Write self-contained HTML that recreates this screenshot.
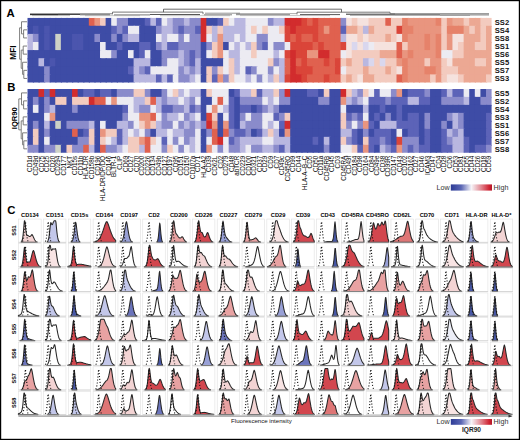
<!DOCTYPE html><html><head><meta charset="utf-8"><style>html,body{margin:0;padding:0;background:#fff;}body{width:520px;height:440px;overflow:hidden;}</style></head><body><svg width="520" height="440" viewBox="0 0 520 440" style="display:block">
<rect x="0" y="0" width="520" height="440" fill="#fff"/>
<defs><clipPath id="hc17"><rect x="27.3" y="17.7" width="464.30" height="64.80"/></clipPath></defs>
<g clip-path="url(#hc17)"><rect x="27.30" y="17.70" width="6.79" height="9.30" fill="#3e4ca6"/><rect x="32.89" y="17.70" width="6.79" height="9.30" fill="#3e4ca6"/><rect x="38.49" y="17.70" width="6.79" height="9.30" fill="#3e4ca6"/><rect x="44.08" y="17.70" width="6.79" height="9.30" fill="#3e4ca6"/><rect x="49.68" y="17.70" width="6.79" height="9.30" fill="#3e4ca6"/><rect x="55.27" y="17.70" width="6.79" height="9.30" fill="#3e4ca6"/><rect x="60.86" y="17.70" width="6.79" height="9.30" fill="#3e4ca6"/><rect x="66.46" y="17.70" width="6.79" height="9.30" fill="#3e4ca6"/><rect x="72.05" y="17.70" width="6.79" height="9.30" fill="#3e4ca6"/><rect x="77.65" y="17.70" width="6.79" height="9.30" fill="#3e4ca6"/><rect x="83.24" y="17.70" width="6.79" height="9.30" fill="#3e4ca6"/><rect x="88.83" y="17.70" width="6.79" height="9.30" fill="#e0614f"/><rect x="94.43" y="17.70" width="6.79" height="9.30" fill="#e9957f"/><rect x="100.02" y="17.70" width="6.79" height="9.30" fill="#f3cbbf"/><rect x="105.62" y="17.70" width="6.79" height="9.30" fill="#3e4ca6"/><rect x="111.21" y="17.70" width="6.79" height="9.30" fill="#ecebf2"/><rect x="116.80" y="17.70" width="6.79" height="9.30" fill="#8a8bcb"/><rect x="122.40" y="17.70" width="6.79" height="9.30" fill="#8a8bcb"/><rect x="127.99" y="17.70" width="6.79" height="9.30" fill="#3e4ca6"/><rect x="133.59" y="17.70" width="6.79" height="9.30" fill="#3e4ca6"/><rect x="139.18" y="17.70" width="6.79" height="9.30" fill="#3e4ca6"/><rect x="144.77" y="17.70" width="6.79" height="9.30" fill="#5c63b8"/><rect x="150.37" y="17.70" width="6.79" height="9.30" fill="#b9b7e0"/><rect x="155.96" y="17.70" width="6.79" height="9.30" fill="#5c63b8"/><rect x="161.56" y="17.70" width="6.79" height="9.30" fill="#ecebf2"/><rect x="167.15" y="17.70" width="6.79" height="9.30" fill="#b9b7e0"/><rect x="172.74" y="17.70" width="6.79" height="9.30" fill="#8a8bcb"/><rect x="178.34" y="17.70" width="6.79" height="9.30" fill="#8a8bcb"/><rect x="183.93" y="17.70" width="6.79" height="9.30" fill="#b9b7e0"/><rect x="189.53" y="17.70" width="6.79" height="9.30" fill="#8a8bcb"/><rect x="195.12" y="17.70" width="6.79" height="9.30" fill="#8a8bcb"/><rect x="200.71" y="17.70" width="6.79" height="9.30" fill="#d22c2d"/><rect x="206.31" y="17.70" width="6.79" height="9.30" fill="#3e4ca6"/><rect x="211.90" y="17.70" width="6.79" height="9.30" fill="#3e4ca6"/><rect x="217.50" y="17.70" width="6.79" height="9.30" fill="#5c63b8"/><rect x="223.09" y="17.70" width="6.79" height="9.30" fill="#f3cbbf"/><rect x="228.68" y="17.70" width="6.79" height="9.30" fill="#ecebf2"/><rect x="234.28" y="17.70" width="6.79" height="9.30" fill="#b9b7e0"/><rect x="239.87" y="17.70" width="6.79" height="9.30" fill="#b9b7e0"/><rect x="245.47" y="17.70" width="6.79" height="9.30" fill="#ecebf2"/><rect x="251.06" y="17.70" width="6.79" height="9.30" fill="#ecebf2"/><rect x="256.65" y="17.70" width="6.79" height="9.30" fill="#ecebf2"/><rect x="262.25" y="17.70" width="6.79" height="9.30" fill="#ecebf2"/><rect x="267.84" y="17.70" width="6.79" height="9.30" fill="#8a8bcb"/><rect x="273.44" y="17.70" width="6.79" height="9.30" fill="#b9b7e0"/><rect x="279.03" y="17.70" width="6.79" height="9.30" fill="#b9b7e0"/><rect x="284.62" y="17.70" width="6.79" height="9.30" fill="#d22c2d"/><rect x="290.22" y="17.70" width="6.79" height="9.30" fill="#d22c2d"/><rect x="295.81" y="17.70" width="6.79" height="9.30" fill="#d22c2d"/><rect x="301.41" y="17.70" width="6.79" height="9.30" fill="#da4539"/><rect x="307.00" y="17.70" width="6.79" height="9.30" fill="#e0614f"/><rect x="312.59" y="17.70" width="6.79" height="9.30" fill="#da4539"/><rect x="318.19" y="17.70" width="6.79" height="9.30" fill="#e0614f"/><rect x="323.78" y="17.70" width="6.79" height="9.30" fill="#e0614f"/><rect x="329.38" y="17.70" width="6.79" height="9.30" fill="#e0614f"/><rect x="334.97" y="17.70" width="6.79" height="9.30" fill="#e0614f"/><rect x="340.56" y="17.70" width="6.79" height="9.30" fill="#8a8bcb"/><rect x="346.16" y="17.70" width="6.79" height="9.30" fill="#f5e2de"/><rect x="351.75" y="17.70" width="6.79" height="9.30" fill="#f3cbbf"/><rect x="357.35" y="17.70" width="6.79" height="9.30" fill="#f5e2de"/><rect x="362.94" y="17.70" width="6.79" height="9.30" fill="#f5e2de"/><rect x="368.53" y="17.70" width="6.79" height="9.30" fill="#f3cbbf"/><rect x="374.13" y="17.70" width="6.79" height="9.30" fill="#f3cbbf"/><rect x="379.72" y="17.70" width="6.79" height="9.30" fill="#f3cbbf"/><rect x="385.32" y="17.70" width="6.79" height="9.30" fill="#e0614f"/><rect x="390.91" y="17.70" width="6.79" height="9.30" fill="#f3cbbf"/><rect x="396.50" y="17.70" width="6.79" height="9.30" fill="#f3cbbf"/><rect x="402.10" y="17.70" width="6.79" height="9.30" fill="#e6826a"/><rect x="407.69" y="17.70" width="6.79" height="9.30" fill="#e9957f"/><rect x="413.29" y="17.70" width="6.79" height="9.30" fill="#e9957f"/><rect x="418.88" y="17.70" width="6.79" height="9.30" fill="#e9957f"/><rect x="424.47" y="17.70" width="6.79" height="9.30" fill="#e9957f"/><rect x="430.07" y="17.70" width="6.79" height="9.30" fill="#e9957f"/><rect x="435.66" y="17.70" width="6.79" height="9.30" fill="#e6826a"/><rect x="441.26" y="17.70" width="6.79" height="9.30" fill="#f3cbbf"/><rect x="446.85" y="17.70" width="6.79" height="9.30" fill="#e9957f"/><rect x="452.44" y="17.70" width="6.79" height="9.30" fill="#eca893"/><rect x="458.04" y="17.70" width="6.79" height="9.30" fill="#eca893"/><rect x="463.63" y="17.70" width="6.79" height="9.30" fill="#f3cbbf"/><rect x="469.23" y="17.70" width="6.79" height="9.30" fill="#eca893"/><rect x="474.82" y="17.70" width="6.79" height="9.30" fill="#eca893"/><rect x="480.41" y="17.70" width="6.79" height="9.30" fill="#f3cbbf"/><rect x="486.01" y="17.70" width="6.79" height="9.30" fill="#f3cbbf"/><rect x="27.30" y="25.80" width="6.79" height="9.30" fill="#3e4ca6"/><rect x="32.89" y="25.80" width="6.79" height="9.30" fill="#4b55ae"/><rect x="38.49" y="25.80" width="6.79" height="9.30" fill="#3e4ca6"/><rect x="44.08" y="25.80" width="6.79" height="9.30" fill="#4b55ae"/><rect x="49.68" y="25.80" width="6.79" height="9.30" fill="#3e4ca6"/><rect x="55.27" y="25.80" width="6.79" height="9.30" fill="#3e4ca6"/><rect x="60.86" y="25.80" width="6.79" height="9.30" fill="#3e4ca6"/><rect x="66.46" y="25.80" width="6.79" height="9.30" fill="#3e4ca6"/><rect x="72.05" y="25.80" width="6.79" height="9.30" fill="#3e4ca6"/><rect x="77.65" y="25.80" width="6.79" height="9.30" fill="#3e4ca6"/><rect x="83.24" y="25.80" width="6.79" height="9.30" fill="#3e4ca6"/><rect x="88.83" y="25.80" width="6.79" height="9.30" fill="#3e4ca6"/><rect x="94.43" y="25.80" width="6.79" height="9.30" fill="#3e4ca6"/><rect x="100.02" y="25.80" width="6.79" height="9.30" fill="#3e4ca6"/><rect x="105.62" y="25.80" width="6.79" height="9.30" fill="#3e4ca6"/><rect x="111.21" y="25.80" width="6.79" height="9.30" fill="#5c63b8"/><rect x="116.80" y="25.80" width="6.79" height="9.30" fill="#8a8bcb"/><rect x="122.40" y="25.80" width="6.79" height="9.30" fill="#5c63b8"/><rect x="127.99" y="25.80" width="6.79" height="9.30" fill="#ecebf2"/><rect x="133.59" y="25.80" width="6.79" height="9.30" fill="#ecebf2"/><rect x="139.18" y="25.80" width="6.79" height="9.30" fill="#3e4ca6"/><rect x="144.77" y="25.80" width="6.79" height="9.30" fill="#3e4ca6"/><rect x="150.37" y="25.80" width="6.79" height="9.30" fill="#3e4ca6"/><rect x="155.96" y="25.80" width="6.79" height="9.30" fill="#8a8bcb"/><rect x="161.56" y="25.80" width="6.79" height="9.30" fill="#b9b7e0"/><rect x="167.15" y="25.80" width="6.79" height="9.30" fill="#b9b7e0"/><rect x="172.74" y="25.80" width="6.79" height="9.30" fill="#8a8bcb"/><rect x="178.34" y="25.80" width="6.79" height="9.30" fill="#5c63b8"/><rect x="183.93" y="25.80" width="6.79" height="9.30" fill="#8a8bcb"/><rect x="189.53" y="25.80" width="6.79" height="9.30" fill="#8a8bcb"/><rect x="195.12" y="25.80" width="6.79" height="9.30" fill="#5c63b8"/><rect x="200.71" y="25.80" width="6.79" height="9.30" fill="#d22c2d"/><rect x="206.31" y="25.80" width="6.79" height="9.30" fill="#f3cbbf"/><rect x="211.90" y="25.80" width="6.79" height="9.30" fill="#b9b7e0"/><rect x="217.50" y="25.80" width="6.79" height="9.30" fill="#f3cbbf"/><rect x="223.09" y="25.80" width="6.79" height="9.30" fill="#b9b7e0"/><rect x="228.68" y="25.80" width="6.79" height="9.30" fill="#b9b7e0"/><rect x="234.28" y="25.80" width="6.79" height="9.30" fill="#b9b7e0"/><rect x="239.87" y="25.80" width="6.79" height="9.30" fill="#b9b7e0"/><rect x="245.47" y="25.80" width="6.79" height="9.30" fill="#ecebf2"/><rect x="251.06" y="25.80" width="6.79" height="9.30" fill="#f3cbbf"/><rect x="256.65" y="25.80" width="6.79" height="9.30" fill="#ecebf2"/><rect x="262.25" y="25.80" width="6.79" height="9.30" fill="#f3cbbf"/><rect x="267.84" y="25.80" width="6.79" height="9.30" fill="#ecebf2"/><rect x="273.44" y="25.80" width="6.79" height="9.30" fill="#ecebf2"/><rect x="279.03" y="25.80" width="6.79" height="9.30" fill="#f3cbbf"/><rect x="284.62" y="25.80" width="6.79" height="9.30" fill="#da4539"/><rect x="290.22" y="25.80" width="6.79" height="9.30" fill="#d22c2d"/><rect x="295.81" y="25.80" width="6.79" height="9.30" fill="#da4539"/><rect x="301.41" y="25.80" width="6.79" height="9.30" fill="#da4539"/><rect x="307.00" y="25.80" width="6.79" height="9.30" fill="#da4539"/><rect x="312.59" y="25.80" width="6.79" height="9.30" fill="#da4539"/><rect x="318.19" y="25.80" width="6.79" height="9.30" fill="#e0614f"/><rect x="323.78" y="25.80" width="6.79" height="9.30" fill="#e9957f"/><rect x="329.38" y="25.80" width="6.79" height="9.30" fill="#e0614f"/><rect x="334.97" y="25.80" width="6.79" height="9.30" fill="#e0614f"/><rect x="340.56" y="25.80" width="6.79" height="9.30" fill="#5c63b8"/><rect x="346.16" y="25.80" width="6.79" height="9.30" fill="#eca893"/><rect x="351.75" y="25.80" width="6.79" height="9.30" fill="#eca893"/><rect x="357.35" y="25.80" width="6.79" height="9.30" fill="#f3cbbf"/><rect x="362.94" y="25.80" width="6.79" height="9.30" fill="#b9b7e0"/><rect x="368.53" y="25.80" width="6.79" height="9.30" fill="#eca893"/><rect x="374.13" y="25.80" width="6.79" height="9.30" fill="#f3cbbf"/><rect x="379.72" y="25.80" width="6.79" height="9.30" fill="#f3cbbf"/><rect x="385.32" y="25.80" width="6.79" height="9.30" fill="#f3cbbf"/><rect x="390.91" y="25.80" width="6.79" height="9.30" fill="#f3cbbf"/><rect x="396.50" y="25.80" width="6.79" height="9.30" fill="#da4539"/><rect x="402.10" y="25.80" width="6.79" height="9.30" fill="#e6826a"/><rect x="407.69" y="25.80" width="6.79" height="9.30" fill="#e6826a"/><rect x="413.29" y="25.80" width="6.79" height="9.30" fill="#e9957f"/><rect x="418.88" y="25.80" width="6.79" height="9.30" fill="#e9957f"/><rect x="424.47" y="25.80" width="6.79" height="9.30" fill="#e9957f"/><rect x="430.07" y="25.80" width="6.79" height="9.30" fill="#e9957f"/><rect x="435.66" y="25.80" width="6.79" height="9.30" fill="#e9957f"/><rect x="441.26" y="25.80" width="6.79" height="9.30" fill="#f3cbbf"/><rect x="446.85" y="25.80" width="6.79" height="9.30" fill="#e6826a"/><rect x="452.44" y="25.80" width="6.79" height="9.30" fill="#e6826a"/><rect x="458.04" y="25.80" width="6.79" height="9.30" fill="#e6826a"/><rect x="463.63" y="25.80" width="6.79" height="9.30" fill="#eca893"/><rect x="469.23" y="25.80" width="6.79" height="9.30" fill="#f3cbbf"/><rect x="474.82" y="25.80" width="6.79" height="9.30" fill="#eca893"/><rect x="480.41" y="25.80" width="6.79" height="9.30" fill="#f3cbbf"/><rect x="486.01" y="25.80" width="6.79" height="9.30" fill="#eca893"/><rect x="27.30" y="33.90" width="6.79" height="9.30" fill="#b9b7e0"/><rect x="32.89" y="33.90" width="6.79" height="9.30" fill="#8a8bcb"/><rect x="38.49" y="33.90" width="6.79" height="9.30" fill="#3e4ca6"/><rect x="44.08" y="33.90" width="6.79" height="9.30" fill="#4b55ae"/><rect x="49.68" y="33.90" width="6.79" height="9.30" fill="#3e4ca6"/><rect x="55.27" y="33.90" width="6.79" height="9.30" fill="#cdd2c6"/><rect x="60.86" y="33.90" width="6.79" height="9.30" fill="#3e4ca6"/><rect x="66.46" y="33.90" width="6.79" height="9.30" fill="#3e4ca6"/><rect x="72.05" y="33.90" width="6.79" height="9.30" fill="#4b55ae"/><rect x="77.65" y="33.90" width="6.79" height="9.30" fill="#4b55ae"/><rect x="83.24" y="33.90" width="6.79" height="9.30" fill="#3e4ca6"/><rect x="88.83" y="33.90" width="6.79" height="9.30" fill="#3e4ca6"/><rect x="94.43" y="33.90" width="6.79" height="9.30" fill="#8a8bcb"/><rect x="100.02" y="33.90" width="6.79" height="9.30" fill="#3e4ca6"/><rect x="105.62" y="33.90" width="6.79" height="9.30" fill="#3e4ca6"/><rect x="111.21" y="33.90" width="6.79" height="9.30" fill="#8a8bcb"/><rect x="116.80" y="33.90" width="6.79" height="9.30" fill="#3e4ca6"/><rect x="122.40" y="33.90" width="6.79" height="9.30" fill="#8a8bcb"/><rect x="127.99" y="33.90" width="6.79" height="9.30" fill="#b9b7e0"/><rect x="133.59" y="33.90" width="6.79" height="9.30" fill="#b9b7e0"/><rect x="139.18" y="33.90" width="6.79" height="9.30" fill="#3e4ca6"/><rect x="144.77" y="33.90" width="6.79" height="9.30" fill="#3e4ca6"/><rect x="150.37" y="33.90" width="6.79" height="9.30" fill="#3e4ca6"/><rect x="155.96" y="33.90" width="6.79" height="9.30" fill="#ecebf2"/><rect x="161.56" y="33.90" width="6.79" height="9.30" fill="#b9b7e0"/><rect x="167.15" y="33.90" width="6.79" height="9.30" fill="#ecebf2"/><rect x="172.74" y="33.90" width="6.79" height="9.30" fill="#ecebf2"/><rect x="178.34" y="33.90" width="6.79" height="9.30" fill="#8a8bcb"/><rect x="183.93" y="33.90" width="6.79" height="9.30" fill="#ecebf2"/><rect x="189.53" y="33.90" width="6.79" height="9.30" fill="#8a8bcb"/><rect x="195.12" y="33.90" width="6.79" height="9.30" fill="#8a8bcb"/><rect x="200.71" y="33.90" width="6.79" height="9.30" fill="#d22c2d"/><rect x="206.31" y="33.90" width="6.79" height="9.30" fill="#ecebf2"/><rect x="211.90" y="33.90" width="6.79" height="9.30" fill="#b9b7e0"/><rect x="217.50" y="33.90" width="6.79" height="9.30" fill="#e9957f"/><rect x="223.09" y="33.90" width="6.79" height="9.30" fill="#b9b7e0"/><rect x="228.68" y="33.90" width="6.79" height="9.30" fill="#b9b7e0"/><rect x="234.28" y="33.90" width="6.79" height="9.30" fill="#ecebf2"/><rect x="239.87" y="33.90" width="6.79" height="9.30" fill="#b9b7e0"/><rect x="245.47" y="33.90" width="6.79" height="9.30" fill="#ecebf2"/><rect x="251.06" y="33.90" width="6.79" height="9.30" fill="#ecebf2"/><rect x="256.65" y="33.90" width="6.79" height="9.30" fill="#8a8bcb"/><rect x="262.25" y="33.90" width="6.79" height="9.30" fill="#8a8bcb"/><rect x="267.84" y="33.90" width="6.79" height="9.30" fill="#ecebf2"/><rect x="273.44" y="33.90" width="6.79" height="9.30" fill="#ecebf2"/><rect x="279.03" y="33.90" width="6.79" height="9.30" fill="#ecebf2"/><rect x="284.62" y="33.90" width="6.79" height="9.30" fill="#da4539"/><rect x="290.22" y="33.90" width="6.79" height="9.30" fill="#e0614f"/><rect x="295.81" y="33.90" width="6.79" height="9.30" fill="#da4539"/><rect x="301.41" y="33.90" width="6.79" height="9.30" fill="#e0614f"/><rect x="307.00" y="33.90" width="6.79" height="9.30" fill="#e0614f"/><rect x="312.59" y="33.90" width="6.79" height="9.30" fill="#da4539"/><rect x="318.19" y="33.90" width="6.79" height="9.30" fill="#e0614f"/><rect x="323.78" y="33.90" width="6.79" height="9.30" fill="#e0614f"/><rect x="329.38" y="33.90" width="6.79" height="9.30" fill="#e0614f"/><rect x="334.97" y="33.90" width="6.79" height="9.30" fill="#e0614f"/><rect x="340.56" y="33.90" width="6.79" height="9.30" fill="#b9b7e0"/><rect x="346.16" y="33.90" width="6.79" height="9.30" fill="#f5e2de"/><rect x="351.75" y="33.90" width="6.79" height="9.30" fill="#f5e2de"/><rect x="357.35" y="33.90" width="6.79" height="9.30" fill="#f3cbbf"/><rect x="362.94" y="33.90" width="6.79" height="9.30" fill="#f5e2de"/><rect x="368.53" y="33.90" width="6.79" height="9.30" fill="#f3cbbf"/><rect x="374.13" y="33.90" width="6.79" height="9.30" fill="#f3cbbf"/><rect x="379.72" y="33.90" width="6.79" height="9.30" fill="#f3cbbf"/><rect x="385.32" y="33.90" width="6.79" height="9.30" fill="#eca893"/><rect x="390.91" y="33.90" width="6.79" height="9.30" fill="#f3cbbf"/><rect x="396.50" y="33.90" width="6.79" height="9.30" fill="#f5e2de"/><rect x="402.10" y="33.90" width="6.79" height="9.30" fill="#e6826a"/><rect x="407.69" y="33.90" width="6.79" height="9.30" fill="#e9957f"/><rect x="413.29" y="33.90" width="6.79" height="9.30" fill="#e9957f"/><rect x="418.88" y="33.90" width="6.79" height="9.30" fill="#e9957f"/><rect x="424.47" y="33.90" width="6.79" height="9.30" fill="#e6826a"/><rect x="430.07" y="33.90" width="6.79" height="9.30" fill="#e9957f"/><rect x="435.66" y="33.90" width="6.79" height="9.30" fill="#e6826a"/><rect x="441.26" y="33.90" width="6.79" height="9.30" fill="#f3cbbf"/><rect x="446.85" y="33.90" width="6.79" height="9.30" fill="#e9957f"/><rect x="452.44" y="33.90" width="6.79" height="9.30" fill="#f5e2de"/><rect x="458.04" y="33.90" width="6.79" height="9.30" fill="#f5e2de"/><rect x="463.63" y="33.90" width="6.79" height="9.30" fill="#eca893"/><rect x="469.23" y="33.90" width="6.79" height="9.30" fill="#eca893"/><rect x="474.82" y="33.90" width="6.79" height="9.30" fill="#eca893"/><rect x="480.41" y="33.90" width="6.79" height="9.30" fill="#f3cbbf"/><rect x="486.01" y="33.90" width="6.79" height="9.30" fill="#eca893"/><rect x="27.30" y="42.00" width="6.79" height="9.30" fill="#b9b7e0"/><rect x="32.89" y="42.00" width="6.79" height="9.30" fill="#ecebf2"/><rect x="38.49" y="42.00" width="6.79" height="9.30" fill="#3e4ca6"/><rect x="44.08" y="42.00" width="6.79" height="9.30" fill="#4b55ae"/><rect x="49.68" y="42.00" width="6.79" height="9.30" fill="#3e4ca6"/><rect x="55.27" y="42.00" width="6.79" height="9.30" fill="#cdd2c6"/><rect x="60.86" y="42.00" width="6.79" height="9.30" fill="#3e4ca6"/><rect x="66.46" y="42.00" width="6.79" height="9.30" fill="#3e4ca6"/><rect x="72.05" y="42.00" width="6.79" height="9.30" fill="#4b55ae"/><rect x="77.65" y="42.00" width="6.79" height="9.30" fill="#4b55ae"/><rect x="83.24" y="42.00" width="6.79" height="9.30" fill="#3e4ca6"/><rect x="88.83" y="42.00" width="6.79" height="9.30" fill="#3e4ca6"/><rect x="94.43" y="42.00" width="6.79" height="9.30" fill="#3e4ca6"/><rect x="100.02" y="42.00" width="6.79" height="9.30" fill="#ecebf2"/><rect x="105.62" y="42.00" width="6.79" height="9.30" fill="#3e4ca6"/><rect x="111.21" y="42.00" width="6.79" height="9.30" fill="#3e4ca6"/><rect x="116.80" y="42.00" width="6.79" height="9.30" fill="#5c63b8"/><rect x="122.40" y="42.00" width="6.79" height="9.30" fill="#3e4ca6"/><rect x="127.99" y="42.00" width="6.79" height="9.30" fill="#3e4ca6"/><rect x="133.59" y="42.00" width="6.79" height="9.30" fill="#3e4ca6"/><rect x="139.18" y="42.00" width="6.79" height="9.30" fill="#5c63b8"/><rect x="144.77" y="42.00" width="6.79" height="9.30" fill="#5c63b8"/><rect x="150.37" y="42.00" width="6.79" height="9.30" fill="#3e4ca6"/><rect x="155.96" y="42.00" width="6.79" height="9.30" fill="#8a8bcb"/><rect x="161.56" y="42.00" width="6.79" height="9.30" fill="#b9b7e0"/><rect x="167.15" y="42.00" width="6.79" height="9.30" fill="#5c63b8"/><rect x="172.74" y="42.00" width="6.79" height="9.30" fill="#5c63b8"/><rect x="178.34" y="42.00" width="6.79" height="9.30" fill="#8a8bcb"/><rect x="183.93" y="42.00" width="6.79" height="9.30" fill="#8a8bcb"/><rect x="189.53" y="42.00" width="6.79" height="9.30" fill="#8a8bcb"/><rect x="195.12" y="42.00" width="6.79" height="9.30" fill="#8a8bcb"/><rect x="200.71" y="42.00" width="6.79" height="9.30" fill="#3e4ca6"/><rect x="206.31" y="42.00" width="6.79" height="9.30" fill="#8a8bcb"/><rect x="211.90" y="42.00" width="6.79" height="9.30" fill="#f3cbbf"/><rect x="217.50" y="42.00" width="6.79" height="9.30" fill="#e9957f"/><rect x="223.09" y="42.00" width="6.79" height="9.30" fill="#3e4ca6"/><rect x="228.68" y="42.00" width="6.79" height="9.30" fill="#ecebf2"/><rect x="234.28" y="42.00" width="6.79" height="9.30" fill="#b9b7e0"/><rect x="239.87" y="42.00" width="6.79" height="9.30" fill="#ecebf2"/><rect x="245.47" y="42.00" width="6.79" height="9.30" fill="#b9b7e0"/><rect x="251.06" y="42.00" width="6.79" height="9.30" fill="#f3cbbf"/><rect x="256.65" y="42.00" width="6.79" height="9.30" fill="#8a8bcb"/><rect x="262.25" y="42.00" width="6.79" height="9.30" fill="#5c63b8"/><rect x="267.84" y="42.00" width="6.79" height="9.30" fill="#ecebf2"/><rect x="273.44" y="42.00" width="6.79" height="9.30" fill="#8a8bcb"/><rect x="279.03" y="42.00" width="6.79" height="9.30" fill="#8a8bcb"/><rect x="284.62" y="42.00" width="6.79" height="9.30" fill="#ecebf2"/><rect x="290.22" y="42.00" width="6.79" height="9.30" fill="#da4539"/><rect x="295.81" y="42.00" width="6.79" height="9.30" fill="#da4539"/><rect x="301.41" y="42.00" width="6.79" height="9.30" fill="#da4539"/><rect x="307.00" y="42.00" width="6.79" height="9.30" fill="#da4539"/><rect x="312.59" y="42.00" width="6.79" height="9.30" fill="#e0614f"/><rect x="318.19" y="42.00" width="6.79" height="9.30" fill="#da4539"/><rect x="323.78" y="42.00" width="6.79" height="9.30" fill="#e0614f"/><rect x="329.38" y="42.00" width="6.79" height="9.30" fill="#e0614f"/><rect x="334.97" y="42.00" width="6.79" height="9.30" fill="#e0614f"/><rect x="340.56" y="42.00" width="6.79" height="9.30" fill="#da4539"/><rect x="346.16" y="42.00" width="6.79" height="9.30" fill="#f5e2de"/><rect x="351.75" y="42.00" width="6.79" height="9.30" fill="#d9d7ee"/><rect x="357.35" y="42.00" width="6.79" height="9.30" fill="#f5e2de"/><rect x="362.94" y="42.00" width="6.79" height="9.30" fill="#d9d7ee"/><rect x="368.53" y="42.00" width="6.79" height="9.30" fill="#ecebf2"/><rect x="374.13" y="42.00" width="6.79" height="9.30" fill="#f5e2de"/><rect x="379.72" y="42.00" width="6.79" height="9.30" fill="#f5e2de"/><rect x="385.32" y="42.00" width="6.79" height="9.30" fill="#f5e2de"/><rect x="390.91" y="42.00" width="6.79" height="9.30" fill="#f5e2de"/><rect x="396.50" y="42.00" width="6.79" height="9.30" fill="#e0614f"/><rect x="402.10" y="42.00" width="6.79" height="9.30" fill="#f3cbbf"/><rect x="407.69" y="42.00" width="6.79" height="9.30" fill="#e9957f"/><rect x="413.29" y="42.00" width="6.79" height="9.30" fill="#e9957f"/><rect x="418.88" y="42.00" width="6.79" height="9.30" fill="#e9957f"/><rect x="424.47" y="42.00" width="6.79" height="9.30" fill="#e6826a"/><rect x="430.07" y="42.00" width="6.79" height="9.30" fill="#e9957f"/><rect x="435.66" y="42.00" width="6.79" height="9.30" fill="#e6826a"/><rect x="441.26" y="42.00" width="6.79" height="9.30" fill="#f3cbbf"/><rect x="446.85" y="42.00" width="6.79" height="9.30" fill="#e9957f"/><rect x="452.44" y="42.00" width="6.79" height="9.30" fill="#f5e2de"/><rect x="458.04" y="42.00" width="6.79" height="9.30" fill="#f3cbbf"/><rect x="463.63" y="42.00" width="6.79" height="9.30" fill="#eca893"/><rect x="469.23" y="42.00" width="6.79" height="9.30" fill="#eca893"/><rect x="474.82" y="42.00" width="6.79" height="9.30" fill="#f3cbbf"/><rect x="480.41" y="42.00" width="6.79" height="9.30" fill="#f3cbbf"/><rect x="486.01" y="42.00" width="6.79" height="9.30" fill="#eca893"/><rect x="27.30" y="50.10" width="6.79" height="9.30" fill="#3e4ca6"/><rect x="32.89" y="50.10" width="6.79" height="9.30" fill="#3e4ca6"/><rect x="38.49" y="50.10" width="6.79" height="9.30" fill="#3e4ca6"/><rect x="44.08" y="50.10" width="6.79" height="9.30" fill="#3e4ca6"/><rect x="49.68" y="50.10" width="6.79" height="9.30" fill="#3e4ca6"/><rect x="55.27" y="50.10" width="6.79" height="9.30" fill="#3e4ca6"/><rect x="60.86" y="50.10" width="6.79" height="9.30" fill="#3e4ca6"/><rect x="66.46" y="50.10" width="6.79" height="9.30" fill="#3e4ca6"/><rect x="72.05" y="50.10" width="6.79" height="9.30" fill="#3e4ca6"/><rect x="77.65" y="50.10" width="6.79" height="9.30" fill="#3e4ca6"/><rect x="83.24" y="50.10" width="6.79" height="9.30" fill="#3e4ca6"/><rect x="88.83" y="50.10" width="6.79" height="9.30" fill="#3e4ca6"/><rect x="94.43" y="50.10" width="6.79" height="9.30" fill="#3e4ca6"/><rect x="100.02" y="50.10" width="6.79" height="9.30" fill="#ecebf2"/><rect x="105.62" y="50.10" width="6.79" height="9.30" fill="#ecebf2"/><rect x="111.21" y="50.10" width="6.79" height="9.30" fill="#8a8bcb"/><rect x="116.80" y="50.10" width="6.79" height="9.30" fill="#3e4ca6"/><rect x="122.40" y="50.10" width="6.79" height="9.30" fill="#3e4ca6"/><rect x="127.99" y="50.10" width="6.79" height="9.30" fill="#ecebf2"/><rect x="133.59" y="50.10" width="6.79" height="9.30" fill="#3e4ca6"/><rect x="139.18" y="50.10" width="6.79" height="9.30" fill="#5c63b8"/><rect x="144.77" y="50.10" width="6.79" height="9.30" fill="#ecebf2"/><rect x="150.37" y="50.10" width="6.79" height="9.30" fill="#3e4ca6"/><rect x="155.96" y="50.10" width="6.79" height="9.30" fill="#3e4ca6"/><rect x="161.56" y="50.10" width="6.79" height="9.30" fill="#8a8bcb"/><rect x="167.15" y="50.10" width="6.79" height="9.30" fill="#8a8bcb"/><rect x="172.74" y="50.10" width="6.79" height="9.30" fill="#8a8bcb"/><rect x="178.34" y="50.10" width="6.79" height="9.30" fill="#b9b7e0"/><rect x="183.93" y="50.10" width="6.79" height="9.30" fill="#8a8bcb"/><rect x="189.53" y="50.10" width="6.79" height="9.30" fill="#5c63b8"/><rect x="195.12" y="50.10" width="6.79" height="9.30" fill="#8a8bcb"/><rect x="200.71" y="50.10" width="6.79" height="9.30" fill="#3e4ca6"/><rect x="206.31" y="50.10" width="6.79" height="9.30" fill="#ecebf2"/><rect x="211.90" y="50.10" width="6.79" height="9.30" fill="#f3cbbf"/><rect x="217.50" y="50.10" width="6.79" height="9.30" fill="#e9957f"/><rect x="223.09" y="50.10" width="6.79" height="9.30" fill="#ecebf2"/><rect x="228.68" y="50.10" width="6.79" height="9.30" fill="#b9b7e0"/><rect x="234.28" y="50.10" width="6.79" height="9.30" fill="#b9b7e0"/><rect x="239.87" y="50.10" width="6.79" height="9.30" fill="#ecebf2"/><rect x="245.47" y="50.10" width="6.79" height="9.30" fill="#ecebf2"/><rect x="251.06" y="50.10" width="6.79" height="9.30" fill="#f3cbbf"/><rect x="256.65" y="50.10" width="6.79" height="9.30" fill="#ecebf2"/><rect x="262.25" y="50.10" width="6.79" height="9.30" fill="#ecebf2"/><rect x="267.84" y="50.10" width="6.79" height="9.30" fill="#ecebf2"/><rect x="273.44" y="50.10" width="6.79" height="9.30" fill="#b9b7e0"/><rect x="279.03" y="50.10" width="6.79" height="9.30" fill="#ecebf2"/><rect x="284.62" y="50.10" width="6.79" height="9.30" fill="#da4539"/><rect x="290.22" y="50.10" width="6.79" height="9.30" fill="#d22c2d"/><rect x="295.81" y="50.10" width="6.79" height="9.30" fill="#da4539"/><rect x="301.41" y="50.10" width="6.79" height="9.30" fill="#da4539"/><rect x="307.00" y="50.10" width="6.79" height="9.30" fill="#e9957f"/><rect x="312.59" y="50.10" width="6.79" height="9.30" fill="#e9957f"/><rect x="318.19" y="50.10" width="6.79" height="9.30" fill="#d22c2d"/><rect x="323.78" y="50.10" width="6.79" height="9.30" fill="#d22c2d"/><rect x="329.38" y="50.10" width="6.79" height="9.30" fill="#e0614f"/><rect x="334.97" y="50.10" width="6.79" height="9.30" fill="#e0614f"/><rect x="340.56" y="50.10" width="6.79" height="9.30" fill="#ecebf2"/><rect x="346.16" y="50.10" width="6.79" height="9.30" fill="#f5e2de"/><rect x="351.75" y="50.10" width="6.79" height="9.30" fill="#f3cbbf"/><rect x="357.35" y="50.10" width="6.79" height="9.30" fill="#f3cbbf"/><rect x="362.94" y="50.10" width="6.79" height="9.30" fill="#f3cbbf"/><rect x="368.53" y="50.10" width="6.79" height="9.30" fill="#f3cbbf"/><rect x="374.13" y="50.10" width="6.79" height="9.30" fill="#f3cbbf"/><rect x="379.72" y="50.10" width="6.79" height="9.30" fill="#eca893"/><rect x="385.32" y="50.10" width="6.79" height="9.30" fill="#eca893"/><rect x="390.91" y="50.10" width="6.79" height="9.30" fill="#eca893"/><rect x="396.50" y="50.10" width="6.79" height="9.30" fill="#e0614f"/><rect x="402.10" y="50.10" width="6.79" height="9.30" fill="#e9957f"/><rect x="407.69" y="50.10" width="6.79" height="9.30" fill="#e6826a"/><rect x="413.29" y="50.10" width="6.79" height="9.30" fill="#e9957f"/><rect x="418.88" y="50.10" width="6.79" height="9.30" fill="#e9957f"/><rect x="424.47" y="50.10" width="6.79" height="9.30" fill="#e9957f"/><rect x="430.07" y="50.10" width="6.79" height="9.30" fill="#e9957f"/><rect x="435.66" y="50.10" width="6.79" height="9.30" fill="#e6826a"/><rect x="441.26" y="50.10" width="6.79" height="9.30" fill="#ecebf2"/><rect x="446.85" y="50.10" width="6.79" height="9.30" fill="#ecebf2"/><rect x="452.44" y="50.10" width="6.79" height="9.30" fill="#f3cbbf"/><rect x="458.04" y="50.10" width="6.79" height="9.30" fill="#f3cbbf"/><rect x="463.63" y="50.10" width="6.79" height="9.30" fill="#eca893"/><rect x="469.23" y="50.10" width="6.79" height="9.30" fill="#eca893"/><rect x="474.82" y="50.10" width="6.79" height="9.30" fill="#eca893"/><rect x="480.41" y="50.10" width="6.79" height="9.30" fill="#eca893"/><rect x="486.01" y="50.10" width="6.79" height="9.30" fill="#eca893"/><rect x="27.30" y="58.20" width="6.79" height="9.30" fill="#3e4ca6"/><rect x="32.89" y="58.20" width="6.79" height="9.30" fill="#3e4ca6"/><rect x="38.49" y="58.20" width="6.79" height="9.30" fill="#b9b7e0"/><rect x="44.08" y="58.20" width="6.79" height="9.30" fill="#3e4ca6"/><rect x="49.68" y="58.20" width="6.79" height="9.30" fill="#4b55ae"/><rect x="55.27" y="58.20" width="6.79" height="9.30" fill="#3e4ca6"/><rect x="60.86" y="58.20" width="6.79" height="9.30" fill="#3e4ca6"/><rect x="66.46" y="58.20" width="6.79" height="9.30" fill="#3e4ca6"/><rect x="72.05" y="58.20" width="6.79" height="9.30" fill="#3e4ca6"/><rect x="77.65" y="58.20" width="6.79" height="9.30" fill="#3e4ca6"/><rect x="83.24" y="58.20" width="6.79" height="9.30" fill="#3e4ca6"/><rect x="88.83" y="58.20" width="6.79" height="9.30" fill="#3e4ca6"/><rect x="94.43" y="58.20" width="6.79" height="9.30" fill="#3e4ca6"/><rect x="100.02" y="58.20" width="6.79" height="9.30" fill="#3e4ca6"/><rect x="105.62" y="58.20" width="6.79" height="9.30" fill="#3e4ca6"/><rect x="111.21" y="58.20" width="6.79" height="9.30" fill="#3e4ca6"/><rect x="116.80" y="58.20" width="6.79" height="9.30" fill="#3e4ca6"/><rect x="122.40" y="58.20" width="6.79" height="9.30" fill="#3e4ca6"/><rect x="127.99" y="58.20" width="6.79" height="9.30" fill="#3e4ca6"/><rect x="133.59" y="58.20" width="6.79" height="9.30" fill="#b9b7e0"/><rect x="139.18" y="58.20" width="6.79" height="9.30" fill="#b9b7e0"/><rect x="144.77" y="58.20" width="6.79" height="9.30" fill="#b9b7e0"/><rect x="150.37" y="58.20" width="6.79" height="9.30" fill="#3e4ca6"/><rect x="155.96" y="58.20" width="6.79" height="9.30" fill="#3e4ca6"/><rect x="161.56" y="58.20" width="6.79" height="9.30" fill="#8a8bcb"/><rect x="167.15" y="58.20" width="6.79" height="9.30" fill="#ecebf2"/><rect x="172.74" y="58.20" width="6.79" height="9.30" fill="#ecebf2"/><rect x="178.34" y="58.20" width="6.79" height="9.30" fill="#b9b7e0"/><rect x="183.93" y="58.20" width="6.79" height="9.30" fill="#8a8bcb"/><rect x="189.53" y="58.20" width="6.79" height="9.30" fill="#5c63b8"/><rect x="195.12" y="58.20" width="6.79" height="9.30" fill="#b9b7e0"/><rect x="200.71" y="58.20" width="6.79" height="9.30" fill="#3e4ca6"/><rect x="206.31" y="58.20" width="6.79" height="9.30" fill="#3e4ca6"/><rect x="211.90" y="58.20" width="6.79" height="9.30" fill="#3e4ca6"/><rect x="217.50" y="58.20" width="6.79" height="9.30" fill="#3e4ca6"/><rect x="223.09" y="58.20" width="6.79" height="9.30" fill="#ecebf2"/><rect x="228.68" y="58.20" width="6.79" height="9.30" fill="#f3cbbf"/><rect x="234.28" y="58.20" width="6.79" height="9.30" fill="#b9b7e0"/><rect x="239.87" y="58.20" width="6.79" height="9.30" fill="#ecebf2"/><rect x="245.47" y="58.20" width="6.79" height="9.30" fill="#ecebf2"/><rect x="251.06" y="58.20" width="6.79" height="9.30" fill="#ecebf2"/><rect x="256.65" y="58.20" width="6.79" height="9.30" fill="#ecebf2"/><rect x="262.25" y="58.20" width="6.79" height="9.30" fill="#ecebf2"/><rect x="267.84" y="58.20" width="6.79" height="9.30" fill="#f3cbbf"/><rect x="273.44" y="58.20" width="6.79" height="9.30" fill="#8a8bcb"/><rect x="279.03" y="58.20" width="6.79" height="9.30" fill="#b9b7e0"/><rect x="284.62" y="58.20" width="6.79" height="9.30" fill="#e0614f"/><rect x="290.22" y="58.20" width="6.79" height="9.30" fill="#d22c2d"/><rect x="295.81" y="58.20" width="6.79" height="9.30" fill="#e0614f"/><rect x="301.41" y="58.20" width="6.79" height="9.30" fill="#da4539"/><rect x="307.00" y="58.20" width="6.79" height="9.30" fill="#e0614f"/><rect x="312.59" y="58.20" width="6.79" height="9.30" fill="#e0614f"/><rect x="318.19" y="58.20" width="6.79" height="9.30" fill="#e0614f"/><rect x="323.78" y="58.20" width="6.79" height="9.30" fill="#da4539"/><rect x="329.38" y="58.20" width="6.79" height="9.30" fill="#e0614f"/><rect x="334.97" y="58.20" width="6.79" height="9.30" fill="#da4539"/><rect x="340.56" y="58.20" width="6.79" height="9.30" fill="#f3cbbf"/><rect x="346.16" y="58.20" width="6.79" height="9.30" fill="#eca893"/><rect x="351.75" y="58.20" width="6.79" height="9.30" fill="#f3cbbf"/><rect x="357.35" y="58.20" width="6.79" height="9.30" fill="#f3cbbf"/><rect x="362.94" y="58.20" width="6.79" height="9.30" fill="#b9b7e0"/><rect x="368.53" y="58.20" width="6.79" height="9.30" fill="#d9d7ee"/><rect x="374.13" y="58.20" width="6.79" height="9.30" fill="#f3cbbf"/><rect x="379.72" y="58.20" width="6.79" height="9.30" fill="#d9d7ee"/><rect x="385.32" y="58.20" width="6.79" height="9.30" fill="#f3cbbf"/><rect x="390.91" y="58.20" width="6.79" height="9.30" fill="#f3cbbf"/><rect x="396.50" y="58.20" width="6.79" height="9.30" fill="#e9957f"/><rect x="402.10" y="58.20" width="6.79" height="9.30" fill="#e6826a"/><rect x="407.69" y="58.20" width="6.79" height="9.30" fill="#e9957f"/><rect x="413.29" y="58.20" width="6.79" height="9.30" fill="#e9957f"/><rect x="418.88" y="58.20" width="6.79" height="9.30" fill="#e9957f"/><rect x="424.47" y="58.20" width="6.79" height="9.30" fill="#f3cbbf"/><rect x="430.07" y="58.20" width="6.79" height="9.30" fill="#e9957f"/><rect x="435.66" y="58.20" width="6.79" height="9.30" fill="#e9957f"/><rect x="441.26" y="58.20" width="6.79" height="9.30" fill="#f3cbbf"/><rect x="446.85" y="58.20" width="6.79" height="9.30" fill="#f5e2de"/><rect x="452.44" y="58.20" width="6.79" height="9.30" fill="#eca893"/><rect x="458.04" y="58.20" width="6.79" height="9.30" fill="#eca893"/><rect x="463.63" y="58.20" width="6.79" height="9.30" fill="#eca893"/><rect x="469.23" y="58.20" width="6.79" height="9.30" fill="#eca893"/><rect x="474.82" y="58.20" width="6.79" height="9.30" fill="#f3cbbf"/><rect x="480.41" y="58.20" width="6.79" height="9.30" fill="#f3cbbf"/><rect x="486.01" y="58.20" width="6.79" height="9.30" fill="#eca893"/><rect x="27.30" y="66.30" width="6.79" height="9.30" fill="#3e4ca6"/><rect x="32.89" y="66.30" width="6.79" height="9.30" fill="#3e4ca6"/><rect x="38.49" y="66.30" width="6.79" height="9.30" fill="#3e4ca6"/><rect x="44.08" y="66.30" width="6.79" height="9.30" fill="#8a8bcb"/><rect x="49.68" y="66.30" width="6.79" height="9.30" fill="#3e4ca6"/><rect x="55.27" y="66.30" width="6.79" height="9.30" fill="#3e4ca6"/><rect x="60.86" y="66.30" width="6.79" height="9.30" fill="#3e4ca6"/><rect x="66.46" y="66.30" width="6.79" height="9.30" fill="#3e4ca6"/><rect x="72.05" y="66.30" width="6.79" height="9.30" fill="#3e4ca6"/><rect x="77.65" y="66.30" width="6.79" height="9.30" fill="#3e4ca6"/><rect x="83.24" y="66.30" width="6.79" height="9.30" fill="#3e4ca6"/><rect x="88.83" y="66.30" width="6.79" height="9.30" fill="#3e4ca6"/><rect x="94.43" y="66.30" width="6.79" height="9.30" fill="#3e4ca6"/><rect x="100.02" y="66.30" width="6.79" height="9.30" fill="#3e4ca6"/><rect x="105.62" y="66.30" width="6.79" height="9.30" fill="#3e4ca6"/><rect x="111.21" y="66.30" width="6.79" height="9.30" fill="#3e4ca6"/><rect x="116.80" y="66.30" width="6.79" height="9.30" fill="#3e4ca6"/><rect x="122.40" y="66.30" width="6.79" height="9.30" fill="#3e4ca6"/><rect x="127.99" y="66.30" width="6.79" height="9.30" fill="#5c63b8"/><rect x="133.59" y="66.30" width="6.79" height="9.30" fill="#b9b7e0"/><rect x="139.18" y="66.30" width="6.79" height="9.30" fill="#8a8bcb"/><rect x="144.77" y="66.30" width="6.79" height="9.30" fill="#5c63b8"/><rect x="150.37" y="66.30" width="6.79" height="9.30" fill="#ecebf2"/><rect x="155.96" y="66.30" width="6.79" height="9.30" fill="#ecebf2"/><rect x="161.56" y="66.30" width="6.79" height="9.30" fill="#ecebf2"/><rect x="167.15" y="66.30" width="6.79" height="9.30" fill="#ecebf2"/><rect x="172.74" y="66.30" width="6.79" height="9.30" fill="#ecebf2"/><rect x="178.34" y="66.30" width="6.79" height="9.30" fill="#8a8bcb"/><rect x="183.93" y="66.30" width="6.79" height="9.30" fill="#b9b7e0"/><rect x="189.53" y="66.30" width="6.79" height="9.30" fill="#8a8bcb"/><rect x="195.12" y="66.30" width="6.79" height="9.30" fill="#b9b7e0"/><rect x="200.71" y="66.30" width="6.79" height="9.30" fill="#3e4ca6"/><rect x="206.31" y="66.30" width="6.79" height="9.30" fill="#f3cbbf"/><rect x="211.90" y="66.30" width="6.79" height="9.30" fill="#8a8bcb"/><rect x="217.50" y="66.30" width="6.79" height="9.30" fill="#f3cbbf"/><rect x="223.09" y="66.30" width="6.79" height="9.30" fill="#ecebf2"/><rect x="228.68" y="66.30" width="6.79" height="9.30" fill="#f3cbbf"/><rect x="234.28" y="66.30" width="6.79" height="9.30" fill="#b9b7e0"/><rect x="239.87" y="66.30" width="6.79" height="9.30" fill="#ecebf2"/><rect x="245.47" y="66.30" width="6.79" height="9.30" fill="#5c63b8"/><rect x="251.06" y="66.30" width="6.79" height="9.30" fill="#8a8bcb"/><rect x="256.65" y="66.30" width="6.79" height="9.30" fill="#ecebf2"/><rect x="262.25" y="66.30" width="6.79" height="9.30" fill="#ecebf2"/><rect x="267.84" y="66.30" width="6.79" height="9.30" fill="#8a8bcb"/><rect x="273.44" y="66.30" width="6.79" height="9.30" fill="#ecebf2"/><rect x="279.03" y="66.30" width="6.79" height="9.30" fill="#b9b7e0"/><rect x="284.62" y="66.30" width="6.79" height="9.30" fill="#e0614f"/><rect x="290.22" y="66.30" width="6.79" height="9.30" fill="#d22c2d"/><rect x="295.81" y="66.30" width="6.79" height="9.30" fill="#da4539"/><rect x="301.41" y="66.30" width="6.79" height="9.30" fill="#da4539"/><rect x="307.00" y="66.30" width="6.79" height="9.30" fill="#da4539"/><rect x="312.59" y="66.30" width="6.79" height="9.30" fill="#e0614f"/><rect x="318.19" y="66.30" width="6.79" height="9.30" fill="#e0614f"/><rect x="323.78" y="66.30" width="6.79" height="9.30" fill="#e0614f"/><rect x="329.38" y="66.30" width="6.79" height="9.30" fill="#e0614f"/><rect x="334.97" y="66.30" width="6.79" height="9.30" fill="#da4539"/><rect x="340.56" y="66.30" width="6.79" height="9.30" fill="#ecebf2"/><rect x="346.16" y="66.30" width="6.79" height="9.30" fill="#f3cbbf"/><rect x="351.75" y="66.30" width="6.79" height="9.30" fill="#f3cbbf"/><rect x="357.35" y="66.30" width="6.79" height="9.30" fill="#f3cbbf"/><rect x="362.94" y="66.30" width="6.79" height="9.30" fill="#eca893"/><rect x="368.53" y="66.30" width="6.79" height="9.30" fill="#f3cbbf"/><rect x="374.13" y="66.30" width="6.79" height="9.30" fill="#f3cbbf"/><rect x="379.72" y="66.30" width="6.79" height="9.30" fill="#f3cbbf"/><rect x="385.32" y="66.30" width="6.79" height="9.30" fill="#eca893"/><rect x="390.91" y="66.30" width="6.79" height="9.30" fill="#f3cbbf"/><rect x="396.50" y="66.30" width="6.79" height="9.30" fill="#f5e2de"/><rect x="402.10" y="66.30" width="6.79" height="9.30" fill="#e6826a"/><rect x="407.69" y="66.30" width="6.79" height="9.30" fill="#e9957f"/><rect x="413.29" y="66.30" width="6.79" height="9.30" fill="#e9957f"/><rect x="418.88" y="66.30" width="6.79" height="9.30" fill="#e9957f"/><rect x="424.47" y="66.30" width="6.79" height="9.30" fill="#e6826a"/><rect x="430.07" y="66.30" width="6.79" height="9.30" fill="#e6826a"/><rect x="435.66" y="66.30" width="6.79" height="9.30" fill="#e9957f"/><rect x="441.26" y="66.30" width="6.79" height="9.30" fill="#f3cbbf"/><rect x="446.85" y="66.30" width="6.79" height="9.30" fill="#f3cbbf"/><rect x="452.44" y="66.30" width="6.79" height="9.30" fill="#f3cbbf"/><rect x="458.04" y="66.30" width="6.79" height="9.30" fill="#eca893"/><rect x="463.63" y="66.30" width="6.79" height="9.30" fill="#eca893"/><rect x="469.23" y="66.30" width="6.79" height="9.30" fill="#eca893"/><rect x="474.82" y="66.30" width="6.79" height="9.30" fill="#eca893"/><rect x="480.41" y="66.30" width="6.79" height="9.30" fill="#eca893"/><rect x="486.01" y="66.30" width="6.79" height="9.30" fill="#eca893"/><rect x="27.30" y="74.40" width="6.79" height="9.30" fill="#3e4ca6"/><rect x="32.89" y="74.40" width="6.79" height="9.30" fill="#3e4ca6"/><rect x="38.49" y="74.40" width="6.79" height="9.30" fill="#3e4ca6"/><rect x="44.08" y="74.40" width="6.79" height="9.30" fill="#8a8bcb"/><rect x="49.68" y="74.40" width="6.79" height="9.30" fill="#3e4ca6"/><rect x="55.27" y="74.40" width="6.79" height="9.30" fill="#3e4ca6"/><rect x="60.86" y="74.40" width="6.79" height="9.30" fill="#3e4ca6"/><rect x="66.46" y="74.40" width="6.79" height="9.30" fill="#3e4ca6"/><rect x="72.05" y="74.40" width="6.79" height="9.30" fill="#3e4ca6"/><rect x="77.65" y="74.40" width="6.79" height="9.30" fill="#3e4ca6"/><rect x="83.24" y="74.40" width="6.79" height="9.30" fill="#3e4ca6"/><rect x="88.83" y="74.40" width="6.79" height="9.30" fill="#3e4ca6"/><rect x="94.43" y="74.40" width="6.79" height="9.30" fill="#3e4ca6"/><rect x="100.02" y="74.40" width="6.79" height="9.30" fill="#3e4ca6"/><rect x="105.62" y="74.40" width="6.79" height="9.30" fill="#3e4ca6"/><rect x="111.21" y="74.40" width="6.79" height="9.30" fill="#3e4ca6"/><rect x="116.80" y="74.40" width="6.79" height="9.30" fill="#3e4ca6"/><rect x="122.40" y="74.40" width="6.79" height="9.30" fill="#3e4ca6"/><rect x="127.99" y="74.40" width="6.79" height="9.30" fill="#3e4ca6"/><rect x="133.59" y="74.40" width="6.79" height="9.30" fill="#b9b7e0"/><rect x="139.18" y="74.40" width="6.79" height="9.30" fill="#b9b7e0"/><rect x="144.77" y="74.40" width="6.79" height="9.30" fill="#b9b7e0"/><rect x="150.37" y="74.40" width="6.79" height="9.30" fill="#b9b7e0"/><rect x="155.96" y="74.40" width="6.79" height="9.30" fill="#5c63b8"/><rect x="161.56" y="74.40" width="6.79" height="9.30" fill="#b9b7e0"/><rect x="167.15" y="74.40" width="6.79" height="9.30" fill="#5c63b8"/><rect x="172.74" y="74.40" width="6.79" height="9.30" fill="#ecebf2"/><rect x="178.34" y="74.40" width="6.79" height="9.30" fill="#8a8bcb"/><rect x="183.93" y="74.40" width="6.79" height="9.30" fill="#8a8bcb"/><rect x="189.53" y="74.40" width="6.79" height="9.30" fill="#b9b7e0"/><rect x="195.12" y="74.40" width="6.79" height="9.30" fill="#ecebf2"/><rect x="200.71" y="74.40" width="6.79" height="9.30" fill="#3e4ca6"/><rect x="206.31" y="74.40" width="6.79" height="9.30" fill="#f3cbbf"/><rect x="211.90" y="74.40" width="6.79" height="9.30" fill="#5c63b8"/><rect x="217.50" y="74.40" width="6.79" height="9.30" fill="#e9957f"/><rect x="223.09" y="74.40" width="6.79" height="9.30" fill="#8a8bcb"/><rect x="228.68" y="74.40" width="6.79" height="9.30" fill="#f3cbbf"/><rect x="234.28" y="74.40" width="6.79" height="9.30" fill="#ecebf2"/><rect x="239.87" y="74.40" width="6.79" height="9.30" fill="#ecebf2"/><rect x="245.47" y="74.40" width="6.79" height="9.30" fill="#b9b7e0"/><rect x="251.06" y="74.40" width="6.79" height="9.30" fill="#ecebf2"/><rect x="256.65" y="74.40" width="6.79" height="9.30" fill="#8a8bcb"/><rect x="262.25" y="74.40" width="6.79" height="9.30" fill="#ecebf2"/><rect x="267.84" y="74.40" width="6.79" height="9.30" fill="#b9b7e0"/><rect x="273.44" y="74.40" width="6.79" height="9.30" fill="#f3cbbf"/><rect x="279.03" y="74.40" width="6.79" height="9.30" fill="#b9b7e0"/><rect x="284.62" y="74.40" width="6.79" height="9.30" fill="#da4539"/><rect x="290.22" y="74.40" width="6.79" height="9.30" fill="#d22c2d"/><rect x="295.81" y="74.40" width="6.79" height="9.30" fill="#d22c2d"/><rect x="301.41" y="74.40" width="6.79" height="9.30" fill="#da4539"/><rect x="307.00" y="74.40" width="6.79" height="9.30" fill="#e0614f"/><rect x="312.59" y="74.40" width="6.79" height="9.30" fill="#e0614f"/><rect x="318.19" y="74.40" width="6.79" height="9.30" fill="#e0614f"/><rect x="323.78" y="74.40" width="6.79" height="9.30" fill="#da4539"/><rect x="329.38" y="74.40" width="6.79" height="9.30" fill="#e0614f"/><rect x="334.97" y="74.40" width="6.79" height="9.30" fill="#e0614f"/><rect x="340.56" y="74.40" width="6.79" height="9.30" fill="#f3cbbf"/><rect x="346.16" y="74.40" width="6.79" height="9.30" fill="#eca893"/><rect x="351.75" y="74.40" width="6.79" height="9.30" fill="#f3cbbf"/><rect x="357.35" y="74.40" width="6.79" height="9.30" fill="#f5e2de"/><rect x="362.94" y="74.40" width="6.79" height="9.30" fill="#eca893"/><rect x="368.53" y="74.40" width="6.79" height="9.30" fill="#eca893"/><rect x="374.13" y="74.40" width="6.79" height="9.30" fill="#f3cbbf"/><rect x="379.72" y="74.40" width="6.79" height="9.30" fill="#f3cbbf"/><rect x="385.32" y="74.40" width="6.79" height="9.30" fill="#f3cbbf"/><rect x="390.91" y="74.40" width="6.79" height="9.30" fill="#f3cbbf"/><rect x="396.50" y="74.40" width="6.79" height="9.30" fill="#e0614f"/><rect x="402.10" y="74.40" width="6.79" height="9.30" fill="#e6826a"/><rect x="407.69" y="74.40" width="6.79" height="9.30" fill="#e9957f"/><rect x="413.29" y="74.40" width="6.79" height="9.30" fill="#e9957f"/><rect x="418.88" y="74.40" width="6.79" height="9.30" fill="#e9957f"/><rect x="424.47" y="74.40" width="6.79" height="9.30" fill="#e9957f"/><rect x="430.07" y="74.40" width="6.79" height="9.30" fill="#f3cbbf"/><rect x="435.66" y="74.40" width="6.79" height="9.30" fill="#e9957f"/><rect x="441.26" y="74.40" width="6.79" height="9.30" fill="#f3cbbf"/><rect x="446.85" y="74.40" width="6.79" height="9.30" fill="#f5e2de"/><rect x="452.44" y="74.40" width="6.79" height="9.30" fill="#f5e2de"/><rect x="458.04" y="74.40" width="6.79" height="9.30" fill="#f3cbbf"/><rect x="463.63" y="74.40" width="6.79" height="9.30" fill="#eca893"/><rect x="469.23" y="74.40" width="6.79" height="9.30" fill="#eca893"/><rect x="474.82" y="74.40" width="6.79" height="9.30" fill="#eca893"/><rect x="480.41" y="74.40" width="6.79" height="9.30" fill="#eca893"/><rect x="486.01" y="74.40" width="6.79" height="9.30" fill="#f3cbbf"/></g>
<defs><clipPath id="hc88"><rect x="27.3" y="88.9" width="464.30" height="63.92"/></clipPath></defs>
<g clip-path="url(#hc88)"><rect x="27.30" y="88.90" width="6.79" height="9.19" fill="#3e4ca6"/><rect x="32.89" y="88.90" width="6.79" height="9.19" fill="#3e4ca6"/><rect x="38.49" y="88.90" width="6.79" height="9.19" fill="#d22c2d"/><rect x="44.08" y="88.90" width="6.79" height="9.19" fill="#5c63b8"/><rect x="49.68" y="88.90" width="6.79" height="9.19" fill="#d22c2d"/><rect x="55.27" y="88.90" width="6.79" height="9.19" fill="#3e4ca6"/><rect x="60.86" y="88.90" width="6.79" height="9.19" fill="#3e4ca6"/><rect x="66.46" y="88.90" width="6.79" height="9.19" fill="#3e4ca6"/><rect x="72.05" y="88.90" width="6.79" height="9.19" fill="#d22c2d"/><rect x="77.65" y="88.90" width="6.79" height="9.19" fill="#3e4ca6"/><rect x="83.24" y="88.90" width="6.79" height="9.19" fill="#5c63b8"/><rect x="88.83" y="88.90" width="6.79" height="9.19" fill="#5c63b8"/><rect x="94.43" y="88.90" width="6.79" height="9.19" fill="#3e4ca6"/><rect x="100.02" y="88.90" width="6.79" height="9.19" fill="#5c63b8"/><rect x="105.62" y="88.90" width="6.79" height="9.19" fill="#5c63b8"/><rect x="111.21" y="88.90" width="6.79" height="9.19" fill="#3e4ca6"/><rect x="116.80" y="88.90" width="6.79" height="9.19" fill="#8a8bcb"/><rect x="122.40" y="88.90" width="6.79" height="9.19" fill="#8a8bcb"/><rect x="127.99" y="88.90" width="6.79" height="9.19" fill="#8a8bcb"/><rect x="133.59" y="88.90" width="6.79" height="9.19" fill="#f3cbbf"/><rect x="139.18" y="88.90" width="6.79" height="9.19" fill="#f3cbbf"/><rect x="144.77" y="88.90" width="6.79" height="9.19" fill="#8a8bcb"/><rect x="150.37" y="88.90" width="6.79" height="9.19" fill="#3e4ca6"/><rect x="155.96" y="88.90" width="6.79" height="9.19" fill="#3e4ca6"/><rect x="161.56" y="88.90" width="6.79" height="9.19" fill="#8a8bcb"/><rect x="167.15" y="88.90" width="6.79" height="9.19" fill="#ecebf2"/><rect x="172.74" y="88.90" width="6.79" height="9.19" fill="#f3cbbf"/><rect x="178.34" y="88.90" width="6.79" height="9.19" fill="#b9b7e0"/><rect x="183.93" y="88.90" width="6.79" height="9.19" fill="#ecebf2"/><rect x="189.53" y="88.90" width="6.79" height="9.19" fill="#b9b7e0"/><rect x="195.12" y="88.90" width="6.79" height="9.19" fill="#b9b7e0"/><rect x="200.71" y="88.90" width="6.79" height="9.19" fill="#3e4ca6"/><rect x="206.31" y="88.90" width="6.79" height="9.19" fill="#f3cbbf"/><rect x="211.90" y="88.90" width="6.79" height="9.19" fill="#ecebf2"/><rect x="217.50" y="88.90" width="6.79" height="9.19" fill="#ecebf2"/><rect x="223.09" y="88.90" width="6.79" height="9.19" fill="#ecebf2"/><rect x="228.68" y="88.90" width="6.79" height="9.19" fill="#3e4ca6"/><rect x="234.28" y="88.90" width="6.79" height="9.19" fill="#5c63b8"/><rect x="239.87" y="88.90" width="6.79" height="9.19" fill="#b9b7e0"/><rect x="245.47" y="88.90" width="6.79" height="9.19" fill="#b9b7e0"/><rect x="251.06" y="88.90" width="6.79" height="9.19" fill="#f3cbbf"/><rect x="256.65" y="88.90" width="6.79" height="9.19" fill="#5c63b8"/><rect x="262.25" y="88.90" width="6.79" height="9.19" fill="#b9b7e0"/><rect x="267.84" y="88.90" width="6.79" height="9.19" fill="#b9b7e0"/><rect x="273.44" y="88.90" width="6.79" height="9.19" fill="#f3cbbf"/><rect x="279.03" y="88.90" width="6.79" height="9.19" fill="#8a8bcb"/><rect x="284.62" y="88.90" width="6.79" height="9.19" fill="#d22c2d"/><rect x="290.22" y="88.90" width="6.79" height="9.19" fill="#3e4ca6"/><rect x="295.81" y="88.90" width="6.79" height="9.19" fill="#3e4ca6"/><rect x="301.41" y="88.90" width="6.79" height="9.19" fill="#3e4ca6"/><rect x="307.00" y="88.90" width="6.79" height="9.19" fill="#5c63b8"/><rect x="312.59" y="88.90" width="6.79" height="9.19" fill="#5c63b8"/><rect x="318.19" y="88.90" width="6.79" height="9.19" fill="#3e4ca6"/><rect x="323.78" y="88.90" width="6.79" height="9.19" fill="#f3cbbf"/><rect x="329.38" y="88.90" width="6.79" height="9.19" fill="#3e4ca6"/><rect x="334.97" y="88.90" width="6.79" height="9.19" fill="#3e4ca6"/><rect x="340.56" y="88.90" width="6.79" height="9.19" fill="#d22c2d"/><rect x="346.16" y="88.90" width="6.79" height="9.19" fill="#f3cbbf"/><rect x="351.75" y="88.90" width="6.79" height="9.19" fill="#b9b7e0"/><rect x="357.35" y="88.90" width="6.79" height="9.19" fill="#8a8bcb"/><rect x="362.94" y="88.90" width="6.79" height="9.19" fill="#f3cbbf"/><rect x="368.53" y="88.90" width="6.79" height="9.19" fill="#ecebf2"/><rect x="374.13" y="88.90" width="6.79" height="9.19" fill="#5c63b8"/><rect x="379.72" y="88.90" width="6.79" height="9.19" fill="#ecebf2"/><rect x="385.32" y="88.90" width="6.79" height="9.19" fill="#ecebf2"/><rect x="390.91" y="88.90" width="6.79" height="9.19" fill="#8a8bcb"/><rect x="396.50" y="88.90" width="6.79" height="9.19" fill="#e9957f"/><rect x="402.10" y="88.90" width="6.79" height="9.19" fill="#3e4ca6"/><rect x="407.69" y="88.90" width="6.79" height="9.19" fill="#5c63b8"/><rect x="413.29" y="88.90" width="6.79" height="9.19" fill="#5c63b8"/><rect x="418.88" y="88.90" width="6.79" height="9.19" fill="#5c63b8"/><rect x="424.47" y="88.90" width="6.79" height="9.19" fill="#8a8bcb"/><rect x="430.07" y="88.90" width="6.79" height="9.19" fill="#3e4ca6"/><rect x="435.66" y="88.90" width="6.79" height="9.19" fill="#3e4ca6"/><rect x="441.26" y="88.90" width="6.79" height="9.19" fill="#5c63b8"/><rect x="446.85" y="88.90" width="6.79" height="9.19" fill="#b9b7e0"/><rect x="452.44" y="88.90" width="6.79" height="9.19" fill="#5c63b8"/><rect x="458.04" y="88.90" width="6.79" height="9.19" fill="#5c63b8"/><rect x="463.63" y="88.90" width="6.79" height="9.19" fill="#ecebf2"/><rect x="469.23" y="88.90" width="6.79" height="9.19" fill="#3e4ca6"/><rect x="474.82" y="88.90" width="6.79" height="9.19" fill="#ecebf2"/><rect x="480.41" y="88.90" width="6.79" height="9.19" fill="#3e4ca6"/><rect x="486.01" y="88.90" width="6.79" height="9.19" fill="#8a8bcb"/><rect x="27.30" y="96.89" width="6.79" height="9.19" fill="#3e4ca6"/><rect x="32.89" y="96.89" width="6.79" height="9.19" fill="#8a8bcb"/><rect x="38.49" y="96.89" width="6.79" height="9.19" fill="#3e4ca6"/><rect x="44.08" y="96.89" width="6.79" height="9.19" fill="#8a8bcb"/><rect x="49.68" y="96.89" width="6.79" height="9.19" fill="#3e4ca6"/><rect x="55.27" y="96.89" width="6.79" height="9.19" fill="#f3cbbf"/><rect x="60.86" y="96.89" width="6.79" height="9.19" fill="#f3cbbf"/><rect x="66.46" y="96.89" width="6.79" height="9.19" fill="#3e4ca6"/><rect x="72.05" y="96.89" width="6.79" height="9.19" fill="#f3cbbf"/><rect x="77.65" y="96.89" width="6.79" height="9.19" fill="#f3cbbf"/><rect x="83.24" y="96.89" width="6.79" height="9.19" fill="#f3cbbf"/><rect x="88.83" y="96.89" width="6.79" height="9.19" fill="#d22c2d"/><rect x="94.43" y="96.89" width="6.79" height="9.19" fill="#e0614f"/><rect x="100.02" y="96.89" width="6.79" height="9.19" fill="#e0614f"/><rect x="105.62" y="96.89" width="6.79" height="9.19" fill="#ecebf2"/><rect x="111.21" y="96.89" width="6.79" height="9.19" fill="#e9957f"/><rect x="116.80" y="96.89" width="6.79" height="9.19" fill="#ecebf2"/><rect x="122.40" y="96.89" width="6.79" height="9.19" fill="#ecebf2"/><rect x="127.99" y="96.89" width="6.79" height="9.19" fill="#ecebf2"/><rect x="133.59" y="96.89" width="6.79" height="9.19" fill="#b9b7e0"/><rect x="139.18" y="96.89" width="6.79" height="9.19" fill="#b9b7e0"/><rect x="144.77" y="96.89" width="6.79" height="9.19" fill="#f3cbbf"/><rect x="150.37" y="96.89" width="6.79" height="9.19" fill="#e0614f"/><rect x="155.96" y="96.89" width="6.79" height="9.19" fill="#b9b7e0"/><rect x="161.56" y="96.89" width="6.79" height="9.19" fill="#8a8bcb"/><rect x="167.15" y="96.89" width="6.79" height="9.19" fill="#b9b7e0"/><rect x="172.74" y="96.89" width="6.79" height="9.19" fill="#b9b7e0"/><rect x="178.34" y="96.89" width="6.79" height="9.19" fill="#ecebf2"/><rect x="183.93" y="96.89" width="6.79" height="9.19" fill="#b9b7e0"/><rect x="189.53" y="96.89" width="6.79" height="9.19" fill="#8a8bcb"/><rect x="195.12" y="96.89" width="6.79" height="9.19" fill="#ecebf2"/><rect x="200.71" y="96.89" width="6.79" height="9.19" fill="#3e4ca6"/><rect x="206.31" y="96.89" width="6.79" height="9.19" fill="#3e4ca6"/><rect x="211.90" y="96.89" width="6.79" height="9.19" fill="#ecebf2"/><rect x="217.50" y="96.89" width="6.79" height="9.19" fill="#e0614f"/><rect x="223.09" y="96.89" width="6.79" height="9.19" fill="#ecebf2"/><rect x="228.68" y="96.89" width="6.79" height="9.19" fill="#5c63b8"/><rect x="234.28" y="96.89" width="6.79" height="9.19" fill="#3e4ca6"/><rect x="239.87" y="96.89" width="6.79" height="9.19" fill="#8a8bcb"/><rect x="245.47" y="96.89" width="6.79" height="9.19" fill="#8a8bcb"/><rect x="251.06" y="96.89" width="6.79" height="9.19" fill="#8a8bcb"/><rect x="256.65" y="96.89" width="6.79" height="9.19" fill="#8a8bcb"/><rect x="262.25" y="96.89" width="6.79" height="9.19" fill="#ecebf2"/><rect x="267.84" y="96.89" width="6.79" height="9.19" fill="#b9b7e0"/><rect x="273.44" y="96.89" width="6.79" height="9.19" fill="#ecebf2"/><rect x="279.03" y="96.89" width="6.79" height="9.19" fill="#8a8bcb"/><rect x="284.62" y="96.89" width="6.79" height="9.19" fill="#8a8bcb"/><rect x="290.22" y="96.89" width="6.79" height="9.19" fill="#3e4ca6"/><rect x="295.81" y="96.89" width="6.79" height="9.19" fill="#3e4ca6"/><rect x="301.41" y="96.89" width="6.79" height="9.19" fill="#3e4ca6"/><rect x="307.00" y="96.89" width="6.79" height="9.19" fill="#3e4ca6"/><rect x="312.59" y="96.89" width="6.79" height="9.19" fill="#3e4ca6"/><rect x="318.19" y="96.89" width="6.79" height="9.19" fill="#8a8bcb"/><rect x="323.78" y="96.89" width="6.79" height="9.19" fill="#8a8bcb"/><rect x="329.38" y="96.89" width="6.79" height="9.19" fill="#3e4ca6"/><rect x="334.97" y="96.89" width="6.79" height="9.19" fill="#3e4ca6"/><rect x="340.56" y="96.89" width="6.79" height="9.19" fill="#e9957f"/><rect x="346.16" y="96.89" width="6.79" height="9.19" fill="#b9b7e0"/><rect x="351.75" y="96.89" width="6.79" height="9.19" fill="#8a8bcb"/><rect x="357.35" y="96.89" width="6.79" height="9.19" fill="#b9b7e0"/><rect x="362.94" y="96.89" width="6.79" height="9.19" fill="#ecebf2"/><rect x="368.53" y="96.89" width="6.79" height="9.19" fill="#5c63b8"/><rect x="374.13" y="96.89" width="6.79" height="9.19" fill="#5c63b8"/><rect x="379.72" y="96.89" width="6.79" height="9.19" fill="#5c63b8"/><rect x="385.32" y="96.89" width="6.79" height="9.19" fill="#8a8bcb"/><rect x="390.91" y="96.89" width="6.79" height="9.19" fill="#5c63b8"/><rect x="396.50" y="96.89" width="6.79" height="9.19" fill="#5c63b8"/><rect x="402.10" y="96.89" width="6.79" height="9.19" fill="#5c63b8"/><rect x="407.69" y="96.89" width="6.79" height="9.19" fill="#b9b7e0"/><rect x="413.29" y="96.89" width="6.79" height="9.19" fill="#b9b7e0"/><rect x="418.88" y="96.89" width="6.79" height="9.19" fill="#5c63b8"/><rect x="424.47" y="96.89" width="6.79" height="9.19" fill="#5c63b8"/><rect x="430.07" y="96.89" width="6.79" height="9.19" fill="#3e4ca6"/><rect x="435.66" y="96.89" width="6.79" height="9.19" fill="#3e4ca6"/><rect x="441.26" y="96.89" width="6.79" height="9.19" fill="#8a8bcb"/><rect x="446.85" y="96.89" width="6.79" height="9.19" fill="#8a8bcb"/><rect x="452.44" y="96.89" width="6.79" height="9.19" fill="#8a8bcb"/><rect x="458.04" y="96.89" width="6.79" height="9.19" fill="#8a8bcb"/><rect x="463.63" y="96.89" width="6.79" height="9.19" fill="#b9b7e0"/><rect x="469.23" y="96.89" width="6.79" height="9.19" fill="#3e4ca6"/><rect x="474.82" y="96.89" width="6.79" height="9.19" fill="#3e4ca6"/><rect x="480.41" y="96.89" width="6.79" height="9.19" fill="#8a8bcb"/><rect x="486.01" y="96.89" width="6.79" height="9.19" fill="#8a8bcb"/><rect x="27.30" y="104.88" width="6.79" height="9.19" fill="#3e4ca6"/><rect x="32.89" y="104.88" width="6.79" height="9.19" fill="#ecebf2"/><rect x="38.49" y="104.88" width="6.79" height="9.19" fill="#3e4ca6"/><rect x="44.08" y="104.88" width="6.79" height="9.19" fill="#8a8bcb"/><rect x="49.68" y="104.88" width="6.79" height="9.19" fill="#b9b7e0"/><rect x="55.27" y="104.88" width="6.79" height="9.19" fill="#3e4ca6"/><rect x="60.86" y="104.88" width="6.79" height="9.19" fill="#3e4ca6"/><rect x="66.46" y="104.88" width="6.79" height="9.19" fill="#3e4ca6"/><rect x="72.05" y="104.88" width="6.79" height="9.19" fill="#8a8bcb"/><rect x="77.65" y="104.88" width="6.79" height="9.19" fill="#3e4ca6"/><rect x="83.24" y="104.88" width="6.79" height="9.19" fill="#3e4ca6"/><rect x="88.83" y="104.88" width="6.79" height="9.19" fill="#3e4ca6"/><rect x="94.43" y="104.88" width="6.79" height="9.19" fill="#3e4ca6"/><rect x="100.02" y="104.88" width="6.79" height="9.19" fill="#3e4ca6"/><rect x="105.62" y="104.88" width="6.79" height="9.19" fill="#3e4ca6"/><rect x="111.21" y="104.88" width="6.79" height="9.19" fill="#3e4ca6"/><rect x="116.80" y="104.88" width="6.79" height="9.19" fill="#3e4ca6"/><rect x="122.40" y="104.88" width="6.79" height="9.19" fill="#5c63b8"/><rect x="127.99" y="104.88" width="6.79" height="9.19" fill="#ecebf2"/><rect x="133.59" y="104.88" width="6.79" height="9.19" fill="#b9b7e0"/><rect x="139.18" y="104.88" width="6.79" height="9.19" fill="#8a8bcb"/><rect x="144.77" y="104.88" width="6.79" height="9.19" fill="#8a8bcb"/><rect x="150.37" y="104.88" width="6.79" height="9.19" fill="#ecebf2"/><rect x="155.96" y="104.88" width="6.79" height="9.19" fill="#b9b7e0"/><rect x="161.56" y="104.88" width="6.79" height="9.19" fill="#5c63b8"/><rect x="167.15" y="104.88" width="6.79" height="9.19" fill="#5c63b8"/><rect x="172.74" y="104.88" width="6.79" height="9.19" fill="#8a8bcb"/><rect x="178.34" y="104.88" width="6.79" height="9.19" fill="#8a8bcb"/><rect x="183.93" y="104.88" width="6.79" height="9.19" fill="#b9b7e0"/><rect x="189.53" y="104.88" width="6.79" height="9.19" fill="#5c63b8"/><rect x="195.12" y="104.88" width="6.79" height="9.19" fill="#8a8bcb"/><rect x="200.71" y="104.88" width="6.79" height="9.19" fill="#3e4ca6"/><rect x="206.31" y="104.88" width="6.79" height="9.19" fill="#ecebf2"/><rect x="211.90" y="104.88" width="6.79" height="9.19" fill="#e9957f"/><rect x="217.50" y="104.88" width="6.79" height="9.19" fill="#ecebf2"/><rect x="223.09" y="104.88" width="6.79" height="9.19" fill="#b9b7e0"/><rect x="228.68" y="104.88" width="6.79" height="9.19" fill="#5c63b8"/><rect x="234.28" y="104.88" width="6.79" height="9.19" fill="#3e4ca6"/><rect x="239.87" y="104.88" width="6.79" height="9.19" fill="#5c63b8"/><rect x="245.47" y="104.88" width="6.79" height="9.19" fill="#5c63b8"/><rect x="251.06" y="104.88" width="6.79" height="9.19" fill="#3e4ca6"/><rect x="256.65" y="104.88" width="6.79" height="9.19" fill="#5c63b8"/><rect x="262.25" y="104.88" width="6.79" height="9.19" fill="#8a8bcb"/><rect x="267.84" y="104.88" width="6.79" height="9.19" fill="#b9b7e0"/><rect x="273.44" y="104.88" width="6.79" height="9.19" fill="#8a8bcb"/><rect x="279.03" y="104.88" width="6.79" height="9.19" fill="#3e4ca6"/><rect x="284.62" y="104.88" width="6.79" height="9.19" fill="#3e4ca6"/><rect x="290.22" y="104.88" width="6.79" height="9.19" fill="#3e4ca6"/><rect x="295.81" y="104.88" width="6.79" height="9.19" fill="#3e4ca6"/><rect x="301.41" y="104.88" width="6.79" height="9.19" fill="#3e4ca6"/><rect x="307.00" y="104.88" width="6.79" height="9.19" fill="#3e4ca6"/><rect x="312.59" y="104.88" width="6.79" height="9.19" fill="#3e4ca6"/><rect x="318.19" y="104.88" width="6.79" height="9.19" fill="#3e4ca6"/><rect x="323.78" y="104.88" width="6.79" height="9.19" fill="#3e4ca6"/><rect x="329.38" y="104.88" width="6.79" height="9.19" fill="#3e4ca6"/><rect x="334.97" y="104.88" width="6.79" height="9.19" fill="#3e4ca6"/><rect x="340.56" y="104.88" width="6.79" height="9.19" fill="#ecebf2"/><rect x="346.16" y="104.88" width="6.79" height="9.19" fill="#3e4ca6"/><rect x="351.75" y="104.88" width="6.79" height="9.19" fill="#3e4ca6"/><rect x="357.35" y="104.88" width="6.79" height="9.19" fill="#3e4ca6"/><rect x="362.94" y="104.88" width="6.79" height="9.19" fill="#b9b7e0"/><rect x="368.53" y="104.88" width="6.79" height="9.19" fill="#3e4ca6"/><rect x="374.13" y="104.88" width="6.79" height="9.19" fill="#3e4ca6"/><rect x="379.72" y="104.88" width="6.79" height="9.19" fill="#5c63b8"/><rect x="385.32" y="104.88" width="6.79" height="9.19" fill="#3e4ca6"/><rect x="390.91" y="104.88" width="6.79" height="9.19" fill="#3e4ca6"/><rect x="396.50" y="104.88" width="6.79" height="9.19" fill="#5c63b8"/><rect x="402.10" y="104.88" width="6.79" height="9.19" fill="#3e4ca6"/><rect x="407.69" y="104.88" width="6.79" height="9.19" fill="#3e4ca6"/><rect x="413.29" y="104.88" width="6.79" height="9.19" fill="#3e4ca6"/><rect x="418.88" y="104.88" width="6.79" height="9.19" fill="#3e4ca6"/><rect x="424.47" y="104.88" width="6.79" height="9.19" fill="#3e4ca6"/><rect x="430.07" y="104.88" width="6.79" height="9.19" fill="#3e4ca6"/><rect x="435.66" y="104.88" width="6.79" height="9.19" fill="#3e4ca6"/><rect x="441.26" y="104.88" width="6.79" height="9.19" fill="#3e4ca6"/><rect x="446.85" y="104.88" width="6.79" height="9.19" fill="#3e4ca6"/><rect x="452.44" y="104.88" width="6.79" height="9.19" fill="#3e4ca6"/><rect x="458.04" y="104.88" width="6.79" height="9.19" fill="#3e4ca6"/><rect x="463.63" y="104.88" width="6.79" height="9.19" fill="#3e4ca6"/><rect x="469.23" y="104.88" width="6.79" height="9.19" fill="#3e4ca6"/><rect x="474.82" y="104.88" width="6.79" height="9.19" fill="#3e4ca6"/><rect x="480.41" y="104.88" width="6.79" height="9.19" fill="#3e4ca6"/><rect x="486.01" y="104.88" width="6.79" height="9.19" fill="#3e4ca6"/><rect x="27.30" y="112.87" width="6.79" height="9.19" fill="#3e4ca6"/><rect x="32.89" y="112.87" width="6.79" height="9.19" fill="#3e4ca6"/><rect x="38.49" y="112.87" width="6.79" height="9.19" fill="#3e4ca6"/><rect x="44.08" y="112.87" width="6.79" height="9.19" fill="#ecebf2"/><rect x="49.68" y="112.87" width="6.79" height="9.19" fill="#e9957f"/><rect x="55.27" y="112.87" width="6.79" height="9.19" fill="#3e4ca6"/><rect x="60.86" y="112.87" width="6.79" height="9.19" fill="#3e4ca6"/><rect x="66.46" y="112.87" width="6.79" height="9.19" fill="#3e4ca6"/><rect x="72.05" y="112.87" width="6.79" height="9.19" fill="#3e4ca6"/><rect x="77.65" y="112.87" width="6.79" height="9.19" fill="#3e4ca6"/><rect x="83.24" y="112.87" width="6.79" height="9.19" fill="#3e4ca6"/><rect x="88.83" y="112.87" width="6.79" height="9.19" fill="#3e4ca6"/><rect x="94.43" y="112.87" width="6.79" height="9.19" fill="#3e4ca6"/><rect x="100.02" y="112.87" width="6.79" height="9.19" fill="#3e4ca6"/><rect x="105.62" y="112.87" width="6.79" height="9.19" fill="#3e4ca6"/><rect x="111.21" y="112.87" width="6.79" height="9.19" fill="#3e4ca6"/><rect x="116.80" y="112.87" width="6.79" height="9.19" fill="#3e4ca6"/><rect x="122.40" y="112.87" width="6.79" height="9.19" fill="#8a8bcb"/><rect x="127.99" y="112.87" width="6.79" height="9.19" fill="#ecebf2"/><rect x="133.59" y="112.87" width="6.79" height="9.19" fill="#ecebf2"/><rect x="139.18" y="112.87" width="6.79" height="9.19" fill="#e9957f"/><rect x="144.77" y="112.87" width="6.79" height="9.19" fill="#e9957f"/><rect x="150.37" y="112.87" width="6.79" height="9.19" fill="#e0614f"/><rect x="155.96" y="112.87" width="6.79" height="9.19" fill="#ecebf2"/><rect x="161.56" y="112.87" width="6.79" height="9.19" fill="#8a8bcb"/><rect x="167.15" y="112.87" width="6.79" height="9.19" fill="#b9b7e0"/><rect x="172.74" y="112.87" width="6.79" height="9.19" fill="#b9b7e0"/><rect x="178.34" y="112.87" width="6.79" height="9.19" fill="#ecebf2"/><rect x="183.93" y="112.87" width="6.79" height="9.19" fill="#8a8bcb"/><rect x="189.53" y="112.87" width="6.79" height="9.19" fill="#b9b7e0"/><rect x="195.12" y="112.87" width="6.79" height="9.19" fill="#ecebf2"/><rect x="200.71" y="112.87" width="6.79" height="9.19" fill="#3e4ca6"/><rect x="206.31" y="112.87" width="6.79" height="9.19" fill="#da4539"/><rect x="211.90" y="112.87" width="6.79" height="9.19" fill="#f3cbbf"/><rect x="217.50" y="112.87" width="6.79" height="9.19" fill="#3e4ca6"/><rect x="223.09" y="112.87" width="6.79" height="9.19" fill="#ecebf2"/><rect x="228.68" y="112.87" width="6.79" height="9.19" fill="#5c63b8"/><rect x="234.28" y="112.87" width="6.79" height="9.19" fill="#3e4ca6"/><rect x="239.87" y="112.87" width="6.79" height="9.19" fill="#8a8bcb"/><rect x="245.47" y="112.87" width="6.79" height="9.19" fill="#ecebf2"/><rect x="251.06" y="112.87" width="6.79" height="9.19" fill="#8a8bcb"/><rect x="256.65" y="112.87" width="6.79" height="9.19" fill="#8a8bcb"/><rect x="262.25" y="112.87" width="6.79" height="9.19" fill="#ecebf2"/><rect x="267.84" y="112.87" width="6.79" height="9.19" fill="#ecebf2"/><rect x="273.44" y="112.87" width="6.79" height="9.19" fill="#5c63b8"/><rect x="279.03" y="112.87" width="6.79" height="9.19" fill="#8a8bcb"/><rect x="284.62" y="112.87" width="6.79" height="9.19" fill="#f3cbbf"/><rect x="290.22" y="112.87" width="6.79" height="9.19" fill="#3e4ca6"/><rect x="295.81" y="112.87" width="6.79" height="9.19" fill="#3e4ca6"/><rect x="301.41" y="112.87" width="6.79" height="9.19" fill="#3e4ca6"/><rect x="307.00" y="112.87" width="6.79" height="9.19" fill="#3e4ca6"/><rect x="312.59" y="112.87" width="6.79" height="9.19" fill="#3e4ca6"/><rect x="318.19" y="112.87" width="6.79" height="9.19" fill="#3e4ca6"/><rect x="323.78" y="112.87" width="6.79" height="9.19" fill="#3e4ca6"/><rect x="329.38" y="112.87" width="6.79" height="9.19" fill="#3e4ca6"/><rect x="334.97" y="112.87" width="6.79" height="9.19" fill="#3e4ca6"/><rect x="340.56" y="112.87" width="6.79" height="9.19" fill="#f3cbbf"/><rect x="346.16" y="112.87" width="6.79" height="9.19" fill="#5c63b8"/><rect x="351.75" y="112.87" width="6.79" height="9.19" fill="#8a8bcb"/><rect x="357.35" y="112.87" width="6.79" height="9.19" fill="#5c63b8"/><rect x="362.94" y="112.87" width="6.79" height="9.19" fill="#ecebf2"/><rect x="368.53" y="112.87" width="6.79" height="9.19" fill="#3e4ca6"/><rect x="374.13" y="112.87" width="6.79" height="9.19" fill="#5c63b8"/><rect x="379.72" y="112.87" width="6.79" height="9.19" fill="#3e4ca6"/><rect x="385.32" y="112.87" width="6.79" height="9.19" fill="#8a8bcb"/><rect x="390.91" y="112.87" width="6.79" height="9.19" fill="#3e4ca6"/><rect x="396.50" y="112.87" width="6.79" height="9.19" fill="#5c63b8"/><rect x="402.10" y="112.87" width="6.79" height="9.19" fill="#3e4ca6"/><rect x="407.69" y="112.87" width="6.79" height="9.19" fill="#5c63b8"/><rect x="413.29" y="112.87" width="6.79" height="9.19" fill="#5c63b8"/><rect x="418.88" y="112.87" width="6.79" height="9.19" fill="#3e4ca6"/><rect x="424.47" y="112.87" width="6.79" height="9.19" fill="#8a8bcb"/><rect x="430.07" y="112.87" width="6.79" height="9.19" fill="#3e4ca6"/><rect x="435.66" y="112.87" width="6.79" height="9.19" fill="#3e4ca6"/><rect x="441.26" y="112.87" width="6.79" height="9.19" fill="#3e4ca6"/><rect x="446.85" y="112.87" width="6.79" height="9.19" fill="#8a8bcb"/><rect x="452.44" y="112.87" width="6.79" height="9.19" fill="#b9b7e0"/><rect x="458.04" y="112.87" width="6.79" height="9.19" fill="#8a8bcb"/><rect x="463.63" y="112.87" width="6.79" height="9.19" fill="#3e4ca6"/><rect x="469.23" y="112.87" width="6.79" height="9.19" fill="#3e4ca6"/><rect x="474.82" y="112.87" width="6.79" height="9.19" fill="#3e4ca6"/><rect x="480.41" y="112.87" width="6.79" height="9.19" fill="#3e4ca6"/><rect x="486.01" y="112.87" width="6.79" height="9.19" fill="#5c63b8"/><rect x="27.30" y="120.86" width="6.79" height="9.19" fill="#3e4ca6"/><rect x="32.89" y="120.86" width="6.79" height="9.19" fill="#8a8bcb"/><rect x="38.49" y="120.86" width="6.79" height="9.19" fill="#3e4ca6"/><rect x="44.08" y="120.86" width="6.79" height="9.19" fill="#b9b7e0"/><rect x="49.68" y="120.86" width="6.79" height="9.19" fill="#3e4ca6"/><rect x="55.27" y="120.86" width="6.79" height="9.19" fill="#cdd2c6"/><rect x="60.86" y="120.86" width="6.79" height="9.19" fill="#3e4ca6"/><rect x="66.46" y="120.86" width="6.79" height="9.19" fill="#8a8bcb"/><rect x="72.05" y="120.86" width="6.79" height="9.19" fill="#8a8bcb"/><rect x="77.65" y="120.86" width="6.79" height="9.19" fill="#8a8bcb"/><rect x="83.24" y="120.86" width="6.79" height="9.19" fill="#8a8bcb"/><rect x="88.83" y="120.86" width="6.79" height="9.19" fill="#b9b7e0"/><rect x="94.43" y="120.86" width="6.79" height="9.19" fill="#3e4ca6"/><rect x="100.02" y="120.86" width="6.79" height="9.19" fill="#ecebf2"/><rect x="105.62" y="120.86" width="6.79" height="9.19" fill="#3e4ca6"/><rect x="111.21" y="120.86" width="6.79" height="9.19" fill="#3e4ca6"/><rect x="116.80" y="120.86" width="6.79" height="9.19" fill="#b9b7e0"/><rect x="122.40" y="120.86" width="6.79" height="9.19" fill="#b9b7e0"/><rect x="127.99" y="120.86" width="6.79" height="9.19" fill="#8a8bcb"/><rect x="133.59" y="120.86" width="6.79" height="9.19" fill="#ecebf2"/><rect x="139.18" y="120.86" width="6.79" height="9.19" fill="#f3cbbf"/><rect x="144.77" y="120.86" width="6.79" height="9.19" fill="#e9957f"/><rect x="150.37" y="120.86" width="6.79" height="9.19" fill="#f3cbbf"/><rect x="155.96" y="120.86" width="6.79" height="9.19" fill="#b9b7e0"/><rect x="161.56" y="120.86" width="6.79" height="9.19" fill="#8a8bcb"/><rect x="167.15" y="120.86" width="6.79" height="9.19" fill="#8a8bcb"/><rect x="172.74" y="120.86" width="6.79" height="9.19" fill="#ecebf2"/><rect x="178.34" y="120.86" width="6.79" height="9.19" fill="#8a8bcb"/><rect x="183.93" y="120.86" width="6.79" height="9.19" fill="#b9b7e0"/><rect x="189.53" y="120.86" width="6.79" height="9.19" fill="#8a8bcb"/><rect x="195.12" y="120.86" width="6.79" height="9.19" fill="#b9b7e0"/><rect x="200.71" y="120.86" width="6.79" height="9.19" fill="#8a8bcb"/><rect x="206.31" y="120.86" width="6.79" height="9.19" fill="#d22c2d"/><rect x="211.90" y="120.86" width="6.79" height="9.19" fill="#e9957f"/><rect x="217.50" y="120.86" width="6.79" height="9.19" fill="#3e4ca6"/><rect x="223.09" y="120.86" width="6.79" height="9.19" fill="#e9957f"/><rect x="228.68" y="120.86" width="6.79" height="9.19" fill="#5c63b8"/><rect x="234.28" y="120.86" width="6.79" height="9.19" fill="#3e4ca6"/><rect x="239.87" y="120.86" width="6.79" height="9.19" fill="#b9b7e0"/><rect x="245.47" y="120.86" width="6.79" height="9.19" fill="#8a8bcb"/><rect x="251.06" y="120.86" width="6.79" height="9.19" fill="#8a8bcb"/><rect x="256.65" y="120.86" width="6.79" height="9.19" fill="#8a8bcb"/><rect x="262.25" y="120.86" width="6.79" height="9.19" fill="#ecebf2"/><rect x="267.84" y="120.86" width="6.79" height="9.19" fill="#b9b7e0"/><rect x="273.44" y="120.86" width="6.79" height="9.19" fill="#ecebf2"/><rect x="279.03" y="120.86" width="6.79" height="9.19" fill="#5c63b8"/><rect x="284.62" y="120.86" width="6.79" height="9.19" fill="#d22c2d"/><rect x="290.22" y="120.86" width="6.79" height="9.19" fill="#3e4ca6"/><rect x="295.81" y="120.86" width="6.79" height="9.19" fill="#3e4ca6"/><rect x="301.41" y="120.86" width="6.79" height="9.19" fill="#3e4ca6"/><rect x="307.00" y="120.86" width="6.79" height="9.19" fill="#3e4ca6"/><rect x="312.59" y="120.86" width="6.79" height="9.19" fill="#3e4ca6"/><rect x="318.19" y="120.86" width="6.79" height="9.19" fill="#3e4ca6"/><rect x="323.78" y="120.86" width="6.79" height="9.19" fill="#3e4ca6"/><rect x="329.38" y="120.86" width="6.79" height="9.19" fill="#3e4ca6"/><rect x="334.97" y="120.86" width="6.79" height="9.19" fill="#3e4ca6"/><rect x="340.56" y="120.86" width="6.79" height="9.19" fill="#f3cbbf"/><rect x="346.16" y="120.86" width="6.79" height="9.19" fill="#8a8bcb"/><rect x="351.75" y="120.86" width="6.79" height="9.19" fill="#ecebf2"/><rect x="357.35" y="120.86" width="6.79" height="9.19" fill="#8a8bcb"/><rect x="362.94" y="120.86" width="6.79" height="9.19" fill="#e9957f"/><rect x="368.53" y="120.86" width="6.79" height="9.19" fill="#5c63b8"/><rect x="374.13" y="120.86" width="6.79" height="9.19" fill="#3e4ca6"/><rect x="379.72" y="120.86" width="6.79" height="9.19" fill="#b9b7e0"/><rect x="385.32" y="120.86" width="6.79" height="9.19" fill="#b9b7e0"/><rect x="390.91" y="120.86" width="6.79" height="9.19" fill="#b9b7e0"/><rect x="396.50" y="120.86" width="6.79" height="9.19" fill="#5c63b8"/><rect x="402.10" y="120.86" width="6.79" height="9.19" fill="#5c63b8"/><rect x="407.69" y="120.86" width="6.79" height="9.19" fill="#5c63b8"/><rect x="413.29" y="120.86" width="6.79" height="9.19" fill="#5c63b8"/><rect x="418.88" y="120.86" width="6.79" height="9.19" fill="#3e4ca6"/><rect x="424.47" y="120.86" width="6.79" height="9.19" fill="#8a8bcb"/><rect x="430.07" y="120.86" width="6.79" height="9.19" fill="#3e4ca6"/><rect x="435.66" y="120.86" width="6.79" height="9.19" fill="#3e4ca6"/><rect x="441.26" y="120.86" width="6.79" height="9.19" fill="#8a8bcb"/><rect x="446.85" y="120.86" width="6.79" height="9.19" fill="#3e4ca6"/><rect x="452.44" y="120.86" width="6.79" height="9.19" fill="#b9b7e0"/><rect x="458.04" y="120.86" width="6.79" height="9.19" fill="#8a8bcb"/><rect x="463.63" y="120.86" width="6.79" height="9.19" fill="#3e4ca6"/><rect x="469.23" y="120.86" width="6.79" height="9.19" fill="#3e4ca6"/><rect x="474.82" y="120.86" width="6.79" height="9.19" fill="#3e4ca6"/><rect x="480.41" y="120.86" width="6.79" height="9.19" fill="#3e4ca6"/><rect x="486.01" y="120.86" width="6.79" height="9.19" fill="#5c63b8"/><rect x="27.30" y="128.85" width="6.79" height="9.19" fill="#3e4ca6"/><rect x="32.89" y="128.85" width="6.79" height="9.19" fill="#f3cbbf"/><rect x="38.49" y="128.85" width="6.79" height="9.19" fill="#3e4ca6"/><rect x="44.08" y="128.85" width="6.79" height="9.19" fill="#8a8bcb"/><rect x="49.68" y="128.85" width="6.79" height="9.19" fill="#3e4ca6"/><rect x="55.27" y="128.85" width="6.79" height="9.19" fill="#3e4ca6"/><rect x="60.86" y="128.85" width="6.79" height="9.19" fill="#3e4ca6"/><rect x="66.46" y="128.85" width="6.79" height="9.19" fill="#3e4ca6"/><rect x="72.05" y="128.85" width="6.79" height="9.19" fill="#e0614f"/><rect x="77.65" y="128.85" width="6.79" height="9.19" fill="#3e4ca6"/><rect x="83.24" y="128.85" width="6.79" height="9.19" fill="#5c63b8"/><rect x="88.83" y="128.85" width="6.79" height="9.19" fill="#f3cbbf"/><rect x="94.43" y="128.85" width="6.79" height="9.19" fill="#3e4ca6"/><rect x="100.02" y="128.85" width="6.79" height="9.19" fill="#e9957f"/><rect x="105.62" y="128.85" width="6.79" height="9.19" fill="#f3cbbf"/><rect x="111.21" y="128.85" width="6.79" height="9.19" fill="#f3cbbf"/><rect x="116.80" y="128.85" width="6.79" height="9.19" fill="#5c63b8"/><rect x="122.40" y="128.85" width="6.79" height="9.19" fill="#b9b7e0"/><rect x="127.99" y="128.85" width="6.79" height="9.19" fill="#ecebf2"/><rect x="133.59" y="128.85" width="6.79" height="9.19" fill="#b9b7e0"/><rect x="139.18" y="128.85" width="6.79" height="9.19" fill="#ecebf2"/><rect x="144.77" y="128.85" width="6.79" height="9.19" fill="#8a8bcb"/><rect x="150.37" y="128.85" width="6.79" height="9.19" fill="#3e4ca6"/><rect x="155.96" y="128.85" width="6.79" height="9.19" fill="#b9b7e0"/><rect x="161.56" y="128.85" width="6.79" height="9.19" fill="#b9b7e0"/><rect x="167.15" y="128.85" width="6.79" height="9.19" fill="#ecebf2"/><rect x="172.74" y="128.85" width="6.79" height="9.19" fill="#b9b7e0"/><rect x="178.34" y="128.85" width="6.79" height="9.19" fill="#b9b7e0"/><rect x="183.93" y="128.85" width="6.79" height="9.19" fill="#8a8bcb"/><rect x="189.53" y="128.85" width="6.79" height="9.19" fill="#8a8bcb"/><rect x="195.12" y="128.85" width="6.79" height="9.19" fill="#ecebf2"/><rect x="200.71" y="128.85" width="6.79" height="9.19" fill="#3e4ca6"/><rect x="206.31" y="128.85" width="6.79" height="9.19" fill="#8a8bcb"/><rect x="211.90" y="128.85" width="6.79" height="9.19" fill="#e0614f"/><rect x="217.50" y="128.85" width="6.79" height="9.19" fill="#3e4ca6"/><rect x="223.09" y="128.85" width="6.79" height="9.19" fill="#e0614f"/><rect x="228.68" y="128.85" width="6.79" height="9.19" fill="#8a8bcb"/><rect x="234.28" y="128.85" width="6.79" height="9.19" fill="#5c63b8"/><rect x="239.87" y="128.85" width="6.79" height="9.19" fill="#5c63b8"/><rect x="245.47" y="128.85" width="6.79" height="9.19" fill="#8a8bcb"/><rect x="251.06" y="128.85" width="6.79" height="9.19" fill="#3e4ca6"/><rect x="256.65" y="128.85" width="6.79" height="9.19" fill="#5c63b8"/><rect x="262.25" y="128.85" width="6.79" height="9.19" fill="#b9b7e0"/><rect x="267.84" y="128.85" width="6.79" height="9.19" fill="#f3cbbf"/><rect x="273.44" y="128.85" width="6.79" height="9.19" fill="#b9b7e0"/><rect x="279.03" y="128.85" width="6.79" height="9.19" fill="#3e4ca6"/><rect x="284.62" y="128.85" width="6.79" height="9.19" fill="#e9957f"/><rect x="290.22" y="128.85" width="6.79" height="9.19" fill="#3e4ca6"/><rect x="295.81" y="128.85" width="6.79" height="9.19" fill="#3e4ca6"/><rect x="301.41" y="128.85" width="6.79" height="9.19" fill="#3e4ca6"/><rect x="307.00" y="128.85" width="6.79" height="9.19" fill="#3e4ca6"/><rect x="312.59" y="128.85" width="6.79" height="9.19" fill="#3e4ca6"/><rect x="318.19" y="128.85" width="6.79" height="9.19" fill="#3e4ca6"/><rect x="323.78" y="128.85" width="6.79" height="9.19" fill="#3e4ca6"/><rect x="329.38" y="128.85" width="6.79" height="9.19" fill="#3e4ca6"/><rect x="334.97" y="128.85" width="6.79" height="9.19" fill="#3e4ca6"/><rect x="340.56" y="128.85" width="6.79" height="9.19" fill="#b9b7e0"/><rect x="346.16" y="128.85" width="6.79" height="9.19" fill="#b9b7e0"/><rect x="351.75" y="128.85" width="6.79" height="9.19" fill="#5c63b8"/><rect x="357.35" y="128.85" width="6.79" height="9.19" fill="#3e4ca6"/><rect x="362.94" y="128.85" width="6.79" height="9.19" fill="#8a8bcb"/><rect x="368.53" y="128.85" width="6.79" height="9.19" fill="#3e4ca6"/><rect x="374.13" y="128.85" width="6.79" height="9.19" fill="#5c63b8"/><rect x="379.72" y="128.85" width="6.79" height="9.19" fill="#5c63b8"/><rect x="385.32" y="128.85" width="6.79" height="9.19" fill="#5c63b8"/><rect x="390.91" y="128.85" width="6.79" height="9.19" fill="#3e4ca6"/><rect x="396.50" y="128.85" width="6.79" height="9.19" fill="#ecebf2"/><rect x="402.10" y="128.85" width="6.79" height="9.19" fill="#3e4ca6"/><rect x="407.69" y="128.85" width="6.79" height="9.19" fill="#5c63b8"/><rect x="413.29" y="128.85" width="6.79" height="9.19" fill="#5c63b8"/><rect x="418.88" y="128.85" width="6.79" height="9.19" fill="#3e4ca6"/><rect x="424.47" y="128.85" width="6.79" height="9.19" fill="#5c63b8"/><rect x="430.07" y="128.85" width="6.79" height="9.19" fill="#3e4ca6"/><rect x="435.66" y="128.85" width="6.79" height="9.19" fill="#3e4ca6"/><rect x="441.26" y="128.85" width="6.79" height="9.19" fill="#5c63b8"/><rect x="446.85" y="128.85" width="6.79" height="9.19" fill="#b9b7e0"/><rect x="452.44" y="128.85" width="6.79" height="9.19" fill="#8a8bcb"/><rect x="458.04" y="128.85" width="6.79" height="9.19" fill="#b9b7e0"/><rect x="463.63" y="128.85" width="6.79" height="9.19" fill="#3e4ca6"/><rect x="469.23" y="128.85" width="6.79" height="9.19" fill="#3e4ca6"/><rect x="474.82" y="128.85" width="6.79" height="9.19" fill="#3e4ca6"/><rect x="480.41" y="128.85" width="6.79" height="9.19" fill="#3e4ca6"/><rect x="486.01" y="128.85" width="6.79" height="9.19" fill="#5c63b8"/><rect x="27.30" y="136.84" width="6.79" height="9.19" fill="#3e4ca6"/><rect x="32.89" y="136.84" width="6.79" height="9.19" fill="#f3cbbf"/><rect x="38.49" y="136.84" width="6.79" height="9.19" fill="#3e4ca6"/><rect x="44.08" y="136.84" width="6.79" height="9.19" fill="#ecebf2"/><rect x="49.68" y="136.84" width="6.79" height="9.19" fill="#3e4ca6"/><rect x="55.27" y="136.84" width="6.79" height="9.19" fill="#3e4ca6"/><rect x="60.86" y="136.84" width="6.79" height="9.19" fill="#3e4ca6"/><rect x="66.46" y="136.84" width="6.79" height="9.19" fill="#3e4ca6"/><rect x="72.05" y="136.84" width="6.79" height="9.19" fill="#3e4ca6"/><rect x="77.65" y="136.84" width="6.79" height="9.19" fill="#8a8bcb"/><rect x="83.24" y="136.84" width="6.79" height="9.19" fill="#8a8bcb"/><rect x="88.83" y="136.84" width="6.79" height="9.19" fill="#f3cbbf"/><rect x="94.43" y="136.84" width="6.79" height="9.19" fill="#3e4ca6"/><rect x="100.02" y="136.84" width="6.79" height="9.19" fill="#f3cbbf"/><rect x="105.62" y="136.84" width="6.79" height="9.19" fill="#ecebf2"/><rect x="111.21" y="136.84" width="6.79" height="9.19" fill="#b9b7e0"/><rect x="116.80" y="136.84" width="6.79" height="9.19" fill="#5c63b8"/><rect x="122.40" y="136.84" width="6.79" height="9.19" fill="#b9b7e0"/><rect x="127.99" y="136.84" width="6.79" height="9.19" fill="#f3cbbf"/><rect x="133.59" y="136.84" width="6.79" height="9.19" fill="#f3cbbf"/><rect x="139.18" y="136.84" width="6.79" height="9.19" fill="#e9957f"/><rect x="144.77" y="136.84" width="6.79" height="9.19" fill="#e0614f"/><rect x="150.37" y="136.84" width="6.79" height="9.19" fill="#f3cbbf"/><rect x="155.96" y="136.84" width="6.79" height="9.19" fill="#ecebf2"/><rect x="161.56" y="136.84" width="6.79" height="9.19" fill="#5c63b8"/><rect x="167.15" y="136.84" width="6.79" height="9.19" fill="#ecebf2"/><rect x="172.74" y="136.84" width="6.79" height="9.19" fill="#8a8bcb"/><rect x="178.34" y="136.84" width="6.79" height="9.19" fill="#ecebf2"/><rect x="183.93" y="136.84" width="6.79" height="9.19" fill="#8a8bcb"/><rect x="189.53" y="136.84" width="6.79" height="9.19" fill="#b9b7e0"/><rect x="195.12" y="136.84" width="6.79" height="9.19" fill="#ecebf2"/><rect x="200.71" y="136.84" width="6.79" height="9.19" fill="#3e4ca6"/><rect x="206.31" y="136.84" width="6.79" height="9.19" fill="#ecebf2"/><rect x="211.90" y="136.84" width="6.79" height="9.19" fill="#e0614f"/><rect x="217.50" y="136.84" width="6.79" height="9.19" fill="#d22c2d"/><rect x="223.09" y="136.84" width="6.79" height="9.19" fill="#ecebf2"/><rect x="228.68" y="136.84" width="6.79" height="9.19" fill="#5c63b8"/><rect x="234.28" y="136.84" width="6.79" height="9.19" fill="#8a8bcb"/><rect x="239.87" y="136.84" width="6.79" height="9.19" fill="#b9b7e0"/><rect x="245.47" y="136.84" width="6.79" height="9.19" fill="#b9b7e0"/><rect x="251.06" y="136.84" width="6.79" height="9.19" fill="#b9b7e0"/><rect x="256.65" y="136.84" width="6.79" height="9.19" fill="#b9b7e0"/><rect x="262.25" y="136.84" width="6.79" height="9.19" fill="#ecebf2"/><rect x="267.84" y="136.84" width="6.79" height="9.19" fill="#ecebf2"/><rect x="273.44" y="136.84" width="6.79" height="9.19" fill="#b9b7e0"/><rect x="279.03" y="136.84" width="6.79" height="9.19" fill="#b9b7e0"/><rect x="284.62" y="136.84" width="6.79" height="9.19" fill="#b9b7e0"/><rect x="290.22" y="136.84" width="6.79" height="9.19" fill="#3e4ca6"/><rect x="295.81" y="136.84" width="6.79" height="9.19" fill="#3e4ca6"/><rect x="301.41" y="136.84" width="6.79" height="9.19" fill="#3e4ca6"/><rect x="307.00" y="136.84" width="6.79" height="9.19" fill="#3e4ca6"/><rect x="312.59" y="136.84" width="6.79" height="9.19" fill="#5c63b8"/><rect x="318.19" y="136.84" width="6.79" height="9.19" fill="#3e4ca6"/><rect x="323.78" y="136.84" width="6.79" height="9.19" fill="#b9b7e0"/><rect x="329.38" y="136.84" width="6.79" height="9.19" fill="#3e4ca6"/><rect x="334.97" y="136.84" width="6.79" height="9.19" fill="#3e4ca6"/><rect x="340.56" y="136.84" width="6.79" height="9.19" fill="#f3cbbf"/><rect x="346.16" y="136.84" width="6.79" height="9.19" fill="#8a8bcb"/><rect x="351.75" y="136.84" width="6.79" height="9.19" fill="#5c63b8"/><rect x="357.35" y="136.84" width="6.79" height="9.19" fill="#3e4ca6"/><rect x="362.94" y="136.84" width="6.79" height="9.19" fill="#f3cbbf"/><rect x="368.53" y="136.84" width="6.79" height="9.19" fill="#5c63b8"/><rect x="374.13" y="136.84" width="6.79" height="9.19" fill="#5c63b8"/><rect x="379.72" y="136.84" width="6.79" height="9.19" fill="#8a8bcb"/><rect x="385.32" y="136.84" width="6.79" height="9.19" fill="#5c63b8"/><rect x="390.91" y="136.84" width="6.79" height="9.19" fill="#3e4ca6"/><rect x="396.50" y="136.84" width="6.79" height="9.19" fill="#da4539"/><rect x="402.10" y="136.84" width="6.79" height="9.19" fill="#8a8bcb"/><rect x="407.69" y="136.84" width="6.79" height="9.19" fill="#8a8bcb"/><rect x="413.29" y="136.84" width="6.79" height="9.19" fill="#8a8bcb"/><rect x="418.88" y="136.84" width="6.79" height="9.19" fill="#3e4ca6"/><rect x="424.47" y="136.84" width="6.79" height="9.19" fill="#5c63b8"/><rect x="430.07" y="136.84" width="6.79" height="9.19" fill="#3e4ca6"/><rect x="435.66" y="136.84" width="6.79" height="9.19" fill="#3e4ca6"/><rect x="441.26" y="136.84" width="6.79" height="9.19" fill="#5c63b8"/><rect x="446.85" y="136.84" width="6.79" height="9.19" fill="#8a8bcb"/><rect x="452.44" y="136.84" width="6.79" height="9.19" fill="#b9b7e0"/><rect x="458.04" y="136.84" width="6.79" height="9.19" fill="#b9b7e0"/><rect x="463.63" y="136.84" width="6.79" height="9.19" fill="#5c63b8"/><rect x="469.23" y="136.84" width="6.79" height="9.19" fill="#3e4ca6"/><rect x="474.82" y="136.84" width="6.79" height="9.19" fill="#3e4ca6"/><rect x="480.41" y="136.84" width="6.79" height="9.19" fill="#3e4ca6"/><rect x="486.01" y="136.84" width="6.79" height="9.19" fill="#5c63b8"/><rect x="27.30" y="144.83" width="6.79" height="9.19" fill="#8a8bcb"/><rect x="32.89" y="144.83" width="6.79" height="9.19" fill="#8a8bcb"/><rect x="38.49" y="144.83" width="6.79" height="9.19" fill="#3e4ca6"/><rect x="44.08" y="144.83" width="6.79" height="9.19" fill="#8a8bcb"/><rect x="49.68" y="144.83" width="6.79" height="9.19" fill="#8a8bcb"/><rect x="55.27" y="144.83" width="6.79" height="9.19" fill="#cdd2c6"/><rect x="60.86" y="144.83" width="6.79" height="9.19" fill="#3e4ca6"/><rect x="66.46" y="144.83" width="6.79" height="9.19" fill="#f3cbbf"/><rect x="72.05" y="144.83" width="6.79" height="9.19" fill="#8a8bcb"/><rect x="77.65" y="144.83" width="6.79" height="9.19" fill="#8a8bcb"/><rect x="83.24" y="144.83" width="6.79" height="9.19" fill="#e0614f"/><rect x="88.83" y="144.83" width="6.79" height="9.19" fill="#b9b7e0"/><rect x="94.43" y="144.83" width="6.79" height="9.19" fill="#3e4ca6"/><rect x="100.02" y="144.83" width="6.79" height="9.19" fill="#e0614f"/><rect x="105.62" y="144.83" width="6.79" height="9.19" fill="#8a8bcb"/><rect x="111.21" y="144.83" width="6.79" height="9.19" fill="#8a8bcb"/><rect x="116.80" y="144.83" width="6.79" height="9.19" fill="#b9b7e0"/><rect x="122.40" y="144.83" width="6.79" height="9.19" fill="#ecebf2"/><rect x="127.99" y="144.83" width="6.79" height="9.19" fill="#f3cbbf"/><rect x="133.59" y="144.83" width="6.79" height="9.19" fill="#f3cbbf"/><rect x="139.18" y="144.83" width="6.79" height="9.19" fill="#b9b7e0"/><rect x="144.77" y="144.83" width="6.79" height="9.19" fill="#e0614f"/><rect x="150.37" y="144.83" width="6.79" height="9.19" fill="#ecebf2"/><rect x="155.96" y="144.83" width="6.79" height="9.19" fill="#ecebf2"/><rect x="161.56" y="144.83" width="6.79" height="9.19" fill="#8a8bcb"/><rect x="167.15" y="144.83" width="6.79" height="9.19" fill="#f3cbbf"/><rect x="172.74" y="144.83" width="6.79" height="9.19" fill="#ecebf2"/><rect x="178.34" y="144.83" width="6.79" height="9.19" fill="#8a8bcb"/><rect x="183.93" y="144.83" width="6.79" height="9.19" fill="#ecebf2"/><rect x="189.53" y="144.83" width="6.79" height="9.19" fill="#b9b7e0"/><rect x="195.12" y="144.83" width="6.79" height="9.19" fill="#ecebf2"/><rect x="200.71" y="144.83" width="6.79" height="9.19" fill="#3e4ca6"/><rect x="206.31" y="144.83" width="6.79" height="9.19" fill="#e9957f"/><rect x="211.90" y="144.83" width="6.79" height="9.19" fill="#ecebf2"/><rect x="217.50" y="144.83" width="6.79" height="9.19" fill="#8a8bcb"/><rect x="223.09" y="144.83" width="6.79" height="9.19" fill="#ecebf2"/><rect x="228.68" y="144.83" width="6.79" height="9.19" fill="#8a8bcb"/><rect x="234.28" y="144.83" width="6.79" height="9.19" fill="#8a8bcb"/><rect x="239.87" y="144.83" width="6.79" height="9.19" fill="#b9b7e0"/><rect x="245.47" y="144.83" width="6.79" height="9.19" fill="#ecebf2"/><rect x="251.06" y="144.83" width="6.79" height="9.19" fill="#8a8bcb"/><rect x="256.65" y="144.83" width="6.79" height="9.19" fill="#8a8bcb"/><rect x="262.25" y="144.83" width="6.79" height="9.19" fill="#b9b7e0"/><rect x="267.84" y="144.83" width="6.79" height="9.19" fill="#b9b7e0"/><rect x="273.44" y="144.83" width="6.79" height="9.19" fill="#8a8bcb"/><rect x="279.03" y="144.83" width="6.79" height="9.19" fill="#5c63b8"/><rect x="284.62" y="144.83" width="6.79" height="9.19" fill="#b9b7e0"/><rect x="290.22" y="144.83" width="6.79" height="9.19" fill="#3e4ca6"/><rect x="295.81" y="144.83" width="6.79" height="9.19" fill="#3e4ca6"/><rect x="301.41" y="144.83" width="6.79" height="9.19" fill="#3e4ca6"/><rect x="307.00" y="144.83" width="6.79" height="9.19" fill="#3e4ca6"/><rect x="312.59" y="144.83" width="6.79" height="9.19" fill="#3e4ca6"/><rect x="318.19" y="144.83" width="6.79" height="9.19" fill="#3e4ca6"/><rect x="323.78" y="144.83" width="6.79" height="9.19" fill="#8a8bcb"/><rect x="329.38" y="144.83" width="6.79" height="9.19" fill="#3e4ca6"/><rect x="334.97" y="144.83" width="6.79" height="9.19" fill="#3e4ca6"/><rect x="340.56" y="144.83" width="6.79" height="9.19" fill="#ecebf2"/><rect x="346.16" y="144.83" width="6.79" height="9.19" fill="#ecebf2"/><rect x="351.75" y="144.83" width="6.79" height="9.19" fill="#f3cbbf"/><rect x="357.35" y="144.83" width="6.79" height="9.19" fill="#5c63b8"/><rect x="362.94" y="144.83" width="6.79" height="9.19" fill="#e9957f"/><rect x="368.53" y="144.83" width="6.79" height="9.19" fill="#5c63b8"/><rect x="374.13" y="144.83" width="6.79" height="9.19" fill="#3e4ca6"/><rect x="379.72" y="144.83" width="6.79" height="9.19" fill="#b9b7e0"/><rect x="385.32" y="144.83" width="6.79" height="9.19" fill="#8a8bcb"/><rect x="390.91" y="144.83" width="6.79" height="9.19" fill="#5c63b8"/><rect x="396.50" y="144.83" width="6.79" height="9.19" fill="#e9957f"/><rect x="402.10" y="144.83" width="6.79" height="9.19" fill="#8a8bcb"/><rect x="407.69" y="144.83" width="6.79" height="9.19" fill="#5c63b8"/><rect x="413.29" y="144.83" width="6.79" height="9.19" fill="#8a8bcb"/><rect x="418.88" y="144.83" width="6.79" height="9.19" fill="#5c63b8"/><rect x="424.47" y="144.83" width="6.79" height="9.19" fill="#5c63b8"/><rect x="430.07" y="144.83" width="6.79" height="9.19" fill="#3e4ca6"/><rect x="435.66" y="144.83" width="6.79" height="9.19" fill="#3e4ca6"/><rect x="441.26" y="144.83" width="6.79" height="9.19" fill="#5c63b8"/><rect x="446.85" y="144.83" width="6.79" height="9.19" fill="#5c63b8"/><rect x="452.44" y="144.83" width="6.79" height="9.19" fill="#b9b7e0"/><rect x="458.04" y="144.83" width="6.79" height="9.19" fill="#b9b7e0"/><rect x="463.63" y="144.83" width="6.79" height="9.19" fill="#5c63b8"/><rect x="469.23" y="144.83" width="6.79" height="9.19" fill="#3e4ca6"/><rect x="474.82" y="144.83" width="6.79" height="9.19" fill="#5c63b8"/><rect x="480.41" y="144.83" width="6.79" height="9.19" fill="#5c63b8"/><rect x="486.01" y="144.83" width="6.79" height="9.19" fill="#8a8bcb"/></g>
<text x="494.8" y="24.55" style="font-family:'Liberation Sans',sans-serif;font-size:7.6px;font-weight:bold" fill="#111">SS2</text>
<text x="494.8" y="32.65" style="font-family:'Liberation Sans',sans-serif;font-size:7.6px;font-weight:bold" fill="#111">SS4</text>
<text x="494.8" y="40.75" style="font-family:'Liberation Sans',sans-serif;font-size:7.6px;font-weight:bold" fill="#111">SS8</text>
<text x="494.8" y="48.85" style="font-family:'Liberation Sans',sans-serif;font-size:7.6px;font-weight:bold" fill="#111">SS1</text>
<text x="494.8" y="56.95" style="font-family:'Liberation Sans',sans-serif;font-size:7.6px;font-weight:bold" fill="#111">SS6</text>
<text x="494.8" y="65.05" style="font-family:'Liberation Sans',sans-serif;font-size:7.6px;font-weight:bold" fill="#111">SS5</text>
<text x="494.8" y="73.15" style="font-family:'Liberation Sans',sans-serif;font-size:7.6px;font-weight:bold" fill="#111">SS7</text>
<text x="494.8" y="81.25" style="font-family:'Liberation Sans',sans-serif;font-size:7.6px;font-weight:bold" fill="#111">SS3</text>
<text x="494.8" y="95.70" style="font-family:'Liberation Sans',sans-serif;font-size:7.6px;font-weight:bold" fill="#111">SS5</text>
<text x="494.8" y="103.69" style="font-family:'Liberation Sans',sans-serif;font-size:7.6px;font-weight:bold" fill="#111">SS2</text>
<text x="494.8" y="111.67" style="font-family:'Liberation Sans',sans-serif;font-size:7.6px;font-weight:bold" fill="#111">SS4</text>
<text x="494.8" y="119.67" style="font-family:'Liberation Sans',sans-serif;font-size:7.6px;font-weight:bold" fill="#111">SS3</text>
<text x="494.8" y="127.66" style="font-family:'Liberation Sans',sans-serif;font-size:7.6px;font-weight:bold" fill="#111">SS1</text>
<text x="494.8" y="135.65" style="font-family:'Liberation Sans',sans-serif;font-size:7.6px;font-weight:bold" fill="#111">SS6</text>
<text x="494.8" y="143.64" style="font-family:'Liberation Sans',sans-serif;font-size:7.6px;font-weight:bold" fill="#111">SS7</text>
<text x="494.8" y="151.63" style="font-family:'Liberation Sans',sans-serif;font-size:7.6px;font-weight:bold" fill="#111">SS8</text>
<text transform="translate(32.40,155.8) rotate(-90)" text-anchor="end" style="font-family:'Liberation Sans',sans-serif;font-size:6.3px" fill="#000">CD1d</text>
<text transform="translate(37.99,155.8) rotate(-90)" text-anchor="end" style="font-family:'Liberation Sans',sans-serif;font-size:6.3px" fill="#000">CD49d</text>
<text transform="translate(43.59,155.8) rotate(-90)" text-anchor="end" style="font-family:'Liberation Sans',sans-serif;font-size:6.3px" fill="#000">CD75</text>
<text transform="translate(49.18,155.8) rotate(-90)" text-anchor="end" style="font-family:'Liberation Sans',sans-serif;font-size:6.3px" fill="#000">CD25</text>
<text transform="translate(54.77,155.8) rotate(-90)" text-anchor="end" style="font-family:'Liberation Sans',sans-serif;font-size:6.3px" fill="#000">CD20</text>
<text transform="translate(60.37,155.8) rotate(-90)" text-anchor="end" style="font-family:'Liberation Sans',sans-serif;font-size:6.3px" fill="#000">CD294</text>
<text transform="translate(65.96,155.8) rotate(-90)" text-anchor="end" style="font-family:'Liberation Sans',sans-serif;font-size:6.3px" fill="#000">CD177</text>
<text transform="translate(71.56,155.8) rotate(-90)" text-anchor="end" style="font-family:'Liberation Sans',sans-serif;font-size:6.3px" fill="#000">NKT</text>
<text transform="translate(77.15,155.8) rotate(-90)" text-anchor="end" style="font-family:'Liberation Sans',sans-serif;font-size:6.3px" fill="#000">CD15s</text>
<text transform="translate(82.74,155.8) rotate(-90)" text-anchor="end" style="font-family:'Liberation Sans',sans-serif;font-size:6.3px" fill="#000">CD11b</text>
<text transform="translate(88.34,155.8) rotate(-90)" text-anchor="end" style="font-family:'Liberation Sans',sans-serif;font-size:6.3px" fill="#000">HLA-DR</text>
<text transform="translate(93.93,155.8) rotate(-90)" text-anchor="end" style="font-family:'Liberation Sans',sans-serif;font-size:6.3px" fill="#000">CD158b</text>
<text transform="translate(99.52,155.8) rotate(-90)" text-anchor="end" style="font-family:'Liberation Sans',sans-serif;font-size:6.3px" fill="#000">CD196</text>
<text transform="translate(105.12,155.8) rotate(-90)" text-anchor="end" style="font-family:'Liberation Sans',sans-serif;font-size:6.3px" fill="#000">HLA-DR/DP/DQ</text>
<text transform="translate(110.71,155.8) rotate(-90)" text-anchor="end" style="font-family:'Liberation Sans',sans-serif;font-size:6.3px" fill="#000">CD146</text>
<text transform="translate(116.31,155.8) rotate(-90)" text-anchor="end" style="font-family:'Liberation Sans',sans-serif;font-size:6.3px" fill="#000">BLTR-1</text>
<text transform="translate(121.90,155.8) rotate(-90)" text-anchor="end" style="font-family:'Liberation Sans',sans-serif;font-size:6.3px" fill="#000">CLIP</text>
<text transform="translate(127.50,155.8) rotate(-90)" text-anchor="end" style="font-family:'Liberation Sans',sans-serif;font-size:6.3px" fill="#000">CD69</text>
<text transform="translate(133.09,155.8) rotate(-90)" text-anchor="end" style="font-family:'Liberation Sans',sans-serif;font-size:6.3px" fill="#000">CD27</text>
<text transform="translate(138.68,155.8) rotate(-90)" text-anchor="end" style="font-family:'Liberation Sans',sans-serif;font-size:6.3px" fill="#000">CD70</text>
<text transform="translate(144.28,155.8) rotate(-90)" text-anchor="end" style="font-family:'Liberation Sans',sans-serif;font-size:6.3px" fill="#000">CD200</text>
<text transform="translate(149.87,155.8) rotate(-90)" text-anchor="end" style="font-family:'Liberation Sans',sans-serif;font-size:6.3px" fill="#000">CD226</text>
<text transform="translate(155.47,155.8) rotate(-90)" text-anchor="end" style="font-family:'Liberation Sans',sans-serif;font-size:6.3px" fill="#000">CD134</text>
<text transform="translate(161.06,155.8) rotate(-90)" text-anchor="end" style="font-family:'Liberation Sans',sans-serif;font-size:6.3px" fill="#000">CD49b</text>
<text transform="translate(166.65,155.8) rotate(-90)" text-anchor="end" style="font-family:'Liberation Sans',sans-serif;font-size:6.3px" fill="#000">CD127</text>
<text transform="translate(172.25,155.8) rotate(-90)" text-anchor="end" style="font-family:'Liberation Sans',sans-serif;font-size:6.3px" fill="#000">CD197</text>
<text transform="translate(177.84,155.8) rotate(-90)" text-anchor="end" style="font-family:'Liberation Sans',sans-serif;font-size:6.3px" fill="#000">CD95</text>
<text transform="translate(183.44,155.8) rotate(-90)" text-anchor="end" style="font-family:'Liberation Sans',sans-serif;font-size:6.3px" fill="#000">CD151</text>
<text transform="translate(189.03,155.8) rotate(-90)" text-anchor="end" style="font-family:'Liberation Sans',sans-serif;font-size:6.3px" fill="#000">CD150</text>
<text transform="translate(194.62,155.8) rotate(-90)" text-anchor="end" style="font-family:'Liberation Sans',sans-serif;font-size:6.3px" fill="#000">CD107a</text>
<text transform="translate(200.22,155.8) rotate(-90)" text-anchor="end" style="font-family:'Liberation Sans',sans-serif;font-size:6.3px" fill="#000">CD71</text>
<text transform="translate(205.81,155.8) rotate(-90)" text-anchor="end" style="font-family:'Liberation Sans',sans-serif;font-size:6.3px" fill="#000">HLA-A2</text>
<text transform="translate(211.41,155.8) rotate(-90)" text-anchor="end" style="font-family:'Liberation Sans',sans-serif;font-size:6.3px" fill="#000">CD39</text>
<text transform="translate(217.00,155.8) rotate(-90)" text-anchor="end" style="font-family:'Liberation Sans',sans-serif;font-size:6.3px" fill="#000">CD62L</text>
<text transform="translate(222.59,155.8) rotate(-90)" text-anchor="end" style="font-family:'Liberation Sans',sans-serif;font-size:6.3px" fill="#000">CD2</text>
<text transform="translate(228.19,155.8) rotate(-90)" text-anchor="end" style="font-family:'Liberation Sans',sans-serif;font-size:6.3px" fill="#000">CD279</text>
<text transform="translate(233.78,155.8) rotate(-90)" text-anchor="end" style="font-family:'Liberation Sans',sans-serif;font-size:6.3px" fill="#000">CD48</text>
<text transform="translate(239.38,155.8) rotate(-90)" text-anchor="end" style="font-family:'Liberation Sans',sans-serif;font-size:6.3px" fill="#000">abTCR</text>
<text transform="translate(244.97,155.8) rotate(-90)" text-anchor="end" style="font-family:'Liberation Sans',sans-serif;font-size:6.3px" fill="#000">CD229</text>
<text transform="translate(250.56,155.8) rotate(-90)" text-anchor="end" style="font-family:'Liberation Sans',sans-serif;font-size:6.3px" fill="#000">CD100</text>
<text transform="translate(256.16,155.8) rotate(-90)" text-anchor="end" style="font-family:'Liberation Sans',sans-serif;font-size:6.3px" fill="#000">CD321</text>
<text transform="translate(261.75,155.8) rotate(-90)" text-anchor="end" style="font-family:'Liberation Sans',sans-serif;font-size:6.3px" fill="#000">CD37</text>
<text transform="translate(267.35,155.8) rotate(-90)" text-anchor="end" style="font-family:'Liberation Sans',sans-serif;font-size:6.3px" fill="#000">CD29</text>
<text transform="translate(272.94,155.8) rotate(-90)" text-anchor="end" style="font-family:'Liberation Sans',sans-serif;font-size:6.3px" fill="#000">CD9</text>
<text transform="translate(278.53,155.8) rotate(-90)" text-anchor="end" style="font-family:'Liberation Sans',sans-serif;font-size:6.3px" fill="#000">CD7</text>
<text transform="translate(284.13,155.8) rotate(-90)" text-anchor="end" style="font-family:'Liberation Sans',sans-serif;font-size:6.3px" fill="#000">CD49c</text>
<text transform="translate(289.72,155.8) rotate(-90)" text-anchor="end" style="font-family:'Liberation Sans',sans-serif;font-size:6.3px" fill="#000">CD45RO</text>
<text transform="translate(295.32,155.8) rotate(-90)" text-anchor="end" style="font-family:'Liberation Sans',sans-serif;font-size:6.3px" fill="#000">CD99</text>
<text transform="translate(300.91,155.8) rotate(-90)" text-anchor="end" style="font-family:'Liberation Sans',sans-serif;font-size:6.3px" fill="#000">CD44</text>
<text transform="translate(306.50,155.8) rotate(-90)" text-anchor="end" style="font-family:'Liberation Sans',sans-serif;font-size:6.3px" fill="#000">HLA-A–B–C</text>
<text transform="translate(312.10,155.8) rotate(-90)" text-anchor="end" style="font-family:'Liberation Sans',sans-serif;font-size:6.3px" fill="#000">CD5</text>
<text transform="translate(317.69,155.8) rotate(-90)" text-anchor="end" style="font-family:'Liberation Sans',sans-serif;font-size:6.3px" fill="#000">CD50</text>
<text transform="translate(323.29,155.8) rotate(-90)" text-anchor="end" style="font-family:'Liberation Sans',sans-serif;font-size:6.3px" fill="#000">CD11a</text>
<text transform="translate(328.88,155.8) rotate(-90)" text-anchor="end" style="font-family:'Liberation Sans',sans-serif;font-size:6.3px" fill="#000">CD45RB</text>
<text transform="translate(334.47,155.8) rotate(-90)" text-anchor="end" style="font-family:'Liberation Sans',sans-serif;font-size:6.3px" fill="#000">CD45</text>
<text transform="translate(340.07,155.8) rotate(-90)" text-anchor="end" style="font-family:'Liberation Sans',sans-serif;font-size:6.3px" fill="#000">CD3</text>
<text transform="translate(345.66,155.8) rotate(-90)" text-anchor="end" style="font-family:'Liberation Sans',sans-serif;font-size:6.3px" fill="#000">CD45RA</text>
<text transform="translate(351.26,155.8) rotate(-90)" text-anchor="end" style="font-family:'Liberation Sans',sans-serif;font-size:6.3px" fill="#000">CD49f</text>
<text transform="translate(356.85,155.8) rotate(-90)" text-anchor="end" style="font-family:'Liberation Sans',sans-serif;font-size:6.3px" fill="#000">CD184</text>
<text transform="translate(362.44,155.8) rotate(-90)" text-anchor="end" style="font-family:'Liberation Sans',sans-serif;font-size:6.3px" fill="#000">CD98</text>
<text transform="translate(368.04,155.8) rotate(-90)" text-anchor="end" style="font-family:'Liberation Sans',sans-serif;font-size:6.3px" fill="#000">CD164</text>
<text transform="translate(373.63,155.8) rotate(-90)" text-anchor="end" style="font-family:'Liberation Sans',sans-serif;font-size:6.3px" fill="#000">CD84</text>
<text transform="translate(379.23,155.8) rotate(-90)" text-anchor="end" style="font-family:'Liberation Sans',sans-serif;font-size:6.3px" fill="#000">CD49e</text>
<text transform="translate(384.82,155.8) rotate(-90)" text-anchor="end" style="font-family:'Liberation Sans',sans-serif;font-size:6.3px" fill="#000">CD38</text>
<text transform="translate(390.41,155.8) rotate(-90)" text-anchor="end" style="font-family:'Liberation Sans',sans-serif;font-size:6.3px" fill="#000">CD99R</text>
<text transform="translate(396.01,155.8) rotate(-90)" text-anchor="end" style="font-family:'Liberation Sans',sans-serif;font-size:6.3px" fill="#000">CD147</text>
<text transform="translate(401.60,155.8) rotate(-90)" text-anchor="end" style="font-family:'Liberation Sans',sans-serif;font-size:6.3px" fill="#000">CD43</text>
<text transform="translate(407.20,155.8) rotate(-90)" text-anchor="end" style="font-family:'Liberation Sans',sans-serif;font-size:6.3px" fill="#000">CD102</text>
<text transform="translate(412.79,155.8) rotate(-90)" text-anchor="end" style="font-family:'Liberation Sans',sans-serif;font-size:6.3px" fill="#000">CD162</text>
<text transform="translate(418.38,155.8) rotate(-90)" text-anchor="end" style="font-family:'Liberation Sans',sans-serif;font-size:6.3px" fill="#000">CD27</text>
<text transform="translate(423.98,155.8) rotate(-90)" text-anchor="end" style="font-family:'Liberation Sans',sans-serif;font-size:6.3px" fill="#000">CD46</text>
<text transform="translate(429.57,155.8) rotate(-90)" text-anchor="end" style="font-family:'Liberation Sans',sans-serif;font-size:6.3px" fill="#000">ICAM3</text>
<text transform="translate(435.17,155.8) rotate(-90)" text-anchor="end" style="font-family:'Liberation Sans',sans-serif;font-size:6.3px" fill="#000">CD47</text>
<text transform="translate(440.76,155.8) rotate(-90)" text-anchor="end" style="font-family:'Liberation Sans',sans-serif;font-size:6.3px" fill="#000">CD4</text>
<text transform="translate(446.35,155.8) rotate(-90)" text-anchor="end" style="font-family:'Liberation Sans',sans-serif;font-size:6.3px" fill="#000">CD28</text>
<text transform="translate(451.95,155.8) rotate(-90)" text-anchor="end" style="font-family:'Liberation Sans',sans-serif;font-size:6.3px" fill="#000">CD6</text>
<text transform="translate(457.54,155.8) rotate(-90)" text-anchor="end" style="font-family:'Liberation Sans',sans-serif;font-size:6.3px" fill="#000">CD53</text>
<text transform="translate(463.14,155.8) rotate(-90)" text-anchor="end" style="font-family:'Liberation Sans',sans-serif;font-size:6.3px" fill="#000">CD81</text>
<text transform="translate(468.73,155.8) rotate(-90)" text-anchor="end" style="font-family:'Liberation Sans',sans-serif;font-size:6.3px" fill="#000">CD55</text>
<text transform="translate(474.32,155.8) rotate(-90)" text-anchor="end" style="font-family:'Liberation Sans',sans-serif;font-size:6.3px" fill="#000">CD44</text>
<text transform="translate(479.92,155.8) rotate(-90)" text-anchor="end" style="font-family:'Liberation Sans',sans-serif;font-size:6.3px" fill="#000">CD26</text>
<text transform="translate(485.51,155.8) rotate(-90)" text-anchor="end" style="font-family:'Liberation Sans',sans-serif;font-size:6.3px" fill="#000">CD18</text>
<text transform="translate(491.11,155.8) rotate(-90)" text-anchor="end" style="font-family:'Liberation Sans',sans-serif;font-size:6.3px" fill="#000">CD59</text>
<text x="6.6" y="16.7" style="font-family:'Liberation Sans',sans-serif;font-size:11.3px;font-weight:bold" fill="#000">A</text>
<text x="7.3" y="91" style="font-family:'Liberation Sans',sans-serif;font-size:11.3px;font-weight:bold" fill="#000">B</text>
<text x="7.2" y="213.8" style="font-family:'Liberation Sans',sans-serif;font-size:11.3px;font-weight:bold" fill="#000">C</text>
<text transform="translate(16.3,52.6) rotate(-90)" text-anchor="middle" style="font-family:'Liberation Sans',sans-serif;font-size:8.2px;font-weight:bold" fill="#000">MFI</text>
<text transform="translate(16.6,118.2) rotate(-90)" text-anchor="middle" style="font-family:'Liberation Sans',sans-serif;font-size:7.6px;font-weight:bold" fill="#000">IQR90</text>
<g stroke="#707070" stroke-width="0.9" fill="none"><line x1="23.60" y1="29.85" x2="27.00" y2="29.85"/><line x1="23.60" y1="37.95" x2="27.00" y2="37.95"/><line x1="23.60" y1="29.85" x2="23.60" y2="37.95"/><line x1="21.50" y1="21.75" x2="27.00" y2="21.75"/><line x1="21.50" y1="33.90" x2="23.60" y2="33.90"/><line x1="21.50" y1="21.75" x2="21.50" y2="33.90"/><line x1="23.20" y1="46.05" x2="27.00" y2="46.05"/><line x1="23.20" y1="54.15" x2="27.00" y2="54.15"/><line x1="23.20" y1="46.05" x2="23.20" y2="54.15"/><line x1="23.80" y1="70.35" x2="27.00" y2="70.35"/><line x1="23.80" y1="78.45" x2="27.00" y2="78.45"/><line x1="23.80" y1="70.35" x2="23.80" y2="78.45"/><line x1="22.60" y1="62.25" x2="27.00" y2="62.25"/><line x1="22.60" y1="74.40" x2="23.80" y2="74.40"/><line x1="22.60" y1="62.25" x2="22.60" y2="74.40"/><line x1="21.20" y1="50.10" x2="23.20" y2="50.10"/><line x1="21.20" y1="68.33" x2="22.60" y2="68.33"/><line x1="21.20" y1="50.10" x2="21.20" y2="68.33"/><line x1="19.60" y1="27.82" x2="21.50" y2="27.82"/><line x1="19.60" y1="59.21" x2="21.20" y2="59.21"/><line x1="19.60" y1="27.82" x2="19.60" y2="59.21"/></g>
<g stroke="#707070" stroke-width="0.9" fill="none"><line x1="23.60" y1="100.89" x2="27.00" y2="100.89"/><line x1="23.60" y1="108.88" x2="27.00" y2="108.88"/><line x1="23.60" y1="100.89" x2="23.60" y2="108.88"/><line x1="21.50" y1="92.90" x2="27.00" y2="92.90"/><line x1="21.50" y1="104.88" x2="23.60" y2="104.88"/><line x1="21.50" y1="92.90" x2="21.50" y2="104.88"/><line x1="23.20" y1="116.87" x2="27.00" y2="116.87"/><line x1="23.20" y1="124.86" x2="27.00" y2="124.86"/><line x1="23.20" y1="116.87" x2="23.20" y2="124.86"/><line x1="23.80" y1="140.84" x2="27.00" y2="140.84"/><line x1="23.80" y1="148.83" x2="27.00" y2="148.83"/><line x1="23.80" y1="140.84" x2="23.80" y2="148.83"/><line x1="22.60" y1="132.84" x2="27.00" y2="132.84"/><line x1="22.60" y1="144.83" x2="23.80" y2="144.83"/><line x1="22.60" y1="132.84" x2="22.60" y2="144.83"/><line x1="21.20" y1="120.86" x2="23.20" y2="120.86"/><line x1="21.20" y1="138.84" x2="22.60" y2="138.84"/><line x1="21.20" y1="120.86" x2="21.20" y2="138.84"/><line x1="18.80" y1="98.89" x2="21.50" y2="98.89"/><line x1="18.80" y1="129.85" x2="21.20" y2="129.85"/><line x1="18.80" y1="98.89" x2="18.80" y2="129.85"/></g>
<g><line x1="30" y1="14.6" x2="58" y2="14.6" stroke="#222" stroke-width="1.1"/><line x1="58" y1="14.4" x2="80" y2="14.4" stroke="#333" stroke-width="1.0"/><line x1="80" y1="14.8" x2="110" y2="14.8" stroke="#555" stroke-width="0.8"/><line x1="114" y1="14.9" x2="150" y2="14.9" stroke="#555" stroke-width="0.8"/><line x1="150" y1="14.5" x2="200" y2="14.5" stroke="#444" stroke-width="0.9"/><line x1="204" y1="14.8" x2="232" y2="14.8" stroke="#666" stroke-width="0.8"/><line x1="236" y1="14.7" x2="290" y2="14.7" stroke="#666" stroke-width="0.8"/><line x1="300" y1="14.6" x2="340" y2="14.6" stroke="#444" stroke-width="0.9"/><line x1="346" y1="14.2" x2="395" y2="14.2" stroke="#333" stroke-width="1.0"/><line x1="395" y1="14.6" x2="440" y2="14.6" stroke="#555" stroke-width="0.8"/><line x1="440" y1="14.9" x2="489" y2="14.9" stroke="#555" stroke-width="0.8"/><line x1="32" y1="15.6" x2="70" y2="15.6" stroke="#888" stroke-width="0.6"/><line x1="85" y1="15.7" x2="140" y2="15.7" stroke="#999" stroke-width="0.6"/><line x1="160" y1="15.7" x2="230" y2="15.7" stroke="#999" stroke-width="0.6"/><line x1="240" y1="15.6" x2="330" y2="15.6" stroke="#999" stroke-width="0.6"/><line x1="350" y1="15.5" x2="470" y2="15.5" stroke="#888" stroke-width="0.6"/><line x1="30" y1="13.8" x2="112" y2="13.8" stroke="#444" stroke-width="0.7"/><line x1="112.5" y1="12.1" x2="203" y2="12.1" stroke="#555" stroke-width="0.8"/><line x1="112.5" y1="12.1" x2="112.5" y2="14.4" stroke="#555" stroke-width="0.8"/><line x1="203" y1="12.1" x2="203" y2="14.2" stroke="#555" stroke-width="0.8"/><line x1="205" y1="13.2" x2="240" y2="13.2" stroke="#666" stroke-width="0.7"/><line x1="163.5" y1="9.2" x2="341.5" y2="9.2" stroke="#444" stroke-width="0.8"/><line x1="163.5" y1="9.2" x2="163.5" y2="12.1" stroke="#444" stroke-width="0.8"/><line x1="341.5" y1="9.2" x2="341.5" y2="12.2" stroke="#444" stroke-width="0.8"/><line x1="297" y1="12.2" x2="390" y2="12.2" stroke="#555" stroke-width="0.8"/><line x1="297" y1="12.2" x2="297" y2="14.4" stroke="#555" stroke-width="0.8"/><line x1="390" y1="12.2" x2="390" y2="13.6" stroke="#555" stroke-width="0.8"/><line x1="236" y1="13.6" x2="297" y2="13.6" stroke="#777" stroke-width="0.6"/><line x1="390" y1="13.6" x2="489" y2="13.6" stroke="#666" stroke-width="0.7"/></g>
<defs><linearGradient id="g450184" x1="0" x2="1" y1="0" y2="0"><stop offset="0" stop-color="#2d3b96"/><stop offset="0.25" stop-color="#5a66b4"/><stop offset="0.5" stop-color="#f6f4f8"/><stop offset="0.75" stop-color="#e0808a"/><stop offset="0.93" stop-color="#cf2433"/><stop offset="1" stop-color="#b3172a"/></linearGradient></defs>
<rect x="450.8" y="184.4" width="41.2" height="6.2" fill="url(#g450184)"/>
<text x="449.6" y="189.9" text-anchor="end" style="font-family:'Liberation Sans',sans-serif;font-size:7.2px" fill="#333">Low</text>
<text x="493.6" y="189.9" style="font-family:'Liberation Sans',sans-serif;font-size:7.2px" fill="#333">High</text>
<defs><linearGradient id="g450419" x1="0" x2="1" y1="0" y2="0"><stop offset="0" stop-color="#2d3b96"/><stop offset="0.25" stop-color="#5a66b4"/><stop offset="0.5" stop-color="#f6f4f8"/><stop offset="0.75" stop-color="#e0808a"/><stop offset="0.93" stop-color="#cf2433"/><stop offset="1" stop-color="#b3172a"/></linearGradient></defs>
<rect x="450.8" y="419.0" width="41.2" height="5.8" fill="url(#g450419)"/>
<text x="449.6" y="424.4" text-anchor="end" style="font-family:'Liberation Sans',sans-serif;font-size:7.2px" fill="#333">Low</text>
<text x="493.6" y="424.4" style="font-family:'Liberation Sans',sans-serif;font-size:7.2px" fill="#333">High</text>
<text x="471.5" y="432.2" text-anchor="middle" style="font-family:'Liberation Sans',sans-serif;font-size:6.6px;font-weight:bold" fill="#222">IQR90</text>
<text x="29.90" y="216.9" text-anchor="middle" style="font-family:'Liberation Sans',sans-serif;font-size:5.7px;font-weight:bold" fill="#000">CD134</text>
<text x="54.72" y="216.9" text-anchor="middle" style="font-family:'Liberation Sans',sans-serif;font-size:5.7px;font-weight:bold" fill="#000">CD151</text>
<text x="79.54" y="216.9" text-anchor="middle" style="font-family:'Liberation Sans',sans-serif;font-size:5.7px;font-weight:bold" fill="#000">CD15s</text>
<text x="104.36" y="216.9" text-anchor="middle" style="font-family:'Liberation Sans',sans-serif;font-size:5.7px;font-weight:bold" fill="#000">CD164</text>
<text x="129.18" y="216.9" text-anchor="middle" style="font-family:'Liberation Sans',sans-serif;font-size:5.7px;font-weight:bold" fill="#000">CD197</text>
<text x="154.00" y="216.9" text-anchor="middle" style="font-family:'Liberation Sans',sans-serif;font-size:5.7px;font-weight:bold" fill="#000">CD2</text>
<text x="178.82" y="216.9" text-anchor="middle" style="font-family:'Liberation Sans',sans-serif;font-size:5.7px;font-weight:bold" fill="#000">CD200</text>
<text x="203.64" y="216.9" text-anchor="middle" style="font-family:'Liberation Sans',sans-serif;font-size:5.7px;font-weight:bold" fill="#000">CD226</text>
<text x="228.46" y="216.9" text-anchor="middle" style="font-family:'Liberation Sans',sans-serif;font-size:5.7px;font-weight:bold" fill="#000">CD227</text>
<text x="253.28" y="216.9" text-anchor="middle" style="font-family:'Liberation Sans',sans-serif;font-size:5.7px;font-weight:bold" fill="#000">CD279</text>
<text x="278.10" y="216.9" text-anchor="middle" style="font-family:'Liberation Sans',sans-serif;font-size:5.7px;font-weight:bold" fill="#000">CD29</text>
<text x="302.92" y="216.9" text-anchor="middle" style="font-family:'Liberation Sans',sans-serif;font-size:5.7px;font-weight:bold" fill="#000">CD39</text>
<text x="327.74" y="216.9" text-anchor="middle" style="font-family:'Liberation Sans',sans-serif;font-size:5.7px;font-weight:bold" fill="#000">CD43</text>
<text x="352.56" y="216.9" text-anchor="middle" style="font-family:'Liberation Sans',sans-serif;font-size:5.7px;font-weight:bold" fill="#000">CD45RA</text>
<text x="377.38" y="216.9" text-anchor="middle" style="font-family:'Liberation Sans',sans-serif;font-size:5.7px;font-weight:bold" fill="#000">CD45RO</text>
<text x="402.20" y="216.9" text-anchor="middle" style="font-family:'Liberation Sans',sans-serif;font-size:5.7px;font-weight:bold" fill="#000">CD62L</text>
<text x="427.02" y="216.9" text-anchor="middle" style="font-family:'Liberation Sans',sans-serif;font-size:5.7px;font-weight:bold" fill="#000">CD70</text>
<text x="451.84" y="216.9" text-anchor="middle" style="font-family:'Liberation Sans',sans-serif;font-size:5.7px;font-weight:bold" fill="#000">CD71</text>
<text x="476.66" y="216.9" text-anchor="middle" style="font-family:'Liberation Sans',sans-serif;font-size:5.7px;font-weight:bold" fill="#000">HLA-DR</text>
<text x="501.48" y="216.9" text-anchor="middle" style="font-family:'Liberation Sans',sans-serif;font-size:5.7px;font-weight:bold" fill="#000">HLA-D*</text>
<text transform="translate(15.6,230.55) rotate(-90)" text-anchor="middle" style="font-family:'Liberation Sans',sans-serif;font-size:5.5px;font-weight:bold" fill="#000">SS1</text>
<text transform="translate(15.6,255.17) rotate(-90)" text-anchor="middle" style="font-family:'Liberation Sans',sans-serif;font-size:5.5px;font-weight:bold" fill="#000">SS2</text>
<text transform="translate(15.6,279.79) rotate(-90)" text-anchor="middle" style="font-family:'Liberation Sans',sans-serif;font-size:5.5px;font-weight:bold" fill="#000">SS3</text>
<text transform="translate(15.6,304.41) rotate(-90)" text-anchor="middle" style="font-family:'Liberation Sans',sans-serif;font-size:5.5px;font-weight:bold" fill="#000">SS4</text>
<text transform="translate(15.6,329.03) rotate(-90)" text-anchor="middle" style="font-family:'Liberation Sans',sans-serif;font-size:5.5px;font-weight:bold" fill="#000">SS5</text>
<text transform="translate(15.6,353.65) rotate(-90)" text-anchor="middle" style="font-family:'Liberation Sans',sans-serif;font-size:5.5px;font-weight:bold" fill="#000">SS6</text>
<text transform="translate(15.6,378.27) rotate(-90)" text-anchor="middle" style="font-family:'Liberation Sans',sans-serif;font-size:5.5px;font-weight:bold" fill="#000">SS7</text>
<text transform="translate(15.6,402.89) rotate(-90)" text-anchor="middle" style="font-family:'Liberation Sans',sans-serif;font-size:5.5px;font-weight:bold" fill="#000">SS8</text>
<rect x="18.65" y="219.05" width="22.50" height="23.25" fill="none" stroke="#e0e0e0" stroke-width="0.6"/>
<path d="M21.2,242.3 L21.2,241.9 L21.6,241.6 L22.0,240.8 L22.4,239.5 L22.8,237.3 L23.2,234.1 L23.6,229.8 L24.0,224.9 L24.4,220.7 L24.8,220.7 L25.2,223.8 L25.6,228.0 L26.0,231.5 L26.4,233.9 L26.8,235.1 L27.2,235.5 L27.6,235.5 L28.0,235.5 L28.4,235.8 L28.8,236.1 L29.2,236.4 L29.6,236.5 L30.0,236.5 L30.4,236.2 L30.8,235.8 L31.2,235.3 L31.6,234.8 L32.0,234.5 L32.4,234.9 L32.8,235.7 L33.2,236.6 L33.6,237.5 L34.0,238.4 L34.4,239.3 L34.8,240.0 L35.2,240.5 L35.6,241.0 L36.0,241.4 L36.4,241.7 L36.8,241.9 L37.2,242.0 L37.2,242.3 Z" fill="#f3d4d4" stroke="#262626" stroke-width="1.05" stroke-linejoin="round"/>
<path d="M22.4,241.5 L22.6,241.3 L22.8,240.9 L23.0,240.4 L23.2,239.7 L23.4,238.9 L23.6,237.9 L23.8,236.6 L24.0,235.1 L24.2,233.4 L24.4,231.4 L24.6,229.2 L24.8,226.9 L25.0,224.7 L25.2,222.7 L25.4,221.6 L25.6,222.7 L25.8,224.7 L26.0,226.9 L26.2,229.2 L26.4,231.4 L26.6,233.4 L26.8,235.1 L27.0,236.6 L27.2,237.9 L27.4,238.9 L27.6,239.7 L27.8,240.4 L28.0,240.9 L28.2,241.3 L28.4,241.5" fill="none" stroke="#111" stroke-width="1.1" stroke-dasharray="1.1,1.9"/>
<line x1="18.40" y1="242.30" x2="41.40" y2="242.30" stroke="#c8c8c8" stroke-width="0.6"/>
<rect x="43.47" y="219.05" width="22.50" height="23.25" fill="none" stroke="#e0e0e0" stroke-width="0.6"/>
<path d="M47.2,242.3 L47.2,241.8 L47.6,241.4 L48.0,240.7 L48.4,239.5 L48.8,237.8 L49.2,235.3 L49.6,232.1 L50.0,228.4 L50.4,224.8 L50.8,222.6 L51.2,223.1 L51.6,224.1 L52.0,224.7 L52.4,224.5 L52.8,223.7 L53.2,222.5 L53.6,221.8 L54.0,220.9 L54.4,220.7 L54.8,220.7 L55.2,220.7 L55.6,220.7 L56.0,222.6 L56.4,227.0 L56.8,231.1 L57.2,234.5 L57.6,237.2 L58.0,239.0 L58.4,240.3 L58.8,241.1 L59.2,241.6 L59.6,241.9 L59.6,242.3 Z" fill="#c3c7ea" stroke="#262626" stroke-width="1.05" stroke-linejoin="round"/>
<path d="M45.2,241.5 L45.4,241.3 L45.6,240.9 L45.8,240.4 L46.0,239.7 L46.2,238.9 L46.4,237.9 L46.6,236.6 L46.8,235.1 L47.0,233.4 L47.2,231.4 L47.4,229.2 L47.6,226.9 L47.8,224.7 L48.0,222.7 L48.2,221.6 L48.4,222.7 L48.6,224.7 L48.8,226.9 L49.0,229.2 L49.2,231.4 L49.4,233.4 L49.6,235.1 L49.8,236.6 L50.0,237.9 L50.2,238.9 L50.4,239.7 L50.6,240.4 L50.8,240.9 L51.0,241.3 L51.2,241.5" fill="none" stroke="#111" stroke-width="1.1" stroke-dasharray="1.1,1.9"/>
<line x1="43.22" y1="242.30" x2="66.22" y2="242.30" stroke="#c8c8c8" stroke-width="0.6"/>
<rect x="68.29" y="219.05" width="22.50" height="23.25" fill="none" stroke="#e0e0e0" stroke-width="0.6"/>
<path d="M71.2,242.3 L71.2,242.0 L71.6,241.7 L72.0,241.3 L72.4,240.7 L72.8,239.7 L73.2,238.3 L73.6,236.3 L74.0,233.8 L74.4,230.8 L74.8,227.5 L75.2,224.4 L75.6,222.2 L76.0,223.1 L76.4,225.9 L76.8,229.2 L77.2,232.4 L77.6,235.2 L78.0,237.4 L78.4,239.1 L78.8,240.2 L79.2,241.0 L79.6,241.6 L80.0,241.9 L80.0,242.3 Z" fill="#98a0d6" stroke="#262626" stroke-width="1.05" stroke-linejoin="round"/>
<path d="M71.0,241.5 L71.2,241.3 L71.4,240.9 L71.6,240.4 L71.8,239.7 L72.0,238.9 L72.2,237.9 L72.4,236.6 L72.6,235.1 L72.8,233.4 L73.0,231.4 L73.2,229.2 L73.4,226.9 L73.6,224.7 L73.8,222.7 L74.0,221.6 L74.2,222.7 L74.4,224.7 L74.6,226.9 L74.8,229.2 L75.0,231.4 L75.2,233.4 L75.4,235.1 L75.6,236.6 L75.8,237.9 L76.0,238.9 L76.2,239.7 L76.4,240.4 L76.6,240.9 L76.8,241.3 L77.0,241.5" fill="none" stroke="#111" stroke-width="1.1" stroke-dasharray="1.1,1.9"/>
<line x1="68.04" y1="242.30" x2="91.04" y2="242.30" stroke="#c8c8c8" stroke-width="0.6"/>
<rect x="93.11" y="219.05" width="22.50" height="23.25" fill="none" stroke="#e0e0e0" stroke-width="0.6"/>
<path d="M93.7,242.3 L93.7,242.0 L94.1,241.9 L94.5,241.9 L94.9,241.8 L95.3,241.7 L95.7,241.5 L96.1,241.4 L96.5,241.2 L96.9,240.9 L97.3,240.7 L97.7,240.4 L98.1,240.0 L98.5,239.6 L98.9,239.2 L99.3,238.6 L99.7,238.1 L100.1,237.4 L100.5,236.7 L100.9,235.9 L101.3,235.0 L101.7,234.1 L102.1,233.1 L102.5,232.0 L102.9,230.9 L103.3,229.7 L103.7,228.6 L104.1,227.4 L104.5,226.2 L104.9,225.0 L105.3,224.0 L105.7,223.0 L106.1,222.2 L106.5,221.7 L106.9,221.7 L107.3,222.2 L107.7,223.0 L108.1,224.0 L108.5,225.0 L108.9,226.2 L109.3,227.4 L109.7,228.6 L110.1,229.7 L110.5,230.9 L110.9,232.0 L111.3,233.1 L111.7,234.1 L112.1,235.0 L112.5,235.9 L112.9,236.7 L113.3,237.4 L113.7,238.1 L114.1,238.6 L114.5,239.2 L114.9,239.6 L115.3,240.0 L115.7,240.4 L115.7,242.3 Z" fill="#d2464e" stroke="#262626" stroke-width="1.05" stroke-linejoin="round"/>
<path d="M95.7,241.5 L95.9,241.3 L96.1,240.9 L96.3,240.4 L96.5,239.7 L96.7,238.9 L96.9,237.9 L97.1,236.6 L97.3,235.1 L97.5,233.4 L97.7,231.4 L97.9,229.2 L98.1,226.9 L98.3,224.7 L98.5,222.7 L98.7,221.6 L98.9,222.7 L99.1,224.7 L99.3,226.9 L99.5,229.2 L99.7,231.4 L99.9,233.4 L100.1,235.1 L100.3,236.6 L100.5,237.9 L100.7,238.9 L100.9,239.7 L101.1,240.4 L101.3,240.9 L101.5,241.3 L101.7,241.5" fill="none" stroke="#111" stroke-width="1.1" stroke-dasharray="1.1,1.9"/>
<line x1="92.86" y1="242.30" x2="115.86" y2="242.30" stroke="#c8c8c8" stroke-width="0.6"/>
<rect x="117.93" y="219.05" width="22.50" height="23.25" fill="none" stroke="#e0e0e0" stroke-width="0.6"/>
<path d="M120.5,242.3 L120.5,241.9 L120.9,241.7 L121.3,241.5 L121.7,241.0 L122.1,240.5 L122.5,239.7 L122.9,238.7 L123.3,237.4 L123.7,235.8 L124.1,233.8 L124.5,231.6 L124.9,229.1 L125.3,226.6 L125.7,224.2 L126.1,222.3 L126.5,221.7 L126.9,223.1 L127.3,225.3 L127.7,227.8 L128.1,230.4 L128.5,232.7 L128.9,234.8 L129.3,236.6 L129.7,238.1 L130.1,239.2 L130.5,240.1 L130.9,240.8 L131.3,241.3 L131.7,241.6 L132.1,241.8 L132.5,242.0 L132.5,242.3 Z" fill="#98a0d6" stroke="#262626" stroke-width="1.05" stroke-linejoin="round"/>
<path d="M119.8,241.5 L120.0,241.3 L120.2,240.9 L120.4,240.4 L120.6,239.7 L120.8,238.9 L121.0,237.9 L121.2,236.6 L121.4,235.1 L121.6,233.4 L121.8,231.4 L122.0,229.2 L122.2,226.9 L122.4,224.7 L122.6,222.7 L122.8,221.6 L123.0,222.7 L123.2,224.7 L123.4,226.9 L123.6,229.2 L123.8,231.4 L124.0,233.4 L124.2,235.1 L124.4,236.6 L124.6,237.9 L124.8,238.9 L125.0,239.7 L125.2,240.4 L125.4,240.9 L125.6,241.3 L125.8,241.5" fill="none" stroke="#111" stroke-width="1.1" stroke-dasharray="1.1,1.9"/>
<line x1="117.68" y1="242.30" x2="140.68" y2="242.30" stroke="#c8c8c8" stroke-width="0.6"/>
<rect x="142.75" y="219.05" width="22.50" height="23.25" fill="none" stroke="#e0e0e0" stroke-width="0.6"/>
<path d="M156.9,242.3 L156.9,241.9 L157.3,241.4 L157.7,240.4 L158.1,238.6 L158.5,235.7 L158.9,231.6 L159.3,226.9 L159.7,223.1 L160.1,224.7 L160.5,229.2 L160.9,233.8 L161.3,237.3 L161.7,239.6 L162.1,241.0 L162.5,241.7 L162.5,242.3 Z" fill="#4757a6" stroke="#262626" stroke-width="1.05" stroke-linejoin="round"/>
<path d="M146.0,241.5 L146.2,241.3 L146.4,240.9 L146.6,240.4 L146.8,239.7 L147.0,238.9 L147.2,237.9 L147.4,236.6 L147.6,235.1 L147.8,233.4 L148.0,231.4 L148.2,229.2 L148.4,226.9 L148.6,224.7 L148.8,222.7 L149.0,221.6 L149.2,222.7 L149.4,224.7 L149.6,226.9 L149.8,229.2 L150.0,231.4 L150.2,233.4 L150.4,235.1 L150.6,236.6 L150.8,237.9 L151.0,238.9 L151.2,239.7 L151.4,240.4 L151.6,240.9 L151.8,241.3 L152.0,241.5" fill="none" stroke="#111" stroke-width="1.1" stroke-dasharray="1.1,1.9"/>
<line x1="142.50" y1="242.30" x2="165.50" y2="242.30" stroke="#c8c8c8" stroke-width="0.6"/>
<rect x="167.57" y="219.05" width="22.50" height="23.25" fill="none" stroke="#e0e0e0" stroke-width="0.6"/>
<path d="M169.7,242.3 L169.7,241.9 L170.1,241.6 L170.5,241.0 L170.9,240.1 L171.3,238.7 L171.7,236.6 L172.1,233.6 L172.5,229.7 L172.9,225.4 L173.3,221.5 L173.7,220.7 L174.1,222.1 L174.5,225.3 L174.9,228.5 L175.3,231.0 L175.7,232.7 L176.1,233.7 L176.5,234.2 L176.9,234.6 L177.3,235.3 L177.7,235.9 L178.1,236.5 L178.5,237.0 L178.9,237.5 L179.3,237.8 L179.7,238.0 L180.1,238.0 L180.5,237.9 L180.9,237.6 L181.3,237.3 L181.7,236.9 L182.1,236.7 L182.5,236.9 L182.9,237.4 L183.3,238.1 L183.7,238.9 L184.1,239.6 L184.5,240.2 L184.9,240.7 L185.3,241.1 L185.7,241.5 L186.1,241.7 L186.5,241.9 L186.5,242.3 Z" fill="#e8a2a2" stroke="#262626" stroke-width="1.05" stroke-linejoin="round"/>
<path d="M169.2,241.5 L169.4,241.3 L169.6,240.9 L169.8,240.4 L170.0,239.7 L170.2,238.9 L170.4,237.9 L170.6,236.6 L170.8,235.1 L171.0,233.4 L171.2,231.4 L171.4,229.2 L171.6,226.9 L171.8,224.7 L172.0,222.7 L172.2,221.6 L172.4,222.7 L172.6,224.7 L172.8,226.9 L173.0,229.2 L173.2,231.4 L173.4,233.4 L173.6,235.1 L173.8,236.6 L174.0,237.9 L174.2,238.9 L174.4,239.7 L174.6,240.4 L174.8,240.9 L175.0,241.3 L175.2,241.5" fill="none" stroke="#111" stroke-width="1.1" stroke-dasharray="1.1,1.9"/>
<line x1="167.32" y1="242.30" x2="190.32" y2="242.30" stroke="#c8c8c8" stroke-width="0.6"/>
<rect x="192.39" y="219.05" width="22.50" height="23.25" fill="none" stroke="#e0e0e0" stroke-width="0.6"/>
<path d="M194.5,242.3 L194.5,241.9 L194.9,241.6 L195.3,241.1 L195.7,240.3 L196.1,239.0 L196.5,237.1 L196.9,234.5 L197.3,231.2 L197.7,227.4 L198.1,223.5 L198.5,220.7 L198.9,221.2 L199.3,223.8 L199.7,226.7 L200.1,229.2 L200.5,231.0 L200.9,232.0 L201.3,232.4 L201.7,232.4 L202.1,232.4 L202.5,233.2 L202.9,234.2 L203.3,235.2 L203.7,236.0 L204.1,236.6 L204.5,237.0 L204.9,237.0 L205.3,236.7 L205.7,236.1 L206.1,235.4 L206.5,234.4 L206.9,233.5 L207.3,232.7 L207.7,232.6 L208.1,233.3 L208.5,234.3 L208.9,235.5 L209.3,236.7 L209.7,237.8 L210.1,238.8 L210.5,239.7 L210.9,240.3 L211.3,240.9 L211.7,241.3 L212.1,241.6 L212.5,241.8 L212.9,242.0 L212.9,242.3 Z" fill="#d2464e" stroke="#262626" stroke-width="1.05" stroke-linejoin="round"/>
<path d="M195.0,241.5 L195.2,241.3 L195.4,240.9 L195.6,240.4 L195.8,239.7 L196.0,238.9 L196.2,237.9 L196.4,236.6 L196.6,235.1 L196.8,233.4 L197.0,231.4 L197.2,229.2 L197.4,226.9 L197.6,224.7 L197.8,222.7 L198.0,221.6 L198.2,222.7 L198.4,224.7 L198.6,226.9 L198.8,229.2 L199.0,231.4 L199.2,233.4 L199.4,235.1 L199.6,236.6 L199.8,237.9 L200.0,238.9 L200.2,239.7 L200.4,240.4 L200.6,240.9 L200.8,241.3 L201.0,241.5" fill="none" stroke="#111" stroke-width="1.1" stroke-dasharray="1.1,1.9"/>
<line x1="192.14" y1="242.30" x2="215.14" y2="242.30" stroke="#c8c8c8" stroke-width="0.6"/>
<rect x="217.21" y="219.05" width="22.50" height="23.25" fill="none" stroke="#e0e0e0" stroke-width="0.6"/>
<path d="M219.0,242.3 L219.0,242.0 L219.4,241.7 L219.8,241.3 L220.2,240.5 L220.6,239.3 L221.0,237.5 L221.4,234.8 L221.8,231.4 L222.2,227.4 L222.6,223.5 L223.0,221.0 L223.4,222.7 L223.8,226.0 L224.2,229.3 L224.6,232.1 L225.0,234.1 L225.4,235.5 L225.8,236.3 L226.2,237.0 L226.6,237.6 L227.0,238.2 L227.4,238.7 L227.8,239.2 L228.2,239.7 L228.6,240.1 L229.0,240.5 L229.4,240.9 L229.8,241.2 L230.2,241.4 L230.6,241.6 L231.0,241.8 L231.4,241.9 L231.8,242.0 L231.8,242.3 Z" fill="#98a0d6" stroke="#262626" stroke-width="1.05" stroke-linejoin="round"/>
<path d="M219.7,241.5 L219.9,241.3 L220.1,240.9 L220.3,240.4 L220.5,239.7 L220.7,238.9 L220.9,237.9 L221.1,236.6 L221.3,235.1 L221.5,233.4 L221.7,231.4 L221.9,229.2 L222.1,226.9 L222.3,224.7 L222.5,222.7 L222.7,221.6 L222.9,222.7 L223.1,224.7 L223.3,226.9 L223.5,229.2 L223.7,231.4 L223.9,233.4 L224.1,235.1 L224.3,236.6 L224.5,237.9 L224.7,238.9 L224.9,239.7 L225.1,240.4 L225.3,240.9 L225.5,241.3 L225.7,241.5" fill="none" stroke="#111" stroke-width="1.1" stroke-dasharray="1.1,1.9"/>
<line x1="216.96" y1="242.30" x2="239.96" y2="242.30" stroke="#c8c8c8" stroke-width="0.6"/>
<rect x="242.03" y="219.05" width="22.50" height="23.25" fill="none" stroke="#e0e0e0" stroke-width="0.6"/>
<path d="M243.4,242.3 L243.4,242.0 L243.8,241.7 L244.2,241.3 L244.6,240.5 L245.0,239.1 L245.4,237.0 L245.8,233.9 L246.2,229.9 L246.6,225.5 L247.0,222.2 L247.4,223.4 L247.8,227.3 L248.2,231.3 L248.6,234.7 L249.0,237.1 L249.4,238.6 L249.8,239.4 L250.2,239.8 L250.6,239.9 L251.0,239.9 L251.4,239.8 L251.8,239.7 L252.2,239.6 L252.6,239.5 L253.0,239.4 L253.4,239.2 L253.8,239.0 L254.2,238.7 L254.6,238.4 L255.0,238.1 L255.4,237.9 L255.8,237.8 L256.2,238.1 L256.6,238.6 L257.0,239.2 L257.4,239.7 L257.8,240.2 L258.2,240.7 L258.6,241.1 L259.0,241.4 L259.4,241.6 L259.8,241.8 L260.2,241.9 L260.6,242.0 L260.6,242.3 Z" fill="#e8a2a2" stroke="#262626" stroke-width="1.05" stroke-linejoin="round"/>
<path d="M243.8,241.5 L244.0,241.3 L244.2,240.9 L244.4,240.4 L244.6,239.7 L244.8,238.9 L245.0,237.9 L245.2,236.6 L245.4,235.1 L245.6,233.4 L245.8,231.4 L246.0,229.2 L246.2,226.9 L246.4,224.7 L246.6,222.7 L246.8,221.6 L247.0,222.7 L247.2,224.7 L247.4,226.9 L247.6,229.2 L247.8,231.4 L248.0,233.4 L248.2,235.1 L248.4,236.6 L248.6,237.9 L248.8,238.9 L249.0,239.7 L249.2,240.4 L249.4,240.9 L249.6,241.3 L249.8,241.5" fill="none" stroke="#111" stroke-width="1.1" stroke-dasharray="1.1,1.9"/>
<line x1="241.78" y1="242.30" x2="264.78" y2="242.30" stroke="#c8c8c8" stroke-width="0.6"/>
<rect x="266.85" y="219.05" width="22.50" height="23.25" fill="none" stroke="#e0e0e0" stroke-width="0.6"/>
<path d="M269.8,242.3 L269.8,242.0 L270.2,241.8 L270.6,241.6 L271.0,241.2 L271.4,240.8 L271.8,240.1 L272.2,239.3 L272.6,238.1 L273.0,236.7 L273.4,234.9 L273.8,232.8 L274.2,230.3 L274.6,227.6 L275.0,224.7 L275.4,221.9 L275.8,220.7 L276.2,220.7 L276.6,220.7 L277.0,220.7 L277.4,221.8 L277.8,223.3 L278.2,224.8 L278.6,226.0 L279.0,227.1 L279.4,228.1 L279.8,229.2 L280.2,230.4 L280.6,231.6 L281.0,232.8 L281.4,233.9 L281.8,235.0 L282.2,235.9 L282.6,236.8 L283.0,237.6 L283.4,238.3 L283.8,239.0 L284.2,239.5 L284.6,240.0 L285.0,240.4 L285.4,240.8 L285.8,241.1 L286.2,241.3 L286.6,241.5 L287.0,241.7 L287.4,241.8 L287.8,241.9 L288.2,242.0 L288.2,242.3 Z" fill="#f8e4e4" stroke="#262626" stroke-width="1.05" stroke-linejoin="round"/>
<path d="M269.7,241.5 L269.9,241.3 L270.1,240.9 L270.3,240.4 L270.5,239.7 L270.7,238.9 L270.9,237.9 L271.1,236.6 L271.3,235.1 L271.5,233.4 L271.7,231.4 L271.9,229.2 L272.1,226.9 L272.3,224.7 L272.5,222.7 L272.7,221.6 L272.9,222.7 L273.1,224.7 L273.3,226.9 L273.5,229.2 L273.7,231.4 L273.9,233.4 L274.1,235.1 L274.3,236.6 L274.5,237.9 L274.7,238.9 L274.9,239.7 L275.1,240.4 L275.3,240.9 L275.5,241.3 L275.7,241.5" fill="none" stroke="#111" stroke-width="1.1" stroke-dasharray="1.1,1.9"/>
<line x1="266.60" y1="242.30" x2="289.60" y2="242.30" stroke="#c8c8c8" stroke-width="0.6"/>
<rect x="291.67" y="219.05" width="22.50" height="23.25" fill="none" stroke="#e0e0e0" stroke-width="0.6"/>
<path d="M293.4,242.3 L293.4,242.0 L293.8,241.8 L294.2,241.4 L294.6,240.9 L295.0,240.0 L295.4,238.7 L295.8,236.9 L296.2,234.5 L296.6,231.5 L297.0,228.0 L297.4,224.2 L297.8,220.9 L298.2,220.7 L298.6,220.7 L299.0,222.6 L299.4,224.7 L299.8,226.4 L300.2,227.7 L300.6,228.5 L301.0,229.4 L301.4,230.7 L301.8,231.9 L302.2,233.0 L302.6,233.9 L303.0,234.7 L303.4,235.2 L303.8,235.5 L304.2,235.8 L304.6,235.9 L305.0,236.0 L305.4,236.1 L305.8,236.3 L306.2,236.6 L306.6,236.9 L307.0,237.1 L307.4,237.4 L307.8,237.5 L308.2,237.5 L308.6,237.3 L309.0,237.0 L309.4,236.4 L309.8,235.7 L310.2,234.8 L310.6,234.0 L311.0,233.4 L311.4,233.6 L311.8,234.7 L312.2,235.9 L312.6,237.2 L313.0,238.4 L313.4,239.4 L313.8,240.2 L314.2,240.8 L314.2,242.3 Z" fill="#d2464e" stroke="#262626" stroke-width="1.05" stroke-linejoin="round"/>
<path d="M293.3,241.5 L293.5,241.3 L293.7,240.9 L293.9,240.4 L294.1,239.7 L294.3,238.9 L294.5,237.9 L294.7,236.6 L294.9,235.1 L295.1,233.4 L295.3,231.4 L295.5,229.2 L295.7,226.9 L295.9,224.7 L296.1,222.7 L296.3,221.6 L296.5,222.7 L296.7,224.7 L296.9,226.9 L297.1,229.2 L297.3,231.4 L297.5,233.4 L297.7,235.1 L297.9,236.6 L298.1,237.9 L298.3,238.9 L298.5,239.7 L298.7,240.4 L298.9,240.9 L299.1,241.3 L299.3,241.5" fill="none" stroke="#111" stroke-width="1.1" stroke-dasharray="1.1,1.9"/>
<line x1="291.42" y1="242.30" x2="314.42" y2="242.30" stroke="#c8c8c8" stroke-width="0.6"/>
<rect x="316.49" y="219.05" width="22.50" height="23.25" fill="none" stroke="#e0e0e0" stroke-width="0.6"/>
<path d="M324.2,242.3 L324.2,242.0 L324.6,242.0 L325.0,241.9 L325.4,241.9 L325.8,241.8 L326.2,241.7 L326.6,241.7 L327.0,241.6 L327.4,241.6 L327.8,241.5 L328.2,241.5 L328.6,241.4 L329.0,241.4 L329.4,241.4 L329.8,241.4 L330.2,241.5 L330.6,241.5 L331.0,241.5 L331.4,241.5 L331.8,241.5 L332.2,241.2 L332.6,240.7 L333.0,239.5 L333.4,237.5 L333.8,234.2 L334.2,229.7 L334.6,224.9 L335.0,221.8 L335.4,225.0 L335.8,229.9 L336.2,234.4 L336.6,237.7 L337.0,239.9 L337.4,241.1 L337.8,241.7 L337.8,242.3 Z" fill="#4757a6" stroke="#262626" stroke-width="1.05" stroke-linejoin="round"/>
<path d="M318.5,241.5 L318.7,241.3 L318.9,240.9 L319.1,240.4 L319.3,239.7 L319.5,238.9 L319.7,237.9 L319.9,236.6 L320.1,235.1 L320.3,233.4 L320.5,231.4 L320.7,229.2 L320.9,226.9 L321.1,224.7 L321.3,222.7 L321.5,221.6 L321.7,222.7 L321.9,224.7 L322.1,226.9 L322.3,229.2 L322.5,231.4 L322.7,233.4 L322.9,235.1 L323.1,236.6 L323.3,237.9 L323.5,238.9 L323.7,239.7 L323.9,240.4 L324.1,240.9 L324.3,241.3 L324.5,241.5" fill="none" stroke="#111" stroke-width="1.1" stroke-dasharray="1.1,1.9"/>
<line x1="316.24" y1="242.30" x2="339.24" y2="242.30" stroke="#c8c8c8" stroke-width="0.6"/>
<rect x="341.31" y="219.05" width="22.50" height="23.25" fill="none" stroke="#e0e0e0" stroke-width="0.6"/>
<path d="M347.1,242.3 L347.1,242.0 L347.5,242.0 L347.9,241.9 L348.3,241.8 L348.7,241.8 L349.1,241.7 L349.5,241.6 L349.9,241.5 L350.3,241.4 L350.7,241.3 L351.1,241.2 L351.5,241.0 L351.9,240.9 L352.3,240.7 L352.7,240.6 L353.1,240.4 L353.5,240.3 L353.9,240.1 L354.3,240.0 L354.7,239.8 L355.1,239.7 L355.5,239.6 L355.9,239.5 L356.3,239.5 L356.7,239.5 L357.1,239.5 L357.5,239.4 L357.9,239.2 L358.3,238.7 L358.7,237.7 L359.1,236.1 L359.5,233.8 L359.9,230.7 L360.3,227.1 L360.7,223.6 L361.1,221.6 L361.5,223.9 L361.9,227.6 L362.3,231.5 L362.7,234.8 L363.1,237.4 L363.5,239.2 L363.9,240.4 L363.9,242.3 Z" fill="#f3d4d4" stroke="#262626" stroke-width="1.05" stroke-linejoin="round"/>
<path d="M343.7,241.5 L343.9,241.3 L344.1,240.9 L344.3,240.4 L344.5,239.7 L344.7,238.9 L344.9,237.9 L345.1,236.6 L345.3,235.1 L345.5,233.4 L345.7,231.4 L345.9,229.2 L346.1,226.9 L346.3,224.7 L346.5,222.7 L346.7,221.6 L346.9,222.7 L347.1,224.7 L347.3,226.9 L347.5,229.2 L347.7,231.4 L347.9,233.4 L348.1,235.1 L348.3,236.6 L348.5,237.9 L348.7,238.9 L348.9,239.7 L349.1,240.4 L349.3,240.9 L349.5,241.3 L349.7,241.5" fill="none" stroke="#111" stroke-width="1.1" stroke-dasharray="1.1,1.9"/>
<line x1="341.06" y1="242.30" x2="364.06" y2="242.30" stroke="#c8c8c8" stroke-width="0.6"/>
<rect x="366.13" y="219.05" width="22.50" height="23.25" fill="none" stroke="#e0e0e0" stroke-width="0.6"/>
<path d="M368.3,242.3 L368.3,241.9 L368.7,241.7 L369.1,241.4 L369.5,240.9 L369.9,240.2 L370.3,239.2 L370.7,237.8 L371.1,236.1 L371.5,234.0 L371.9,231.5 L372.3,228.8 L372.7,226.1 L373.1,223.8 L373.5,222.7 L373.9,223.7 L374.3,225.3 L374.7,226.9 L375.1,228.2 L375.5,228.9 L375.9,229.0 L376.3,228.4 L376.7,227.4 L377.1,226.0 L377.5,224.5 L377.9,223.5 L378.3,223.8 L378.7,224.6 L379.1,225.3 L379.5,225.8 L379.9,225.9 L380.3,225.5 L380.7,224.8 L381.1,223.7 L381.5,222.7 L381.9,222.1 L382.3,222.8 L382.7,223.8 L383.1,224.7 L383.5,225.0 L383.9,224.6 L384.3,223.6 L384.7,222.2 L385.1,221.0 L385.5,221.3 L385.9,224.0 L386.3,227.5 L386.7,230.9 L387.1,234.0 L387.5,236.5 L387.9,238.4 L388.3,239.8 L388.7,240.7 L388.7,242.3 Z" fill="#d2464e" stroke="#262626" stroke-width="1.05" stroke-linejoin="round"/>
<path d="M367.8,241.5 L368.0,241.3 L368.2,240.9 L368.4,240.4 L368.6,239.7 L368.8,238.9 L369.0,237.9 L369.2,236.6 L369.4,235.1 L369.6,233.4 L369.8,231.4 L370.0,229.2 L370.2,226.9 L370.4,224.7 L370.6,222.7 L370.8,221.6 L371.0,222.7 L371.2,224.7 L371.4,226.9 L371.6,229.2 L371.8,231.4 L372.0,233.4 L372.2,235.1 L372.4,236.6 L372.6,237.9 L372.8,238.9 L373.0,239.7 L373.2,240.4 L373.4,240.9 L373.6,241.3 L373.8,241.5" fill="none" stroke="#111" stroke-width="1.1" stroke-dasharray="1.1,1.9"/>
<line x1="365.88" y1="242.30" x2="388.88" y2="242.30" stroke="#c8c8c8" stroke-width="0.6"/>
<rect x="390.95" y="219.05" width="22.50" height="23.25" fill="none" stroke="#e0e0e0" stroke-width="0.6"/>
<path d="M390.7,242.3 L390.7,241.6 L391.1,241.5 L391.5,241.4 L391.9,241.3 L392.3,241.2 L392.7,241.0 L393.1,240.9 L393.5,240.7 L393.9,240.5 L394.3,240.3 L394.7,240.1 L395.1,239.9 L395.5,239.6 L395.9,239.4 L396.3,239.1 L396.7,238.8 L397.1,238.5 L397.5,238.2 L397.9,238.0 L398.3,237.7 L398.7,237.4 L399.1,237.1 L399.5,236.9 L399.9,236.7 L400.3,236.5 L400.7,236.3 L401.1,236.3 L401.5,236.2 L401.9,236.2 L402.3,236.1 L402.7,235.9 L403.1,235.6 L403.5,235.2 L403.9,234.5 L404.3,233.6 L404.7,232.5 L405.1,231.1 L405.5,229.5 L405.9,227.8 L406.3,225.9 L406.7,224.0 L407.1,222.4 L407.5,221.3 L407.9,221.4 L408.3,222.9 L408.7,225.0 L409.1,227.2 L409.5,229.5 L409.9,231.6 L410.3,233.6 L410.7,235.3 L411.1,236.8 L411.5,238.1 L411.9,239.1 L412.3,239.9 L412.7,240.5 L413.1,241.0 L413.5,241.3 L413.5,242.3 Z" fill="#de7676" stroke="#262626" stroke-width="1.05" stroke-linejoin="round"/>
<path d="M393.2,241.5 L393.4,241.3 L393.6,240.9 L393.8,240.4 L394.0,239.7 L394.2,238.9 L394.4,237.9 L394.6,236.6 L394.8,235.1 L395.0,233.4 L395.2,231.4 L395.4,229.2 L395.6,226.9 L395.8,224.7 L396.0,222.7 L396.2,221.6 L396.4,222.7 L396.6,224.7 L396.8,226.9 L397.0,229.2 L397.2,231.4 L397.4,233.4 L397.6,235.1 L397.8,236.6 L398.0,237.9 L398.2,238.9 L398.4,239.7 L398.6,240.4 L398.8,240.9 L399.0,241.3 L399.2,241.5" fill="none" stroke="#111" stroke-width="1.1" stroke-dasharray="1.1,1.9"/>
<line x1="390.70" y1="242.30" x2="413.70" y2="242.30" stroke="#c8c8c8" stroke-width="0.6"/>
<rect x="415.77" y="219.05" width="22.50" height="23.25" fill="none" stroke="#e0e0e0" stroke-width="0.6"/>
<path d="M417.1,242.3 L417.1,242.0 L417.5,241.9 L417.9,241.8 L418.3,241.6 L418.7,241.3 L419.1,240.8 L419.5,239.8 L419.9,238.3 L420.3,235.9 L420.7,232.4 L421.1,227.9 L421.5,223.0 L421.9,220.7 L422.3,220.7 L422.7,222.2 L423.1,225.1 L423.5,227.3 L423.9,228.7 L424.3,229.4 L424.7,230.1 L425.1,231.1 L425.5,232.1 L425.9,233.1 L426.3,233.9 L426.7,234.7 L427.1,235.4 L427.5,235.9 L427.9,236.5 L428.3,237.0 L428.7,237.5 L429.1,237.9 L429.5,238.3 L429.9,238.6 L430.3,239.0 L430.7,239.3 L431.1,239.5 L431.5,239.8 L431.9,240.1 L432.3,240.3 L432.7,240.5 L433.1,240.7 L433.5,240.9 L433.9,241.1 L434.3,241.2 L434.7,241.4 L435.1,241.5 L435.5,241.6 L435.9,241.7 L436.3,241.8 L436.7,241.9 L437.1,241.9 L437.5,242.0 L437.5,242.3 Z" fill="#ffffff" stroke="#262626" stroke-width="1.05" stroke-linejoin="round"/>
<path d="M418.0,241.5 L418.2,241.3 L418.4,240.9 L418.6,240.4 L418.8,239.7 L419.0,238.9 L419.2,237.9 L419.4,236.6 L419.6,235.1 L419.8,233.4 L420.0,231.4 L420.2,229.2 L420.4,226.9 L420.6,224.7 L420.8,222.7 L421.0,221.6 L421.2,222.7 L421.4,224.7 L421.6,226.9 L421.8,229.2 L422.0,231.4 L422.2,233.4 L422.4,235.1 L422.6,236.6 L422.8,237.9 L423.0,238.9 L423.2,239.7 L423.4,240.4 L423.6,240.9 L423.8,241.3 L424.0,241.5" fill="none" stroke="#111" stroke-width="1.1" stroke-dasharray="1.1,1.9"/>
<line x1="415.52" y1="242.30" x2="438.52" y2="242.30" stroke="#c8c8c8" stroke-width="0.6"/>
<rect x="440.59" y="219.05" width="22.50" height="23.25" fill="none" stroke="#e0e0e0" stroke-width="0.6"/>
<path d="M442.3,242.3 L442.3,242.0 L442.7,241.9 L443.1,241.8 L443.5,241.6 L443.9,241.3 L444.3,241.0 L444.7,240.5 L445.1,239.9 L445.5,239.1 L445.9,238.1 L446.3,236.7 L446.7,235.1 L447.1,233.1 L447.5,230.8 L447.9,228.3 L448.3,225.6 L448.7,223.0 L449.1,220.7 L449.5,220.7 L449.9,220.7 L450.3,221.5 L450.7,223.5 L451.1,225.5 L451.5,227.4 L451.9,229.1 L452.3,230.5 L452.7,231.6 L453.1,232.5 L453.5,233.2 L453.9,233.8 L454.3,234.5 L454.7,235.1 L455.1,235.6 L455.5,236.1 L455.9,236.6 L456.3,237.0 L456.7,237.5 L457.1,237.9 L457.5,238.3 L457.9,238.7 L458.3,239.0 L458.7,239.4 L459.1,239.7 L459.5,240.0 L459.9,240.3 L460.3,240.5 L460.7,240.7 L461.1,240.9 L461.5,241.1 L461.9,241.3 L462.3,241.4 L462.7,241.6 L463.1,241.7 L463.1,242.3 Z" fill="#f3d4d4" stroke="#262626" stroke-width="1.05" stroke-linejoin="round"/>
<path d="M443.0,241.5 L443.2,241.3 L443.4,240.9 L443.6,240.4 L443.8,239.7 L444.0,238.9 L444.2,237.9 L444.4,236.6 L444.6,235.1 L444.8,233.4 L445.0,231.4 L445.2,229.2 L445.4,226.9 L445.6,224.7 L445.8,222.7 L446.0,221.6 L446.2,222.7 L446.4,224.7 L446.6,226.9 L446.8,229.2 L447.0,231.4 L447.2,233.4 L447.4,235.1 L447.6,236.6 L447.8,237.9 L448.0,238.9 L448.2,239.7 L448.4,240.4 L448.6,240.9 L448.8,241.3 L449.0,241.5" fill="none" stroke="#111" stroke-width="1.1" stroke-dasharray="1.1,1.9"/>
<line x1="440.34" y1="242.30" x2="463.34" y2="242.30" stroke="#c8c8c8" stroke-width="0.6"/>
<rect x="465.41" y="219.05" width="22.50" height="23.25" fill="none" stroke="#e0e0e0" stroke-width="0.6"/>
<path d="M467.2,242.3 L467.2,242.0 L467.6,241.7 L468.0,241.3 L468.4,240.6 L468.8,239.3 L469.2,237.2 L469.6,234.2 L470.0,230.3 L470.4,225.8 L470.8,221.8 L471.2,221.5 L471.6,224.8 L472.0,228.7 L472.4,232.1 L472.8,234.7 L473.2,236.4 L473.6,237.7 L474.0,238.6 L474.4,239.2 L474.8,239.7 L475.2,240.2 L475.6,240.5 L476.0,240.8 L476.4,241.1 L476.8,241.3 L477.2,241.5 L477.6,241.7 L478.0,241.8 L478.4,242.0 L478.4,242.3 Z" fill="#98a0d6" stroke="#262626" stroke-width="1.05" stroke-linejoin="round"/>
<path d="M467.7,241.5 L467.9,241.3 L468.1,240.9 L468.3,240.4 L468.5,239.7 L468.7,238.9 L468.9,237.9 L469.1,236.6 L469.3,235.1 L469.5,233.4 L469.7,231.4 L469.9,229.2 L470.1,226.9 L470.3,224.7 L470.5,222.7 L470.7,221.6 L470.9,222.7 L471.1,224.7 L471.3,226.9 L471.5,229.2 L471.7,231.4 L471.9,233.4 L472.1,235.1 L472.3,236.6 L472.5,237.9 L472.7,238.9 L472.9,239.7 L473.1,240.4 L473.3,240.9 L473.5,241.3 L473.7,241.5" fill="none" stroke="#111" stroke-width="1.1" stroke-dasharray="1.1,1.9"/>
<line x1="465.16" y1="242.30" x2="488.16" y2="242.30" stroke="#c8c8c8" stroke-width="0.6"/>
<rect x="490.23" y="219.05" width="22.50" height="23.25" fill="none" stroke="#e0e0e0" stroke-width="0.6"/>
<path d="M491.2,242.3 L491.2,242.0 L491.6,241.8 L492.0,241.6 L492.4,241.2 L492.8,240.7 L493.2,240.1 L493.6,239.4 L494.0,238.4 L494.4,237.3 L494.8,236.1 L495.2,234.8 L495.6,233.6 L496.0,232.7 L496.4,232.5 L496.8,232.7 L497.2,232.8 L497.6,232.8 L498.0,232.7 L498.4,232.4 L498.8,232.0 L499.2,232.0 L499.6,232.2 L500.0,232.3 L500.4,232.0 L500.8,231.4 L501.2,230.3 L501.6,228.8 L502.0,227.0 L502.4,225.1 L502.8,223.4 L503.2,222.3 L503.6,223.1 L504.0,225.0 L504.4,227.3 L504.8,229.8 L505.2,232.1 L505.6,234.3 L506.0,236.1 L506.4,237.7 L506.8,238.9 L507.2,239.9 L507.6,240.6 L508.0,241.1 L508.4,241.5 L508.8,241.8 L509.2,242.0 L509.2,242.3 Z" fill="#f3d4d4" stroke="#262626" stroke-width="1.05" stroke-linejoin="round"/>
<path d="M491.8,241.5 L492.0,241.3 L492.2,240.9 L492.4,240.4 L492.6,239.7 L492.8,238.9 L493.0,237.9 L493.2,236.6 L493.4,235.1 L493.6,233.4 L493.8,231.4 L494.0,229.2 L494.2,226.9 L494.4,224.7 L494.6,222.7 L494.8,221.6 L495.0,222.7 L495.2,224.7 L495.4,226.9 L495.6,229.2 L495.8,231.4 L496.0,233.4 L496.2,235.1 L496.4,236.6 L496.6,237.9 L496.8,238.9 L497.0,239.7 L497.2,240.4 L497.4,240.9 L497.6,241.3 L497.8,241.5" fill="none" stroke="#111" stroke-width="1.1" stroke-dasharray="1.1,1.9"/>
<line x1="489.98" y1="242.30" x2="512.98" y2="242.30" stroke="#c8c8c8" stroke-width="0.6"/>
<rect x="18.65" y="243.67" width="22.50" height="23.25" fill="none" stroke="#e0e0e0" stroke-width="0.6"/>
<path d="M20.8,266.9 L20.8,266.6 L21.2,266.3 L21.6,265.8 L22.0,264.9 L22.4,263.4 L22.8,261.3 L23.2,258.3 L23.6,254.6 L24.0,250.6 L24.4,247.4 L24.8,247.3 L25.2,250.6 L25.6,254.4 L26.0,258.0 L26.4,260.9 L26.8,262.0 L27.2,262.0 L27.6,262.0 L28.0,262.0 L28.4,262.0 L28.8,262.0 L29.2,262.0 L29.6,262.0 L30.0,261.8 L30.4,260.6 L30.8,259.2 L31.2,257.7 L31.6,256.1 L32.0,254.4 L32.4,252.9 L32.8,251.5 L33.2,250.6 L33.6,250.6 L34.0,251.5 L34.4,252.9 L34.8,254.4 L35.2,256.1 L35.6,257.7 L36.0,259.2 L36.4,260.6 L36.8,261.8 L37.2,262.8 L37.6,263.7 L38.0,264.4 L38.4,265.0 L38.8,265.5 L39.2,265.9 L39.6,266.1 L40.0,266.4 L40.4,266.5 L40.8,266.6 L40.8,266.9 Z" fill="#d2464e" stroke="#262626" stroke-width="1.05" stroke-linejoin="round"/>
<path d="M22.4,266.2 L22.6,265.9 L22.8,265.5 L23.0,265.0 L23.2,264.3 L23.4,263.5 L23.6,262.5 L23.8,261.2 L24.0,259.7 L24.2,258.0 L24.4,256.0 L24.6,253.8 L24.8,251.5 L25.0,249.3 L25.2,247.4 L25.4,246.2 L25.6,247.4 L25.8,249.3 L26.0,251.5 L26.2,253.8 L26.4,256.0 L26.6,258.0 L26.8,259.7 L27.0,261.2 L27.2,262.5 L27.4,263.5 L27.6,264.3 L27.8,265.0 L28.0,265.5 L28.2,265.9 L28.4,266.2" fill="none" stroke="#111" stroke-width="1.1" stroke-dasharray="1.1,1.9"/>
<line x1="18.40" y1="266.92" x2="41.40" y2="266.92" stroke="#c8c8c8" stroke-width="0.6"/>
<rect x="43.47" y="243.67" width="22.50" height="23.25" fill="none" stroke="#e0e0e0" stroke-width="0.6"/>
<path d="M45.6,266.9 L45.6,266.5 L46.0,266.3 L46.4,266.1 L46.8,265.6 L47.2,264.8 L47.6,263.4 L48.0,261.1 L48.4,257.7 L48.8,253.0 L49.2,247.5 L49.6,245.3 L50.0,245.3 L50.4,245.7 L50.8,248.4 L51.2,250.0 L51.6,250.4 L52.0,250.1 L52.4,249.3 L52.8,248.7 L53.2,248.9 L53.6,249.1 L54.0,249.2 L54.4,249.1 L54.8,248.9 L55.2,248.6 L55.6,248.8 L56.0,250.6 L56.4,253.3 L56.8,256.1 L57.2,258.6 L57.6,260.8 L58.0,262.6 L58.4,263.9 L58.8,264.9 L59.2,265.6 L59.6,266.1 L60.0,266.4 L60.4,266.6 L60.4,266.9 Z" fill="#f8e4e4" stroke="#262626" stroke-width="1.05" stroke-linejoin="round"/>
<path d="M45.2,266.2 L45.4,265.9 L45.6,265.5 L45.8,265.0 L46.0,264.3 L46.2,263.5 L46.4,262.5 L46.6,261.2 L46.8,259.7 L47.0,258.0 L47.2,256.0 L47.4,253.8 L47.6,251.5 L47.8,249.3 L48.0,247.4 L48.2,246.2 L48.4,247.4 L48.6,249.3 L48.8,251.5 L49.0,253.8 L49.2,256.0 L49.4,258.0 L49.6,259.7 L49.8,261.2 L50.0,262.5 L50.2,263.5 L50.4,264.3 L50.6,265.0 L50.8,265.5 L51.0,265.9 L51.2,266.2" fill="none" stroke="#111" stroke-width="1.1" stroke-dasharray="1.1,1.9"/>
<line x1="43.22" y1="266.92" x2="66.22" y2="266.92" stroke="#c8c8c8" stroke-width="0.6"/>
<rect x="68.29" y="243.67" width="22.50" height="23.25" fill="none" stroke="#e0e0e0" stroke-width="0.6"/>
<path d="M68.0,266.9 L68.0,266.3 L68.4,266.3 L68.8,266.2 L69.2,266.1 L69.6,266.0 L70.0,265.8 L70.4,265.4 L70.8,264.8 L71.2,263.7 L71.6,262.0 L72.0,259.4 L72.4,255.8 L72.8,251.5 L73.2,247.5 L73.6,246.1 L74.0,249.2 L74.4,253.3 L74.8,257.1 L75.2,260.1 L75.6,262.1 L76.0,263.3 L76.4,263.9 L76.8,264.3 L77.2,264.4 L77.6,264.4 L78.0,264.4 L78.4,264.3 L78.8,264.3 L79.2,264.2 L79.6,264.2 L80.0,264.2 L80.4,264.2 L80.8,264.2 L81.2,264.3 L81.6,264.3 L82.0,264.4 L82.4,264.5 L82.8,264.5 L83.2,264.6 L83.6,264.7 L84.0,264.8 L84.4,264.9 L84.8,265.0 L85.2,265.1 L85.6,265.2 L86.0,265.2 L86.4,265.3 L86.8,265.4 L87.2,265.5 L87.6,265.6 L88.0,265.7 L88.4,265.7 L88.8,265.8 L89.2,265.9 L89.6,266.0 L90.0,266.0 L90.4,266.1 L90.8,266.2 L90.8,266.9 Z" fill="#d2464e" stroke="#262626" stroke-width="1.05" stroke-linejoin="round"/>
<path d="M71.0,266.2 L71.2,265.9 L71.4,265.5 L71.6,265.0 L71.8,264.3 L72.0,263.5 L72.2,262.5 L72.4,261.2 L72.6,259.7 L72.8,258.0 L73.0,256.0 L73.2,253.8 L73.4,251.5 L73.6,249.3 L73.8,247.4 L74.0,246.2 L74.2,247.4 L74.4,249.3 L74.6,251.5 L74.8,253.8 L75.0,256.0 L75.2,258.0 L75.4,259.7 L75.6,261.2 L75.8,262.5 L76.0,263.5 L76.2,264.3 L76.4,265.0 L76.6,265.5 L76.8,265.9 L77.0,266.2" fill="none" stroke="#111" stroke-width="1.1" stroke-dasharray="1.1,1.9"/>
<line x1="68.04" y1="266.92" x2="91.04" y2="266.92" stroke="#c8c8c8" stroke-width="0.6"/>
<rect x="93.11" y="243.67" width="22.50" height="23.25" fill="none" stroke="#e0e0e0" stroke-width="0.6"/>
<path d="M98.1,266.9 L98.1,266.6 L98.5,266.5 L98.9,266.4 L99.3,266.2 L99.7,266.0 L100.1,265.7 L100.5,265.4 L100.9,265.0 L101.3,264.4 L101.7,263.8 L102.1,263.0 L102.5,262.0 L102.9,261.0 L103.3,259.7 L103.7,258.4 L104.1,256.8 L104.5,255.2 L104.9,253.5 L105.3,251.8 L105.7,250.1 L106.1,248.7 L106.5,247.5 L106.9,246.9 L107.3,247.5 L107.7,248.7 L108.1,250.1 L108.5,251.8 L108.9,253.5 L109.3,255.2 L109.7,256.8 L110.1,258.4 L110.5,259.7 L110.9,261.0 L111.3,262.0 L111.7,263.0 L112.1,263.8 L112.5,264.4 L112.9,265.0 L113.3,265.4 L113.7,265.7 L114.1,266.0 L114.5,266.2 L114.9,266.4 L115.3,266.5 L115.7,266.6 L115.7,266.9 Z" fill="#f3d4d4" stroke="#262626" stroke-width="1.05" stroke-linejoin="round"/>
<path d="M95.7,266.2 L95.9,265.9 L96.1,265.5 L96.3,265.0 L96.5,264.3 L96.7,263.5 L96.9,262.5 L97.1,261.2 L97.3,259.7 L97.5,258.0 L97.7,256.0 L97.9,253.8 L98.1,251.5 L98.3,249.3 L98.5,247.4 L98.7,246.2 L98.9,247.4 L99.1,249.3 L99.3,251.5 L99.5,253.8 L99.7,256.0 L99.9,258.0 L100.1,259.7 L100.3,261.2 L100.5,262.5 L100.7,263.5 L100.9,264.3 L101.1,265.0 L101.3,265.5 L101.5,265.9 L101.7,266.2" fill="none" stroke="#111" stroke-width="1.1" stroke-dasharray="1.1,1.9"/>
<line x1="92.86" y1="266.92" x2="115.86" y2="266.92" stroke="#c8c8c8" stroke-width="0.6"/>
<rect x="117.93" y="243.67" width="22.50" height="23.25" fill="none" stroke="#e0e0e0" stroke-width="0.6"/>
<path d="M120.5,266.9 L120.5,266.5 L120.9,266.3 L121.3,266.0 L121.7,265.6 L122.1,265.0 L122.5,264.3 L122.9,263.4 L123.3,262.3 L123.7,261.1 L124.1,259.9 L124.5,258.9 L124.9,258.4 L125.3,258.4 L125.7,258.5 L126.1,258.5 L126.5,258.4 L126.9,258.1 L127.3,257.6 L127.7,257.0 L128.1,256.9 L128.5,256.7 L128.9,256.1 L129.3,254.9 L129.7,253.2 L130.1,251.1 L130.5,248.9 L130.9,247.0 L131.3,246.6 L131.7,248.7 L132.1,251.7 L132.5,254.8 L132.9,257.7 L133.3,260.1 L133.7,262.1 L134.1,263.7 L134.5,264.8 L134.9,265.5 L135.3,266.1 L135.7,266.4 L136.1,266.6 L136.1,266.9 Z" fill="#ffffff" stroke="#262626" stroke-width="1.05" stroke-linejoin="round"/>
<path d="M119.8,266.2 L120.0,265.9 L120.2,265.5 L120.4,265.0 L120.6,264.3 L120.8,263.5 L121.0,262.5 L121.2,261.2 L121.4,259.7 L121.6,258.0 L121.8,256.0 L122.0,253.8 L122.2,251.5 L122.4,249.3 L122.6,247.4 L122.8,246.2 L123.0,247.4 L123.2,249.3 L123.4,251.5 L123.6,253.8 L123.8,256.0 L124.0,258.0 L124.2,259.7 L124.4,261.2 L124.6,262.5 L124.8,263.5 L125.0,264.3 L125.2,265.0 L125.4,265.5 L125.6,265.9 L125.8,266.2" fill="none" stroke="#111" stroke-width="1.1" stroke-dasharray="1.1,1.9"/>
<line x1="117.68" y1="266.92" x2="140.68" y2="266.92" stroke="#c8c8c8" stroke-width="0.6"/>
<rect x="142.75" y="243.67" width="22.50" height="23.25" fill="none" stroke="#e0e0e0" stroke-width="0.6"/>
<path d="M144.5,266.9 L144.5,266.6 L144.9,266.4 L145.3,266.2 L145.7,265.8 L146.1,265.3 L146.5,264.4 L146.9,263.1 L147.3,261.2 L147.7,258.7 L148.1,255.5 L148.5,251.8 L148.9,247.9 L149.3,245.3 L149.7,245.3 L150.1,246.3 L150.5,249.2 L150.9,252.0 L151.3,254.3 L151.7,255.9 L152.1,257.1 L152.5,257.8 L152.9,258.5 L153.3,259.0 L153.7,259.4 L154.1,259.7 L154.5,259.8 L154.9,259.9 L155.3,259.9 L155.7,259.8 L156.1,259.6 L156.5,259.3 L156.9,259.1 L157.3,258.8 L157.7,258.7 L158.1,259.0 L158.5,259.6 L158.9,260.3 L159.3,261.1 L159.7,261.9 L160.1,262.7 L160.5,263.4 L160.9,264.1 L161.3,264.6 L161.7,265.1 L162.1,265.5 L162.5,265.8 L162.9,266.1 L163.3,266.3 L163.7,266.4 L164.1,266.6 L164.1,266.9 Z" fill="#d2464e" stroke="#262626" stroke-width="1.05" stroke-linejoin="round"/>
<path d="M146.0,266.2 L146.2,265.9 L146.4,265.5 L146.6,265.0 L146.8,264.3 L147.0,263.5 L147.2,262.5 L147.4,261.2 L147.6,259.7 L147.8,258.0 L148.0,256.0 L148.2,253.8 L148.4,251.5 L148.6,249.3 L148.8,247.4 L149.0,246.2 L149.2,247.4 L149.4,249.3 L149.6,251.5 L149.8,253.8 L150.0,256.0 L150.2,258.0 L150.4,259.7 L150.6,261.2 L150.8,262.5 L151.0,263.5 L151.2,264.3 L151.4,265.0 L151.6,265.5 L151.8,265.9 L152.0,266.2" fill="none" stroke="#111" stroke-width="1.1" stroke-dasharray="1.1,1.9"/>
<line x1="142.50" y1="266.92" x2="165.50" y2="266.92" stroke="#c8c8c8" stroke-width="0.6"/>
<rect x="167.57" y="243.67" width="22.50" height="23.25" fill="none" stroke="#e0e0e0" stroke-width="0.6"/>
<path d="M169.3,266.9 L169.3,266.6 L169.7,266.4 L170.1,266.2 L170.5,265.8 L170.9,265.2 L171.3,264.0 L171.7,262.2 L172.1,259.5 L172.5,255.7 L172.9,251.3 L173.3,247.1 L173.7,245.5 L174.1,248.4 L174.5,252.3 L174.9,255.9 L175.3,258.5 L175.7,260.2 L176.1,261.2 L176.5,261.6 L176.9,261.6 L177.3,261.5 L177.7,261.3 L178.1,261.2 L178.5,261.2 L178.9,261.4 L179.3,261.6 L179.7,262.0 L180.1,262.3 L180.5,262.7 L180.9,263.1 L181.3,263.4 L181.7,263.8 L182.1,264.1 L182.5,264.5 L182.9,264.8 L183.3,265.1 L183.7,265.3 L184.1,265.6 L184.5,265.8 L184.9,265.9 L185.3,266.1 L185.7,266.2 L186.1,266.3 L186.5,266.4 L186.9,266.5 L187.3,266.6 L187.3,266.9 Z" fill="#ffffff" stroke="#262626" stroke-width="1.05" stroke-linejoin="round"/>
<path d="M169.2,266.2 L169.4,265.9 L169.6,265.5 L169.8,265.0 L170.0,264.3 L170.2,263.5 L170.4,262.5 L170.6,261.2 L170.8,259.7 L171.0,258.0 L171.2,256.0 L171.4,253.8 L171.6,251.5 L171.8,249.3 L172.0,247.4 L172.2,246.2 L172.4,247.4 L172.6,249.3 L172.8,251.5 L173.0,253.8 L173.2,256.0 L173.4,258.0 L173.6,259.7 L173.8,261.2 L174.0,262.5 L174.2,263.5 L174.4,264.3 L174.6,265.0 L174.8,265.5 L175.0,265.9 L175.2,266.2" fill="none" stroke="#111" stroke-width="1.1" stroke-dasharray="1.1,1.9"/>
<line x1="167.32" y1="266.92" x2="190.32" y2="266.92" stroke="#c8c8c8" stroke-width="0.6"/>
<rect x="192.39" y="243.67" width="22.50" height="23.25" fill="none" stroke="#e0e0e0" stroke-width="0.6"/>
<path d="M194.5,266.9 L194.5,266.4 L194.9,266.0 L195.3,265.3 L195.7,264.1 L196.1,262.2 L196.5,259.5 L196.9,255.9 L197.3,251.7 L197.7,247.5 L198.1,245.3 L198.5,245.7 L198.9,248.1 L199.3,250.4 L199.7,252.0 L200.1,252.7 L200.5,252.8 L200.9,252.4 L201.3,252.5 L201.7,253.1 L202.1,253.8 L202.5,254.4 L202.9,255.0 L203.3,255.4 L203.7,255.6 L204.1,255.9 L204.5,256.1 L204.9,256.8 L205.3,257.7 L205.7,258.6 L206.1,259.6 L206.5,260.5 L206.9,261.4 L207.3,262.2 L207.7,263.0 L208.1,263.7 L208.5,264.3 L208.9,264.8 L209.3,265.2 L209.7,265.6 L210.1,265.9 L210.5,266.1 L210.9,266.3 L211.3,266.4 L211.7,266.6 L211.7,266.9 Z" fill="#f3d4d4" stroke="#262626" stroke-width="1.05" stroke-linejoin="round"/>
<path d="M195.0,266.2 L195.2,265.9 L195.4,265.5 L195.6,265.0 L195.8,264.3 L196.0,263.5 L196.2,262.5 L196.4,261.2 L196.6,259.7 L196.8,258.0 L197.0,256.0 L197.2,253.8 L197.4,251.5 L197.6,249.3 L197.8,247.4 L198.0,246.2 L198.2,247.4 L198.4,249.3 L198.6,251.5 L198.8,253.8 L199.0,256.0 L199.2,258.0 L199.4,259.7 L199.6,261.2 L199.8,262.5 L200.0,263.5 L200.2,264.3 L200.4,265.0 L200.6,265.5 L200.8,265.9 L201.0,266.2" fill="none" stroke="#111" stroke-width="1.1" stroke-dasharray="1.1,1.9"/>
<line x1="192.14" y1="266.92" x2="215.14" y2="266.92" stroke="#c8c8c8" stroke-width="0.6"/>
<rect x="217.21" y="243.67" width="22.50" height="23.25" fill="none" stroke="#e0e0e0" stroke-width="0.6"/>
<path d="M219.0,266.9 L219.0,266.6 L219.4,266.3 L219.8,265.6 L220.2,264.5 L220.6,262.7 L221.0,260.0 L221.4,256.2 L221.8,251.6 L222.2,247.2 L222.6,245.3 L223.0,247.6 L223.4,250.8 L223.8,253.5 L224.2,255.3 L224.6,256.1 L225.0,256.1 L225.4,255.9 L225.8,256.1 L226.2,256.7 L226.6,257.3 L227.0,257.8 L227.4,258.3 L227.8,258.7 L228.2,258.9 L228.6,259.0 L229.0,259.1 L229.4,259.2 L229.8,259.6 L230.2,260.1 L230.6,260.7 L231.0,261.2 L231.4,261.8 L231.8,262.4 L232.2,263.0 L232.6,263.5 L233.0,264.0 L233.4,264.4 L233.8,264.8 L234.2,265.2 L234.6,265.5 L235.0,265.7 L235.4,266.0 L235.8,266.2 L236.2,266.3 L236.6,266.4 L237.0,266.5 L237.4,266.6 L237.4,266.9 Z" fill="#f3d4d4" stroke="#262626" stroke-width="1.05" stroke-linejoin="round"/>
<path d="M219.7,266.2 L219.9,265.9 L220.1,265.5 L220.3,265.0 L220.5,264.3 L220.7,263.5 L220.9,262.5 L221.1,261.2 L221.3,259.7 L221.5,258.0 L221.7,256.0 L221.9,253.8 L222.1,251.5 L222.3,249.3 L222.5,247.4 L222.7,246.2 L222.9,247.4 L223.1,249.3 L223.3,251.5 L223.5,253.8 L223.7,256.0 L223.9,258.0 L224.1,259.7 L224.3,261.2 L224.5,262.5 L224.7,263.5 L224.9,264.3 L225.1,265.0 L225.3,265.5 L225.5,265.9 L225.7,266.2" fill="none" stroke="#111" stroke-width="1.1" stroke-dasharray="1.1,1.9"/>
<line x1="216.96" y1="266.92" x2="239.96" y2="266.92" stroke="#c8c8c8" stroke-width="0.6"/>
<rect x="242.03" y="243.67" width="22.50" height="23.25" fill="none" stroke="#e0e0e0" stroke-width="0.6"/>
<path d="M245.8,266.9 L245.8,266.6 L246.2,266.6 L246.6,266.5 L247.0,266.4 L247.4,266.4 L247.8,266.3 L248.2,266.2 L248.6,266.1 L249.0,266.0 L249.4,265.9 L249.8,265.7 L250.2,265.6 L250.6,265.4 L251.0,265.2 L251.4,265.0 L251.8,264.8 L252.2,264.5 L252.6,264.1 L253.0,263.5 L253.4,262.9 L253.8,262.0 L254.2,260.9 L254.6,259.5 L255.0,257.9 L255.4,256.1 L255.8,254.0 L256.2,251.9 L256.6,249.8 L257.0,247.9 L257.4,246.6 L257.8,246.7 L258.2,248.1 L258.6,250.1 L259.0,252.3 L259.4,254.5 L259.8,256.6 L260.2,258.6 L260.6,260.3 L261.0,261.8 L261.4,263.0 L261.8,264.0 L262.2,264.7 L262.6,265.3 L263.0,265.8 L263.4,266.1 L263.8,266.4 L264.2,266.5 L264.2,266.9 Z" fill="#ffffff" stroke="#262626" stroke-width="1.05" stroke-linejoin="round"/>
<path d="M243.8,266.2 L244.0,265.9 L244.2,265.5 L244.4,265.0 L244.6,264.3 L244.8,263.5 L245.0,262.5 L245.2,261.2 L245.4,259.7 L245.6,258.0 L245.8,256.0 L246.0,253.8 L246.2,251.5 L246.4,249.3 L246.6,247.4 L246.8,246.2 L247.0,247.4 L247.2,249.3 L247.4,251.5 L247.6,253.8 L247.8,256.0 L248.0,258.0 L248.2,259.7 L248.4,261.2 L248.6,262.5 L248.8,263.5 L249.0,264.3 L249.2,265.0 L249.4,265.5 L249.6,265.9 L249.8,266.2" fill="none" stroke="#111" stroke-width="1.1" stroke-dasharray="1.1,1.9"/>
<line x1="241.78" y1="266.92" x2="264.78" y2="266.92" stroke="#c8c8c8" stroke-width="0.6"/>
<rect x="266.85" y="243.67" width="22.50" height="23.25" fill="none" stroke="#e0e0e0" stroke-width="0.6"/>
<path d="M267.4,266.9 L267.4,266.6 L267.8,266.5 L268.2,266.4 L268.6,266.2 L269.0,266.1 L269.4,265.8 L269.8,265.6 L270.2,265.3 L270.6,264.9 L271.0,264.5 L271.4,264.0 L271.8,263.4 L272.2,262.8 L272.6,262.2 L273.0,261.5 L273.4,260.7 L273.8,260.0 L274.2,259.2 L274.6,258.4 L275.0,257.7 L275.4,257.0 L275.8,256.6 L276.2,256.4 L276.6,256.2 L277.0,255.7 L277.4,255.0 L277.8,254.0 L278.2,252.7 L278.6,251.0 L279.0,249.1 L279.4,247.2 L279.8,245.6 L280.2,245.3 L280.6,246.5 L281.0,249.0 L281.4,251.8 L281.8,254.6 L282.2,257.2 L282.6,259.5 L283.0,261.4 L283.4,262.9 L283.8,264.0 L284.2,264.9 L284.6,265.5 L285.0,266.0 L285.4,266.3 L285.8,266.5 L285.8,266.9 Z" fill="#e8a2a2" stroke="#262626" stroke-width="1.05" stroke-linejoin="round"/>
<path d="M269.7,266.2 L269.9,265.9 L270.1,265.5 L270.3,265.0 L270.5,264.3 L270.7,263.5 L270.9,262.5 L271.1,261.2 L271.3,259.7 L271.5,258.0 L271.7,256.0 L271.9,253.8 L272.1,251.5 L272.3,249.3 L272.5,247.4 L272.7,246.2 L272.9,247.4 L273.1,249.3 L273.3,251.5 L273.5,253.8 L273.7,256.0 L273.9,258.0 L274.1,259.7 L274.3,261.2 L274.5,262.5 L274.7,263.5 L274.9,264.3 L275.1,265.0 L275.3,265.5 L275.5,265.9 L275.7,266.2" fill="none" stroke="#111" stroke-width="1.1" stroke-dasharray="1.1,1.9"/>
<line x1="266.60" y1="266.92" x2="289.60" y2="266.92" stroke="#c8c8c8" stroke-width="0.6"/>
<rect x="291.67" y="243.67" width="22.50" height="23.25" fill="none" stroke="#e0e0e0" stroke-width="0.6"/>
<path d="M295.0,266.9 L295.0,266.6 L295.4,266.1 L295.8,265.2 L296.2,263.5 L296.6,260.7 L297.0,256.9 L297.4,252.4 L297.8,248.8 L298.2,250.3 L298.6,254.6 L299.0,258.9 L299.4,262.2 L299.8,264.4 L300.2,265.7 L300.6,266.4 L300.6,266.9 Z" fill="#4757a6" stroke="#262626" stroke-width="1.05" stroke-linejoin="round"/>
<path d="M293.3,266.2 L293.5,265.9 L293.7,265.5 L293.9,265.0 L294.1,264.3 L294.3,263.5 L294.5,262.5 L294.7,261.2 L294.9,259.7 L295.1,258.0 L295.3,256.0 L295.5,253.8 L295.7,251.5 L295.9,249.3 L296.1,247.4 L296.3,246.2 L296.5,247.4 L296.7,249.3 L296.9,251.5 L297.1,253.8 L297.3,256.0 L297.5,258.0 L297.7,259.7 L297.9,261.2 L298.1,262.5 L298.3,263.5 L298.5,264.3 L298.7,265.0 L298.9,265.5 L299.1,265.9 L299.3,266.2" fill="none" stroke="#111" stroke-width="1.1" stroke-dasharray="1.1,1.9"/>
<line x1="291.42" y1="266.92" x2="314.42" y2="266.92" stroke="#c8c8c8" stroke-width="0.6"/>
<rect x="316.49" y="243.67" width="22.50" height="23.25" fill="none" stroke="#e0e0e0" stroke-width="0.6"/>
<path d="M332.2,266.9 L332.2,266.6 L332.6,266.2 L333.0,265.4 L333.4,263.8 L333.8,261.2 L334.2,257.4 L334.6,252.7 L335.0,248.4 L335.4,248.4 L335.8,252.7 L336.2,257.4 L336.6,261.2 L337.0,263.8 L337.4,265.4 L337.8,266.2 L338.2,266.6 L338.2,266.9 Z" fill="#4757a6" stroke="#262626" stroke-width="1.05" stroke-linejoin="round"/>
<path d="M318.5,266.2 L318.7,265.9 L318.9,265.5 L319.1,265.0 L319.3,264.3 L319.5,263.5 L319.7,262.5 L319.9,261.2 L320.1,259.7 L320.3,258.0 L320.5,256.0 L320.7,253.8 L320.9,251.5 L321.1,249.3 L321.3,247.4 L321.5,246.2 L321.7,247.4 L321.9,249.3 L322.1,251.5 L322.3,253.8 L322.5,256.0 L322.7,258.0 L322.9,259.7 L323.1,261.2 L323.3,262.5 L323.5,263.5 L323.7,264.3 L323.9,265.0 L324.1,265.5 L324.3,265.9 L324.5,266.2" fill="none" stroke="#111" stroke-width="1.1" stroke-dasharray="1.1,1.9"/>
<line x1="316.24" y1="266.92" x2="339.24" y2="266.92" stroke="#c8c8c8" stroke-width="0.6"/>
<rect x="341.31" y="243.67" width="22.50" height="23.25" fill="none" stroke="#e0e0e0" stroke-width="0.6"/>
<path d="M341.9,266.9 L341.9,266.6 L342.3,266.5 L342.7,266.3 L343.1,266.1 L343.5,265.7 L343.9,265.3 L344.3,264.7 L344.7,263.9 L345.1,263.0 L345.5,261.8 L345.9,260.3 L346.3,258.6 L346.7,256.5 L347.1,254.3 L347.5,251.8 L347.9,249.3 L348.3,246.9 L348.7,245.3 L349.1,245.3 L349.5,245.3 L349.9,245.3 L350.3,245.8 L350.7,247.1 L351.1,248.4 L351.5,249.6 L351.9,250.5 L352.3,251.2 L352.7,251.7 L353.1,252.1 L353.5,252.3 L353.9,252.6 L354.3,253.1 L354.7,253.8 L355.1,254.7 L355.5,255.6 L355.9,256.5 L356.3,257.4 L356.7,258.3 L357.1,259.2 L357.5,260.0 L357.9,260.8 L358.3,261.5 L358.7,262.2 L359.1,262.8 L359.5,263.4 L359.9,263.9 L360.3,264.4 L360.7,264.8 L361.1,265.1 L361.5,265.4 L361.9,265.7 L362.3,265.9 L362.7,266.1 L363.1,266.2 L363.5,266.4 L363.9,266.5 L363.9,266.9 Z" fill="#d2464e" stroke="#262626" stroke-width="1.05" stroke-linejoin="round"/>
<path d="M343.7,266.2 L343.9,265.9 L344.1,265.5 L344.3,265.0 L344.5,264.3 L344.7,263.5 L344.9,262.5 L345.1,261.2 L345.3,259.7 L345.5,258.0 L345.7,256.0 L345.9,253.8 L346.1,251.5 L346.3,249.3 L346.5,247.4 L346.7,246.2 L346.9,247.4 L347.1,249.3 L347.3,251.5 L347.5,253.8 L347.7,256.0 L347.9,258.0 L348.1,259.7 L348.3,261.2 L348.5,262.5 L348.7,263.5 L348.9,264.3 L349.1,265.0 L349.3,265.5 L349.5,265.9 L349.7,266.2" fill="none" stroke="#111" stroke-width="1.1" stroke-dasharray="1.1,1.9"/>
<line x1="341.06" y1="266.92" x2="364.06" y2="266.92" stroke="#c8c8c8" stroke-width="0.6"/>
<rect x="366.13" y="243.67" width="22.50" height="23.25" fill="none" stroke="#e0e0e0" stroke-width="0.6"/>
<path d="M382.7,266.9 L382.7,266.6 L383.1,266.4 L383.5,266.0 L383.9,265.4 L384.3,264.4 L384.7,263.0 L385.1,261.2 L385.5,258.8 L385.9,255.8 L386.3,252.7 L386.7,249.6 L387.1,247.6 L387.5,248.4 L387.9,251.1 L388.3,254.3 L388.7,257.4 L388.7,266.9 Z" fill="#98a0d6" stroke="#262626" stroke-width="1.05" stroke-linejoin="round"/>
<path d="M367.8,266.2 L368.0,265.9 L368.2,265.5 L368.4,265.0 L368.6,264.3 L368.8,263.5 L369.0,262.5 L369.2,261.2 L369.4,259.7 L369.6,258.0 L369.8,256.0 L370.0,253.8 L370.2,251.5 L370.4,249.3 L370.6,247.4 L370.8,246.2 L371.0,247.4 L371.2,249.3 L371.4,251.5 L371.6,253.8 L371.8,256.0 L372.0,258.0 L372.2,259.7 L372.4,261.2 L372.6,262.5 L372.8,263.5 L373.0,264.3 L373.2,265.0 L373.4,265.5 L373.6,265.9 L373.8,266.2" fill="none" stroke="#111" stroke-width="1.1" stroke-dasharray="1.1,1.9"/>
<line x1="365.88" y1="266.92" x2="388.88" y2="266.92" stroke="#c8c8c8" stroke-width="0.6"/>
<rect x="390.95" y="243.67" width="22.50" height="23.25" fill="none" stroke="#e0e0e0" stroke-width="0.6"/>
<path d="M391.5,266.9 L391.5,266.6 L391.9,266.6 L392.3,266.6 L392.7,266.5 L393.1,266.5 L393.5,266.4 L393.9,266.3 L394.3,266.0 L394.7,265.6 L395.1,264.8 L395.5,263.4 L395.9,261.0 L396.3,257.4 L396.7,252.7 L397.1,248.1 L397.5,246.4 L397.9,250.1 L398.3,254.8 L398.7,258.8 L399.1,261.6 L399.5,263.3 L399.9,264.3 L400.3,264.7 L400.7,264.9 L401.1,265.0 L401.5,265.1 L401.9,265.2 L402.3,265.3 L402.7,265.4 L403.1,265.4 L403.5,265.5 L403.9,265.6 L404.3,265.7 L404.7,265.8 L405.1,265.9 L405.5,266.0 L405.9,266.1 L406.3,266.1 L406.7,266.2 L407.1,266.3 L407.5,266.3 L407.9,266.4 L408.3,266.5 L408.7,266.5 L409.1,266.6 L409.5,266.6 L409.9,266.6 L409.9,266.9 Z" fill="#ffffff" stroke="#262626" stroke-width="1.05" stroke-linejoin="round"/>
<path d="M393.2,266.2 L393.4,265.9 L393.6,265.5 L393.8,265.0 L394.0,264.3 L394.2,263.5 L394.4,262.5 L394.6,261.2 L394.8,259.7 L395.0,258.0 L395.2,256.0 L395.4,253.8 L395.6,251.5 L395.8,249.3 L396.0,247.4 L396.2,246.2 L396.4,247.4 L396.6,249.3 L396.8,251.5 L397.0,253.8 L397.2,256.0 L397.4,258.0 L397.6,259.7 L397.8,261.2 L398.0,262.5 L398.2,263.5 L398.4,264.3 L398.6,265.0 L398.8,265.5 L399.0,265.9 L399.2,266.2" fill="none" stroke="#111" stroke-width="1.1" stroke-dasharray="1.1,1.9"/>
<line x1="390.70" y1="266.92" x2="413.70" y2="266.92" stroke="#c8c8c8" stroke-width="0.6"/>
<rect x="415.77" y="243.67" width="22.50" height="23.25" fill="none" stroke="#e0e0e0" stroke-width="0.6"/>
<path d="M416.7,266.9 L416.7,266.6 L417.1,266.6 L417.5,266.5 L417.9,266.3 L418.3,266.1 L418.7,265.7 L419.1,265.1 L419.5,264.2 L419.9,262.8 L420.3,260.7 L420.7,257.7 L421.1,254.1 L421.5,250.0 L421.9,246.2 L422.3,245.3 L422.7,247.1 L423.1,250.5 L423.5,253.8 L423.9,256.5 L424.3,258.4 L424.7,259.6 L425.1,260.3 L425.5,260.7 L425.9,260.8 L426.3,261.1 L426.7,261.4 L427.1,261.7 L427.5,262.0 L427.9,262.4 L428.3,262.8 L428.7,263.2 L429.1,263.5 L429.5,263.9 L429.9,264.2 L430.3,264.6 L430.7,264.9 L431.1,265.1 L431.5,265.4 L431.9,265.6 L432.3,265.8 L432.7,266.0 L433.1,266.1 L433.5,266.3 L433.9,266.4 L434.3,266.5 L434.7,266.6 L435.1,266.6 L435.1,266.9 Z" fill="#ffffff" stroke="#262626" stroke-width="1.05" stroke-linejoin="round"/>
<path d="M418.0,266.2 L418.2,265.9 L418.4,265.5 L418.6,265.0 L418.8,264.3 L419.0,263.5 L419.2,262.5 L419.4,261.2 L419.6,259.7 L419.8,258.0 L420.0,256.0 L420.2,253.8 L420.4,251.5 L420.6,249.3 L420.8,247.4 L421.0,246.2 L421.2,247.4 L421.4,249.3 L421.6,251.5 L421.8,253.8 L422.0,256.0 L422.2,258.0 L422.4,259.7 L422.6,261.2 L422.8,262.5 L423.0,263.5 L423.2,264.3 L423.4,265.0 L423.6,265.5 L423.8,265.9 L424.0,266.2" fill="none" stroke="#111" stroke-width="1.1" stroke-dasharray="1.1,1.9"/>
<line x1="415.52" y1="266.92" x2="438.52" y2="266.92" stroke="#c8c8c8" stroke-width="0.6"/>
<rect x="440.59" y="243.67" width="22.50" height="23.25" fill="none" stroke="#e0e0e0" stroke-width="0.6"/>
<path d="M442.3,266.9 L442.3,266.6 L442.7,266.5 L443.1,266.3 L443.5,266.1 L443.9,265.8 L444.3,265.4 L444.7,264.8 L445.1,264.1 L445.5,263.1 L445.9,262.0 L446.3,260.6 L446.7,258.9 L447.1,256.9 L447.5,254.8 L447.9,252.4 L448.3,250.0 L448.7,247.7 L449.1,245.8 L449.5,245.3 L449.9,245.3 L450.3,246.2 L450.7,247.8 L451.1,249.5 L451.5,251.1 L451.9,252.6 L452.3,254.0 L452.7,255.1 L453.1,256.1 L453.5,256.9 L453.9,257.6 L454.3,258.4 L454.7,259.2 L455.1,260.0 L455.5,260.6 L455.9,261.3 L456.3,261.9 L456.7,262.4 L457.1,262.9 L457.5,263.4 L457.9,263.8 L458.3,264.2 L458.7,264.6 L459.1,264.9 L459.5,265.2 L459.9,265.5 L460.3,265.7 L460.7,265.9 L461.1,266.1 L461.5,266.2 L461.9,266.3 L462.3,266.4 L462.7,266.5 L463.1,266.6 L463.1,266.9 Z" fill="#f8e4e4" stroke="#262626" stroke-width="1.05" stroke-linejoin="round"/>
<path d="M443.0,266.2 L443.2,265.9 L443.4,265.5 L443.6,265.0 L443.8,264.3 L444.0,263.5 L444.2,262.5 L444.4,261.2 L444.6,259.7 L444.8,258.0 L445.0,256.0 L445.2,253.8 L445.4,251.5 L445.6,249.3 L445.8,247.4 L446.0,246.2 L446.2,247.4 L446.4,249.3 L446.6,251.5 L446.8,253.8 L447.0,256.0 L447.2,258.0 L447.4,259.7 L447.6,261.2 L447.8,262.5 L448.0,263.5 L448.2,264.3 L448.4,265.0 L448.6,265.5 L448.8,265.9 L449.0,266.2" fill="none" stroke="#111" stroke-width="1.1" stroke-dasharray="1.1,1.9"/>
<line x1="440.34" y1="266.92" x2="463.34" y2="266.92" stroke="#c8c8c8" stroke-width="0.6"/>
<rect x="465.41" y="243.67" width="22.50" height="23.25" fill="none" stroke="#e0e0e0" stroke-width="0.6"/>
<path d="M466.4,266.9 L466.4,266.6 L466.8,266.6 L467.2,266.5 L467.6,266.4 L468.0,266.2 L468.4,266.0 L468.8,265.6 L469.2,265.0 L469.6,264.0 L470.0,262.4 L470.4,260.1 L470.8,257.1 L471.2,253.3 L471.6,249.3 L472.0,245.9 L472.4,245.6 L472.8,248.4 L473.2,252.0 L473.6,255.2 L474.0,257.8 L474.4,259.5 L474.8,260.6 L475.2,261.2 L475.6,261.4 L476.0,261.4 L476.4,261.3 L476.8,261.2 L477.2,261.1 L477.6,261.2 L478.0,261.4 L478.4,261.7 L478.8,261.9 L479.2,262.2 L479.6,262.5 L480.0,262.9 L480.4,263.2 L480.8,263.5 L481.2,263.8 L481.6,264.1 L482.0,264.4 L482.4,264.7 L482.8,264.9 L483.2,265.2 L483.6,265.4 L484.0,265.6 L484.4,265.7 L484.8,265.9 L485.2,266.0 L485.6,266.2 L486.0,266.3 L486.4,266.4 L486.8,266.5 L487.2,266.5 L487.6,266.6 L488.0,266.6 L488.0,266.9 Z" fill="#d2464e" stroke="#262626" stroke-width="1.05" stroke-linejoin="round"/>
<path d="M467.7,266.2 L467.9,265.9 L468.1,265.5 L468.3,265.0 L468.5,264.3 L468.7,263.5 L468.9,262.5 L469.1,261.2 L469.3,259.7 L469.5,258.0 L469.7,256.0 L469.9,253.8 L470.1,251.5 L470.3,249.3 L470.5,247.4 L470.7,246.2 L470.9,247.4 L471.1,249.3 L471.3,251.5 L471.5,253.8 L471.7,256.0 L471.9,258.0 L472.1,259.7 L472.3,261.2 L472.5,262.5 L472.7,263.5 L472.9,264.3 L473.1,265.0 L473.3,265.5 L473.5,265.9 L473.7,266.2" fill="none" stroke="#111" stroke-width="1.1" stroke-dasharray="1.1,1.9"/>
<line x1="465.16" y1="266.92" x2="488.16" y2="266.92" stroke="#c8c8c8" stroke-width="0.6"/>
<rect x="490.23" y="243.67" width="22.50" height="23.25" fill="none" stroke="#e0e0e0" stroke-width="0.6"/>
<path d="M491.2,266.9 L491.2,266.6 L491.6,266.5 L492.0,266.3 L492.4,265.9 L492.8,265.4 L493.2,264.6 L493.6,263.5 L494.0,262.2 L494.4,260.5 L494.8,258.7 L495.2,256.8 L495.6,255.2 L496.0,254.9 L496.4,255.8 L496.8,257.1 L497.2,258.3 L497.6,259.3 L498.0,260.1 L498.4,260.6 L498.8,260.8 L499.2,260.9 L499.6,260.9 L500.0,260.9 L500.4,261.1 L500.8,261.4 L501.2,261.7 L501.6,262.0 L502.0,262.2 L502.4,262.3 L502.8,262.3 L503.2,262.0 L503.6,261.5 L504.0,260.6 L504.4,259.4 L504.8,257.8 L505.2,255.8 L505.6,253.5 L506.0,251.1 L506.4,248.9 L506.8,247.3 L507.2,247.4 L507.6,249.2 L508.0,251.6 L508.4,254.2 L508.8,256.8 L509.2,259.0 L509.6,261.0 L510.0,262.6 L510.4,263.8 L510.8,264.7 L511.2,265.4 L511.6,265.9 L512.0,266.3 L512.4,266.5 L512.4,266.9 Z" fill="#d2464e" stroke="#262626" stroke-width="1.05" stroke-linejoin="round"/>
<path d="M491.8,266.2 L492.0,265.9 L492.2,265.5 L492.4,265.0 L492.6,264.3 L492.8,263.5 L493.0,262.5 L493.2,261.2 L493.4,259.7 L493.6,258.0 L493.8,256.0 L494.0,253.8 L494.2,251.5 L494.4,249.3 L494.6,247.4 L494.8,246.2 L495.0,247.4 L495.2,249.3 L495.4,251.5 L495.6,253.8 L495.8,256.0 L496.0,258.0 L496.2,259.7 L496.4,261.2 L496.6,262.5 L496.8,263.5 L497.0,264.3 L497.2,265.0 L497.4,265.5 L497.6,265.9 L497.8,266.2" fill="none" stroke="#111" stroke-width="1.1" stroke-dasharray="1.1,1.9"/>
<line x1="489.98" y1="266.92" x2="512.98" y2="266.92" stroke="#c8c8c8" stroke-width="0.6"/>
<rect x="18.65" y="268.29" width="22.50" height="23.25" fill="none" stroke="#e0e0e0" stroke-width="0.6"/>
<path d="M21.2,291.5 L21.2,291.1 L21.6,290.6 L22.0,289.9 L22.4,288.6 L22.8,286.8 L23.2,284.1 L23.6,280.8 L24.0,276.9 L24.4,273.3 L24.8,271.7 L25.2,273.5 L25.6,276.1 L26.0,278.4 L26.4,279.9 L26.8,280.4 L27.2,280.0 L27.6,279.0 L28.0,277.7 L28.4,276.7 L28.8,276.8 L29.2,277.1 L29.6,277.3 L30.0,277.1 L30.4,276.4 L30.8,275.3 L31.2,273.7 L31.6,271.9 L32.0,270.4 L32.4,269.9 L32.8,271.3 L33.2,273.8 L33.6,276.6 L34.0,279.4 L34.4,282.0 L34.8,284.3 L35.2,286.2 L35.6,287.7 L36.0,288.8 L36.4,289.7 L36.8,290.3 L37.2,290.7 L37.6,291.0 L38.0,291.2 L38.0,291.5 Z" fill="#de7676" stroke="#262626" stroke-width="1.05" stroke-linejoin="round"/>
<path d="M22.4,290.8 L22.6,290.5 L22.8,290.1 L23.0,289.6 L23.2,289.0 L23.4,288.1 L23.6,287.1 L23.8,285.8 L24.0,284.3 L24.2,282.6 L24.4,280.6 L24.6,278.4 L24.8,276.2 L25.0,273.9 L25.2,272.0 L25.4,270.8 L25.6,272.0 L25.8,273.9 L26.0,276.2 L26.2,278.4 L26.4,280.6 L26.6,282.6 L26.8,284.3 L27.0,285.8 L27.2,287.1 L27.4,288.1 L27.6,289.0 L27.8,289.6 L28.0,290.1 L28.2,290.5 L28.4,290.8" fill="none" stroke="#111" stroke-width="1.1" stroke-dasharray="1.1,1.9"/>
<line x1="18.40" y1="291.54" x2="41.40" y2="291.54" stroke="#c8c8c8" stroke-width="0.6"/>
<rect x="43.47" y="268.29" width="22.50" height="23.25" fill="none" stroke="#e0e0e0" stroke-width="0.6"/>
<path d="M45.6,291.5 L45.6,291.2 L46.0,291.0 L46.4,290.6 L46.8,289.9 L47.2,288.7 L47.6,286.9 L48.0,284.1 L48.4,280.3 L48.8,275.8 L49.2,271.5 L49.6,269.9 L50.0,272.4 L50.4,276.0 L50.8,279.3 L51.2,281.7 L51.6,283.1 L52.0,283.6 L52.4,283.6 L52.8,283.3 L53.2,282.8 L53.6,282.3 L54.0,281.9 L54.4,282.0 L54.8,282.4 L55.2,282.9 L55.6,283.6 L56.0,284.4 L56.4,285.1 L56.8,285.9 L57.2,286.6 L57.6,287.3 L58.0,287.9 L58.4,288.5 L58.8,289.0 L59.2,289.4 L59.6,289.8 L60.0,290.1 L60.4,290.4 L60.8,290.6 L61.2,290.8 L61.6,291.0 L62.0,291.1 L62.4,291.2 L62.4,291.5 Z" fill="#ffffff" stroke="#262626" stroke-width="1.05" stroke-linejoin="round"/>
<path d="M45.2,290.8 L45.4,290.5 L45.6,290.1 L45.8,289.6 L46.0,289.0 L46.2,288.1 L46.4,287.1 L46.6,285.8 L46.8,284.3 L47.0,282.6 L47.2,280.6 L47.4,278.4 L47.6,276.2 L47.8,273.9 L48.0,272.0 L48.2,270.8 L48.4,272.0 L48.6,273.9 L48.8,276.2 L49.0,278.4 L49.2,280.6 L49.4,282.6 L49.6,284.3 L49.8,285.8 L50.0,287.1 L50.2,288.1 L50.4,289.0 L50.6,289.6 L50.8,290.1 L51.0,290.5 L51.2,290.8" fill="none" stroke="#111" stroke-width="1.1" stroke-dasharray="1.1,1.9"/>
<line x1="43.22" y1="291.54" x2="66.22" y2="291.54" stroke="#c8c8c8" stroke-width="0.6"/>
<rect x="68.29" y="268.29" width="22.50" height="23.25" fill="none" stroke="#e0e0e0" stroke-width="0.6"/>
<path d="M71.2,291.5 L71.2,291.2 L71.6,290.6 L72.0,289.4 L72.4,287.0 L72.8,283.0 L73.2,277.5 L73.6,272.2 L74.0,272.2 L74.4,277.5 L74.8,283.0 L75.2,287.0 L75.6,289.4 L76.0,290.6 L76.4,291.2 L76.4,291.5 Z" fill="#4757a6" stroke="#262626" stroke-width="1.05" stroke-linejoin="round"/>
<path d="M71.0,290.8 L71.2,290.5 L71.4,290.1 L71.6,289.6 L71.8,289.0 L72.0,288.1 L72.2,287.1 L72.4,285.8 L72.6,284.3 L72.8,282.6 L73.0,280.6 L73.2,278.4 L73.4,276.2 L73.6,273.9 L73.8,272.0 L74.0,270.8 L74.2,272.0 L74.4,273.9 L74.6,276.2 L74.8,278.4 L75.0,280.6 L75.2,282.6 L75.4,284.3 L75.6,285.8 L75.8,287.1 L76.0,288.1 L76.2,289.0 L76.4,289.6 L76.6,290.1 L76.8,290.5 L77.0,290.8" fill="none" stroke="#111" stroke-width="1.1" stroke-dasharray="1.1,1.9"/>
<line x1="68.04" y1="291.54" x2="91.04" y2="291.54" stroke="#c8c8c8" stroke-width="0.6"/>
<rect x="93.11" y="268.29" width="22.50" height="23.25" fill="none" stroke="#e0e0e0" stroke-width="0.6"/>
<path d="M96.9,291.5 L96.9,291.2 L97.3,291.2 L97.7,291.1 L98.1,291.0 L98.5,290.9 L98.9,290.7 L99.3,290.6 L99.7,290.4 L100.1,290.2 L100.5,290.0 L100.9,289.7 L101.3,289.4 L101.7,289.1 L102.1,288.7 L102.5,288.3 L102.9,287.9 L103.3,287.4 L103.7,287.0 L104.1,286.5 L104.5,286.0 L104.9,285.4 L105.3,284.9 L105.7,284.3 L106.1,283.8 L106.5,283.2 L106.9,282.7 L107.3,282.1 L107.7,281.2 L108.1,280.0 L108.5,278.6 L108.9,276.8 L109.3,274.7 L109.7,272.6 L110.1,270.7 L110.5,269.9 L110.9,269.9 L111.3,271.8 L111.7,274.5 L112.1,277.3 L112.5,280.1 L112.9,282.5 L113.3,284.6 L113.7,286.4 L114.1,287.8 L114.5,288.8 L114.9,289.6 L115.3,290.2 L115.7,290.6 L115.7,291.5 Z" fill="#f8e4e4" stroke="#262626" stroke-width="1.05" stroke-linejoin="round"/>
<path d="M95.7,290.8 L95.9,290.5 L96.1,290.1 L96.3,289.6 L96.5,289.0 L96.7,288.1 L96.9,287.1 L97.1,285.8 L97.3,284.3 L97.5,282.6 L97.7,280.6 L97.9,278.4 L98.1,276.2 L98.3,273.9 L98.5,272.0 L98.7,270.8 L98.9,272.0 L99.1,273.9 L99.3,276.2 L99.5,278.4 L99.7,280.6 L99.9,282.6 L100.1,284.3 L100.3,285.8 L100.5,287.1 L100.7,288.1 L100.9,289.0 L101.1,289.6 L101.3,290.1 L101.5,290.5 L101.7,290.8" fill="none" stroke="#111" stroke-width="1.1" stroke-dasharray="1.1,1.9"/>
<line x1="92.86" y1="291.54" x2="115.86" y2="291.54" stroke="#c8c8c8" stroke-width="0.6"/>
<rect x="117.93" y="268.29" width="22.50" height="23.25" fill="none" stroke="#e0e0e0" stroke-width="0.6"/>
<path d="M120.1,291.5 L120.1,291.2 L120.5,291.0 L120.9,290.7 L121.3,290.2 L121.7,289.4 L122.1,288.3 L122.5,286.7 L122.9,284.5 L123.3,281.8 L123.7,278.4 L124.1,274.7 L124.5,271.1 L124.9,269.9 L125.3,269.9 L125.7,270.8 L126.1,273.4 L126.5,275.9 L126.9,277.9 L127.3,279.5 L127.7,280.6 L128.1,281.5 L128.5,282.4 L128.9,283.4 L129.3,284.3 L129.7,285.2 L130.1,286.0 L130.5,286.8 L130.9,287.5 L131.3,288.1 L131.7,288.7 L132.1,289.2 L132.5,289.7 L132.9,290.0 L133.3,290.4 L133.7,290.6 L134.1,290.8 L134.5,291.0 L134.9,291.1 L135.3,291.2 L135.3,291.5 Z" fill="#c3c7ea" stroke="#262626" stroke-width="1.05" stroke-linejoin="round"/>
<path d="M119.8,290.8 L120.0,290.5 L120.2,290.1 L120.4,289.6 L120.6,289.0 L120.8,288.1 L121.0,287.1 L121.2,285.8 L121.4,284.3 L121.6,282.6 L121.8,280.6 L122.0,278.4 L122.2,276.2 L122.4,273.9 L122.6,272.0 L122.8,270.8 L123.0,272.0 L123.2,273.9 L123.4,276.2 L123.6,278.4 L123.8,280.6 L124.0,282.6 L124.2,284.3 L124.4,285.8 L124.6,287.1 L124.8,288.1 L125.0,289.0 L125.2,289.6 L125.4,290.1 L125.6,290.5 L125.8,290.8" fill="none" stroke="#111" stroke-width="1.1" stroke-dasharray="1.1,1.9"/>
<line x1="117.68" y1="291.54" x2="140.68" y2="291.54" stroke="#c8c8c8" stroke-width="0.6"/>
<rect x="142.75" y="268.29" width="22.50" height="23.25" fill="none" stroke="#e0e0e0" stroke-width="0.6"/>
<path d="M151.7,291.5 L151.7,291.2 L152.1,291.1 L152.5,291.0 L152.9,290.9 L153.3,290.8 L153.7,290.6 L154.1,290.5 L154.5,290.4 L154.9,290.2 L155.3,290.1 L155.7,290.1 L156.1,290.0 L156.5,289.8 L156.9,289.4 L157.3,288.5 L157.7,286.9 L158.1,284.4 L158.5,280.9 L158.9,276.6 L159.3,272.6 L159.7,271.3 L160.1,274.7 L160.5,279.1 L160.9,283.2 L161.3,286.4 L161.7,288.6 L162.1,289.9 L162.5,290.7 L162.9,291.1 L162.9,291.5 Z" fill="#6b74bc" stroke="#262626" stroke-width="1.05" stroke-linejoin="round"/>
<path d="M146.0,290.8 L146.2,290.5 L146.4,290.1 L146.6,289.6 L146.8,289.0 L147.0,288.1 L147.2,287.1 L147.4,285.8 L147.6,284.3 L147.8,282.6 L148.0,280.6 L148.2,278.4 L148.4,276.2 L148.6,273.9 L148.8,272.0 L149.0,270.8 L149.2,272.0 L149.4,273.9 L149.6,276.2 L149.8,278.4 L150.0,280.6 L150.2,282.6 L150.4,284.3 L150.6,285.8 L150.8,287.1 L151.0,288.1 L151.2,289.0 L151.4,289.6 L151.6,290.1 L151.8,290.5 L152.0,290.8" fill="none" stroke="#111" stroke-width="1.1" stroke-dasharray="1.1,1.9"/>
<line x1="142.50" y1="291.54" x2="165.50" y2="291.54" stroke="#c8c8c8" stroke-width="0.6"/>
<rect x="167.57" y="268.29" width="22.50" height="23.25" fill="none" stroke="#e0e0e0" stroke-width="0.6"/>
<path d="M168.5,291.5 L168.5,291.2 L168.9,290.9 L169.3,290.6 L169.7,290.0 L170.1,289.1 L170.5,287.9 L170.9,286.3 L171.3,284.2 L171.7,281.8 L172.1,279.2 L172.5,276.9 L172.9,275.5 L173.3,276.0 L173.7,276.8 L174.1,277.7 L174.5,278.3 L174.9,278.5 L175.3,278.4 L175.7,278.2 L176.1,278.2 L176.5,278.4 L176.9,278.4 L177.3,278.2 L177.7,277.6 L178.1,276.7 L178.5,275.5 L178.9,274.1 L179.3,272.6 L179.7,271.2 L180.1,270.3 L180.5,270.7 L180.9,272.3 L181.3,274.4 L181.7,276.7 L182.1,279.0 L182.5,281.2 L182.9,283.2 L183.3,284.9 L183.7,286.4 L184.1,287.6 L184.5,288.6 L184.9,289.4 L185.3,290.0 L185.7,290.4 L186.1,290.8 L186.5,291.0 L186.9,291.2 L186.9,291.5 Z" fill="#e8a2a2" stroke="#262626" stroke-width="1.05" stroke-linejoin="round"/>
<path d="M169.2,290.8 L169.4,290.5 L169.6,290.1 L169.8,289.6 L170.0,289.0 L170.2,288.1 L170.4,287.1 L170.6,285.8 L170.8,284.3 L171.0,282.6 L171.2,280.6 L171.4,278.4 L171.6,276.2 L171.8,273.9 L172.0,272.0 L172.2,270.8 L172.4,272.0 L172.6,273.9 L172.8,276.2 L173.0,278.4 L173.2,280.6 L173.4,282.6 L173.6,284.3 L173.8,285.8 L174.0,287.1 L174.2,288.1 L174.4,289.0 L174.6,289.6 L174.8,290.1 L175.0,290.5 L175.2,290.8" fill="none" stroke="#111" stroke-width="1.1" stroke-dasharray="1.1,1.9"/>
<line x1="167.32" y1="291.54" x2="190.32" y2="291.54" stroke="#c8c8c8" stroke-width="0.6"/>
<rect x="192.39" y="268.29" width="22.50" height="23.25" fill="none" stroke="#e0e0e0" stroke-width="0.6"/>
<path d="M192.9,291.5 L192.9,291.2 L193.3,291.0 L193.7,290.7 L194.1,290.0 L194.5,289.1 L194.9,287.6 L195.3,285.4 L195.7,282.7 L196.1,279.4 L196.5,276.2 L196.9,274.1 L197.3,275.1 L197.7,277.3 L198.1,279.4 L198.5,281.0 L198.9,282.0 L199.3,282.4 L199.7,282.4 L200.1,282.1 L200.5,282.0 L200.9,281.8 L201.3,281.3 L201.7,280.7 L202.1,279.8 L202.5,278.7 L202.9,277.3 L203.3,275.7 L203.7,274.0 L204.1,272.5 L204.5,271.4 L204.9,271.2 L205.3,272.5 L205.7,274.4 L206.1,276.6 L206.5,278.9 L206.9,281.0 L207.3,283.0 L207.7,284.8 L208.1,286.2 L208.5,287.5 L208.9,288.5 L209.3,289.3 L209.7,289.9 L210.1,290.4 L210.5,290.7 L210.9,291.0 L211.3,291.1 L211.3,291.5 Z" fill="#de7676" stroke="#262626" stroke-width="1.05" stroke-linejoin="round"/>
<path d="M195.0,290.8 L195.2,290.5 L195.4,290.1 L195.6,289.6 L195.8,289.0 L196.0,288.1 L196.2,287.1 L196.4,285.8 L196.6,284.3 L196.8,282.6 L197.0,280.6 L197.2,278.4 L197.4,276.2 L197.6,273.9 L197.8,272.0 L198.0,270.8 L198.2,272.0 L198.4,273.9 L198.6,276.2 L198.8,278.4 L199.0,280.6 L199.2,282.6 L199.4,284.3 L199.6,285.8 L199.8,287.1 L200.0,288.1 L200.2,289.0 L200.4,289.6 L200.6,290.1 L200.8,290.5 L201.0,290.8" fill="none" stroke="#111" stroke-width="1.1" stroke-dasharray="1.1,1.9"/>
<line x1="192.14" y1="291.54" x2="215.14" y2="291.54" stroke="#c8c8c8" stroke-width="0.6"/>
<rect x="217.21" y="268.29" width="22.50" height="23.25" fill="none" stroke="#e0e0e0" stroke-width="0.6"/>
<path d="M218.2,291.5 L218.2,291.2 L218.6,291.1 L219.0,290.9 L219.4,290.6 L219.8,290.1 L220.2,289.2 L220.6,287.8 L221.0,285.6 L221.4,282.4 L221.8,278.1 L222.2,273.4 L222.6,269.9 L223.0,269.9 L223.4,271.9 L223.8,275.8 L224.2,279.1 L224.6,281.4 L225.0,282.9 L225.4,283.7 L225.8,284.0 L226.2,284.4 L226.6,284.8 L227.0,285.3 L227.4,285.9 L227.8,286.4 L228.2,286.9 L228.6,287.5 L229.0,288.0 L229.4,288.5 L229.8,288.9 L230.2,289.3 L230.6,289.7 L231.0,290.0 L231.4,290.3 L231.8,290.5 L232.2,290.7 L232.6,290.9 L233.0,291.0 L233.4,291.1 L233.8,291.2 L233.8,291.5 Z" fill="#f8e4e4" stroke="#262626" stroke-width="1.05" stroke-linejoin="round"/>
<path d="M219.7,290.8 L219.9,290.5 L220.1,290.1 L220.3,289.6 L220.5,289.0 L220.7,288.1 L220.9,287.1 L221.1,285.8 L221.3,284.3 L221.5,282.6 L221.7,280.6 L221.9,278.4 L222.1,276.2 L222.3,273.9 L222.5,272.0 L222.7,270.8 L222.9,272.0 L223.1,273.9 L223.3,276.2 L223.5,278.4 L223.7,280.6 L223.9,282.6 L224.1,284.3 L224.3,285.8 L224.5,287.1 L224.7,288.1 L224.9,289.0 L225.1,289.6 L225.3,290.1 L225.5,290.5 L225.7,290.8" fill="none" stroke="#111" stroke-width="1.1" stroke-dasharray="1.1,1.9"/>
<line x1="216.96" y1="291.54" x2="239.96" y2="291.54" stroke="#c8c8c8" stroke-width="0.6"/>
<rect x="242.03" y="268.29" width="22.50" height="23.25" fill="none" stroke="#e0e0e0" stroke-width="0.6"/>
<path d="M243.0,291.5 L243.0,291.2 L243.4,291.0 L243.8,290.6 L244.2,290.1 L244.6,289.3 L245.0,288.1 L245.4,286.4 L245.8,284.1 L246.2,281.2 L246.6,277.8 L247.0,274.1 L247.4,270.6 L247.8,269.9 L248.2,269.9 L248.6,270.9 L249.0,273.1 L249.4,274.9 L249.8,276.3 L250.2,277.0 L250.6,277.3 L251.0,277.3 L251.4,277.1 L251.8,277.1 L252.2,277.8 L252.6,278.8 L253.0,280.0 L253.4,281.3 L253.8,282.5 L254.2,283.8 L254.6,284.9 L255.0,286.0 L255.4,286.9 L255.8,287.8 L256.2,288.5 L256.6,289.1 L257.0,289.6 L257.4,290.1 L257.8,290.4 L258.2,290.7 L258.6,290.9 L259.0,291.0 L259.4,291.2 L259.4,291.5 Z" fill="#f3d4d4" stroke="#262626" stroke-width="1.05" stroke-linejoin="round"/>
<path d="M243.8,290.8 L244.0,290.5 L244.2,290.1 L244.4,289.6 L244.6,289.0 L244.8,288.1 L245.0,287.1 L245.2,285.8 L245.4,284.3 L245.6,282.6 L245.8,280.6 L246.0,278.4 L246.2,276.2 L246.4,273.9 L246.6,272.0 L246.8,270.8 L247.0,272.0 L247.2,273.9 L247.4,276.2 L247.6,278.4 L247.8,280.6 L248.0,282.6 L248.2,284.3 L248.4,285.8 L248.6,287.1 L248.8,288.1 L249.0,289.0 L249.2,289.6 L249.4,290.1 L249.6,290.5 L249.8,290.8" fill="none" stroke="#111" stroke-width="1.1" stroke-dasharray="1.1,1.9"/>
<line x1="241.78" y1="291.54" x2="264.78" y2="291.54" stroke="#c8c8c8" stroke-width="0.6"/>
<rect x="266.85" y="268.29" width="22.50" height="23.25" fill="none" stroke="#e0e0e0" stroke-width="0.6"/>
<path d="M271.8,291.5 L271.8,291.2 L272.2,291.1 L272.6,290.9 L273.0,290.7 L273.4,290.5 L273.8,290.2 L274.2,289.8 L274.6,289.3 L275.0,288.7 L275.4,288.0 L275.8,287.1 L276.2,286.1 L276.6,284.9 L277.0,283.6 L277.4,282.1 L277.8,280.5 L278.2,278.8 L278.6,277.1 L279.0,275.4 L279.4,273.8 L279.8,272.4 L280.2,271.5 L280.6,271.5 L281.0,272.4 L281.4,273.8 L281.8,275.4 L282.2,277.1 L282.6,278.8 L283.0,280.5 L283.4,282.1 L283.8,283.6 L284.2,284.9 L284.6,286.1 L285.0,287.1 L285.4,288.0 L285.8,288.7 L286.2,289.3 L286.6,289.8 L287.0,290.2 L287.4,290.5 L287.8,290.7 L288.2,290.9 L288.6,291.1 L289.0,291.2 L289.0,291.5 Z" fill="#ffffff" stroke="#262626" stroke-width="1.05" stroke-linejoin="round"/>
<path d="M269.7,290.8 L269.9,290.5 L270.1,290.1 L270.3,289.6 L270.5,289.0 L270.7,288.1 L270.9,287.1 L271.1,285.8 L271.3,284.3 L271.5,282.6 L271.7,280.6 L271.9,278.4 L272.1,276.2 L272.3,273.9 L272.5,272.0 L272.7,270.8 L272.9,272.0 L273.1,273.9 L273.3,276.2 L273.5,278.4 L273.7,280.6 L273.9,282.6 L274.1,284.3 L274.3,285.8 L274.5,287.1 L274.7,288.1 L274.9,289.0 L275.1,289.6 L275.3,290.1 L275.5,290.5 L275.7,290.8" fill="none" stroke="#111" stroke-width="1.1" stroke-dasharray="1.1,1.9"/>
<line x1="266.60" y1="291.54" x2="289.60" y2="291.54" stroke="#c8c8c8" stroke-width="0.6"/>
<rect x="291.67" y="268.29" width="22.50" height="23.25" fill="none" stroke="#e0e0e0" stroke-width="0.6"/>
<path d="M293.0,291.5 L293.0,291.2 L293.4,291.1 L293.8,291.0 L294.2,290.7 L294.6,290.4 L295.0,289.9 L295.4,289.2 L295.8,288.1 L296.2,286.7 L296.6,285.0 L297.0,283.2 L297.4,281.6 L297.8,281.2 L298.2,282.2 L298.6,283.3 L299.0,284.4 L299.4,285.1 L299.8,285.5 L300.2,285.6 L300.6,285.5 L301.0,285.3 L301.4,285.0 L301.8,284.7 L302.2,284.4 L302.6,284.2 L303.0,284.2 L303.4,284.2 L303.8,284.1 L304.2,283.9 L304.6,283.5 L305.0,282.8 L305.4,281.8 L305.8,280.5 L306.2,278.9 L306.6,276.9 L307.0,274.8 L307.4,272.7 L307.8,270.9 L308.2,269.9 L308.6,270.6 L309.0,272.6 L309.4,275.2 L309.8,277.8 L310.2,280.4 L310.6,282.7 L311.0,284.7 L311.4,286.4 L311.8,287.7 L312.2,288.8 L312.6,289.6 L313.0,290.2 L313.4,290.6 L313.8,290.9 L314.2,291.1 L314.2,291.5 Z" fill="#d2464e" stroke="#262626" stroke-width="1.05" stroke-linejoin="round"/>
<path d="M293.3,290.8 L293.5,290.5 L293.7,290.1 L293.9,289.6 L294.1,289.0 L294.3,288.1 L294.5,287.1 L294.7,285.8 L294.9,284.3 L295.1,282.6 L295.3,280.6 L295.5,278.4 L295.7,276.2 L295.9,273.9 L296.1,272.0 L296.3,270.8 L296.5,272.0 L296.7,273.9 L296.9,276.2 L297.1,278.4 L297.3,280.6 L297.5,282.6 L297.7,284.3 L297.9,285.8 L298.1,287.1 L298.3,288.1 L298.5,289.0 L298.7,289.6 L298.9,290.1 L299.1,290.5 L299.3,290.8" fill="none" stroke="#111" stroke-width="1.1" stroke-dasharray="1.1,1.9"/>
<line x1="291.42" y1="291.54" x2="314.42" y2="291.54" stroke="#c8c8c8" stroke-width="0.6"/>
<rect x="316.49" y="268.29" width="22.50" height="23.25" fill="none" stroke="#e0e0e0" stroke-width="0.6"/>
<path d="M331.4,291.5 L331.4,291.0 L331.8,290.4 L332.2,289.2 L332.6,287.1 L333.0,283.8 L333.4,279.3 L333.8,274.4 L334.2,271.3 L334.6,274.4 L335.0,279.3 L335.4,283.8 L335.8,287.1 L336.2,289.2 L336.6,290.4 L337.0,291.0 L337.0,291.5 Z" fill="#4757a6" stroke="#262626" stroke-width="1.05" stroke-linejoin="round"/>
<path d="M318.5,290.8 L318.7,290.5 L318.9,290.1 L319.1,289.6 L319.3,289.0 L319.5,288.1 L319.7,287.1 L319.9,285.8 L320.1,284.3 L320.3,282.6 L320.5,280.6 L320.7,278.4 L320.9,276.2 L321.1,273.9 L321.3,272.0 L321.5,270.8 L321.7,272.0 L321.9,273.9 L322.1,276.2 L322.3,278.4 L322.5,280.6 L322.7,282.6 L322.9,284.3 L323.1,285.8 L323.3,287.1 L323.5,288.1 L323.7,289.0 L323.9,289.6 L324.1,290.1 L324.3,290.5 L324.5,290.8" fill="none" stroke="#111" stroke-width="1.1" stroke-dasharray="1.1,1.9"/>
<line x1="316.24" y1="291.54" x2="339.24" y2="291.54" stroke="#c8c8c8" stroke-width="0.6"/>
<rect x="341.31" y="268.29" width="22.50" height="23.25" fill="none" stroke="#e0e0e0" stroke-width="0.6"/>
<path d="M343.9,291.5 L343.9,291.2 L344.3,291.2 L344.7,291.1 L345.1,291.0 L345.5,290.8 L345.9,290.7 L346.3,290.5 L346.7,290.3 L347.1,290.1 L347.5,289.8 L347.9,289.4 L348.3,289.1 L348.7,288.7 L349.1,288.2 L349.5,287.7 L349.9,287.1 L350.3,286.5 L350.7,285.9 L351.1,285.2 L351.5,284.6 L351.9,283.9 L352.3,283.2 L352.7,282.5 L353.1,281.8 L353.5,281.3 L353.9,280.8 L354.3,280.5 L354.7,280.4 L355.1,280.3 L355.5,280.0 L355.9,279.6 L356.3,278.9 L356.7,277.8 L357.1,276.4 L357.5,274.7 L357.9,272.8 L358.3,270.9 L358.7,269.9 L359.1,269.9 L359.5,270.3 L359.9,272.8 L360.3,275.7 L360.7,278.5 L361.1,281.2 L361.5,283.5 L361.9,285.5 L362.3,287.0 L362.7,288.3 L363.1,289.2 L363.5,289.9 L363.9,290.4 L363.9,291.5 Z" fill="#e8a2a2" stroke="#262626" stroke-width="1.05" stroke-linejoin="round"/>
<path d="M343.7,290.8 L343.9,290.5 L344.1,290.1 L344.3,289.6 L344.5,289.0 L344.7,288.1 L344.9,287.1 L345.1,285.8 L345.3,284.3 L345.5,282.6 L345.7,280.6 L345.9,278.4 L346.1,276.2 L346.3,273.9 L346.5,272.0 L346.7,270.8 L346.9,272.0 L347.1,273.9 L347.3,276.2 L347.5,278.4 L347.7,280.6 L347.9,282.6 L348.1,284.3 L348.3,285.8 L348.5,287.1 L348.7,288.1 L348.9,289.0 L349.1,289.6 L349.3,290.1 L349.5,290.5 L349.7,290.8" fill="none" stroke="#111" stroke-width="1.1" stroke-dasharray="1.1,1.9"/>
<line x1="341.06" y1="291.54" x2="364.06" y2="291.54" stroke="#c8c8c8" stroke-width="0.6"/>
<rect x="366.13" y="268.29" width="22.50" height="23.25" fill="none" stroke="#e0e0e0" stroke-width="0.6"/>
<path d="M367.5,291.5 L367.5,291.2 L367.9,291.2 L368.3,291.1 L368.7,291.0 L369.1,290.9 L369.5,290.7 L369.9,290.5 L370.3,290.4 L370.7,290.1 L371.1,289.9 L371.5,289.6 L371.9,289.3 L372.3,289.0 L372.7,288.6 L373.1,288.2 L373.5,287.7 L373.9,287.2 L374.3,286.7 L374.7,286.2 L375.1,285.6 L375.5,285.0 L375.9,284.4 L376.3,283.8 L376.7,283.1 L377.1,282.5 L377.5,282.0 L377.9,281.4 L378.3,280.7 L378.7,279.8 L379.1,278.8 L379.5,277.6 L379.9,276.2 L380.3,274.9 L380.7,273.6 L381.1,272.6 L381.5,272.2 L381.9,272.8 L382.3,273.4 L382.7,273.6 L383.1,273.2 L383.5,271.9 L383.9,269.9 L384.3,269.9 L384.7,269.9 L385.1,270.2 L385.5,274.8 L385.9,279.3 L386.3,283.1 L386.7,286.0 L387.1,288.1 L387.5,289.4 L387.9,290.3 L388.3,290.8 L388.7,291.1 L388.7,291.5 Z" fill="#e8a2a2" stroke="#262626" stroke-width="1.05" stroke-linejoin="round"/>
<path d="M367.8,290.8 L368.0,290.5 L368.2,290.1 L368.4,289.6 L368.6,289.0 L368.8,288.1 L369.0,287.1 L369.2,285.8 L369.4,284.3 L369.6,282.6 L369.8,280.6 L370.0,278.4 L370.2,276.2 L370.4,273.9 L370.6,272.0 L370.8,270.8 L371.0,272.0 L371.2,273.9 L371.4,276.2 L371.6,278.4 L371.8,280.6 L372.0,282.6 L372.2,284.3 L372.4,285.8 L372.6,287.1 L372.8,288.1 L373.0,289.0 L373.2,289.6 L373.4,290.1 L373.6,290.5 L373.8,290.8" fill="none" stroke="#111" stroke-width="1.1" stroke-dasharray="1.1,1.9"/>
<line x1="365.88" y1="291.54" x2="388.88" y2="291.54" stroke="#c8c8c8" stroke-width="0.6"/>
<rect x="390.95" y="268.29" width="22.50" height="23.25" fill="none" stroke="#e0e0e0" stroke-width="0.6"/>
<path d="M393.9,291.5 L393.9,291.0 L394.3,290.6 L394.7,289.8 L395.1,288.6 L395.5,286.8 L395.9,284.2 L396.3,280.8 L396.7,277.1 L397.1,273.7 L397.5,272.3 L397.9,274.6 L398.3,277.7 L398.7,280.7 L399.1,282.9 L399.5,284.4 L399.9,285.0 L400.3,285.1 L400.7,284.6 L401.1,283.9 L401.5,283.1 L401.9,282.2 L402.3,281.5 L402.7,281.2 L403.1,281.6 L403.5,282.3 L403.9,283.2 L404.3,284.2 L404.7,285.3 L405.1,286.2 L405.5,287.1 L405.9,288.0 L406.3,288.7 L406.7,289.3 L407.1,289.8 L407.5,290.2 L407.9,290.5 L408.3,290.8 L408.7,291.0 L409.1,291.1 L409.5,291.2 L409.5,291.5 Z" fill="#e8a2a2" stroke="#262626" stroke-width="1.05" stroke-linejoin="round"/>
<path d="M393.2,290.8 L393.4,290.5 L393.6,290.1 L393.8,289.6 L394.0,289.0 L394.2,288.1 L394.4,287.1 L394.6,285.8 L394.8,284.3 L395.0,282.6 L395.2,280.6 L395.4,278.4 L395.6,276.2 L395.8,273.9 L396.0,272.0 L396.2,270.8 L396.4,272.0 L396.6,273.9 L396.8,276.2 L397.0,278.4 L397.2,280.6 L397.4,282.6 L397.6,284.3 L397.8,285.8 L398.0,287.1 L398.2,288.1 L398.4,289.0 L398.6,289.6 L398.8,290.1 L399.0,290.5 L399.2,290.8" fill="none" stroke="#111" stroke-width="1.1" stroke-dasharray="1.1,1.9"/>
<line x1="390.70" y1="291.54" x2="413.70" y2="291.54" stroke="#c8c8c8" stroke-width="0.6"/>
<rect x="415.77" y="268.29" width="22.50" height="23.25" fill="none" stroke="#e0e0e0" stroke-width="0.6"/>
<path d="M417.5,291.5 L417.5,291.1 L417.9,290.9 L418.3,290.4 L418.7,289.7 L419.1,288.7 L419.5,287.5 L419.9,286.0 L420.3,284.4 L420.7,283.4 L421.1,282.8 L421.5,282.1 L421.9,281.1 L422.3,279.7 L422.7,278.0 L423.1,276.2 L423.5,274.8 L423.9,274.7 L424.3,275.0 L424.7,275.2 L425.1,275.1 L425.5,274.6 L425.9,273.7 L426.3,272.5 L426.7,271.4 L427.1,270.5 L427.5,271.1 L427.9,273.1 L428.3,275.5 L428.7,278.1 L429.1,280.6 L429.5,282.9 L429.9,284.9 L430.3,286.5 L430.7,287.8 L431.1,288.9 L431.5,289.7 L431.9,290.2 L432.3,290.7 L432.7,290.9 L433.1,291.2 L433.1,291.5 Z" fill="#e8a2a2" stroke="#262626" stroke-width="1.05" stroke-linejoin="round"/>
<path d="M418.0,290.8 L418.2,290.5 L418.4,290.1 L418.6,289.6 L418.8,289.0 L419.0,288.1 L419.2,287.1 L419.4,285.8 L419.6,284.3 L419.8,282.6 L420.0,280.6 L420.2,278.4 L420.4,276.2 L420.6,273.9 L420.8,272.0 L421.0,270.8 L421.2,272.0 L421.4,273.9 L421.6,276.2 L421.8,278.4 L422.0,280.6 L422.2,282.6 L422.4,284.3 L422.6,285.8 L422.8,287.1 L423.0,288.1 L423.2,289.0 L423.4,289.6 L423.6,290.1 L423.8,290.5 L424.0,290.8" fill="none" stroke="#111" stroke-width="1.1" stroke-dasharray="1.1,1.9"/>
<line x1="415.52" y1="291.54" x2="438.52" y2="291.54" stroke="#c8c8c8" stroke-width="0.6"/>
<rect x="440.59" y="268.29" width="22.50" height="23.25" fill="none" stroke="#e0e0e0" stroke-width="0.6"/>
<path d="M441.5,291.5 L441.5,291.2 L441.9,291.1 L442.3,291.0 L442.7,290.9 L443.1,290.7 L443.5,290.5 L443.9,290.3 L444.3,290.0 L444.7,289.7 L445.1,289.3 L445.5,288.8 L445.9,288.3 L446.3,287.7 L446.7,287.1 L447.1,286.4 L447.5,285.7 L447.9,284.9 L448.3,284.0 L448.7,283.2 L449.1,282.3 L449.5,281.6 L449.9,280.9 L450.3,280.3 L450.7,279.5 L451.1,278.5 L451.5,277.4 L451.9,276.1 L452.3,274.7 L452.7,273.3 L453.1,271.9 L453.5,270.8 L453.9,270.2 L454.3,270.9 L454.7,272.5 L455.1,274.4 L455.5,276.5 L455.9,278.6 L456.3,280.6 L456.7,282.4 L457.1,284.1 L457.5,285.5 L457.9,286.8 L458.3,287.8 L458.7,288.7 L459.1,289.4 L459.5,289.9 L459.9,290.3 L460.3,290.7 L460.7,290.9 L461.1,291.1 L461.5,291.2 L461.5,291.5 Z" fill="#f3d4d4" stroke="#262626" stroke-width="1.05" stroke-linejoin="round"/>
<path d="M443.0,290.8 L443.2,290.5 L443.4,290.1 L443.6,289.6 L443.8,289.0 L444.0,288.1 L444.2,287.1 L444.4,285.8 L444.6,284.3 L444.8,282.6 L445.0,280.6 L445.2,278.4 L445.4,276.2 L445.6,273.9 L445.8,272.0 L446.0,270.8 L446.2,272.0 L446.4,273.9 L446.6,276.2 L446.8,278.4 L447.0,280.6 L447.2,282.6 L447.4,284.3 L447.6,285.8 L447.8,287.1 L448.0,288.1 L448.2,289.0 L448.4,289.6 L448.6,290.1 L448.8,290.5 L449.0,290.8" fill="none" stroke="#111" stroke-width="1.1" stroke-dasharray="1.1,1.9"/>
<line x1="440.34" y1="291.54" x2="463.34" y2="291.54" stroke="#c8c8c8" stroke-width="0.6"/>
<rect x="465.41" y="268.29" width="22.50" height="23.25" fill="none" stroke="#e0e0e0" stroke-width="0.6"/>
<path d="M468.0,291.5 L468.0,291.2 L468.4,290.8 L468.8,290.0 L469.2,288.4 L469.6,285.8 L470.0,282.0 L470.4,277.3 L470.8,273.0 L471.2,273.0 L471.6,277.3 L472.0,282.0 L472.4,285.8 L472.8,288.4 L473.2,290.0 L473.6,290.8 L474.0,291.2 L474.0,291.5 Z" fill="#4757a6" stroke="#262626" stroke-width="1.05" stroke-linejoin="round"/>
<path d="M467.7,290.8 L467.9,290.5 L468.1,290.1 L468.3,289.6 L468.5,289.0 L468.7,288.1 L468.9,287.1 L469.1,285.8 L469.3,284.3 L469.5,282.6 L469.7,280.6 L469.9,278.4 L470.1,276.2 L470.3,273.9 L470.5,272.0 L470.7,270.8 L470.9,272.0 L471.1,273.9 L471.3,276.2 L471.5,278.4 L471.7,280.6 L471.9,282.6 L472.1,284.3 L472.3,285.8 L472.5,287.1 L472.7,288.1 L472.9,289.0 L473.1,289.6 L473.3,290.1 L473.5,290.5 L473.7,290.8" fill="none" stroke="#111" stroke-width="1.1" stroke-dasharray="1.1,1.9"/>
<line x1="465.16" y1="291.54" x2="488.16" y2="291.54" stroke="#c8c8c8" stroke-width="0.6"/>
<rect x="490.23" y="268.29" width="22.50" height="23.25" fill="none" stroke="#e0e0e0" stroke-width="0.6"/>
<path d="M492.4,291.5 L492.4,291.2 L492.8,290.7 L493.2,289.5 L493.6,287.2 L494.0,283.5 L494.4,278.3 L494.8,273.3 L495.2,273.3 L495.6,278.3 L496.0,283.5 L496.4,287.2 L496.8,289.5 L497.2,290.7 L497.6,291.2 L497.6,291.5 Z" fill="#4757a6" stroke="#262626" stroke-width="1.05" stroke-linejoin="round"/>
<path d="M491.8,290.8 L492.0,290.5 L492.2,290.1 L492.4,289.6 L492.6,289.0 L492.8,288.1 L493.0,287.1 L493.2,285.8 L493.4,284.3 L493.6,282.6 L493.8,280.6 L494.0,278.4 L494.2,276.2 L494.4,273.9 L494.6,272.0 L494.8,270.8 L495.0,272.0 L495.2,273.9 L495.4,276.2 L495.6,278.4 L495.8,280.6 L496.0,282.6 L496.2,284.3 L496.4,285.8 L496.6,287.1 L496.8,288.1 L497.0,289.0 L497.2,289.6 L497.4,290.1 L497.6,290.5 L497.8,290.8" fill="none" stroke="#111" stroke-width="1.1" stroke-dasharray="1.1,1.9"/>
<line x1="489.98" y1="291.54" x2="512.98" y2="291.54" stroke="#c8c8c8" stroke-width="0.6"/>
<rect x="18.65" y="292.91" width="22.50" height="23.25" fill="none" stroke="#e0e0e0" stroke-width="0.6"/>
<path d="M18.4,316.2 L18.4,315.4 L18.8,315.3 L19.2,315.2 L19.6,315.1 L20.0,314.9 L20.4,314.7 L20.8,314.4 L21.2,313.8 L21.6,313.0 L22.0,311.7 L22.4,309.6 L22.8,306.6 L23.2,302.7 L23.6,298.2 L24.0,294.5 L24.4,294.5 L24.8,297.5 L25.2,301.5 L25.6,305.1 L26.0,307.7 L26.4,309.4 L26.8,310.4 L27.2,310.9 L27.6,311.3 L28.0,311.5 L28.4,311.7 L28.8,311.9 L29.2,312.2 L29.6,312.4 L30.0,312.6 L30.4,312.8 L30.8,313.0 L31.2,313.3 L31.6,313.5 L32.0,313.7 L32.4,313.9 L32.8,314.1 L33.2,314.3 L33.6,314.5 L34.0,314.7 L34.4,314.8 L34.8,315.0 L35.2,315.1 L35.6,315.2 L36.0,315.3 L36.4,315.4 L36.8,315.5 L37.2,315.6 L37.6,315.7 L38.0,315.7 L38.4,315.8 L38.8,315.8 L38.8,316.2 Z" fill="#ffffff" stroke="#262626" stroke-width="1.05" stroke-linejoin="round"/>
<path d="M22.4,315.4 L22.6,315.1 L22.8,314.7 L23.0,314.2 L23.2,313.6 L23.4,312.8 L23.6,311.7 L23.8,310.5 L24.0,309.0 L24.2,307.2 L24.4,305.2 L24.6,303.0 L24.8,300.8 L25.0,298.5 L25.2,296.6 L25.4,295.5 L25.6,296.6 L25.8,298.5 L26.0,300.8 L26.2,303.0 L26.4,305.2 L26.6,307.2 L26.8,309.0 L27.0,310.5 L27.2,311.7 L27.4,312.8 L27.6,313.6 L27.8,314.2 L28.0,314.7 L28.2,315.1 L28.4,315.4" fill="none" stroke="#111" stroke-width="1.1" stroke-dasharray="1.1,1.9"/>
<line x1="18.40" y1="316.16" x2="41.40" y2="316.16" stroke="#c8c8c8" stroke-width="0.6"/>
<rect x="43.47" y="292.91" width="22.50" height="23.25" fill="none" stroke="#e0e0e0" stroke-width="0.6"/>
<path d="M45.6,316.2 L45.6,315.7 L46.0,315.4 L46.4,314.8 L46.8,313.9 L47.2,312.5 L47.6,310.4 L48.0,307.5 L48.4,304.0 L48.8,300.2 L49.2,296.8 L49.6,296.2 L50.0,298.2 L50.4,300.8 L50.8,303.0 L51.2,304.7 L51.6,305.6 L52.0,306.1 L52.4,306.2 L52.8,306.5 L53.2,307.2 L53.6,308.0 L54.0,308.9 L54.4,309.9 L54.8,310.8 L55.2,311.7 L55.6,312.4 L56.0,313.1 L56.4,313.7 L56.8,314.3 L57.2,314.7 L57.6,315.0 L58.0,315.3 L58.4,315.5 L58.8,315.7 L59.2,315.8 L59.2,316.2 Z" fill="#c3c7ea" stroke="#262626" stroke-width="1.05" stroke-linejoin="round"/>
<path d="M45.2,315.4 L45.4,315.1 L45.6,314.7 L45.8,314.2 L46.0,313.6 L46.2,312.8 L46.4,311.7 L46.6,310.5 L46.8,309.0 L47.0,307.2 L47.2,305.2 L47.4,303.0 L47.6,300.8 L47.8,298.5 L48.0,296.6 L48.2,295.5 L48.4,296.6 L48.6,298.5 L48.8,300.8 L49.0,303.0 L49.2,305.2 L49.4,307.2 L49.6,309.0 L49.8,310.5 L50.0,311.7 L50.2,312.8 L50.4,313.6 L50.6,314.2 L50.8,314.7 L51.0,315.1 L51.2,315.4" fill="none" stroke="#111" stroke-width="1.1" stroke-dasharray="1.1,1.9"/>
<line x1="43.22" y1="316.16" x2="66.22" y2="316.16" stroke="#c8c8c8" stroke-width="0.6"/>
<rect x="68.29" y="292.91" width="22.50" height="23.25" fill="none" stroke="#e0e0e0" stroke-width="0.6"/>
<path d="M70.8,316.2 L70.8,315.7 L71.2,315.4 L71.6,314.7 L72.0,313.4 L72.4,311.2 L72.8,307.9 L73.2,303.3 L73.6,298.4 L74.0,295.2 L74.4,298.0 L74.8,302.5 L75.2,306.6 L75.6,309.7 L76.0,311.6 L76.4,312.9 L76.8,313.6 L77.2,314.1 L77.6,314.5 L78.0,314.7 L78.4,315.0 L78.8,315.2 L79.2,315.4 L79.6,315.5 L80.0,315.7 L80.4,315.8 L80.8,315.9 L80.8,316.2 Z" fill="#4757a6" stroke="#262626" stroke-width="1.05" stroke-linejoin="round"/>
<path d="M71.0,315.4 L71.2,315.1 L71.4,314.7 L71.6,314.2 L71.8,313.6 L72.0,312.8 L72.2,311.7 L72.4,310.5 L72.6,309.0 L72.8,307.2 L73.0,305.2 L73.2,303.0 L73.4,300.8 L73.6,298.5 L73.8,296.6 L74.0,295.5 L74.2,296.6 L74.4,298.5 L74.6,300.8 L74.8,303.0 L75.0,305.2 L75.2,307.2 L75.4,309.0 L75.6,310.5 L75.8,311.7 L76.0,312.8 L76.2,313.6 L76.4,314.2 L76.6,314.7 L76.8,315.1 L77.0,315.4" fill="none" stroke="#111" stroke-width="1.1" stroke-dasharray="1.1,1.9"/>
<line x1="68.04" y1="316.16" x2="91.04" y2="316.16" stroke="#c8c8c8" stroke-width="0.6"/>
<rect x="93.11" y="292.91" width="22.50" height="23.25" fill="none" stroke="#e0e0e0" stroke-width="0.6"/>
<path d="M95.7,316.2 L95.7,315.8 L96.1,315.7 L96.5,315.6 L96.9,315.4 L97.3,315.2 L97.7,314.9 L98.1,314.5 L98.5,314.0 L98.9,313.5 L99.3,312.8 L99.7,312.1 L100.1,311.1 L100.5,310.1 L100.9,308.9 L101.3,307.5 L101.7,306.0 L102.1,304.4 L102.5,302.8 L102.9,301.1 L103.3,299.4 L103.7,297.9 L104.1,296.6 L104.5,295.7 L104.9,295.7 L105.3,296.6 L105.7,297.9 L106.1,299.4 L106.5,301.1 L106.9,302.8 L107.3,304.4 L107.7,306.0 L108.1,307.5 L108.5,308.9 L108.9,310.1 L109.3,311.1 L109.7,312.1 L110.1,312.8 L110.5,313.5 L110.9,314.0 L111.3,314.5 L111.7,314.9 L112.1,315.2 L112.5,315.4 L112.9,315.6 L113.3,315.7 L113.7,315.8 L113.7,316.2 Z" fill="#c3c7ea" stroke="#262626" stroke-width="1.05" stroke-linejoin="round"/>
<path d="M95.7,315.4 L95.9,315.1 L96.1,314.7 L96.3,314.2 L96.5,313.6 L96.7,312.8 L96.9,311.7 L97.1,310.5 L97.3,309.0 L97.5,307.2 L97.7,305.2 L97.9,303.0 L98.1,300.8 L98.3,298.5 L98.5,296.6 L98.7,295.5 L98.9,296.6 L99.1,298.5 L99.3,300.8 L99.5,303.0 L99.7,305.2 L99.9,307.2 L100.1,309.0 L100.3,310.5 L100.5,311.7 L100.7,312.8 L100.9,313.6 L101.1,314.2 L101.3,314.7 L101.5,315.1 L101.7,315.4" fill="none" stroke="#111" stroke-width="1.1" stroke-dasharray="1.1,1.9"/>
<line x1="92.86" y1="316.16" x2="115.86" y2="316.16" stroke="#c8c8c8" stroke-width="0.6"/>
<rect x="117.93" y="292.91" width="22.50" height="23.25" fill="none" stroke="#e0e0e0" stroke-width="0.6"/>
<path d="M125.7,316.2 L125.7,315.8 L126.1,315.6 L126.5,315.3 L126.9,314.8 L127.3,314.2 L127.7,313.3 L128.1,312.2 L128.5,310.7 L128.9,308.9 L129.3,306.7 L129.7,304.3 L130.1,301.7 L130.5,299.3 L130.9,297.3 L131.3,296.7 L131.7,298.2 L132.1,300.5 L132.5,303.0 L132.9,305.5 L133.3,307.9 L133.7,309.9 L134.1,311.5 L134.5,312.8 L134.9,313.8 L135.3,314.6 L135.7,315.1 L136.1,315.5 L136.5,315.7 L136.9,315.9 L136.9,316.2 Z" fill="#6b74bc" stroke="#262626" stroke-width="1.05" stroke-linejoin="round"/>
<path d="M119.8,315.4 L120.0,315.1 L120.2,314.7 L120.4,314.2 L120.6,313.6 L120.8,312.8 L121.0,311.7 L121.2,310.5 L121.4,309.0 L121.6,307.2 L121.8,305.2 L122.0,303.0 L122.2,300.8 L122.4,298.5 L122.6,296.6 L122.8,295.5 L123.0,296.6 L123.2,298.5 L123.4,300.8 L123.6,303.0 L123.8,305.2 L124.0,307.2 L124.2,309.0 L124.4,310.5 L124.6,311.7 L124.8,312.8 L125.0,313.6 L125.2,314.2 L125.4,314.7 L125.6,315.1 L125.8,315.4" fill="none" stroke="#111" stroke-width="1.1" stroke-dasharray="1.1,1.9"/>
<line x1="117.68" y1="316.16" x2="140.68" y2="316.16" stroke="#c8c8c8" stroke-width="0.6"/>
<rect x="142.75" y="292.91" width="22.50" height="23.25" fill="none" stroke="#e0e0e0" stroke-width="0.6"/>
<path d="M146.9,316.2 L146.9,315.8 L147.3,315.7 L147.7,315.5 L148.1,315.2 L148.5,314.9 L148.9,314.6 L149.3,314.4 L149.7,314.3 L150.1,314.6 L150.5,314.8 L150.9,315.1 L151.3,315.2 L151.7,315.3 L152.1,315.3 L152.5,315.1 L152.9,314.7 L153.3,314.1 L153.7,313.3 L154.1,312.2 L154.5,310.7 L154.9,308.9 L155.3,306.7 L155.7,304.3 L156.1,301.7 L156.5,299.3 L156.9,297.3 L157.3,296.7 L157.7,298.2 L158.1,300.5 L158.5,303.0 L158.9,305.5 L159.3,307.9 L159.7,309.9 L160.1,311.5 L160.5,312.8 L160.9,313.8 L161.3,314.6 L161.7,315.1 L162.1,315.5 L162.5,315.7 L162.9,315.9 L162.9,316.2 Z" fill="#ffffff" stroke="#262626" stroke-width="1.05" stroke-linejoin="round"/>
<path d="M146.0,315.4 L146.2,315.1 L146.4,314.7 L146.6,314.2 L146.8,313.6 L147.0,312.8 L147.2,311.7 L147.4,310.5 L147.6,309.0 L147.8,307.2 L148.0,305.2 L148.2,303.0 L148.4,300.8 L148.6,298.5 L148.8,296.6 L149.0,295.5 L149.2,296.6 L149.4,298.5 L149.6,300.8 L149.8,303.0 L150.0,305.2 L150.2,307.2 L150.4,309.0 L150.6,310.5 L150.8,311.7 L151.0,312.8 L151.2,313.6 L151.4,314.2 L151.6,314.7 L151.8,315.1 L152.0,315.4" fill="none" stroke="#111" stroke-width="1.1" stroke-dasharray="1.1,1.9"/>
<line x1="142.50" y1="316.16" x2="165.50" y2="316.16" stroke="#c8c8c8" stroke-width="0.6"/>
<rect x="167.57" y="292.91" width="22.50" height="23.25" fill="none" stroke="#e0e0e0" stroke-width="0.6"/>
<path d="M168.9,316.2 L168.9,315.8 L169.3,315.5 L169.7,315.1 L170.1,314.5 L170.5,313.6 L170.9,312.3 L171.3,310.5 L171.7,308.1 L172.1,305.2 L172.5,301.9 L172.9,298.5 L173.3,295.8 L173.7,295.2 L174.1,296.9 L174.5,299.1 L174.9,301.3 L175.3,303.1 L175.7,304.4 L176.1,305.3 L176.5,305.7 L176.9,306.0 L177.3,306.2 L177.7,306.8 L178.1,307.6 L178.5,308.4 L178.9,309.3 L179.3,310.1 L179.7,311.0 L180.1,311.7 L180.5,312.5 L180.9,313.1 L181.3,313.7 L181.7,314.1 L182.1,314.5 L182.5,314.9 L182.9,315.2 L183.3,315.4 L183.7,315.6 L184.1,315.7 L184.5,315.8 L184.5,316.2 Z" fill="#c3c7ea" stroke="#262626" stroke-width="1.05" stroke-linejoin="round"/>
<path d="M169.2,315.4 L169.4,315.1 L169.6,314.7 L169.8,314.2 L170.0,313.6 L170.2,312.8 L170.4,311.7 L170.6,310.5 L170.8,309.0 L171.0,307.2 L171.2,305.2 L171.4,303.0 L171.6,300.8 L171.8,298.5 L172.0,296.6 L172.2,295.5 L172.4,296.6 L172.6,298.5 L172.8,300.8 L173.0,303.0 L173.2,305.2 L173.4,307.2 L173.6,309.0 L173.8,310.5 L174.0,311.7 L174.2,312.8 L174.4,313.6 L174.6,314.2 L174.8,314.7 L175.0,315.1 L175.2,315.4" fill="none" stroke="#111" stroke-width="1.1" stroke-dasharray="1.1,1.9"/>
<line x1="167.32" y1="316.16" x2="190.32" y2="316.16" stroke="#c8c8c8" stroke-width="0.6"/>
<rect x="192.39" y="292.91" width="22.50" height="23.25" fill="none" stroke="#e0e0e0" stroke-width="0.6"/>
<path d="M194.1,316.2 L194.1,315.9 L194.5,315.6 L194.9,315.3 L195.3,314.7 L195.7,313.9 L196.1,312.6 L196.5,310.9 L196.9,308.6 L197.3,305.7 L197.7,302.3 L198.1,298.8 L198.5,295.7 L198.9,294.5 L199.3,295.9 L199.7,298.4 L200.1,300.9 L200.5,303.1 L200.9,304.9 L201.3,306.1 L201.7,307.0 L202.1,307.7 L202.5,308.6 L202.9,309.5 L203.3,310.3 L203.7,311.1 L204.1,311.9 L204.5,312.6 L204.9,313.2 L205.3,313.8 L205.7,314.2 L206.1,314.6 L206.5,315.0 L206.9,315.3 L207.3,315.5 L207.7,315.6 L208.1,315.8 L208.5,315.9 L208.5,316.2 Z" fill="#c3c7ea" stroke="#262626" stroke-width="1.05" stroke-linejoin="round"/>
<path d="M195.0,315.4 L195.2,315.1 L195.4,314.7 L195.6,314.2 L195.8,313.6 L196.0,312.8 L196.2,311.7 L196.4,310.5 L196.6,309.0 L196.8,307.2 L197.0,305.2 L197.2,303.0 L197.4,300.8 L197.6,298.5 L197.8,296.6 L198.0,295.5 L198.2,296.6 L198.4,298.5 L198.6,300.8 L198.8,303.0 L199.0,305.2 L199.2,307.2 L199.4,309.0 L199.6,310.5 L199.8,311.7 L200.0,312.8 L200.2,313.6 L200.4,314.2 L200.6,314.7 L200.8,315.1 L201.0,315.4" fill="none" stroke="#111" stroke-width="1.1" stroke-dasharray="1.1,1.9"/>
<line x1="192.14" y1="316.16" x2="215.14" y2="316.16" stroke="#c8c8c8" stroke-width="0.6"/>
<rect x="217.21" y="292.91" width="22.50" height="23.25" fill="none" stroke="#e0e0e0" stroke-width="0.6"/>
<path d="M219.0,316.2 L219.0,315.8 L219.4,315.7 L219.8,315.6 L220.2,315.4 L220.6,315.1 L221.0,314.9 L221.4,314.5 L221.8,314.1 L222.2,313.6 L222.6,313.0 L223.0,312.4 L223.4,311.7 L223.8,310.9 L224.2,310.2 L224.6,309.5 L225.0,308.8 L225.4,308.5 L225.8,308.3 L226.2,308.0 L226.6,307.5 L227.0,306.9 L227.4,306.1 L227.8,305.0 L228.2,303.7 L228.6,302.2 L229.0,300.6 L229.4,299.0 L229.8,297.6 L230.2,296.5 L230.6,296.3 L231.0,297.3 L231.4,298.9 L231.8,300.8 L232.2,302.7 L232.6,304.7 L233.0,306.5 L233.4,308.2 L233.8,309.7 L234.2,311.0 L234.6,312.1 L235.0,313.0 L235.4,313.8 L235.8,314.3 L236.2,314.8 L236.6,315.2 L237.0,315.4 L237.4,315.6 L237.8,315.8 L237.8,316.2 Z" fill="#e8a2a2" stroke="#262626" stroke-width="1.05" stroke-linejoin="round"/>
<path d="M219.7,315.4 L219.9,315.1 L220.1,314.7 L220.3,314.2 L220.5,313.6 L220.7,312.8 L220.9,311.7 L221.1,310.5 L221.3,309.0 L221.5,307.2 L221.7,305.2 L221.9,303.0 L222.1,300.8 L222.3,298.5 L222.5,296.6 L222.7,295.5 L222.9,296.6 L223.1,298.5 L223.3,300.8 L223.5,303.0 L223.7,305.2 L223.9,307.2 L224.1,309.0 L224.3,310.5 L224.5,311.7 L224.7,312.8 L224.9,313.6 L225.1,314.2 L225.3,314.7 L225.5,315.1 L225.7,315.4" fill="none" stroke="#111" stroke-width="1.1" stroke-dasharray="1.1,1.9"/>
<line x1="216.96" y1="316.16" x2="239.96" y2="316.16" stroke="#c8c8c8" stroke-width="0.6"/>
<rect x="242.03" y="292.91" width="22.50" height="23.25" fill="none" stroke="#e0e0e0" stroke-width="0.6"/>
<path d="M245.0,316.2 L245.0,315.9 L245.4,315.7 L245.8,315.5 L246.2,315.3 L246.6,314.9 L247.0,314.4 L247.4,313.7 L247.8,312.9 L248.2,311.9 L248.6,310.6 L249.0,309.1 L249.4,307.3 L249.8,305.3 L250.2,303.2 L250.6,301.1 L251.0,299.1 L251.4,297.5 L251.8,296.6 L252.2,297.5 L252.6,299.1 L253.0,301.1 L253.4,303.2 L253.8,305.3 L254.2,307.3 L254.6,309.1 L255.0,310.6 L255.4,311.9 L255.8,312.9 L256.2,313.7 L256.6,314.4 L257.0,314.9 L257.4,315.3 L257.8,315.5 L258.2,315.7 L258.6,315.9 L258.6,316.2 Z" fill="#c3c7ea" stroke="#262626" stroke-width="1.05" stroke-linejoin="round"/>
<path d="M243.8,315.4 L244.0,315.1 L244.2,314.7 L244.4,314.2 L244.6,313.6 L244.8,312.8 L245.0,311.7 L245.2,310.5 L245.4,309.0 L245.6,307.2 L245.8,305.2 L246.0,303.0 L246.2,300.8 L246.4,298.5 L246.6,296.6 L246.8,295.5 L247.0,296.6 L247.2,298.5 L247.4,300.8 L247.6,303.0 L247.8,305.2 L248.0,307.2 L248.2,309.0 L248.4,310.5 L248.6,311.7 L248.8,312.8 L249.0,313.6 L249.2,314.2 L249.4,314.7 L249.6,315.1 L249.8,315.4" fill="none" stroke="#111" stroke-width="1.1" stroke-dasharray="1.1,1.9"/>
<line x1="241.78" y1="316.16" x2="264.78" y2="316.16" stroke="#c8c8c8" stroke-width="0.6"/>
<rect x="266.85" y="292.91" width="22.50" height="23.25" fill="none" stroke="#e0e0e0" stroke-width="0.6"/>
<path d="M275.4,316.2 L275.4,315.8 L275.8,315.7 L276.2,315.4 L276.6,315.1 L277.0,314.6 L277.4,313.9 L277.8,313.0 L278.2,311.9 L278.6,310.4 L279.0,308.6 L279.4,306.6 L279.8,304.3 L280.2,301.9 L280.6,299.6 L281.0,297.6 L281.4,296.6 L281.8,297.6 L282.2,299.6 L282.6,301.9 L283.0,304.3 L283.4,306.6 L283.8,308.6 L284.2,310.4 L284.6,311.9 L285.0,313.0 L285.4,313.9 L285.8,314.6 L286.2,315.1 L286.6,315.4 L287.0,315.7 L287.4,315.8 L287.4,316.2 Z" fill="#98a0d6" stroke="#262626" stroke-width="1.05" stroke-linejoin="round"/>
<path d="M269.7,315.4 L269.9,315.1 L270.1,314.7 L270.3,314.2 L270.5,313.6 L270.7,312.8 L270.9,311.7 L271.1,310.5 L271.3,309.0 L271.5,307.2 L271.7,305.2 L271.9,303.0 L272.1,300.8 L272.3,298.5 L272.5,296.6 L272.7,295.5 L272.9,296.6 L273.1,298.5 L273.3,300.8 L273.5,303.0 L273.7,305.2 L273.9,307.2 L274.1,309.0 L274.3,310.5 L274.5,311.7 L274.7,312.8 L274.9,313.6 L275.1,314.2 L275.3,314.7 L275.5,315.1 L275.7,315.4" fill="none" stroke="#111" stroke-width="1.1" stroke-dasharray="1.1,1.9"/>
<line x1="266.60" y1="316.16" x2="289.60" y2="316.16" stroke="#c8c8c8" stroke-width="0.6"/>
<rect x="291.67" y="292.91" width="22.50" height="23.25" fill="none" stroke="#e0e0e0" stroke-width="0.6"/>
<path d="M295.8,316.2 L295.8,315.9 L296.2,315.8 L296.6,315.7 L297.0,315.6 L297.4,315.5 L297.8,315.4 L298.2,315.3 L298.6,315.1 L299.0,315.0 L299.4,314.8 L299.8,314.7 L300.2,314.5 L300.6,314.4 L301.0,314.3 L301.4,314.1 L301.8,314.1 L302.2,314.1 L302.6,314.0 L303.0,313.8 L303.4,313.6 L303.8,313.2 L304.2,312.6 L304.6,311.8 L305.0,310.8 L305.4,309.5 L305.8,307.9 L306.2,306.0 L306.6,303.9 L307.0,301.7 L307.4,299.6 L307.8,297.7 L308.2,296.6 L308.6,297.1 L309.0,298.7 L309.4,300.8 L309.8,303.1 L310.2,305.4 L310.6,307.4 L311.0,309.3 L311.4,310.9 L311.8,312.2 L312.2,313.2 L312.6,314.0 L313.0,314.6 L313.4,315.1 L313.8,315.4 L314.2,315.7 L314.2,316.2 Z" fill="#ffffff" stroke="#262626" stroke-width="1.05" stroke-linejoin="round"/>
<path d="M293.3,315.4 L293.5,315.1 L293.7,314.7 L293.9,314.2 L294.1,313.6 L294.3,312.8 L294.5,311.7 L294.7,310.5 L294.9,309.0 L295.1,307.2 L295.3,305.2 L295.5,303.0 L295.7,300.8 L295.9,298.5 L296.1,296.6 L296.3,295.5 L296.5,296.6 L296.7,298.5 L296.9,300.8 L297.1,303.0 L297.3,305.2 L297.5,307.2 L297.7,309.0 L297.9,310.5 L298.1,311.7 L298.3,312.8 L298.5,313.6 L298.7,314.2 L298.9,314.7 L299.1,315.1 L299.3,315.4" fill="none" stroke="#111" stroke-width="1.1" stroke-dasharray="1.1,1.9"/>
<line x1="291.42" y1="316.16" x2="314.42" y2="316.16" stroke="#c8c8c8" stroke-width="0.6"/>
<rect x="316.49" y="292.91" width="22.50" height="23.25" fill="none" stroke="#e0e0e0" stroke-width="0.6"/>
<path d="M332.2,316.2 L332.2,315.8 L332.6,315.4 L333.0,314.6 L333.4,313.0 L333.8,310.4 L334.2,306.6 L334.6,301.9 L335.0,297.6 L335.4,297.6 L335.8,301.9 L336.2,306.6 L336.6,310.4 L337.0,313.0 L337.4,314.6 L337.8,315.4 L338.2,315.8 L338.2,316.2 Z" fill="#4757a6" stroke="#262626" stroke-width="1.05" stroke-linejoin="round"/>
<path d="M318.5,315.4 L318.7,315.1 L318.9,314.7 L319.1,314.2 L319.3,313.6 L319.5,312.8 L319.7,311.7 L319.9,310.5 L320.1,309.0 L320.3,307.2 L320.5,305.2 L320.7,303.0 L320.9,300.8 L321.1,298.5 L321.3,296.6 L321.5,295.5 L321.7,296.6 L321.9,298.5 L322.1,300.8 L322.3,303.0 L322.5,305.2 L322.7,307.2 L322.9,309.0 L323.1,310.5 L323.3,311.7 L323.5,312.8 L323.7,313.6 L323.9,314.2 L324.1,314.7 L324.3,315.1 L324.5,315.4" fill="none" stroke="#111" stroke-width="1.1" stroke-dasharray="1.1,1.9"/>
<line x1="316.24" y1="316.16" x2="339.24" y2="316.16" stroke="#c8c8c8" stroke-width="0.6"/>
<rect x="341.31" y="292.91" width="22.50" height="23.25" fill="none" stroke="#e0e0e0" stroke-width="0.6"/>
<path d="M341.1,316.2 L341.1,315.7 L341.5,315.5 L341.9,315.4 L342.3,315.2 L342.7,314.9 L343.1,314.5 L343.5,314.0 L343.9,313.2 L344.3,312.0 L344.7,310.2 L345.1,307.8 L345.5,304.5 L345.9,300.5 L346.3,296.2 L346.7,294.5 L347.1,294.5 L347.5,294.5 L347.9,296.4 L348.3,298.8 L348.7,300.5 L349.1,301.5 L349.5,301.9 L349.9,301.8 L350.3,301.6 L350.7,301.2 L351.1,301.1 L351.5,301.4 L351.9,302.1 L352.3,302.8 L352.7,303.7 L353.1,304.6 L353.5,305.6 L353.9,306.6 L354.3,307.6 L354.7,308.5 L355.1,309.4 L355.5,310.2 L355.9,311.0 L356.3,311.7 L356.7,312.3 L357.1,312.9 L357.5,313.4 L357.9,313.8 L358.3,314.2 L358.7,314.5 L359.1,314.8 L359.5,315.0 L359.9,315.2 L360.3,315.4 L360.7,315.6 L361.1,315.7 L361.5,315.8 L361.9,315.9 L361.9,316.2 Z" fill="#f3d4d4" stroke="#262626" stroke-width="1.05" stroke-linejoin="round"/>
<path d="M343.7,315.4 L343.9,315.1 L344.1,314.7 L344.3,314.2 L344.5,313.6 L344.7,312.8 L344.9,311.7 L345.1,310.5 L345.3,309.0 L345.5,307.2 L345.7,305.2 L345.9,303.0 L346.1,300.8 L346.3,298.5 L346.5,296.6 L346.7,295.5 L346.9,296.6 L347.1,298.5 L347.3,300.8 L347.5,303.0 L347.7,305.2 L347.9,307.2 L348.1,309.0 L348.3,310.5 L348.5,311.7 L348.7,312.8 L348.9,313.6 L349.1,314.2 L349.3,314.7 L349.5,315.1 L349.7,315.4" fill="none" stroke="#111" stroke-width="1.1" stroke-dasharray="1.1,1.9"/>
<line x1="341.06" y1="316.16" x2="364.06" y2="316.16" stroke="#c8c8c8" stroke-width="0.6"/>
<rect x="366.13" y="292.91" width="22.50" height="23.25" fill="none" stroke="#e0e0e0" stroke-width="0.6"/>
<path d="M382.3,316.2 L382.3,315.9 L382.7,315.5 L383.1,314.9 L383.5,313.7 L383.9,311.9 L384.3,309.1 L384.7,305.3 L385.1,301.1 L385.5,297.5 L385.9,297.5 L386.3,301.1 L386.7,305.3 L387.1,309.1 L387.5,311.9 L387.9,313.7 L388.3,314.9 L388.7,315.5 L388.7,316.2 Z" fill="#4757a6" stroke="#262626" stroke-width="1.05" stroke-linejoin="round"/>
<path d="M367.8,315.4 L368.0,315.1 L368.2,314.7 L368.4,314.2 L368.6,313.6 L368.8,312.8 L369.0,311.7 L369.2,310.5 L369.4,309.0 L369.6,307.2 L369.8,305.2 L370.0,303.0 L370.2,300.8 L370.4,298.5 L370.6,296.6 L370.8,295.5 L371.0,296.6 L371.2,298.5 L371.4,300.8 L371.6,303.0 L371.8,305.2 L372.0,307.2 L372.2,309.0 L372.4,310.5 L372.6,311.7 L372.8,312.8 L373.0,313.6 L373.2,314.2 L373.4,314.7 L373.6,315.1 L373.8,315.4" fill="none" stroke="#111" stroke-width="1.1" stroke-dasharray="1.1,1.9"/>
<line x1="365.88" y1="316.16" x2="388.88" y2="316.16" stroke="#c8c8c8" stroke-width="0.6"/>
<rect x="390.95" y="292.91" width="22.50" height="23.25" fill="none" stroke="#e0e0e0" stroke-width="0.6"/>
<path d="M392.7,316.2 L392.7,315.7 L393.1,315.3 L393.5,314.7 L393.9,313.8 L394.3,312.4 L394.7,310.5 L395.1,307.9 L395.5,304.9 L395.9,301.7 L396.3,298.9 L396.7,298.2 L397.1,299.6 L397.5,301.3 L397.9,302.7 L398.3,303.5 L398.7,303.7 L399.1,303.3 L399.5,302.6 L399.9,302.4 L400.3,302.5 L400.7,302.6 L401.1,302.4 L401.5,301.8 L401.9,300.8 L402.3,299.4 L402.7,297.9 L403.1,296.4 L403.5,295.6 L403.9,296.5 L404.3,298.5 L404.7,301.0 L405.1,303.5 L405.5,305.9 L405.9,308.1 L406.3,310.0 L406.7,311.5 L407.1,312.7 L407.5,313.7 L407.9,314.4 L408.3,315.0 L408.7,315.4 L409.1,315.6 L409.5,315.8 L409.5,316.2 Z" fill="#d2464e" stroke="#262626" stroke-width="1.05" stroke-linejoin="round"/>
<path d="M393.2,315.4 L393.4,315.1 L393.6,314.7 L393.8,314.2 L394.0,313.6 L394.2,312.8 L394.4,311.7 L394.6,310.5 L394.8,309.0 L395.0,307.2 L395.2,305.2 L395.4,303.0 L395.6,300.8 L395.8,298.5 L396.0,296.6 L396.2,295.5 L396.4,296.6 L396.6,298.5 L396.8,300.8 L397.0,303.0 L397.2,305.2 L397.4,307.2 L397.6,309.0 L397.8,310.5 L398.0,311.7 L398.2,312.8 L398.4,313.6 L398.6,314.2 L398.8,314.7 L399.0,315.1 L399.2,315.4" fill="none" stroke="#111" stroke-width="1.1" stroke-dasharray="1.1,1.9"/>
<line x1="390.70" y1="316.16" x2="413.70" y2="316.16" stroke="#c8c8c8" stroke-width="0.6"/>
<rect x="415.77" y="292.91" width="22.50" height="23.25" fill="none" stroke="#e0e0e0" stroke-width="0.6"/>
<path d="M417.1,316.2 L417.1,315.9 L417.5,315.8 L417.9,315.8 L418.3,315.7 L418.7,315.6 L419.1,315.5 L419.5,315.4 L419.9,315.3 L420.3,315.2 L420.7,315.0 L421.1,314.9 L421.5,314.8 L421.9,314.6 L422.3,314.4 L422.7,314.3 L423.1,314.1 L423.5,313.9 L423.9,313.7 L424.3,313.6 L424.7,313.4 L425.1,313.2 L425.5,313.0 L425.9,312.6 L426.3,312.1 L426.7,311.3 L427.1,310.3 L427.5,309.0 L427.9,307.4 L428.3,305.5 L428.7,303.3 L429.1,301.0 L429.5,298.8 L429.9,297.0 L430.3,296.1 L430.7,297.2 L431.1,299.2 L431.5,301.6 L431.9,304.0 L432.3,306.4 L432.7,308.5 L433.1,310.3 L433.5,311.7 L433.9,312.9 L434.3,313.8 L434.7,314.5 L435.1,315.0 L435.5,315.4 L435.9,315.6 L436.3,315.8 L436.3,316.2 Z" fill="#ffffff" stroke="#262626" stroke-width="1.05" stroke-linejoin="round"/>
<path d="M418.0,315.4 L418.2,315.1 L418.4,314.7 L418.6,314.2 L418.8,313.6 L419.0,312.8 L419.2,311.7 L419.4,310.5 L419.6,309.0 L419.8,307.2 L420.0,305.2 L420.2,303.0 L420.4,300.8 L420.6,298.5 L420.8,296.6 L421.0,295.5 L421.2,296.6 L421.4,298.5 L421.6,300.8 L421.8,303.0 L422.0,305.2 L422.2,307.2 L422.4,309.0 L422.6,310.5 L422.8,311.7 L423.0,312.8 L423.2,313.6 L423.4,314.2 L423.6,314.7 L423.8,315.1 L424.0,315.4" fill="none" stroke="#111" stroke-width="1.1" stroke-dasharray="1.1,1.9"/>
<line x1="415.52" y1="316.16" x2="438.52" y2="316.16" stroke="#c8c8c8" stroke-width="0.6"/>
<rect x="440.59" y="292.91" width="22.50" height="23.25" fill="none" stroke="#e0e0e0" stroke-width="0.6"/>
<path d="M442.7,316.2 L442.7,315.9 L443.1,315.7 L443.5,315.5 L443.9,315.2 L444.3,314.7 L444.7,314.0 L445.1,313.1 L445.5,311.9 L445.9,310.4 L446.3,308.5 L446.7,306.2 L447.1,303.6 L447.5,300.7 L447.9,297.9 L448.3,295.4 L448.7,294.5 L449.1,294.5 L449.5,296.1 L449.9,298.1 L450.3,300.1 L450.7,301.9 L451.1,303.5 L451.5,304.8 L451.9,305.8 L452.3,306.7 L452.7,307.7 L453.1,308.6 L453.5,309.5 L453.9,310.3 L454.3,311.0 L454.7,311.6 L455.1,312.3 L455.5,312.8 L455.9,313.3 L456.3,313.7 L456.7,314.1 L457.1,314.5 L457.5,314.8 L457.9,315.0 L458.3,315.3 L458.7,315.4 L459.1,315.6 L459.5,315.7 L459.9,315.8 L460.3,315.9 L460.3,316.2 Z" fill="#c3c7ea" stroke="#262626" stroke-width="1.05" stroke-linejoin="round"/>
<path d="M443.0,315.4 L443.2,315.1 L443.4,314.7 L443.6,314.2 L443.8,313.6 L444.0,312.8 L444.2,311.7 L444.4,310.5 L444.6,309.0 L444.8,307.2 L445.0,305.2 L445.2,303.0 L445.4,300.8 L445.6,298.5 L445.8,296.6 L446.0,295.5 L446.2,296.6 L446.4,298.5 L446.6,300.8 L446.8,303.0 L447.0,305.2 L447.2,307.2 L447.4,309.0 L447.6,310.5 L447.8,311.7 L448.0,312.8 L448.2,313.6 L448.4,314.2 L448.6,314.7 L448.8,315.1 L449.0,315.4" fill="none" stroke="#111" stroke-width="1.1" stroke-dasharray="1.1,1.9"/>
<line x1="440.34" y1="316.16" x2="463.34" y2="316.16" stroke="#c8c8c8" stroke-width="0.6"/>
<rect x="465.41" y="292.91" width="22.50" height="23.25" fill="none" stroke="#e0e0e0" stroke-width="0.6"/>
<path d="M468.0,316.2 L468.0,315.8 L468.4,315.3 L468.8,314.5 L469.2,312.8 L469.6,310.1 L470.0,306.2 L470.4,301.3 L470.8,296.8 L471.2,296.6 L471.6,300.6 L472.0,305.0 L472.4,308.5 L472.8,310.9 L473.2,312.3 L473.6,313.3 L474.0,313.9 L474.4,314.4 L474.8,314.8 L475.2,315.1 L475.6,315.4 L476.0,315.6 L476.4,315.7 L476.8,315.9 L476.8,316.2 Z" fill="#4757a6" stroke="#262626" stroke-width="1.05" stroke-linejoin="round"/>
<path d="M467.7,315.4 L467.9,315.1 L468.1,314.7 L468.3,314.2 L468.5,313.6 L468.7,312.8 L468.9,311.7 L469.1,310.5 L469.3,309.0 L469.5,307.2 L469.7,305.2 L469.9,303.0 L470.1,300.8 L470.3,298.5 L470.5,296.6 L470.7,295.5 L470.9,296.6 L471.1,298.5 L471.3,300.8 L471.5,303.0 L471.7,305.2 L471.9,307.2 L472.1,309.0 L472.3,310.5 L472.5,311.7 L472.7,312.8 L472.9,313.6 L473.1,314.2 L473.3,314.7 L473.5,315.1 L473.7,315.4" fill="none" stroke="#111" stroke-width="1.1" stroke-dasharray="1.1,1.9"/>
<line x1="465.16" y1="316.16" x2="488.16" y2="316.16" stroke="#c8c8c8" stroke-width="0.6"/>
<rect x="490.23" y="292.91" width="22.50" height="23.25" fill="none" stroke="#e0e0e0" stroke-width="0.6"/>
<path d="M492.4,316.2 L492.4,315.8 L492.8,315.3 L493.2,314.1 L493.6,311.9 L494.0,308.1 L494.4,302.9 L494.8,297.9 L495.2,297.9 L495.6,302.9 L496.0,308.1 L496.4,311.9 L496.8,314.1 L497.2,315.3 L497.6,315.8 L497.6,316.2 Z" fill="#4757a6" stroke="#262626" stroke-width="1.05" stroke-linejoin="round"/>
<path d="M491.8,315.4 L492.0,315.1 L492.2,314.7 L492.4,314.2 L492.6,313.6 L492.8,312.8 L493.0,311.7 L493.2,310.5 L493.4,309.0 L493.6,307.2 L493.8,305.2 L494.0,303.0 L494.2,300.8 L494.4,298.5 L494.6,296.6 L494.8,295.5 L495.0,296.6 L495.2,298.5 L495.4,300.8 L495.6,303.0 L495.8,305.2 L496.0,307.2 L496.2,309.0 L496.4,310.5 L496.6,311.7 L496.8,312.8 L497.0,313.6 L497.2,314.2 L497.4,314.7 L497.6,315.1 L497.8,315.4" fill="none" stroke="#111" stroke-width="1.1" stroke-dasharray="1.1,1.9"/>
<line x1="489.98" y1="316.16" x2="512.98" y2="316.16" stroke="#c8c8c8" stroke-width="0.6"/>
<rect x="18.65" y="317.53" width="22.50" height="23.25" fill="none" stroke="#e0e0e0" stroke-width="0.6"/>
<path d="M20.0,340.8 L20.0,340.5 L20.4,340.4 L20.8,340.3 L21.2,340.2 L21.6,340.0 L22.0,339.5 L22.4,338.7 L22.8,337.1 L23.2,334.5 L23.6,330.7 L24.0,325.7 L24.4,320.7 L24.8,319.2 L25.2,322.7 L25.6,327.6 L26.0,331.8 L26.4,334.8 L26.8,336.6 L27.2,337.6 L27.6,338.1 L28.0,338.4 L28.4,338.6 L28.8,338.8 L29.2,338.9 L29.6,339.1 L30.0,339.2 L30.4,339.4 L30.8,339.5 L31.2,339.7 L31.6,339.8 L32.0,339.9 L32.4,340.0 L32.8,340.1 L33.2,340.2 L33.6,340.3 L34.0,340.4 L34.4,340.4 L34.8,340.5 L34.8,340.8 Z" fill="#6b74bc" stroke="#262626" stroke-width="1.05" stroke-linejoin="round"/>
<path d="M22.4,340.0 L22.6,339.7 L22.8,339.4 L23.0,338.8 L23.2,338.2 L23.4,337.4 L23.6,336.3 L23.8,335.1 L24.0,333.6 L24.2,331.8 L24.4,329.8 L24.6,327.7 L24.8,325.4 L25.0,323.2 L25.2,321.2 L25.4,320.1 L25.6,321.2 L25.8,323.2 L26.0,325.4 L26.2,327.7 L26.4,329.8 L26.6,331.8 L26.8,333.6 L27.0,335.1 L27.2,336.3 L27.4,337.4 L27.6,338.2 L27.8,338.8 L28.0,339.4 L28.2,339.7 L28.4,340.0" fill="none" stroke="#111" stroke-width="1.1" stroke-dasharray="1.1,1.9"/>
<line x1="18.40" y1="340.78" x2="41.40" y2="340.78" stroke="#c8c8c8" stroke-width="0.6"/>
<rect x="43.47" y="317.53" width="22.50" height="23.25" fill="none" stroke="#e0e0e0" stroke-width="0.6"/>
<path d="M45.6,340.8 L45.6,340.4 L46.0,340.2 L46.4,339.7 L46.8,339.0 L47.2,337.8 L47.6,336.0 L48.0,333.3 L48.4,329.8 L48.8,325.6 L49.2,321.2 L49.6,319.2 L50.0,319.2 L50.4,320.1 L50.8,322.7 L51.2,324.8 L51.6,326.0 L52.0,326.4 L52.4,326.2 L52.8,325.6 L53.2,325.0 L53.6,325.0 L54.0,325.1 L54.4,325.2 L54.8,325.1 L55.2,324.9 L55.6,324.8 L56.0,324.8 L56.4,325.9 L56.8,328.0 L57.2,330.3 L57.6,332.5 L58.0,334.5 L58.4,336.2 L58.8,337.5 L59.2,338.5 L59.6,339.2 L60.0,339.7 L60.4,340.1 L60.8,340.3 L61.2,340.5 L61.2,340.8 Z" fill="#ffffff" stroke="#262626" stroke-width="1.05" stroke-linejoin="round"/>
<path d="M45.2,340.0 L45.4,339.7 L45.6,339.4 L45.8,338.8 L46.0,338.2 L46.2,337.4 L46.4,336.3 L46.6,335.1 L46.8,333.6 L47.0,331.8 L47.2,329.8 L47.4,327.7 L47.6,325.4 L47.8,323.2 L48.0,321.2 L48.2,320.1 L48.4,321.2 L48.6,323.2 L48.8,325.4 L49.0,327.7 L49.2,329.8 L49.4,331.8 L49.6,333.6 L49.8,335.1 L50.0,336.3 L50.2,337.4 L50.4,338.2 L50.6,338.8 L50.8,339.4 L51.0,339.7 L51.2,340.0" fill="none" stroke="#111" stroke-width="1.1" stroke-dasharray="1.1,1.9"/>
<line x1="43.22" y1="340.78" x2="66.22" y2="340.78" stroke="#c8c8c8" stroke-width="0.6"/>
<rect x="68.29" y="317.53" width="22.50" height="23.25" fill="none" stroke="#e0e0e0" stroke-width="0.6"/>
<path d="M68.0,340.8 L68.0,340.5 L68.4,340.4 L68.8,340.4 L69.2,340.3 L69.6,340.2 L70.0,340.0 L70.4,339.6 L70.8,339.0 L71.2,338.0 L71.6,336.2 L72.0,333.6 L72.4,330.0 L72.8,325.7 L73.2,321.7 L73.6,320.3 L74.0,323.3 L74.4,327.4 L74.8,331.2 L75.2,334.2 L75.6,336.1 L76.0,337.3 L76.4,337.9 L76.8,338.2 L77.2,338.3 L77.6,338.2 L78.0,338.1 L78.4,338.0 L78.8,337.9 L79.2,337.7 L79.6,337.6 L80.0,337.5 L80.4,337.3 L80.8,337.2 L81.2,337.1 L81.6,337.0 L82.0,337.0 L82.4,336.9 L82.8,336.8 L83.2,336.8 L83.6,336.7 L84.0,336.6 L84.4,336.6 L84.8,336.6 L85.2,336.8 L85.6,337.0 L86.0,337.3 L86.4,337.6 L86.8,337.9 L87.2,338.2 L87.6,338.4 L88.0,338.7 L88.4,338.9 L88.8,339.2 L89.2,339.4 L89.6,339.5 L90.0,339.7 L90.4,339.8 L90.8,339.9 L90.8,340.8 Z" fill="#d2464e" stroke="#262626" stroke-width="1.05" stroke-linejoin="round"/>
<path d="M71.0,340.0 L71.2,339.7 L71.4,339.4 L71.6,338.8 L71.8,338.2 L72.0,337.4 L72.2,336.3 L72.4,335.1 L72.6,333.6 L72.8,331.8 L73.0,329.8 L73.2,327.7 L73.4,325.4 L73.6,323.2 L73.8,321.2 L74.0,320.1 L74.2,321.2 L74.4,323.2 L74.6,325.4 L74.8,327.7 L75.0,329.8 L75.2,331.8 L75.4,333.6 L75.6,335.1 L75.8,336.3 L76.0,337.4 L76.2,338.2 L76.4,338.8 L76.6,339.4 L76.8,339.7 L77.0,340.0" fill="none" stroke="#111" stroke-width="1.1" stroke-dasharray="1.1,1.9"/>
<line x1="68.04" y1="340.78" x2="91.04" y2="340.78" stroke="#c8c8c8" stroke-width="0.6"/>
<rect x="93.11" y="317.53" width="22.50" height="23.25" fill="none" stroke="#e0e0e0" stroke-width="0.6"/>
<path d="M94.5,340.8 L94.5,340.4 L94.9,340.3 L95.3,340.1 L95.7,339.8 L96.1,339.4 L96.5,338.9 L96.9,338.2 L97.3,337.3 L97.7,336.2 L98.1,334.7 L98.5,332.9 L98.9,330.7 L99.3,328.2 L99.7,325.5 L100.1,322.7 L100.5,320.1 L100.9,319.2 L101.3,319.2 L101.7,319.2 L102.1,319.2 L102.5,319.2 L102.9,319.2 L103.3,319.2 L103.7,319.2 L104.1,319.4 L104.5,320.4 L104.9,321.5 L105.3,322.6 L105.7,323.5 L106.1,324.4 L106.5,325.2 L106.9,326.0 L107.3,326.7 L107.7,327.4 L108.1,328.5 L108.5,329.8 L108.9,331.1 L109.3,332.5 L109.7,333.7 L110.1,334.9 L110.5,335.9 L110.9,336.8 L111.3,337.6 L111.7,338.3 L112.1,338.8 L112.5,339.3 L112.9,339.6 L113.3,339.9 L113.7,340.1 L114.1,340.3 L114.5,340.4 L114.5,340.8 Z" fill="#e8a2a2" stroke="#262626" stroke-width="1.05" stroke-linejoin="round"/>
<path d="M95.7,340.0 L95.9,339.7 L96.1,339.4 L96.3,338.8 L96.5,338.2 L96.7,337.4 L96.9,336.3 L97.1,335.1 L97.3,333.6 L97.5,331.8 L97.7,329.8 L97.9,327.7 L98.1,325.4 L98.3,323.2 L98.5,321.2 L98.7,320.1 L98.9,321.2 L99.1,323.2 L99.3,325.4 L99.5,327.7 L99.7,329.8 L99.9,331.8 L100.1,333.6 L100.3,335.1 L100.5,336.3 L100.7,337.4 L100.9,338.2 L101.1,338.8 L101.3,339.4 L101.5,339.7 L101.7,340.0" fill="none" stroke="#111" stroke-width="1.1" stroke-dasharray="1.1,1.9"/>
<line x1="92.86" y1="340.78" x2="115.86" y2="340.78" stroke="#c8c8c8" stroke-width="0.6"/>
<rect x="117.93" y="317.53" width="22.50" height="23.25" fill="none" stroke="#e0e0e0" stroke-width="0.6"/>
<path d="M119.3,340.8 L119.3,340.5 L119.7,340.3 L120.1,340.1 L120.5,339.8 L120.9,339.4 L121.3,338.9 L121.7,338.3 L122.1,337.6 L122.5,336.9 L122.9,336.0 L123.3,335.3 L123.7,334.7 L124.1,334.5 L124.5,334.5 L124.9,334.6 L125.3,334.6 L125.7,334.4 L126.1,334.2 L126.5,333.8 L126.9,333.4 L127.3,332.9 L127.7,332.4 L128.1,332.2 L128.5,332.0 L128.9,331.5 L129.3,330.8 L129.7,329.6 L130.1,328.0 L130.5,326.0 L130.9,323.8 L131.3,321.7 L131.7,320.1 L132.1,320.5 L132.5,322.7 L132.9,325.5 L133.3,328.4 L133.7,331.1 L134.1,333.5 L134.5,335.5 L134.9,337.0 L135.3,338.2 L135.7,339.1 L136.1,339.7 L136.5,340.1 L136.9,340.3 L136.9,340.8 Z" fill="#f3d4d4" stroke="#262626" stroke-width="1.05" stroke-linejoin="round"/>
<path d="M119.8,340.0 L120.0,339.7 L120.2,339.4 L120.4,338.8 L120.6,338.2 L120.8,337.4 L121.0,336.3 L121.2,335.1 L121.4,333.6 L121.6,331.8 L121.8,329.8 L122.0,327.7 L122.2,325.4 L122.4,323.2 L122.6,321.2 L122.8,320.1 L123.0,321.2 L123.2,323.2 L123.4,325.4 L123.6,327.7 L123.8,329.8 L124.0,331.8 L124.2,333.6 L124.4,335.1 L124.6,336.3 L124.8,337.4 L125.0,338.2 L125.2,338.8 L125.4,339.4 L125.6,339.7 L125.8,340.0" fill="none" stroke="#111" stroke-width="1.1" stroke-dasharray="1.1,1.9"/>
<line x1="117.68" y1="340.78" x2="140.68" y2="340.78" stroke="#c8c8c8" stroke-width="0.6"/>
<rect x="142.75" y="317.53" width="22.50" height="23.25" fill="none" stroke="#e0e0e0" stroke-width="0.6"/>
<path d="M142.5,340.8 L142.5,340.5 L142.9,340.4 L143.3,340.4 L143.7,340.4 L144.1,340.3 L144.5,340.3 L144.9,340.2 L145.3,340.1 L145.7,340.0 L146.1,339.7 L146.5,339.1 L146.9,338.0 L147.3,336.2 L147.7,333.2 L148.1,329.0 L148.5,324.2 L148.9,320.3 L149.3,321.8 L149.7,326.3 L150.1,330.7 L150.5,334.2 L150.9,336.4 L151.3,337.7 L151.7,338.3 L152.1,338.6 L152.5,338.6 L152.9,338.6 L153.3,338.6 L153.7,338.5 L154.1,338.5 L154.5,338.5 L154.9,338.5 L155.3,338.5 L155.7,338.6 L156.1,338.7 L156.5,338.7 L156.9,338.8 L157.3,338.9 L157.7,339.0 L158.1,339.1 L158.5,339.2 L158.9,339.2 L159.3,339.3 L159.7,339.4 L160.1,339.5 L160.5,339.6 L160.9,339.7 L161.3,339.8 L161.7,339.8 L162.1,339.9 L162.5,340.0 L162.9,340.0 L163.3,340.1 L163.7,340.2 L164.1,340.2 L164.5,340.3 L164.9,340.3 L165.3,340.4 L165.3,340.8 Z" fill="#ffffff" stroke="#262626" stroke-width="1.05" stroke-linejoin="round"/>
<path d="M146.0,340.0 L146.2,339.7 L146.4,339.4 L146.6,338.8 L146.8,338.2 L147.0,337.4 L147.2,336.3 L147.4,335.1 L147.6,333.6 L147.8,331.8 L148.0,329.8 L148.2,327.7 L148.4,325.4 L148.6,323.2 L148.8,321.2 L149.0,320.1 L149.2,321.2 L149.4,323.2 L149.6,325.4 L149.8,327.7 L150.0,329.8 L150.2,331.8 L150.4,333.6 L150.6,335.1 L150.8,336.3 L151.0,337.4 L151.2,338.2 L151.4,338.8 L151.6,339.4 L151.8,339.7 L152.0,340.0" fill="none" stroke="#111" stroke-width="1.1" stroke-dasharray="1.1,1.9"/>
<line x1="142.50" y1="340.78" x2="165.50" y2="340.78" stroke="#c8c8c8" stroke-width="0.6"/>
<rect x="167.57" y="317.53" width="22.50" height="23.25" fill="none" stroke="#e0e0e0" stroke-width="0.6"/>
<path d="M168.9,340.8 L168.9,340.4 L169.3,340.1 L169.7,339.8 L170.1,339.4 L170.5,338.7 L170.9,337.9 L171.3,336.9 L171.7,335.6 L172.1,334.1 L172.5,332.4 L172.9,330.6 L173.3,328.8 L173.7,327.4 L174.1,326.9 L174.5,327.1 L174.9,327.3 L175.3,327.4 L175.7,327.2 L176.1,326.7 L176.5,326.0 L176.9,325.4 L177.3,325.2 L177.7,325.0 L178.1,324.4 L178.5,323.6 L178.9,322.5 L179.3,321.3 L179.7,320.2 L180.1,319.4 L180.5,319.8 L180.9,321.5 L181.3,323.7 L181.7,326.0 L182.1,328.3 L182.5,330.5 L182.9,332.5 L183.3,334.2 L183.7,335.7 L184.1,336.9 L184.5,337.9 L184.9,338.6 L185.3,339.2 L185.7,339.7 L186.1,340.0 L186.5,340.2 L186.9,340.4 L186.9,340.8 Z" fill="#e8a2a2" stroke="#262626" stroke-width="1.05" stroke-linejoin="round"/>
<path d="M169.2,340.0 L169.4,339.7 L169.6,339.4 L169.8,338.8 L170.0,338.2 L170.2,337.4 L170.4,336.3 L170.6,335.1 L170.8,333.6 L171.0,331.8 L171.2,329.8 L171.4,327.7 L171.6,325.4 L171.8,323.2 L172.0,321.2 L172.2,320.1 L172.4,321.2 L172.6,323.2 L172.8,325.4 L173.0,327.7 L173.2,329.8 L173.4,331.8 L173.6,333.6 L173.8,335.1 L174.0,336.3 L174.2,337.4 L174.4,338.2 L174.6,338.8 L174.8,339.4 L175.0,339.7 L175.2,340.0" fill="none" stroke="#111" stroke-width="1.1" stroke-dasharray="1.1,1.9"/>
<line x1="167.32" y1="340.78" x2="190.32" y2="340.78" stroke="#c8c8c8" stroke-width="0.6"/>
<rect x="192.39" y="317.53" width="22.50" height="23.25" fill="none" stroke="#e0e0e0" stroke-width="0.6"/>
<path d="M200.1,340.8 L200.1,340.4 L200.5,340.2 L200.9,340.0 L201.3,339.6 L201.7,339.1 L202.1,338.4 L202.5,337.6 L202.9,336.5 L203.3,335.1 L203.7,333.5 L204.1,331.6 L204.5,329.5 L204.9,327.2 L205.3,325.0 L205.7,323.0 L206.1,321.5 L206.5,321.5 L206.9,323.0 L207.3,325.0 L207.7,327.2 L208.1,329.5 L208.5,331.6 L208.9,333.5 L209.3,335.1 L209.7,336.5 L210.1,337.6 L210.5,338.4 L210.9,339.1 L211.3,339.6 L211.7,340.0 L212.1,340.2 L212.5,340.4 L212.5,340.8 Z" fill="#c3c7ea" stroke="#262626" stroke-width="1.05" stroke-linejoin="round"/>
<path d="M195.0,340.0 L195.2,339.7 L195.4,339.4 L195.6,338.8 L195.8,338.2 L196.0,337.4 L196.2,336.3 L196.4,335.1 L196.6,333.6 L196.8,331.8 L197.0,329.8 L197.2,327.7 L197.4,325.4 L197.6,323.2 L197.8,321.2 L198.0,320.1 L198.2,321.2 L198.4,323.2 L198.6,325.4 L198.8,327.7 L199.0,329.8 L199.2,331.8 L199.4,333.6 L199.6,335.1 L199.8,336.3 L200.0,337.4 L200.2,338.2 L200.4,338.8 L200.6,339.4 L200.8,339.7 L201.0,340.0" fill="none" stroke="#111" stroke-width="1.1" stroke-dasharray="1.1,1.9"/>
<line x1="192.14" y1="340.78" x2="215.14" y2="340.78" stroke="#c8c8c8" stroke-width="0.6"/>
<rect x="217.21" y="317.53" width="22.50" height="23.25" fill="none" stroke="#e0e0e0" stroke-width="0.6"/>
<path d="M219.4,340.8 L219.4,340.3 L219.8,340.0 L220.2,339.4 L220.6,338.4 L221.0,336.8 L221.4,334.5 L221.8,331.3 L222.2,327.4 L222.6,323.1 L223.0,319.5 L223.4,319.2 L223.8,322.0 L224.2,325.5 L224.6,328.7 L225.0,331.3 L225.4,333.0 L225.8,334.2 L226.2,335.1 L226.6,335.9 L227.0,336.6 L227.4,337.2 L227.8,337.7 L228.2,338.2 L228.6,338.6 L229.0,339.0 L229.4,339.3 L229.8,339.6 L230.2,339.9 L230.6,340.1 L231.0,340.3 L231.4,340.4 L231.8,340.5 L231.8,340.8 Z" fill="#6b74bc" stroke="#262626" stroke-width="1.05" stroke-linejoin="round"/>
<path d="M219.7,340.0 L219.9,339.7 L220.1,339.4 L220.3,338.8 L220.5,338.2 L220.7,337.4 L220.9,336.3 L221.1,335.1 L221.3,333.6 L221.5,331.8 L221.7,329.8 L221.9,327.7 L222.1,325.4 L222.3,323.2 L222.5,321.2 L222.7,320.1 L222.9,321.2 L223.1,323.2 L223.3,325.4 L223.5,327.7 L223.7,329.8 L223.9,331.8 L224.1,333.6 L224.3,335.1 L224.5,336.3 L224.7,337.4 L224.9,338.2 L225.1,338.8 L225.3,339.4 L225.5,339.7 L225.7,340.0" fill="none" stroke="#111" stroke-width="1.1" stroke-dasharray="1.1,1.9"/>
<line x1="216.96" y1="340.78" x2="239.96" y2="340.78" stroke="#c8c8c8" stroke-width="0.6"/>
<rect x="242.03" y="317.53" width="22.50" height="23.25" fill="none" stroke="#e0e0e0" stroke-width="0.6"/>
<path d="M245.0,340.8 L245.0,340.4 L245.4,340.3 L245.8,340.1 L246.2,339.9 L246.6,339.5 L247.0,339.1 L247.4,338.6 L247.8,338.0 L248.2,337.2 L248.6,336.4 L249.0,335.4 L249.4,334.5 L249.8,333.5 L250.2,332.6 L250.6,331.8 L251.0,331.6 L251.4,331.9 L251.8,332.3 L252.2,332.5 L252.6,332.5 L253.0,332.1 L253.4,331.2 L253.8,329.9 L254.2,328.1 L254.6,325.9 L255.0,323.6 L255.4,321.6 L255.8,320.6 L256.2,322.0 L256.6,324.5 L257.0,327.3 L257.4,330.1 L257.8,332.6 L258.2,334.7 L258.6,336.4 L259.0,337.8 L259.4,338.7 L259.8,339.4 L260.2,339.9 L260.6,340.2 L261.0,340.4 L261.0,340.8 Z" fill="#f3d4d4" stroke="#262626" stroke-width="1.05" stroke-linejoin="round"/>
<path d="M243.8,340.0 L244.0,339.7 L244.2,339.4 L244.4,338.8 L244.6,338.2 L244.8,337.4 L245.0,336.3 L245.2,335.1 L245.4,333.6 L245.6,331.8 L245.8,329.8 L246.0,327.7 L246.2,325.4 L246.4,323.2 L246.6,321.2 L246.8,320.1 L247.0,321.2 L247.2,323.2 L247.4,325.4 L247.6,327.7 L247.8,329.8 L248.0,331.8 L248.2,333.6 L248.4,335.1 L248.6,336.3 L248.8,337.4 L249.0,338.2 L249.2,338.8 L249.4,339.4 L249.6,339.7 L249.8,340.0" fill="none" stroke="#111" stroke-width="1.1" stroke-dasharray="1.1,1.9"/>
<line x1="241.78" y1="340.78" x2="264.78" y2="340.78" stroke="#c8c8c8" stroke-width="0.6"/>
<rect x="266.85" y="317.53" width="22.50" height="23.25" fill="none" stroke="#e0e0e0" stroke-width="0.6"/>
<path d="M274.6,340.8 L274.6,340.5 L275.0,340.3 L275.4,340.1 L275.8,339.8 L276.2,339.4 L276.6,338.9 L277.0,338.2 L277.4,337.3 L277.8,336.2 L278.2,334.9 L278.6,333.3 L279.0,331.5 L279.4,329.4 L279.8,327.3 L280.2,325.2 L280.6,323.3 L281.0,321.8 L281.4,321.3 L281.8,322.4 L282.2,324.2 L282.6,326.3 L283.0,328.4 L283.4,330.5 L283.8,332.4 L284.2,334.1 L284.6,335.6 L285.0,336.8 L285.4,337.8 L285.8,338.5 L286.2,339.1 L286.6,339.6 L287.0,340.0 L287.4,340.2 L287.8,340.4 L287.8,340.8 Z" fill="#c3c7ea" stroke="#262626" stroke-width="1.05" stroke-linejoin="round"/>
<path d="M269.7,340.0 L269.9,339.7 L270.1,339.4 L270.3,338.8 L270.5,338.2 L270.7,337.4 L270.9,336.3 L271.1,335.1 L271.3,333.6 L271.5,331.8 L271.7,329.8 L271.9,327.7 L272.1,325.4 L272.3,323.2 L272.5,321.2 L272.7,320.1 L272.9,321.2 L273.1,323.2 L273.3,325.4 L273.5,327.7 L273.7,329.8 L273.9,331.8 L274.1,333.6 L274.3,335.1 L274.5,336.3 L274.7,337.4 L274.9,338.2 L275.1,338.8 L275.3,339.4 L275.5,339.7 L275.7,340.0" fill="none" stroke="#111" stroke-width="1.1" stroke-dasharray="1.1,1.9"/>
<line x1="266.60" y1="340.78" x2="289.60" y2="340.78" stroke="#c8c8c8" stroke-width="0.6"/>
<rect x="291.67" y="317.53" width="22.50" height="23.25" fill="none" stroke="#e0e0e0" stroke-width="0.6"/>
<path d="M293.0,340.8 L293.0,340.4 L293.4,340.2 L293.8,339.7 L294.2,338.8 L294.6,337.5 L295.0,335.4 L295.4,332.6 L295.8,329.0 L296.2,324.9 L296.6,321.2 L297.0,319.6 L297.4,321.9 L297.8,325.2 L298.2,328.3 L298.6,330.7 L299.0,332.4 L299.4,333.3 L299.8,333.7 L300.2,333.7 L300.6,333.8 L301.0,334.1 L301.4,334.3 L301.8,334.4 L302.2,334.4 L302.6,334.4 L303.0,334.2 L303.4,333.9 L303.8,333.4 L304.2,332.9 L304.6,332.3 L305.0,331.7 L305.4,331.3 L305.8,331.1 L306.2,331.6 L306.6,332.3 L307.0,333.2 L307.4,334.2 L307.8,335.1 L308.2,336.0 L308.6,336.8 L309.0,337.6 L309.4,338.2 L309.8,338.7 L310.2,339.2 L310.6,339.6 L311.0,339.9 L311.4,340.1 L311.8,340.3 L312.2,340.4 L312.2,340.8 Z" fill="#d2464e" stroke="#262626" stroke-width="1.05" stroke-linejoin="round"/>
<path d="M293.3,340.0 L293.5,339.7 L293.7,339.4 L293.9,338.8 L294.1,338.2 L294.3,337.4 L294.5,336.3 L294.7,335.1 L294.9,333.6 L295.1,331.8 L295.3,329.8 L295.5,327.7 L295.7,325.4 L295.9,323.2 L296.1,321.2 L296.3,320.1 L296.5,321.2 L296.7,323.2 L296.9,325.4 L297.1,327.7 L297.3,329.8 L297.5,331.8 L297.7,333.6 L297.9,335.1 L298.1,336.3 L298.3,337.4 L298.5,338.2 L298.7,338.8 L298.9,339.4 L299.1,339.7 L299.3,340.0" fill="none" stroke="#111" stroke-width="1.1" stroke-dasharray="1.1,1.9"/>
<line x1="291.42" y1="340.78" x2="314.42" y2="340.78" stroke="#c8c8c8" stroke-width="0.6"/>
<rect x="316.49" y="317.53" width="22.50" height="23.25" fill="none" stroke="#e0e0e0" stroke-width="0.6"/>
<path d="M323.8,340.8 L323.8,340.4 L324.2,340.2 L324.6,339.8 L325.0,339.3 L325.4,338.7 L325.8,337.8 L326.2,336.7 L326.6,335.4 L327.0,334.0 L327.4,332.6 L327.8,331.4 L328.2,331.0 L328.6,331.5 L329.0,332.2 L329.4,332.9 L329.8,333.5 L330.2,333.9 L330.6,334.2 L331.0,334.4 L331.4,334.7 L331.8,335.0 L332.2,335.1 L332.6,334.8 L333.0,334.0 L333.4,332.5 L333.8,330.1 L334.2,327.0 L334.6,323.5 L335.0,320.7 L335.4,321.0 L335.8,324.3 L336.2,328.3 L336.6,332.0 L337.0,335.0 L337.4,337.2 L337.8,338.7 L338.2,339.6 L338.6,340.1 L339.0,340.4 L339.0,340.8 Z" fill="#de7676" stroke="#262626" stroke-width="1.05" stroke-linejoin="round"/>
<path d="M318.5,340.0 L318.7,339.7 L318.9,339.4 L319.1,338.8 L319.3,338.2 L319.5,337.4 L319.7,336.3 L319.9,335.1 L320.1,333.6 L320.3,331.8 L320.5,329.8 L320.7,327.7 L320.9,325.4 L321.1,323.2 L321.3,321.2 L321.5,320.1 L321.7,321.2 L321.9,323.2 L322.1,325.4 L322.3,327.7 L322.5,329.8 L322.7,331.8 L322.9,333.6 L323.1,335.1 L323.3,336.3 L323.5,337.4 L323.7,338.2 L323.9,338.8 L324.1,339.4 L324.3,339.7 L324.5,340.0" fill="none" stroke="#111" stroke-width="1.1" stroke-dasharray="1.1,1.9"/>
<line x1="316.24" y1="340.78" x2="339.24" y2="340.78" stroke="#c8c8c8" stroke-width="0.6"/>
<rect x="341.31" y="317.53" width="22.50" height="23.25" fill="none" stroke="#e0e0e0" stroke-width="0.6"/>
<path d="M341.1,340.8 L341.1,340.4 L341.5,340.3 L341.9,340.2 L342.3,340.0 L342.7,339.7 L343.1,339.4 L343.5,338.7 L343.9,337.8 L344.3,336.3 L344.7,334.1 L345.1,331.2 L345.5,327.4 L345.9,323.2 L346.3,319.4 L346.7,319.2 L347.1,320.0 L347.5,323.2 L347.9,326.3 L348.3,328.7 L348.7,330.3 L349.1,331.1 L349.5,331.3 L349.9,331.1 L350.3,330.7 L350.7,330.0 L351.1,329.3 L351.5,328.6 L351.9,327.9 L352.3,327.2 L352.7,326.6 L353.1,326.2 L353.5,326.2 L353.9,326.2 L354.3,326.4 L354.7,326.5 L355.1,326.5 L355.5,326.4 L355.9,326.3 L356.3,326.0 L356.7,325.5 L357.1,325.0 L357.5,324.3 L357.9,323.7 L358.3,323.1 L358.7,322.7 L359.1,322.8 L359.5,323.8 L359.9,325.2 L360.3,326.9 L360.7,328.6 L361.1,330.3 L361.5,331.9 L361.9,333.4 L362.3,334.7 L362.7,335.8 L363.1,336.8 L363.5,337.6 L363.9,338.3 L363.9,340.8 Z" fill="#d2464e" stroke="#262626" stroke-width="1.05" stroke-linejoin="round"/>
<path d="M343.7,340.0 L343.9,339.7 L344.1,339.4 L344.3,338.8 L344.5,338.2 L344.7,337.4 L344.9,336.3 L345.1,335.1 L345.3,333.6 L345.5,331.8 L345.7,329.8 L345.9,327.7 L346.1,325.4 L346.3,323.2 L346.5,321.2 L346.7,320.1 L346.9,321.2 L347.1,323.2 L347.3,325.4 L347.5,327.7 L347.7,329.8 L347.9,331.8 L348.1,333.6 L348.3,335.1 L348.5,336.3 L348.7,337.4 L348.9,338.2 L349.1,338.8 L349.3,339.4 L349.5,339.7 L349.7,340.0" fill="none" stroke="#111" stroke-width="1.1" stroke-dasharray="1.1,1.9"/>
<line x1="341.06" y1="340.78" x2="364.06" y2="340.78" stroke="#c8c8c8" stroke-width="0.6"/>
<rect x="366.13" y="317.53" width="22.50" height="23.25" fill="none" stroke="#e0e0e0" stroke-width="0.6"/>
<path d="M368.3,340.8 L368.3,340.4 L368.7,340.0 L369.1,339.5 L369.5,338.7 L369.9,337.6 L370.3,336.2 L370.7,334.6 L371.1,333.1 L371.5,332.6 L371.9,333.7 L372.3,335.2 L372.7,336.7 L373.1,337.8 L373.5,338.3 L373.9,338.3 L374.3,338.3 L374.7,338.3 L375.1,338.3 L375.5,338.3 L375.9,338.3 L376.3,338.3 L376.7,338.3 L377.1,338.3 L377.5,338.3 L377.9,338.3 L378.3,338.3 L378.7,338.1 L379.1,337.8 L379.5,337.6 L379.9,337.3 L380.3,337.1 L380.7,336.8 L381.1,336.5 L381.5,336.1 L381.9,335.5 L382.3,334.8 L382.7,333.9 L383.1,332.8 L383.5,331.5 L383.9,330.0 L384.3,328.3 L384.7,326.5 L385.1,324.7 L385.5,323.1 L385.9,321.7 L386.3,320.8 L386.7,321.3 L387.1,322.6 L387.5,324.3 L387.9,326.3 L388.3,328.2 L388.7,330.2 L388.7,340.8 Z" fill="#d2464e" stroke="#262626" stroke-width="1.05" stroke-linejoin="round"/>
<path d="M367.8,340.0 L368.0,339.7 L368.2,339.4 L368.4,338.8 L368.6,338.2 L368.8,337.4 L369.0,336.3 L369.2,335.1 L369.4,333.6 L369.6,331.8 L369.8,329.8 L370.0,327.7 L370.2,325.4 L370.4,323.2 L370.6,321.2 L370.8,320.1 L371.0,321.2 L371.2,323.2 L371.4,325.4 L371.6,327.7 L371.8,329.8 L372.0,331.8 L372.2,333.6 L372.4,335.1 L372.6,336.3 L372.8,337.4 L373.0,338.2 L373.2,338.8 L373.4,339.4 L373.6,339.7 L373.8,340.0" fill="none" stroke="#111" stroke-width="1.1" stroke-dasharray="1.1,1.9"/>
<line x1="365.88" y1="340.78" x2="388.88" y2="340.78" stroke="#c8c8c8" stroke-width="0.6"/>
<rect x="390.95" y="317.53" width="22.50" height="23.25" fill="none" stroke="#e0e0e0" stroke-width="0.6"/>
<path d="M391.5,340.8 L391.5,340.5 L391.9,340.4 L392.3,340.4 L392.7,340.3 L393.1,340.2 L393.5,340.0 L393.9,339.7 L394.3,339.0 L394.7,337.7 L395.1,335.6 L395.5,332.3 L395.9,327.8 L396.3,323.0 L396.7,319.9 L397.1,322.7 L397.5,327.3 L397.9,331.5 L398.3,334.6 L398.7,336.5 L399.1,337.6 L399.5,338.0 L399.9,338.2 L400.3,338.2 L400.7,338.1 L401.1,338.1 L401.5,338.0 L401.9,338.0 L402.3,338.1 L402.7,338.2 L403.1,338.3 L403.5,338.4 L403.9,338.5 L404.3,338.6 L404.7,338.8 L405.1,338.9 L405.5,339.0 L405.9,339.2 L406.3,339.3 L406.7,339.4 L407.1,339.5 L407.5,339.7 L407.9,339.8 L408.3,339.9 L408.7,340.0 L409.1,340.1 L409.5,340.1 L409.9,340.2 L410.3,340.3 L410.7,340.3 L411.1,340.4 L411.5,340.4 L411.9,340.5 L411.9,340.8 Z" fill="#f3d4d4" stroke="#262626" stroke-width="1.05" stroke-linejoin="round"/>
<path d="M393.2,340.0 L393.4,339.7 L393.6,339.4 L393.8,338.8 L394.0,338.2 L394.2,337.4 L394.4,336.3 L394.6,335.1 L394.8,333.6 L395.0,331.8 L395.2,329.8 L395.4,327.7 L395.6,325.4 L395.8,323.2 L396.0,321.2 L396.2,320.1 L396.4,321.2 L396.6,323.2 L396.8,325.4 L397.0,327.7 L397.2,329.8 L397.4,331.8 L397.6,333.6 L397.8,335.1 L398.0,336.3 L398.2,337.4 L398.4,338.2 L398.6,338.8 L398.8,339.4 L399.0,339.7 L399.2,340.0" fill="none" stroke="#111" stroke-width="1.1" stroke-dasharray="1.1,1.9"/>
<line x1="390.70" y1="340.78" x2="413.70" y2="340.78" stroke="#c8c8c8" stroke-width="0.6"/>
<rect x="415.77" y="317.53" width="22.50" height="23.25" fill="none" stroke="#e0e0e0" stroke-width="0.6"/>
<path d="M417.9,340.8 L417.9,340.5 L418.3,340.2 L418.7,339.8 L419.1,339.1 L419.5,338.0 L419.9,336.2 L420.3,333.6 L420.7,330.1 L421.1,325.9 L421.5,321.4 L421.9,319.2 L422.3,319.2 L422.7,320.3 L423.1,322.8 L423.5,324.8 L423.9,325.9 L424.3,326.3 L424.7,326.1 L425.1,325.9 L425.5,326.0 L425.9,326.1 L426.3,325.9 L426.7,325.5 L427.1,324.7 L427.5,323.8 L427.9,322.7 L428.3,321.7 L428.7,321.3 L429.1,322.3 L429.5,324.4 L429.9,326.7 L430.3,329.1 L430.7,331.4 L431.1,333.4 L431.5,335.1 L431.9,336.5 L432.3,337.7 L432.7,338.6 L433.1,339.2 L433.5,339.7 L433.9,340.1 L434.3,340.3 L434.7,340.5 L434.7,340.8 Z" fill="#e8a2a2" stroke="#262626" stroke-width="1.05" stroke-linejoin="round"/>
<path d="M418.0,340.0 L418.2,339.7 L418.4,339.4 L418.6,338.8 L418.8,338.2 L419.0,337.4 L419.2,336.3 L419.4,335.1 L419.6,333.6 L419.8,331.8 L420.0,329.8 L420.2,327.7 L420.4,325.4 L420.6,323.2 L420.8,321.2 L421.0,320.1 L421.2,321.2 L421.4,323.2 L421.6,325.4 L421.8,327.7 L422.0,329.8 L422.2,331.8 L422.4,333.6 L422.6,335.1 L422.8,336.3 L423.0,337.4 L423.2,338.2 L423.4,338.8 L423.6,339.4 L423.8,339.7 L424.0,340.0" fill="none" stroke="#111" stroke-width="1.1" stroke-dasharray="1.1,1.9"/>
<line x1="415.52" y1="340.78" x2="438.52" y2="340.78" stroke="#c8c8c8" stroke-width="0.6"/>
<rect x="440.59" y="317.53" width="22.50" height="23.25" fill="none" stroke="#e0e0e0" stroke-width="0.6"/>
<path d="M443.1,340.8 L443.1,340.4 L443.5,340.3 L443.9,340.1 L444.3,339.8 L444.7,339.5 L445.1,338.9 L445.5,338.2 L445.9,337.2 L446.3,336.0 L446.7,334.4 L447.1,332.4 L447.5,330.0 L447.9,327.3 L448.3,324.4 L448.7,321.5 L449.1,319.2 L449.5,319.2 L449.9,319.2 L450.3,319.6 L450.7,321.6 L451.1,323.6 L451.5,325.5 L451.9,327.1 L452.3,328.4 L452.7,329.4 L453.1,330.2 L453.5,331.0 L453.9,331.8 L454.3,332.6 L454.7,333.3 L455.1,334.0 L455.5,334.6 L455.9,335.3 L456.3,335.8 L456.7,336.4 L457.1,336.9 L457.5,337.3 L457.9,337.8 L458.3,338.2 L458.7,338.5 L459.1,338.9 L459.5,339.1 L459.9,339.4 L460.3,339.6 L460.7,339.8 L461.1,340.0 L461.5,340.1 L461.9,340.2 L462.3,340.3 L462.7,340.4 L463.1,340.5 L463.1,340.8 Z" fill="#eceef7" stroke="#262626" stroke-width="1.05" stroke-linejoin="round"/>
<path d="M443.0,340.0 L443.2,339.7 L443.4,339.4 L443.6,338.8 L443.8,338.2 L444.0,337.4 L444.2,336.3 L444.4,335.1 L444.6,333.6 L444.8,331.8 L445.0,329.8 L445.2,327.7 L445.4,325.4 L445.6,323.2 L445.8,321.2 L446.0,320.1 L446.2,321.2 L446.4,323.2 L446.6,325.4 L446.8,327.7 L447.0,329.8 L447.2,331.8 L447.4,333.6 L447.6,335.1 L447.8,336.3 L448.0,337.4 L448.2,338.2 L448.4,338.8 L448.6,339.4 L448.8,339.7 L449.0,340.0" fill="none" stroke="#111" stroke-width="1.1" stroke-dasharray="1.1,1.9"/>
<line x1="440.34" y1="340.78" x2="463.34" y2="340.78" stroke="#c8c8c8" stroke-width="0.6"/>
<rect x="465.41" y="317.53" width="22.50" height="23.25" fill="none" stroke="#e0e0e0" stroke-width="0.6"/>
<path d="M468.0,340.8 L468.0,340.3 L468.4,339.8 L468.8,338.9 L469.2,337.2 L469.6,334.5 L470.0,330.6 L470.4,325.7 L470.8,321.3 L471.2,321.1 L471.6,325.2 L472.0,329.7 L472.4,333.4 L472.8,335.9 L473.2,337.4 L473.6,338.3 L474.0,338.8 L474.4,339.2 L474.8,339.4 L475.2,339.6 L475.6,339.8 L476.0,340.0 L476.4,340.1 L476.8,340.3 L477.2,340.4 L477.6,340.5 L477.6,340.8 Z" fill="#6b74bc" stroke="#262626" stroke-width="1.05" stroke-linejoin="round"/>
<path d="M467.7,340.0 L467.9,339.7 L468.1,339.4 L468.3,338.8 L468.5,338.2 L468.7,337.4 L468.9,336.3 L469.1,335.1 L469.3,333.6 L469.5,331.8 L469.7,329.8 L469.9,327.7 L470.1,325.4 L470.3,323.2 L470.5,321.2 L470.7,320.1 L470.9,321.2 L471.1,323.2 L471.3,325.4 L471.5,327.7 L471.7,329.8 L471.9,331.8 L472.1,333.6 L472.3,335.1 L472.5,336.3 L472.7,337.4 L472.9,338.2 L473.1,338.8 L473.3,339.4 L473.5,339.7 L473.7,340.0" fill="none" stroke="#111" stroke-width="1.1" stroke-dasharray="1.1,1.9"/>
<line x1="465.16" y1="340.78" x2="488.16" y2="340.78" stroke="#c8c8c8" stroke-width="0.6"/>
<rect x="490.23" y="317.53" width="22.50" height="23.25" fill="none" stroke="#e0e0e0" stroke-width="0.6"/>
<path d="M492.4,340.8 L492.4,340.4 L492.8,339.9 L493.2,338.8 L493.6,336.5 L494.0,332.7 L494.4,327.6 L494.8,322.5 L495.2,322.5 L495.6,327.6 L496.0,332.7 L496.4,336.5 L496.8,338.8 L497.2,339.9 L497.6,340.4 L497.6,340.8 Z" fill="#4757a6" stroke="#262626" stroke-width="1.05" stroke-linejoin="round"/>
<path d="M491.8,340.0 L492.0,339.7 L492.2,339.4 L492.4,338.8 L492.6,338.2 L492.8,337.4 L493.0,336.3 L493.2,335.1 L493.4,333.6 L493.6,331.8 L493.8,329.8 L494.0,327.7 L494.2,325.4 L494.4,323.2 L494.6,321.2 L494.8,320.1 L495.0,321.2 L495.2,323.2 L495.4,325.4 L495.6,327.7 L495.8,329.8 L496.0,331.8 L496.2,333.6 L496.4,335.1 L496.6,336.3 L496.8,337.4 L497.0,338.2 L497.2,338.8 L497.4,339.4 L497.6,339.7 L497.8,340.0" fill="none" stroke="#111" stroke-width="1.1" stroke-dasharray="1.1,1.9"/>
<line x1="489.98" y1="340.78" x2="512.98" y2="340.78" stroke="#c8c8c8" stroke-width="0.6"/>
<rect x="18.65" y="342.15" width="22.50" height="23.25" fill="none" stroke="#e0e0e0" stroke-width="0.6"/>
<path d="M21.6,365.4 L21.6,364.9 L22.0,364.4 L22.4,363.5 L22.8,361.8 L23.2,358.9 L23.6,354.8 L24.0,349.8 L24.4,345.2 L24.8,345.1 L25.2,349.5 L25.6,354.4 L26.0,358.4 L26.4,361.1 L26.8,362.6 L27.2,363.5 L27.6,363.9 L28.0,364.2 L28.4,364.3 L28.8,364.4 L29.2,364.5 L29.6,364.6 L30.0,364.7 L30.4,364.8 L30.8,364.9 L31.2,365.0 L31.6,365.0 L32.0,365.1 L32.0,365.4 Z" fill="#6b74bc" stroke="#262626" stroke-width="1.05" stroke-linejoin="round"/>
<path d="M22.4,364.6 L22.6,364.4 L22.8,364.0 L23.0,363.5 L23.2,362.8 L23.4,362.0 L23.6,361.0 L23.8,359.7 L24.0,358.2 L24.2,356.5 L24.4,354.5 L24.6,352.3 L24.8,350.0 L25.0,347.8 L25.2,345.8 L25.4,344.7 L25.6,345.8 L25.8,347.8 L26.0,350.0 L26.2,352.3 L26.4,354.5 L26.6,356.5 L26.8,358.2 L27.0,359.7 L27.2,361.0 L27.4,362.0 L27.6,362.8 L27.8,363.5 L28.0,364.0 L28.2,364.4 L28.4,364.6" fill="none" stroke="#111" stroke-width="1.1" stroke-dasharray="1.1,1.9"/>
<line x1="18.40" y1="365.40" x2="41.40" y2="365.40" stroke="#c8c8c8" stroke-width="0.6"/>
<rect x="43.47" y="342.15" width="22.50" height="23.25" fill="none" stroke="#e0e0e0" stroke-width="0.6"/>
<path d="M46.8,365.4 L46.8,364.9 L47.2,364.6 L47.6,364.2 L48.0,363.5 L48.4,362.6 L48.8,361.2 L49.2,359.5 L49.6,357.4 L50.0,354.9 L50.4,352.2 L50.8,349.6 L51.2,347.6 L51.6,347.6 L52.0,348.1 L52.4,348.5 L52.8,348.5 L53.2,348.0 L53.6,347.0 L54.0,345.8 L54.4,344.8 L54.8,344.8 L55.2,346.7 L55.6,349.3 L56.0,352.0 L56.4,354.6 L56.8,357.0 L57.2,359.1 L57.6,360.7 L58.0,362.0 L58.4,363.0 L58.8,363.8 L59.2,364.3 L59.6,364.7 L60.0,364.9 L60.4,365.1 L60.4,365.4 Z" fill="#ffffff" stroke="#262626" stroke-width="1.05" stroke-linejoin="round"/>
<path d="M45.2,364.6 L45.4,364.4 L45.6,364.0 L45.8,363.5 L46.0,362.8 L46.2,362.0 L46.4,361.0 L46.6,359.7 L46.8,358.2 L47.0,356.5 L47.2,354.5 L47.4,352.3 L47.6,350.0 L47.8,347.8 L48.0,345.8 L48.2,344.7 L48.4,345.8 L48.6,347.8 L48.8,350.0 L49.0,352.3 L49.2,354.5 L49.4,356.5 L49.6,358.2 L49.8,359.7 L50.0,361.0 L50.2,362.0 L50.4,362.8 L50.6,363.5 L50.8,364.0 L51.0,364.4 L51.2,364.6" fill="none" stroke="#111" stroke-width="1.1" stroke-dasharray="1.1,1.9"/>
<line x1="43.22" y1="365.40" x2="66.22" y2="365.40" stroke="#c8c8c8" stroke-width="0.6"/>
<rect x="68.29" y="342.15" width="22.50" height="23.25" fill="none" stroke="#e0e0e0" stroke-width="0.6"/>
<path d="M68.0,365.4 L68.0,365.0 L68.4,364.9 L68.8,364.9 L69.2,364.8 L69.6,364.6 L70.0,364.4 L70.4,364.1 L70.8,363.4 L71.2,362.3 L71.6,360.4 L72.0,357.6 L72.4,353.8 L72.8,349.3 L73.2,345.0 L73.6,343.8 L74.0,346.7 L74.4,351.1 L74.8,355.1 L75.2,358.2 L75.6,360.3 L76.0,361.5 L76.4,362.2 L76.8,362.5 L77.2,362.6 L77.6,362.6 L78.0,362.5 L78.4,362.4 L78.8,362.3 L79.2,362.3 L79.6,362.2 L80.0,362.2 L80.4,362.2 L80.8,362.3 L81.2,362.3 L81.6,362.4 L82.0,362.5 L82.4,362.6 L82.8,362.8 L83.2,362.9 L83.6,363.0 L84.0,363.1 L84.4,363.3 L84.8,363.4 L85.2,363.5 L85.6,363.6 L86.0,363.8 L86.4,363.9 L86.8,364.0 L87.2,364.1 L87.6,364.2 L88.0,364.3 L88.4,364.4 L88.8,364.5 L89.2,364.5 L89.6,364.6 L90.0,364.7 L90.4,364.8 L90.8,364.8 L90.8,365.4 Z" fill="#d2464e" stroke="#262626" stroke-width="1.05" stroke-linejoin="round"/>
<path d="M71.0,364.6 L71.2,364.4 L71.4,364.0 L71.6,363.5 L71.8,362.8 L72.0,362.0 L72.2,361.0 L72.4,359.7 L72.6,358.2 L72.8,356.5 L73.0,354.5 L73.2,352.3 L73.4,350.0 L73.6,347.8 L73.8,345.8 L74.0,344.7 L74.2,345.8 L74.4,347.8 L74.6,350.0 L74.8,352.3 L75.0,354.5 L75.2,356.5 L75.4,358.2 L75.6,359.7 L75.8,361.0 L76.0,362.0 L76.2,362.8 L76.4,363.5 L76.6,364.0 L76.8,364.4 L77.0,364.6" fill="none" stroke="#111" stroke-width="1.1" stroke-dasharray="1.1,1.9"/>
<line x1="68.04" y1="365.40" x2="91.04" y2="365.40" stroke="#c8c8c8" stroke-width="0.6"/>
<rect x="93.11" y="342.15" width="22.50" height="23.25" fill="none" stroke="#e0e0e0" stroke-width="0.6"/>
<path d="M100.5,365.4 L100.5,365.0 L100.9,364.9 L101.3,364.6 L101.7,364.3 L102.1,363.9 L102.5,363.4 L102.9,362.7 L103.3,361.9 L103.7,360.8 L104.1,359.6 L104.5,358.1 L104.9,356.4 L105.3,354.5 L105.7,352.5 L106.1,350.5 L106.5,348.6 L106.9,347.0 L107.3,345.9 L107.7,346.4 L108.1,347.7 L108.5,349.5 L108.9,351.5 L109.3,353.5 L109.7,355.5 L110.1,357.3 L110.5,358.9 L110.9,360.2 L111.3,361.4 L111.7,362.3 L112.1,363.1 L112.5,363.7 L112.9,364.1 L113.3,364.5 L113.7,364.7 L114.1,364.9 L114.5,365.1 L114.5,365.4 Z" fill="#c3c7ea" stroke="#262626" stroke-width="1.05" stroke-linejoin="round"/>
<path d="M95.7,364.6 L95.9,364.4 L96.1,364.0 L96.3,363.5 L96.5,362.8 L96.7,362.0 L96.9,361.0 L97.1,359.7 L97.3,358.2 L97.5,356.5 L97.7,354.5 L97.9,352.3 L98.1,350.0 L98.3,347.8 L98.5,345.8 L98.7,344.7 L98.9,345.8 L99.1,347.8 L99.3,350.0 L99.5,352.3 L99.7,354.5 L99.9,356.5 L100.1,358.2 L100.3,359.7 L100.5,361.0 L100.7,362.0 L100.9,362.8 L101.1,363.5 L101.3,364.0 L101.5,364.4 L101.7,364.6" fill="none" stroke="#111" stroke-width="1.1" stroke-dasharray="1.1,1.9"/>
<line x1="92.86" y1="365.40" x2="115.86" y2="365.40" stroke="#c8c8c8" stroke-width="0.6"/>
<rect x="117.93" y="342.15" width="22.50" height="23.25" fill="none" stroke="#e0e0e0" stroke-width="0.6"/>
<path d="M120.1,365.4 L120.1,365.1 L120.5,364.8 L120.9,364.4 L121.3,363.7 L121.7,362.6 L122.1,361.0 L122.5,358.8 L122.9,356.0 L123.3,352.7 L123.7,349.3 L124.1,346.6 L124.5,346.5 L124.9,347.9 L125.3,349.5 L125.7,350.6 L126.1,351.0 L126.5,350.8 L126.9,350.2 L127.3,349.7 L127.7,349.8 L128.1,349.7 L128.5,349.3 L128.9,348.5 L129.3,347.4 L129.7,346.1 L130.1,345.0 L130.5,345.2 L130.9,347.3 L131.3,350.1 L131.7,353.0 L132.1,355.7 L132.5,358.1 L132.9,360.0 L133.3,361.6 L133.7,362.8 L134.1,363.6 L134.5,364.2 L134.9,364.7 L135.3,364.9 L135.7,365.1 L135.7,365.4 Z" fill="#f3d4d4" stroke="#262626" stroke-width="1.05" stroke-linejoin="round"/>
<path d="M119.8,364.6 L120.0,364.4 L120.2,364.0 L120.4,363.5 L120.6,362.8 L120.8,362.0 L121.0,361.0 L121.2,359.7 L121.4,358.2 L121.6,356.5 L121.8,354.5 L122.0,352.3 L122.2,350.0 L122.4,347.8 L122.6,345.8 L122.8,344.7 L123.0,345.8 L123.2,347.8 L123.4,350.0 L123.6,352.3 L123.8,354.5 L124.0,356.5 L124.2,358.2 L124.4,359.7 L124.6,361.0 L124.8,362.0 L125.0,362.8 L125.2,363.5 L125.4,364.0 L125.6,364.4 L125.8,364.6" fill="none" stroke="#111" stroke-width="1.1" stroke-dasharray="1.1,1.9"/>
<line x1="117.68" y1="365.40" x2="140.68" y2="365.40" stroke="#c8c8c8" stroke-width="0.6"/>
<rect x="142.75" y="342.15" width="22.50" height="23.25" fill="none" stroke="#e0e0e0" stroke-width="0.6"/>
<path d="M156.9,365.4 L156.9,365.1 L157.3,364.6 L157.7,363.7 L158.1,362.2 L158.5,359.6 L158.9,356.0 L159.3,351.8 L159.7,348.5 L160.1,349.9 L160.5,353.9 L160.9,357.9 L161.3,361.0 L161.7,363.1 L162.1,364.3 L162.5,364.9 L162.5,365.4 Z" fill="#4757a6" stroke="#262626" stroke-width="1.05" stroke-linejoin="round"/>
<path d="M146.0,364.6 L146.2,364.4 L146.4,364.0 L146.6,363.5 L146.8,362.8 L147.0,362.0 L147.2,361.0 L147.4,359.7 L147.6,358.2 L147.8,356.5 L148.0,354.5 L148.2,352.3 L148.4,350.0 L148.6,347.8 L148.8,345.8 L149.0,344.7 L149.2,345.8 L149.4,347.8 L149.6,350.0 L149.8,352.3 L150.0,354.5 L150.2,356.5 L150.4,358.2 L150.6,359.7 L150.8,361.0 L151.0,362.0 L151.2,362.8 L151.4,363.5 L151.6,364.0 L151.8,364.4 L152.0,364.6" fill="none" stroke="#111" stroke-width="1.1" stroke-dasharray="1.1,1.9"/>
<line x1="142.50" y1="365.40" x2="165.50" y2="365.40" stroke="#c8c8c8" stroke-width="0.6"/>
<rect x="167.57" y="342.15" width="22.50" height="23.25" fill="none" stroke="#e0e0e0" stroke-width="0.6"/>
<path d="M168.5,365.4 L168.5,365.0 L168.9,364.7 L169.3,364.2 L169.7,363.3 L170.1,362.0 L170.5,359.9 L170.9,357.2 L171.3,353.8 L171.7,350.0 L172.1,346.8 L172.5,346.2 L172.9,348.4 L173.3,351.0 L173.7,353.2 L174.1,354.8 L174.5,355.7 L174.9,355.9 L175.3,355.7 L175.7,355.3 L176.1,354.9 L176.5,355.1 L176.9,355.7 L177.3,356.6 L177.7,357.6 L178.1,358.6 L178.5,359.6 L178.9,360.6 L179.3,361.4 L179.7,362.2 L180.1,362.8 L180.5,363.4 L180.9,363.8 L181.3,364.2 L181.7,364.5 L182.1,364.7 L182.5,364.9 L182.9,365.0 L182.9,365.4 Z" fill="#f3d4d4" stroke="#262626" stroke-width="1.05" stroke-linejoin="round"/>
<path d="M169.2,364.6 L169.4,364.4 L169.6,364.0 L169.8,363.5 L170.0,362.8 L170.2,362.0 L170.4,361.0 L170.6,359.7 L170.8,358.2 L171.0,356.5 L171.2,354.5 L171.4,352.3 L171.6,350.0 L171.8,347.8 L172.0,345.8 L172.2,344.7 L172.4,345.8 L172.6,347.8 L172.8,350.0 L173.0,352.3 L173.2,354.5 L173.4,356.5 L173.6,358.2 L173.8,359.7 L174.0,361.0 L174.2,362.0 L174.4,362.8 L174.6,363.5 L174.8,364.0 L175.0,364.4 L175.2,364.6" fill="none" stroke="#111" stroke-width="1.1" stroke-dasharray="1.1,1.9"/>
<line x1="167.32" y1="365.40" x2="190.32" y2="365.40" stroke="#c8c8c8" stroke-width="0.6"/>
<rect x="192.39" y="342.15" width="22.50" height="23.25" fill="none" stroke="#e0e0e0" stroke-width="0.6"/>
<path d="M201.3,365.4 L201.3,365.0 L201.7,364.8 L202.1,364.5 L202.5,364.1 L202.9,363.6 L203.3,362.8 L203.7,361.9 L204.1,360.6 L204.5,359.0 L204.9,357.2 L205.3,355.1 L205.7,352.8 L206.1,350.5 L206.5,348.4 L206.9,346.9 L207.3,346.9 L207.7,348.4 L208.1,350.5 L208.5,352.8 L208.9,355.1 L209.3,357.2 L209.7,359.0 L210.1,360.6 L210.5,361.9 L210.9,362.8 L211.3,363.6 L211.7,364.1 L212.1,364.5 L212.5,364.8 L212.9,365.0 L212.9,365.4 Z" fill="#98a0d6" stroke="#262626" stroke-width="1.05" stroke-linejoin="round"/>
<path d="M195.0,364.6 L195.2,364.4 L195.4,364.0 L195.6,363.5 L195.8,362.8 L196.0,362.0 L196.2,361.0 L196.4,359.7 L196.6,358.2 L196.8,356.5 L197.0,354.5 L197.2,352.3 L197.4,350.0 L197.6,347.8 L197.8,345.8 L198.0,344.7 L198.2,345.8 L198.4,347.8 L198.6,350.0 L198.8,352.3 L199.0,354.5 L199.2,356.5 L199.4,358.2 L199.6,359.7 L199.8,361.0 L200.0,362.0 L200.2,362.8 L200.4,363.5 L200.6,364.0 L200.8,364.4 L201.0,364.6" fill="none" stroke="#111" stroke-width="1.1" stroke-dasharray="1.1,1.9"/>
<line x1="192.14" y1="365.40" x2="215.14" y2="365.40" stroke="#c8c8c8" stroke-width="0.6"/>
<rect x="217.21" y="342.15" width="22.50" height="23.25" fill="none" stroke="#e0e0e0" stroke-width="0.6"/>
<path d="M218.2,365.4 L218.2,365.1 L218.6,365.0 L219.0,364.8 L219.4,364.6 L219.8,364.3 L220.2,363.9 L220.6,363.5 L221.0,362.9 L221.4,362.2 L221.8,361.4 L222.2,360.4 L222.6,359.3 L223.0,358.0 L223.4,356.6 L223.8,355.2 L224.2,353.6 L224.6,352.1 L225.0,350.8 L225.4,350.0 L225.8,349.4 L226.2,348.8 L226.6,348.1 L227.0,347.3 L227.4,346.3 L227.8,345.3 L228.2,344.4 L228.6,343.8 L229.0,343.8 L229.4,344.8 L229.8,346.6 L230.2,348.7 L230.6,350.9 L231.0,353.0 L231.4,355.0 L231.8,356.8 L232.2,358.4 L232.6,359.8 L233.0,361.0 L233.4,362.0 L233.8,362.8 L234.2,363.4 L234.6,363.9 L235.0,364.3 L235.4,364.6 L235.8,364.8 L236.2,365.0 L236.6,365.1 L236.6,365.4 Z" fill="#f3d4d4" stroke="#262626" stroke-width="1.05" stroke-linejoin="round"/>
<path d="M219.7,364.6 L219.9,364.4 L220.1,364.0 L220.3,363.5 L220.5,362.8 L220.7,362.0 L220.9,361.0 L221.1,359.7 L221.3,358.2 L221.5,356.5 L221.7,354.5 L221.9,352.3 L222.1,350.0 L222.3,347.8 L222.5,345.8 L222.7,344.7 L222.9,345.8 L223.1,347.8 L223.3,350.0 L223.5,352.3 L223.7,354.5 L223.9,356.5 L224.1,358.2 L224.3,359.7 L224.5,361.0 L224.7,362.0 L224.9,362.8 L225.1,363.5 L225.3,364.0 L225.5,364.4 L225.7,364.6" fill="none" stroke="#111" stroke-width="1.1" stroke-dasharray="1.1,1.9"/>
<line x1="216.96" y1="365.40" x2="239.96" y2="365.40" stroke="#c8c8c8" stroke-width="0.6"/>
<rect x="242.03" y="342.15" width="22.50" height="23.25" fill="none" stroke="#e0e0e0" stroke-width="0.6"/>
<path d="M244.2,365.4 L244.2,365.0 L244.6,364.7 L245.0,364.1 L245.4,363.1 L245.8,361.7 L246.2,359.8 L246.6,357.8 L247.0,356.3 L247.4,357.0 L247.8,358.8 L248.2,360.8 L248.6,362.4 L249.0,362.7 L249.4,362.7 L249.8,362.7 L250.2,362.7 L250.6,362.7 L251.0,362.7 L251.4,362.7 L251.8,362.7 L252.2,362.7 L252.6,362.7 L253.0,362.7 L253.4,362.7 L253.8,362.3 L254.2,361.1 L254.6,359.5 L255.0,357.6 L255.4,355.4 L255.8,352.9 L256.2,350.3 L256.6,348.0 L257.0,346.2 L257.4,346.2 L257.8,348.0 L258.2,350.3 L258.6,352.9 L259.0,355.4 L259.4,357.6 L259.8,359.5 L260.2,361.1 L260.6,362.3 L261.0,363.3 L261.4,363.9 L261.8,364.4 L262.2,364.8 L262.6,365.0 L262.6,365.4 Z" fill="#d2464e" stroke="#262626" stroke-width="1.05" stroke-linejoin="round"/>
<path d="M243.8,364.6 L244.0,364.4 L244.2,364.0 L244.4,363.5 L244.6,362.8 L244.8,362.0 L245.0,361.0 L245.2,359.7 L245.4,358.2 L245.6,356.5 L245.8,354.5 L246.0,352.3 L246.2,350.0 L246.4,347.8 L246.6,345.8 L246.8,344.7 L247.0,345.8 L247.2,347.8 L247.4,350.0 L247.6,352.3 L247.8,354.5 L248.0,356.5 L248.2,358.2 L248.4,359.7 L248.6,361.0 L248.8,362.0 L249.0,362.8 L249.2,363.5 L249.4,364.0 L249.6,364.4 L249.8,364.6" fill="none" stroke="#111" stroke-width="1.1" stroke-dasharray="1.1,1.9"/>
<line x1="241.78" y1="365.40" x2="264.78" y2="365.40" stroke="#c8c8c8" stroke-width="0.6"/>
<rect x="266.85" y="342.15" width="22.50" height="23.25" fill="none" stroke="#e0e0e0" stroke-width="0.6"/>
<path d="M270.6,365.4 L270.6,365.1 L271.0,365.0 L271.4,364.8 L271.8,364.6 L272.2,364.4 L272.6,364.1 L273.0,363.7 L273.4,363.2 L273.8,362.5 L274.2,361.8 L274.6,360.9 L275.0,359.8 L275.4,358.6 L275.8,357.2 L276.2,355.6 L276.6,354.0 L277.0,352.2 L277.4,350.5 L277.8,348.8 L278.2,347.4 L278.6,346.2 L279.0,345.9 L279.4,346.7 L279.8,348.1 L280.2,349.6 L280.6,351.4 L281.0,353.1 L281.4,354.8 L281.8,356.4 L282.2,357.9 L282.6,359.2 L283.0,360.4 L283.4,361.3 L283.8,362.2 L284.2,362.9 L284.6,363.4 L285.0,363.9 L285.4,364.2 L285.8,364.5 L286.2,364.8 L286.6,364.9 L287.0,365.1 L287.0,365.4 Z" fill="#c3c7ea" stroke="#262626" stroke-width="1.05" stroke-linejoin="round"/>
<path d="M269.7,364.6 L269.9,364.4 L270.1,364.0 L270.3,363.5 L270.5,362.8 L270.7,362.0 L270.9,361.0 L271.1,359.7 L271.3,358.2 L271.5,356.5 L271.7,354.5 L271.9,352.3 L272.1,350.0 L272.3,347.8 L272.5,345.8 L272.7,344.7 L272.9,345.8 L273.1,347.8 L273.3,350.0 L273.5,352.3 L273.7,354.5 L273.9,356.5 L274.1,358.2 L274.3,359.7 L274.5,361.0 L274.7,362.0 L274.9,362.8 L275.1,363.5 L275.3,364.0 L275.5,364.4 L275.7,364.6" fill="none" stroke="#111" stroke-width="1.1" stroke-dasharray="1.1,1.9"/>
<line x1="266.60" y1="365.40" x2="289.60" y2="365.40" stroke="#c8c8c8" stroke-width="0.6"/>
<rect x="291.67" y="342.15" width="22.50" height="23.25" fill="none" stroke="#e0e0e0" stroke-width="0.6"/>
<path d="M296.2,365.4 L296.2,365.1 L296.6,364.9 L297.0,364.8 L297.4,364.6 L297.8,364.4 L298.2,364.2 L298.6,363.9 L299.0,363.6 L299.4,363.3 L299.8,362.9 L300.2,362.5 L300.6,362.2 L301.0,361.8 L301.4,361.5 L301.8,361.4 L302.2,361.3 L302.6,361.0 L303.0,360.5 L303.4,359.7 L303.8,358.5 L304.2,357.0 L304.6,354.9 L305.0,352.6 L305.4,350.0 L305.8,347.6 L306.2,345.8 L306.6,345.9 L307.0,348.0 L307.4,350.6 L307.8,353.4 L308.2,356.0 L308.6,358.4 L309.0,360.3 L309.4,361.8 L309.8,362.9 L310.2,363.7 L310.6,364.3 L311.0,364.7 L311.4,365.0 L311.4,365.4 Z" fill="#6b74bc" stroke="#262626" stroke-width="1.05" stroke-linejoin="round"/>
<path d="M293.3,364.6 L293.5,364.4 L293.7,364.0 L293.9,363.5 L294.1,362.8 L294.3,362.0 L294.5,361.0 L294.7,359.7 L294.9,358.2 L295.1,356.5 L295.3,354.5 L295.5,352.3 L295.7,350.0 L295.9,347.8 L296.1,345.8 L296.3,344.7 L296.5,345.8 L296.7,347.8 L296.9,350.0 L297.1,352.3 L297.3,354.5 L297.5,356.5 L297.7,358.2 L297.9,359.7 L298.1,361.0 L298.3,362.0 L298.5,362.8 L298.7,363.5 L298.9,364.0 L299.1,364.4 L299.3,364.6" fill="none" stroke="#111" stroke-width="1.1" stroke-dasharray="1.1,1.9"/>
<line x1="291.42" y1="365.40" x2="314.42" y2="365.40" stroke="#c8c8c8" stroke-width="0.6"/>
<rect x="316.49" y="342.15" width="22.50" height="23.25" fill="none" stroke="#e0e0e0" stroke-width="0.6"/>
<path d="M320.6,365.4 L320.6,365.1 L321.0,365.0 L321.4,365.0 L321.8,364.9 L322.2,364.8 L322.6,364.7 L323.0,364.6 L323.4,364.5 L323.8,364.4 L324.2,364.3 L324.6,364.2 L325.0,364.0 L325.4,363.9 L325.8,363.8 L326.2,363.6 L326.6,363.5 L327.0,363.4 L327.4,363.2 L327.8,363.1 L328.2,362.9 L328.6,362.5 L329.0,362.0 L329.4,361.3 L329.8,360.3 L330.2,359.1 L330.6,357.8 L331.0,356.5 L331.4,355.4 L331.8,355.1 L332.2,356.0 L332.6,357.3 L333.0,358.4 L333.4,359.2 L333.8,359.3 L334.2,358.4 L334.6,356.2 L335.0,353.0 L335.4,349.0 L335.8,345.5 L336.2,345.7 L336.6,349.6 L337.0,354.0 L337.4,358.0 L337.8,360.9 L338.2,362.8 L338.6,364.0 L339.0,364.7 L339.0,365.4 Z" fill="#ffffff" stroke="#262626" stroke-width="1.05" stroke-linejoin="round"/>
<path d="M318.5,364.6 L318.7,364.4 L318.9,364.0 L319.1,363.5 L319.3,362.8 L319.5,362.0 L319.7,361.0 L319.9,359.7 L320.1,358.2 L320.3,356.5 L320.5,354.5 L320.7,352.3 L320.9,350.0 L321.1,347.8 L321.3,345.8 L321.5,344.7 L321.7,345.8 L321.9,347.8 L322.1,350.0 L322.3,352.3 L322.5,354.5 L322.7,356.5 L322.9,358.2 L323.1,359.7 L323.3,361.0 L323.5,362.0 L323.7,362.8 L323.9,363.5 L324.1,364.0 L324.3,364.4 L324.5,364.6" fill="none" stroke="#111" stroke-width="1.1" stroke-dasharray="1.1,1.9"/>
<line x1="316.24" y1="365.40" x2="339.24" y2="365.40" stroke="#c8c8c8" stroke-width="0.6"/>
<rect x="341.31" y="342.15" width="22.50" height="23.25" fill="none" stroke="#e0e0e0" stroke-width="0.6"/>
<path d="M347.9,365.4 L347.9,365.1 L348.3,365.0 L348.7,364.9 L349.1,364.7 L349.5,364.5 L349.9,364.3 L350.3,364.0 L350.7,363.6 L351.1,363.1 L351.5,362.6 L351.9,362.0 L352.3,361.2 L352.7,360.4 L353.1,359.4 L353.5,358.4 L353.9,357.2 L354.3,355.9 L354.7,354.6 L355.1,353.2 L355.5,351.9 L355.9,350.6 L356.3,349.5 L356.7,348.6 L357.1,348.2 L357.5,348.6 L357.9,349.5 L358.3,350.6 L358.7,351.9 L359.1,353.2 L359.5,354.6 L359.9,355.9 L360.3,357.2 L360.7,358.4 L361.1,359.4 L361.5,360.4 L361.9,361.2 L362.3,362.0 L362.7,362.6 L363.1,363.1 L363.5,363.6 L363.9,364.0 L363.9,365.4 Z" fill="#c3c7ea" stroke="#262626" stroke-width="1.05" stroke-linejoin="round"/>
<path d="M343.7,364.6 L343.9,364.4 L344.1,364.0 L344.3,363.5 L344.5,362.8 L344.7,362.0 L344.9,361.0 L345.1,359.7 L345.3,358.2 L345.5,356.5 L345.7,354.5 L345.9,352.3 L346.1,350.0 L346.3,347.8 L346.5,345.8 L346.7,344.7 L346.9,345.8 L347.1,347.8 L347.3,350.0 L347.5,352.3 L347.7,354.5 L347.9,356.5 L348.1,358.2 L348.3,359.7 L348.5,361.0 L348.7,362.0 L348.9,362.8 L349.1,363.5 L349.3,364.0 L349.5,364.4 L349.7,364.6" fill="none" stroke="#111" stroke-width="1.1" stroke-dasharray="1.1,1.9"/>
<line x1="341.06" y1="365.40" x2="364.06" y2="365.40" stroke="#c8c8c8" stroke-width="0.6"/>
<rect x="366.13" y="342.15" width="22.50" height="23.25" fill="none" stroke="#e0e0e0" stroke-width="0.6"/>
<path d="M367.9,365.4 L367.9,365.1 L368.3,365.1 L368.7,365.0 L369.1,365.0 L369.5,365.0 L369.9,364.9 L370.3,364.9 L370.7,364.8 L371.1,364.8 L371.5,364.7 L371.9,364.7 L372.3,364.6 L372.7,364.6 L373.1,364.5 L373.5,364.5 L373.9,364.4 L374.3,364.4 L374.7,364.3 L375.1,364.3 L375.5,364.2 L375.9,364.2 L376.3,364.1 L376.7,364.1 L377.1,364.1 L377.5,364.0 L377.9,364.0 L378.3,364.0 L378.7,364.0 L379.1,364.0 L379.5,364.0 L379.9,364.0 L380.3,364.0 L380.7,363.8 L381.1,363.6 L381.5,363.3 L381.9,362.8 L382.3,362.0 L382.7,360.9 L383.1,359.5 L383.5,357.7 L383.9,355.4 L384.3,352.9 L384.7,350.2 L385.1,347.7 L385.5,345.8 L385.9,345.8 L386.3,347.8 L386.7,350.4 L387.1,353.2 L387.5,355.8 L387.9,358.1 L388.3,360.0 L388.7,361.6 L388.7,365.4 Z" fill="#d2464e" stroke="#262626" stroke-width="1.05" stroke-linejoin="round"/>
<path d="M367.8,364.6 L368.0,364.4 L368.2,364.0 L368.4,363.5 L368.6,362.8 L368.8,362.0 L369.0,361.0 L369.2,359.7 L369.4,358.2 L369.6,356.5 L369.8,354.5 L370.0,352.3 L370.2,350.0 L370.4,347.8 L370.6,345.8 L370.8,344.7 L371.0,345.8 L371.2,347.8 L371.4,350.0 L371.6,352.3 L371.8,354.5 L372.0,356.5 L372.2,358.2 L372.4,359.7 L372.6,361.0 L372.8,362.0 L373.0,362.8 L373.2,363.5 L373.4,364.0 L373.6,364.4 L373.8,364.6" fill="none" stroke="#111" stroke-width="1.1" stroke-dasharray="1.1,1.9"/>
<line x1="365.88" y1="365.40" x2="388.88" y2="365.40" stroke="#c8c8c8" stroke-width="0.6"/>
<rect x="390.95" y="342.15" width="22.50" height="23.25" fill="none" stroke="#e0e0e0" stroke-width="0.6"/>
<path d="M391.9,365.4 L391.9,365.1 L392.3,365.0 L392.7,364.9 L393.1,364.8 L393.5,364.6 L393.9,364.4 L394.3,364.1 L394.7,363.6 L395.1,362.9 L395.5,361.9 L395.9,360.6 L396.3,358.9 L396.7,357.0 L397.1,355.3 L397.5,354.5 L397.9,355.3 L398.3,356.5 L398.7,357.7 L399.1,358.6 L399.5,359.2 L399.9,359.5 L400.3,359.6 L400.7,359.6 L401.1,359.6 L401.5,359.5 L401.9,359.2 L402.3,358.9 L402.7,358.3 L403.1,357.4 L403.5,356.2 L403.9,354.7 L404.3,352.9 L404.7,350.8 L405.1,348.6 L405.5,346.5 L405.9,344.7 L406.3,343.9 L406.7,345.1 L407.1,347.3 L407.5,349.8 L407.9,352.5 L408.3,354.9 L408.7,357.2 L409.1,359.1 L409.5,360.6 L409.9,361.9 L410.3,362.9 L410.7,363.6 L411.1,364.2 L411.5,364.5 L411.9,364.8 L412.3,365.0 L412.3,365.4 Z" fill="#d2464e" stroke="#262626" stroke-width="1.05" stroke-linejoin="round"/>
<path d="M393.2,364.6 L393.4,364.4 L393.6,364.0 L393.8,363.5 L394.0,362.8 L394.2,362.0 L394.4,361.0 L394.6,359.7 L394.8,358.2 L395.0,356.5 L395.2,354.5 L395.4,352.3 L395.6,350.0 L395.8,347.8 L396.0,345.8 L396.2,344.7 L396.4,345.8 L396.6,347.8 L396.8,350.0 L397.0,352.3 L397.2,354.5 L397.4,356.5 L397.6,358.2 L397.8,359.7 L398.0,361.0 L398.2,362.0 L398.4,362.8 L398.6,363.5 L398.8,364.0 L399.0,364.4 L399.2,364.6" fill="none" stroke="#111" stroke-width="1.1" stroke-dasharray="1.1,1.9"/>
<line x1="390.70" y1="365.40" x2="413.70" y2="365.40" stroke="#c8c8c8" stroke-width="0.6"/>
<rect x="415.77" y="342.15" width="22.50" height="23.25" fill="none" stroke="#e0e0e0" stroke-width="0.6"/>
<path d="M415.5,365.4 L415.5,365.1 L415.9,365.0 L416.3,364.9 L416.7,364.7 L417.1,364.5 L417.5,364.3 L417.9,363.9 L418.3,363.3 L418.7,362.3 L419.1,360.9 L419.5,358.8 L419.9,356.0 L420.3,352.3 L420.7,348.0 L421.1,343.9 L421.5,343.8 L421.9,343.8 L422.3,345.7 L422.7,348.8 L423.1,351.3 L423.5,353.1 L423.9,354.2 L424.3,354.7 L424.7,354.9 L425.1,354.9 L425.5,354.9 L425.9,355.2 L426.3,355.6 L426.7,356.2 L427.1,356.8 L427.5,357.4 L427.9,358.1 L428.3,358.8 L428.7,359.5 L429.1,360.1 L429.5,360.7 L429.9,361.3 L430.3,361.8 L430.7,362.3 L431.1,362.7 L431.5,363.1 L431.9,363.5 L432.3,363.8 L432.7,364.0 L433.1,364.3 L433.5,364.5 L433.9,364.6 L434.3,364.8 L434.7,364.9 L435.1,365.0 L435.5,365.1 L435.5,365.4 Z" fill="#ffffff" stroke="#262626" stroke-width="1.05" stroke-linejoin="round"/>
<path d="M418.0,364.6 L418.2,364.4 L418.4,364.0 L418.6,363.5 L418.8,362.8 L419.0,362.0 L419.2,361.0 L419.4,359.7 L419.6,358.2 L419.8,356.5 L420.0,354.5 L420.2,352.3 L420.4,350.0 L420.6,347.8 L420.8,345.8 L421.0,344.7 L421.2,345.8 L421.4,347.8 L421.6,350.0 L421.8,352.3 L422.0,354.5 L422.2,356.5 L422.4,358.2 L422.6,359.7 L422.8,361.0 L423.0,362.0 L423.2,362.8 L423.4,363.5 L423.6,364.0 L423.8,364.4 L424.0,364.6" fill="none" stroke="#111" stroke-width="1.1" stroke-dasharray="1.1,1.9"/>
<line x1="415.52" y1="365.40" x2="438.52" y2="365.40" stroke="#c8c8c8" stroke-width="0.6"/>
<rect x="440.59" y="342.15" width="22.50" height="23.25" fill="none" stroke="#e0e0e0" stroke-width="0.6"/>
<path d="M442.7,365.4 L442.7,365.1 L443.1,365.0 L443.5,364.8 L443.9,364.6 L444.3,364.3 L444.7,363.9 L445.1,363.4 L445.5,362.8 L445.9,362.0 L446.3,361.0 L446.7,359.9 L447.1,358.5 L447.5,356.9 L447.9,355.1 L448.3,353.2 L448.7,351.1 L449.1,349.0 L449.5,347.1 L449.9,345.4 L450.3,344.3 L450.7,344.7 L451.1,345.6 L451.5,346.8 L451.9,348.1 L452.3,349.4 L452.7,350.5 L453.1,351.6 L453.5,352.5 L453.9,353.3 L454.3,354.2 L454.7,355.4 L455.1,356.7 L455.5,357.9 L455.9,359.1 L456.3,360.1 L456.7,361.1 L457.1,361.9 L457.5,362.6 L457.9,363.2 L458.3,363.7 L458.7,364.1 L459.1,364.4 L459.5,364.7 L459.9,364.8 L460.3,365.0 L460.7,365.1 L460.7,365.4 Z" fill="#ffffff" stroke="#262626" stroke-width="1.05" stroke-linejoin="round"/>
<path d="M443.0,364.6 L443.2,364.4 L443.4,364.0 L443.6,363.5 L443.8,362.8 L444.0,362.0 L444.2,361.0 L444.4,359.7 L444.6,358.2 L444.8,356.5 L445.0,354.5 L445.2,352.3 L445.4,350.0 L445.6,347.8 L445.8,345.8 L446.0,344.7 L446.2,345.8 L446.4,347.8 L446.6,350.0 L446.8,352.3 L447.0,354.5 L447.2,356.5 L447.4,358.2 L447.6,359.7 L447.8,361.0 L448.0,362.0 L448.2,362.8 L448.4,363.5 L448.6,364.0 L448.8,364.4 L449.0,364.6" fill="none" stroke="#111" stroke-width="1.1" stroke-dasharray="1.1,1.9"/>
<line x1="440.34" y1="365.40" x2="463.34" y2="365.40" stroke="#c8c8c8" stroke-width="0.6"/>
<rect x="465.41" y="342.15" width="22.50" height="23.25" fill="none" stroke="#e0e0e0" stroke-width="0.6"/>
<path d="M465.6,365.4 L465.6,365.1 L466.0,365.0 L466.4,365.0 L466.8,364.9 L467.2,364.8 L467.6,364.6 L468.0,364.2 L468.4,363.7 L468.8,362.8 L469.2,361.5 L469.6,359.4 L470.0,356.6 L470.4,353.1 L470.8,349.1 L471.2,345.5 L471.6,344.1 L472.0,346.7 L472.4,350.2 L472.8,353.7 L473.2,356.5 L473.6,358.6 L474.0,359.9 L474.4,360.7 L474.8,361.0 L475.2,361.2 L475.6,361.1 L476.0,361.0 L476.4,360.9 L476.8,360.8 L477.2,360.8 L477.6,360.9 L478.0,361.0 L478.4,361.1 L478.8,361.3 L479.2,361.5 L479.6,361.7 L480.0,361.9 L480.4,362.2 L480.8,362.4 L481.2,362.6 L481.6,362.8 L482.0,363.0 L482.4,363.3 L482.8,363.4 L483.2,363.6 L483.6,363.8 L484.0,364.0 L484.4,364.1 L484.8,364.3 L485.2,364.4 L485.6,364.5 L486.0,364.6 L486.4,364.7 L486.8,364.8 L487.2,364.9 L487.6,364.9 L488.0,365.0 L488.0,365.4 Z" fill="#d2464e" stroke="#262626" stroke-width="1.05" stroke-linejoin="round"/>
<path d="M467.7,364.6 L467.9,364.4 L468.1,364.0 L468.3,363.5 L468.5,362.8 L468.7,362.0 L468.9,361.0 L469.1,359.7 L469.3,358.2 L469.5,356.5 L469.7,354.5 L469.9,352.3 L470.1,350.0 L470.3,347.8 L470.5,345.8 L470.7,344.7 L470.9,345.8 L471.1,347.8 L471.3,350.0 L471.5,352.3 L471.7,354.5 L471.9,356.5 L472.1,358.2 L472.3,359.7 L472.5,361.0 L472.7,362.0 L472.9,362.8 L473.1,363.5 L473.3,364.0 L473.5,364.4 L473.7,364.6" fill="none" stroke="#111" stroke-width="1.1" stroke-dasharray="1.1,1.9"/>
<line x1="465.16" y1="365.40" x2="488.16" y2="365.40" stroke="#c8c8c8" stroke-width="0.6"/>
<rect x="490.23" y="342.15" width="22.50" height="23.25" fill="none" stroke="#e0e0e0" stroke-width="0.6"/>
<path d="M492.4,365.4 L492.4,365.0 L492.8,364.6 L493.2,364.0 L493.6,363.1 L494.0,361.6 L494.4,359.6 L494.8,357.1 L495.2,354.4 L495.6,351.9 L496.0,351.4 L496.4,352.8 L496.8,354.5 L497.2,355.8 L497.6,356.6 L498.0,356.8 L498.4,356.6 L498.8,356.3 L499.2,356.4 L499.6,356.9 L500.0,357.5 L500.4,357.9 L500.8,358.0 L501.2,357.7 L501.6,357.0 L502.0,355.9 L502.4,354.2 L502.8,352.2 L503.2,350.0 L503.6,347.8 L504.0,346.0 L504.4,345.0 L504.8,346.1 L505.2,348.2 L505.6,350.6 L506.0,353.1 L506.4,355.5 L506.8,357.6 L507.2,359.4 L507.6,361.0 L508.0,362.2 L508.4,363.1 L508.8,363.8 L509.2,364.3 L509.6,364.7 L510.0,364.9 L510.4,365.1 L510.4,365.4 Z" fill="#d2464e" stroke="#262626" stroke-width="1.05" stroke-linejoin="round"/>
<path d="M491.8,364.6 L492.0,364.4 L492.2,364.0 L492.4,363.5 L492.6,362.8 L492.8,362.0 L493.0,361.0 L493.2,359.7 L493.4,358.2 L493.6,356.5 L493.8,354.5 L494.0,352.3 L494.2,350.0 L494.4,347.8 L494.6,345.8 L494.8,344.7 L495.0,345.8 L495.2,347.8 L495.4,350.0 L495.6,352.3 L495.8,354.5 L496.0,356.5 L496.2,358.2 L496.4,359.7 L496.6,361.0 L496.8,362.0 L497.0,362.8 L497.2,363.5 L497.4,364.0 L497.6,364.4 L497.8,364.6" fill="none" stroke="#111" stroke-width="1.1" stroke-dasharray="1.1,1.9"/>
<line x1="489.98" y1="365.40" x2="512.98" y2="365.40" stroke="#c8c8c8" stroke-width="0.6"/>
<rect x="18.65" y="366.77" width="22.50" height="23.25" fill="none" stroke="#e0e0e0" stroke-width="0.6"/>
<path d="M21.2,390.0 L21.2,389.6 L21.6,389.4 L22.0,389.0 L22.4,388.5 L22.8,387.7 L23.2,386.7 L23.6,385.5 L24.0,384.0 L24.4,382.5 L24.8,381.2 L25.2,380.7 L25.6,380.7 L26.0,380.6 L26.4,380.2 L26.8,379.5 L27.2,378.5 L27.6,377.3 L28.0,376.2 L28.4,375.7 L28.8,375.1 L29.2,374.3 L29.6,373.3 L30.0,372.1 L30.4,370.8 L30.8,369.5 L31.2,368.7 L31.6,369.1 L32.0,370.8 L32.4,372.9 L32.8,375.2 L33.2,377.6 L33.6,379.7 L34.0,381.7 L34.4,383.5 L34.8,384.9 L35.2,386.1 L35.6,387.1 L36.0,387.9 L36.4,388.5 L36.8,388.9 L37.2,389.2 L37.6,389.5 L38.0,389.6 L38.0,390.0 Z" fill="#e8a2a2" stroke="#262626" stroke-width="1.05" stroke-linejoin="round"/>
<path d="M22.4,389.3 L22.6,389.0 L22.8,388.6 L23.0,388.1 L23.2,387.4 L23.4,386.6 L23.6,385.6 L23.8,384.3 L24.0,382.8 L24.2,381.1 L24.4,379.1 L24.6,376.9 L24.8,374.6 L25.0,372.4 L25.2,370.5 L25.4,369.3 L25.6,370.5 L25.8,372.4 L26.0,374.6 L26.2,376.9 L26.4,379.1 L26.6,381.1 L26.8,382.8 L27.0,384.3 L27.2,385.6 L27.4,386.6 L27.6,387.4 L27.8,388.1 L28.0,388.6 L28.2,389.0 L28.4,389.3" fill="none" stroke="#111" stroke-width="1.1" stroke-dasharray="1.1,1.9"/>
<line x1="18.40" y1="390.02" x2="41.40" y2="390.02" stroke="#c8c8c8" stroke-width="0.6"/>
<rect x="43.47" y="366.77" width="22.50" height="23.25" fill="none" stroke="#e0e0e0" stroke-width="0.6"/>
<path d="M45.6,390.0 L45.6,389.6 L46.0,389.4 L46.4,389.1 L46.8,388.5 L47.2,387.5 L47.6,385.8 L48.0,383.4 L48.4,379.9 L48.8,375.4 L49.2,370.5 L49.6,368.4 L50.0,368.4 L50.4,370.0 L50.8,373.1 L51.2,375.5 L51.6,376.9 L52.0,377.5 L52.4,377.5 L52.8,377.3 L53.2,377.1 L53.6,377.7 L54.0,378.5 L54.4,379.5 L54.8,380.6 L55.2,381.8 L55.6,382.9 L56.0,384.0 L56.4,384.9 L56.8,385.8 L57.2,386.6 L57.6,387.2 L58.0,387.8 L58.4,388.3 L58.8,388.7 L59.2,389.0 L59.6,389.2 L60.0,389.4 L60.4,389.6 L60.8,389.7 L60.8,390.0 Z" fill="#f3d4d4" stroke="#262626" stroke-width="1.05" stroke-linejoin="round"/>
<path d="M45.2,389.3 L45.4,389.0 L45.6,388.6 L45.8,388.1 L46.0,387.4 L46.2,386.6 L46.4,385.6 L46.6,384.3 L46.8,382.8 L47.0,381.1 L47.2,379.1 L47.4,376.9 L47.6,374.6 L47.8,372.4 L48.0,370.5 L48.2,369.3 L48.4,370.5 L48.6,372.4 L48.8,374.6 L49.0,376.9 L49.2,379.1 L49.4,381.1 L49.6,382.8 L49.8,384.3 L50.0,385.6 L50.2,386.6 L50.4,387.4 L50.6,388.1 L50.8,388.6 L51.0,389.0 L51.2,389.3" fill="none" stroke="#111" stroke-width="1.1" stroke-dasharray="1.1,1.9"/>
<line x1="43.22" y1="390.02" x2="66.22" y2="390.02" stroke="#c8c8c8" stroke-width="0.6"/>
<rect x="68.29" y="366.77" width="22.50" height="23.25" fill="none" stroke="#e0e0e0" stroke-width="0.6"/>
<path d="M72.0,390.0 L72.0,389.3 L72.4,388.3 L72.8,386.3 L73.2,382.8 L73.6,377.7 L74.0,372.2 L74.4,370.2 L74.8,374.9 L75.2,380.4 L75.6,384.8 L76.0,387.5 L76.4,388.9 L76.8,389.6 L76.8,390.0 Z" fill="#4757a6" stroke="#262626" stroke-width="1.05" stroke-linejoin="round"/>
<path d="M71.0,389.3 L71.2,389.0 L71.4,388.6 L71.6,388.1 L71.8,387.4 L72.0,386.6 L72.2,385.6 L72.4,384.3 L72.6,382.8 L72.8,381.1 L73.0,379.1 L73.2,376.9 L73.4,374.6 L73.6,372.4 L73.8,370.5 L74.0,369.3 L74.2,370.5 L74.4,372.4 L74.6,374.6 L74.8,376.9 L75.0,379.1 L75.2,381.1 L75.4,382.8 L75.6,384.3 L75.8,385.6 L76.0,386.6 L76.2,387.4 L76.4,388.1 L76.6,388.6 L76.8,389.0 L77.0,389.3" fill="none" stroke="#111" stroke-width="1.1" stroke-dasharray="1.1,1.9"/>
<line x1="68.04" y1="390.02" x2="91.04" y2="390.02" stroke="#c8c8c8" stroke-width="0.6"/>
<rect x="93.11" y="366.77" width="22.50" height="23.25" fill="none" stroke="#e0e0e0" stroke-width="0.6"/>
<path d="M96.1,390.0 L96.1,389.7 L96.5,389.7 L96.9,389.6 L97.3,389.5 L97.7,389.4 L98.1,389.2 L98.5,389.1 L98.9,388.9 L99.3,388.6 L99.7,388.4 L100.1,388.1 L100.5,387.8 L100.9,387.4 L101.3,387.0 L101.7,386.6 L102.1,386.1 L102.5,385.6 L102.9,385.1 L103.3,384.6 L103.7,384.0 L104.1,383.4 L104.5,382.9 L104.9,382.3 L105.3,381.8 L105.7,381.3 L106.1,380.9 L106.5,380.6 L106.9,380.3 L107.3,379.8 L107.7,379.1 L108.1,378.1 L108.5,376.8 L108.9,375.2 L109.3,373.4 L109.7,371.4 L110.1,369.4 L110.5,368.4 L110.9,368.4 L111.3,368.6 L111.7,370.9 L112.1,373.6 L112.5,376.4 L112.9,379.0 L113.3,381.3 L113.7,383.3 L114.1,384.9 L114.5,386.2 L114.9,387.3 L115.3,388.0 L115.7,388.6 L115.7,390.0 Z" fill="#e8a2a2" stroke="#262626" stroke-width="1.05" stroke-linejoin="round"/>
<path d="M95.7,389.3 L95.9,389.0 L96.1,388.6 L96.3,388.1 L96.5,387.4 L96.7,386.6 L96.9,385.6 L97.1,384.3 L97.3,382.8 L97.5,381.1 L97.7,379.1 L97.9,376.9 L98.1,374.6 L98.3,372.4 L98.5,370.5 L98.7,369.3 L98.9,370.5 L99.1,372.4 L99.3,374.6 L99.5,376.9 L99.7,379.1 L99.9,381.1 L100.1,382.8 L100.3,384.3 L100.5,385.6 L100.7,386.6 L100.9,387.4 L101.1,388.1 L101.3,388.6 L101.5,389.0 L101.7,389.3" fill="none" stroke="#111" stroke-width="1.1" stroke-dasharray="1.1,1.9"/>
<line x1="92.86" y1="390.02" x2="115.86" y2="390.02" stroke="#c8c8c8" stroke-width="0.6"/>
<rect x="117.93" y="366.77" width="22.50" height="23.25" fill="none" stroke="#e0e0e0" stroke-width="0.6"/>
<path d="M120.5,390.0 L120.5,389.6 L120.9,389.3 L121.3,388.8 L121.7,388.1 L122.1,387.3 L122.5,386.2 L122.9,385.3 L123.3,384.8 L123.7,385.1 L124.1,385.6 L124.5,385.9 L124.9,386.0 L125.3,385.7 L125.7,385.2 L126.1,384.5 L126.5,383.6 L126.9,382.9 L127.3,382.4 L127.7,382.6 L128.1,382.8 L128.5,382.8 L128.9,382.5 L129.3,381.8 L129.7,380.6 L130.1,378.8 L130.5,376.6 L130.9,374.1 L131.3,371.7 L131.7,369.8 L132.1,370.0 L132.5,372.1 L132.9,374.8 L133.3,377.7 L133.7,380.4 L134.1,382.8 L134.5,384.7 L134.9,386.3 L135.3,387.5 L135.7,388.3 L136.1,388.9 L136.5,389.3 L136.9,389.6 L136.9,390.0 Z" fill="#f3d4d4" stroke="#262626" stroke-width="1.05" stroke-linejoin="round"/>
<path d="M119.8,389.3 L120.0,389.0 L120.2,388.6 L120.4,388.1 L120.6,387.4 L120.8,386.6 L121.0,385.6 L121.2,384.3 L121.4,382.8 L121.6,381.1 L121.8,379.1 L122.0,376.9 L122.2,374.6 L122.4,372.4 L122.6,370.5 L122.8,369.3 L123.0,370.5 L123.2,372.4 L123.4,374.6 L123.6,376.9 L123.8,379.1 L124.0,381.1 L124.2,382.8 L124.4,384.3 L124.6,385.6 L124.8,386.6 L125.0,387.4 L125.2,388.1 L125.4,388.6 L125.6,389.0 L125.8,389.3" fill="none" stroke="#111" stroke-width="1.1" stroke-dasharray="1.1,1.9"/>
<line x1="117.68" y1="390.02" x2="140.68" y2="390.02" stroke="#c8c8c8" stroke-width="0.6"/>
<rect x="142.75" y="366.77" width="22.50" height="23.25" fill="none" stroke="#e0e0e0" stroke-width="0.6"/>
<path d="M144.9,390.0 L144.9,389.7 L145.3,389.5 L145.7,389.1 L146.1,388.6 L146.5,387.6 L146.9,386.2 L147.3,384.0 L147.7,381.0 L148.1,377.2 L148.5,373.0 L148.9,369.1 L149.3,368.4 L149.7,369.9 L150.1,373.3 L150.5,376.6 L150.9,379.3 L151.3,381.2 L151.7,382.3 L152.1,382.8 L152.5,383.1 L152.9,383.2 L153.3,383.4 L153.7,383.7 L154.1,384.0 L154.5,384.4 L154.9,384.7 L155.3,385.0 L155.7,385.2 L156.1,385.2 L156.5,385.2 L156.9,384.9 L157.3,384.5 L157.7,383.9 L158.1,383.2 L158.5,382.4 L158.9,381.4 L159.3,380.5 L159.7,379.7 L160.1,379.3 L160.5,379.6 L160.9,380.5 L161.3,381.6 L161.7,382.7 L162.1,383.9 L162.5,385.0 L162.9,386.0 L163.3,386.8 L163.7,387.6 L164.1,388.1 L164.5,388.6 L164.9,389.0 L165.3,389.3 L165.3,390.0 Z" fill="#d2464e" stroke="#262626" stroke-width="1.05" stroke-linejoin="round"/>
<path d="M146.0,389.3 L146.2,389.0 L146.4,388.6 L146.6,388.1 L146.8,387.4 L147.0,386.6 L147.2,385.6 L147.4,384.3 L147.6,382.8 L147.8,381.1 L148.0,379.1 L148.2,376.9 L148.4,374.6 L148.6,372.4 L148.8,370.5 L149.0,369.3 L149.2,370.5 L149.4,372.4 L149.6,374.6 L149.8,376.9 L150.0,379.1 L150.2,381.1 L150.4,382.8 L150.6,384.3 L150.8,385.6 L151.0,386.6 L151.2,387.4 L151.4,388.1 L151.6,388.6 L151.8,389.0 L152.0,389.3" fill="none" stroke="#111" stroke-width="1.1" stroke-dasharray="1.1,1.9"/>
<line x1="142.50" y1="390.02" x2="165.50" y2="390.02" stroke="#c8c8c8" stroke-width="0.6"/>
<rect x="167.57" y="366.77" width="22.50" height="23.25" fill="none" stroke="#e0e0e0" stroke-width="0.6"/>
<path d="M169.7,390.0 L169.7,389.6 L170.1,389.2 L170.5,388.5 L170.9,387.5 L171.3,386.0 L171.7,383.9 L172.1,381.0 L172.5,377.5 L172.9,373.7 L173.3,370.2 L173.7,368.6 L174.1,370.0 L174.5,372.3 L174.9,374.2 L175.3,375.5 L175.7,375.9 L176.1,375.4 L176.5,374.4 L176.9,373.2 L177.3,372.4 L177.7,373.1 L178.1,374.3 L178.5,375.5 L178.9,376.5 L179.3,377.2 L179.7,377.6 L180.1,378.0 L180.5,379.2 L180.9,381.1 L181.3,383.0 L181.7,384.8 L182.1,386.3 L182.5,387.5 L182.9,388.3 L183.3,388.9 L183.7,389.4 L184.1,389.6 L184.1,390.0 Z" fill="#e8a2a2" stroke="#262626" stroke-width="1.05" stroke-linejoin="round"/>
<path d="M169.2,389.3 L169.4,389.0 L169.6,388.6 L169.8,388.1 L170.0,387.4 L170.2,386.6 L170.4,385.6 L170.6,384.3 L170.8,382.8 L171.0,381.1 L171.2,379.1 L171.4,376.9 L171.6,374.6 L171.8,372.4 L172.0,370.5 L172.2,369.3 L172.4,370.5 L172.6,372.4 L172.8,374.6 L173.0,376.9 L173.2,379.1 L173.4,381.1 L173.6,382.8 L173.8,384.3 L174.0,385.6 L174.2,386.6 L174.4,387.4 L174.6,388.1 L174.8,388.6 L175.0,389.0 L175.2,389.3" fill="none" stroke="#111" stroke-width="1.1" stroke-dasharray="1.1,1.9"/>
<line x1="167.32" y1="390.02" x2="190.32" y2="390.02" stroke="#c8c8c8" stroke-width="0.6"/>
<rect x="192.39" y="366.77" width="22.50" height="23.25" fill="none" stroke="#e0e0e0" stroke-width="0.6"/>
<path d="M193.7,390.0 L193.7,389.7 L194.1,389.4 L194.5,388.9 L194.9,388.0 L195.3,386.7 L195.7,384.6 L196.1,381.8 L196.5,378.1 L196.9,374.0 L197.3,370.2 L197.7,368.6 L198.1,370.8 L198.5,373.9 L198.9,376.9 L199.3,379.1 L199.7,380.5 L200.1,381.1 L200.5,381.2 L200.9,380.9 L201.3,380.6 L201.7,380.4 L202.1,380.2 L202.5,380.0 L202.9,379.8 L203.3,379.6 L203.7,379.6 L204.1,379.8 L204.5,380.5 L204.9,381.4 L205.3,382.4 L205.7,383.5 L206.1,384.5 L206.5,385.4 L206.9,386.2 L207.3,387.0 L207.7,387.6 L208.1,388.1 L208.5,388.5 L208.9,388.9 L209.3,389.2 L209.7,389.4 L210.1,389.6 L210.5,389.7 L210.5,390.0 Z" fill="#d2464e" stroke="#262626" stroke-width="1.05" stroke-linejoin="round"/>
<path d="M195.0,389.3 L195.2,389.0 L195.4,388.6 L195.6,388.1 L195.8,387.4 L196.0,386.6 L196.2,385.6 L196.4,384.3 L196.6,382.8 L196.8,381.1 L197.0,379.1 L197.2,376.9 L197.4,374.6 L197.6,372.4 L197.8,370.5 L198.0,369.3 L198.2,370.5 L198.4,372.4 L198.6,374.6 L198.8,376.9 L199.0,379.1 L199.2,381.1 L199.4,382.8 L199.6,384.3 L199.8,385.6 L200.0,386.6 L200.2,387.4 L200.4,388.1 L200.6,388.6 L200.8,389.0 L201.0,389.3" fill="none" stroke="#111" stroke-width="1.1" stroke-dasharray="1.1,1.9"/>
<line x1="192.14" y1="390.02" x2="215.14" y2="390.02" stroke="#c8c8c8" stroke-width="0.6"/>
<rect x="217.21" y="366.77" width="22.50" height="23.25" fill="none" stroke="#e0e0e0" stroke-width="0.6"/>
<path d="M219.4,390.0 L219.4,389.7 L219.8,389.5 L220.2,389.1 L220.6,388.3 L221.0,387.1 L221.4,385.0 L221.8,382.0 L222.2,378.0 L222.6,373.4 L223.0,369.4 L223.4,369.0 L223.8,372.0 L224.2,375.7 L224.6,378.7 L225.0,380.7 L225.4,381.8 L225.8,382.1 L226.2,382.0 L226.6,381.6 L227.0,381.1 L227.4,380.8 L227.8,381.0 L228.2,381.5 L228.6,382.2 L229.0,383.0 L229.4,383.8 L229.8,384.6 L230.2,385.4 L230.6,386.1 L231.0,386.8 L231.4,387.4 L231.8,387.9 L232.2,388.3 L232.6,388.7 L233.0,389.0 L233.4,389.2 L233.8,389.4 L234.2,389.5 L234.6,389.7 L234.6,390.0 Z" fill="#f3d4d4" stroke="#262626" stroke-width="1.05" stroke-linejoin="round"/>
<path d="M219.7,389.3 L219.9,389.0 L220.1,388.6 L220.3,388.1 L220.5,387.4 L220.7,386.6 L220.9,385.6 L221.1,384.3 L221.3,382.8 L221.5,381.1 L221.7,379.1 L221.9,376.9 L222.1,374.6 L222.3,372.4 L222.5,370.5 L222.7,369.3 L222.9,370.5 L223.1,372.4 L223.3,374.6 L223.5,376.9 L223.7,379.1 L223.9,381.1 L224.1,382.8 L224.3,384.3 L224.5,385.6 L224.7,386.6 L224.9,387.4 L225.1,388.1 L225.3,388.6 L225.5,389.0 L225.7,389.3" fill="none" stroke="#111" stroke-width="1.1" stroke-dasharray="1.1,1.9"/>
<line x1="216.96" y1="390.02" x2="239.96" y2="390.02" stroke="#c8c8c8" stroke-width="0.6"/>
<rect x="242.03" y="366.77" width="22.50" height="23.25" fill="none" stroke="#e0e0e0" stroke-width="0.6"/>
<path d="M244.6,390.0 L244.6,389.7 L245.0,389.5 L245.4,389.3 L245.8,388.9 L246.2,388.5 L246.6,387.9 L247.0,387.2 L247.4,386.3 L247.8,385.3 L248.2,384.2 L248.6,383.0 L249.0,381.9 L249.4,381.2 L249.8,381.0 L250.2,381.0 L250.6,380.8 L251.0,380.4 L251.4,379.8 L251.8,378.8 L252.2,377.5 L252.6,376.0 L253.0,374.3 L253.4,372.6 L253.8,371.2 L254.2,370.3 L254.6,370.8 L255.0,372.3 L255.4,374.1 L255.8,376.1 L256.2,378.1 L256.6,380.1 L257.0,381.9 L257.4,383.5 L257.8,384.8 L258.2,386.0 L258.6,386.9 L259.0,387.7 L259.4,388.3 L259.8,388.8 L260.2,389.1 L260.6,389.4 L261.0,389.6 L261.4,389.7 L261.4,390.0 Z" fill="#f3d4d4" stroke="#262626" stroke-width="1.05" stroke-linejoin="round"/>
<path d="M243.8,389.3 L244.0,389.0 L244.2,388.6 L244.4,388.1 L244.6,387.4 L244.8,386.6 L245.0,385.6 L245.2,384.3 L245.4,382.8 L245.6,381.1 L245.8,379.1 L246.0,376.9 L246.2,374.6 L246.4,372.4 L246.6,370.5 L246.8,369.3 L247.0,370.5 L247.2,372.4 L247.4,374.6 L247.6,376.9 L247.8,379.1 L248.0,381.1 L248.2,382.8 L248.4,384.3 L248.6,385.6 L248.8,386.6 L249.0,387.4 L249.2,388.1 L249.4,388.6 L249.6,389.0 L249.8,389.3" fill="none" stroke="#111" stroke-width="1.1" stroke-dasharray="1.1,1.9"/>
<line x1="241.78" y1="390.02" x2="264.78" y2="390.02" stroke="#c8c8c8" stroke-width="0.6"/>
<rect x="266.85" y="366.77" width="22.50" height="23.25" fill="none" stroke="#e0e0e0" stroke-width="0.6"/>
<path d="M273.0,390.0 L273.0,389.7 L273.4,389.6 L273.8,389.4 L274.2,389.2 L274.6,388.9 L275.0,388.5 L275.4,387.9 L275.8,387.3 L276.2,386.5 L276.6,385.5 L277.0,384.3 L277.4,382.9 L277.8,381.3 L278.2,379.6 L278.6,377.7 L279.0,375.8 L279.4,373.9 L279.8,372.2 L280.2,370.9 L280.6,370.6 L281.0,371.5 L281.4,373.0 L281.8,374.8 L282.2,376.7 L282.6,378.6 L283.0,380.5 L283.4,382.1 L283.8,383.6 L284.2,384.9 L284.6,386.0 L285.0,386.9 L285.4,387.6 L285.8,388.2 L286.2,388.7 L286.6,389.0 L287.0,389.3 L287.4,389.5 L287.8,389.7 L287.8,390.0 Z" fill="#f8e4e4" stroke="#262626" stroke-width="1.05" stroke-linejoin="round"/>
<path d="M269.7,389.3 L269.9,389.0 L270.1,388.6 L270.3,388.1 L270.5,387.4 L270.7,386.6 L270.9,385.6 L271.1,384.3 L271.3,382.8 L271.5,381.1 L271.7,379.1 L271.9,376.9 L272.1,374.6 L272.3,372.4 L272.5,370.5 L272.7,369.3 L272.9,370.5 L273.1,372.4 L273.3,374.6 L273.5,376.9 L273.7,379.1 L273.9,381.1 L274.1,382.8 L274.3,384.3 L274.5,385.6 L274.7,386.6 L274.9,387.4 L275.1,388.1 L275.3,388.6 L275.5,389.0 L275.7,389.3" fill="none" stroke="#111" stroke-width="1.1" stroke-dasharray="1.1,1.9"/>
<line x1="266.60" y1="390.02" x2="289.60" y2="390.02" stroke="#c8c8c8" stroke-width="0.6"/>
<rect x="291.67" y="366.77" width="22.50" height="23.25" fill="none" stroke="#e0e0e0" stroke-width="0.6"/>
<path d="M295.8,390.0 L295.8,389.7 L296.2,389.7 L296.6,389.6 L297.0,389.6 L297.4,389.5 L297.8,389.4 L298.2,389.4 L298.6,389.3 L299.0,389.2 L299.4,389.1 L299.8,389.0 L300.2,389.0 L300.6,388.9 L301.0,388.8 L301.4,388.7 L301.8,388.7 L302.2,388.6 L302.6,388.5 L303.0,388.3 L303.4,388.1 L303.8,387.6 L304.2,387.0 L304.6,386.2 L305.0,385.1 L305.4,383.8 L305.8,382.1 L306.2,380.1 L306.6,377.8 L307.0,375.5 L307.4,373.2 L307.8,371.3 L308.2,370.3 L308.6,371.4 L309.0,373.3 L309.4,375.7 L309.8,378.1 L310.2,380.4 L310.6,382.5 L311.0,384.2 L311.4,385.7 L311.8,386.9 L312.2,387.8 L312.6,388.4 L313.0,388.9 L313.4,389.3 L313.8,389.5 L314.2,389.7 L314.2,390.0 Z" fill="#ffffff" stroke="#262626" stroke-width="1.05" stroke-linejoin="round"/>
<path d="M293.3,389.3 L293.5,389.0 L293.7,388.6 L293.9,388.1 L294.1,387.4 L294.3,386.6 L294.5,385.6 L294.7,384.3 L294.9,382.8 L295.1,381.1 L295.3,379.1 L295.5,376.9 L295.7,374.6 L295.9,372.4 L296.1,370.5 L296.3,369.3 L296.5,370.5 L296.7,372.4 L296.9,374.6 L297.1,376.9 L297.3,379.1 L297.5,381.1 L297.7,382.8 L297.9,384.3 L298.1,385.6 L298.3,386.6 L298.5,387.4 L298.7,388.1 L298.9,388.6 L299.1,389.0 L299.3,389.3" fill="none" stroke="#111" stroke-width="1.1" stroke-dasharray="1.1,1.9"/>
<line x1="291.42" y1="390.02" x2="314.42" y2="390.02" stroke="#c8c8c8" stroke-width="0.6"/>
<rect x="316.49" y="366.77" width="22.50" height="23.25" fill="none" stroke="#e0e0e0" stroke-width="0.6"/>
<path d="M319.4,390.0 L319.4,389.7 L319.8,389.5 L320.2,389.2 L320.6,388.8 L321.0,388.2 L321.4,387.4 L321.8,386.3 L322.2,384.9 L322.6,383.2 L323.0,381.1 L323.4,378.6 L323.8,375.9 L324.2,373.1 L324.6,370.4 L325.0,368.9 L325.4,368.4 L325.8,368.4 L326.2,368.4 L326.6,368.4 L327.0,368.4 L327.4,368.4 L327.8,368.9 L328.2,371.7 L328.6,374.3 L329.0,376.5 L329.4,378.2 L329.8,379.3 L330.2,379.8 L330.6,379.9 L331.0,379.6 L331.4,379.1 L331.8,378.9 L332.2,379.3 L332.6,379.5 L333.0,379.3 L333.4,378.4 L333.8,376.6 L334.2,374.3 L334.6,371.6 L335.0,369.5 L335.4,370.0 L335.8,373.1 L336.2,376.8 L336.6,380.3 L337.0,383.3 L337.4,385.6 L337.8,387.2 L338.2,388.3 L338.6,389.1 L339.0,389.5 L339.0,390.0 Z" fill="#d2464e" stroke="#262626" stroke-width="1.05" stroke-linejoin="round"/>
<path d="M318.5,389.3 L318.7,389.0 L318.9,388.6 L319.1,388.1 L319.3,387.4 L319.5,386.6 L319.7,385.6 L319.9,384.3 L320.1,382.8 L320.3,381.1 L320.5,379.1 L320.7,376.9 L320.9,374.6 L321.1,372.4 L321.3,370.5 L321.5,369.3 L321.7,370.5 L321.9,372.4 L322.1,374.6 L322.3,376.9 L322.5,379.1 L322.7,381.1 L322.9,382.8 L323.1,384.3 L323.3,385.6 L323.5,386.6 L323.7,387.4 L323.9,388.1 L324.1,388.6 L324.3,389.0 L324.5,389.3" fill="none" stroke="#111" stroke-width="1.1" stroke-dasharray="1.1,1.9"/>
<line x1="316.24" y1="390.02" x2="339.24" y2="390.02" stroke="#c8c8c8" stroke-width="0.6"/>
<rect x="341.31" y="366.77" width="22.50" height="23.25" fill="none" stroke="#e0e0e0" stroke-width="0.6"/>
<path d="M345.5,390.0 L345.5,389.7 L345.9,389.6 L346.3,389.5 L346.7,389.3 L347.1,389.2 L347.5,388.9 L347.9,388.7 L348.3,388.4 L348.7,388.0 L349.1,387.5 L349.5,387.0 L349.9,386.4 L350.3,385.7 L350.7,384.9 L351.1,384.0 L351.5,383.0 L351.9,381.9 L352.3,380.8 L352.7,379.5 L353.1,378.2 L353.5,376.8 L353.9,375.4 L354.3,374.1 L354.7,372.8 L355.1,371.7 L355.5,370.9 L355.9,370.5 L356.3,370.9 L356.7,371.7 L357.1,372.8 L357.5,374.1 L357.9,375.4 L358.3,376.8 L358.7,378.2 L359.1,379.5 L359.5,380.8 L359.9,381.9 L360.3,383.0 L360.7,384.0 L361.1,384.9 L361.5,385.7 L361.9,386.4 L362.3,387.0 L362.7,387.5 L363.1,388.0 L363.5,388.4 L363.9,388.7 L363.9,390.0 Z" fill="#e8a2a2" stroke="#262626" stroke-width="1.05" stroke-linejoin="round"/>
<path d="M343.7,389.3 L343.9,389.0 L344.1,388.6 L344.3,388.1 L344.5,387.4 L344.7,386.6 L344.9,385.6 L345.1,384.3 L345.3,382.8 L345.5,381.1 L345.7,379.1 L345.9,376.9 L346.1,374.6 L346.3,372.4 L346.5,370.5 L346.7,369.3 L346.9,370.5 L347.1,372.4 L347.3,374.6 L347.5,376.9 L347.7,379.1 L347.9,381.1 L348.1,382.8 L348.3,384.3 L348.5,385.6 L348.7,386.6 L348.9,387.4 L349.1,388.1 L349.3,388.6 L349.5,389.0 L349.7,389.3" fill="none" stroke="#111" stroke-width="1.1" stroke-dasharray="1.1,1.9"/>
<line x1="341.06" y1="390.02" x2="364.06" y2="390.02" stroke="#c8c8c8" stroke-width="0.6"/>
<rect x="366.13" y="366.77" width="22.50" height="23.25" fill="none" stroke="#e0e0e0" stroke-width="0.6"/>
<path d="M379.9,390.0 L379.9,389.7 L380.3,389.5 L380.7,389.2 L381.1,388.8 L381.5,388.1 L381.9,387.2 L382.3,385.9 L382.7,384.3 L383.1,382.2 L383.5,379.8 L383.9,377.0 L384.3,374.2 L384.7,371.6 L385.1,369.9 L385.5,370.6 L385.9,372.9 L386.3,375.6 L386.7,378.4 L387.1,381.1 L387.5,383.3 L387.9,385.2 L388.3,386.6 L388.7,387.7 L388.7,390.0 Z" fill="#c3c7ea" stroke="#262626" stroke-width="1.05" stroke-linejoin="round"/>
<path d="M367.8,389.3 L368.0,389.0 L368.2,388.6 L368.4,388.1 L368.6,387.4 L368.8,386.6 L369.0,385.6 L369.2,384.3 L369.4,382.8 L369.6,381.1 L369.8,379.1 L370.0,376.9 L370.2,374.6 L370.4,372.4 L370.6,370.5 L370.8,369.3 L371.0,370.5 L371.2,372.4 L371.4,374.6 L371.6,376.9 L371.8,379.1 L372.0,381.1 L372.2,382.8 L372.4,384.3 L372.6,385.6 L372.8,386.6 L373.0,387.4 L373.2,388.1 L373.4,388.6 L373.6,389.0 L373.8,389.3" fill="none" stroke="#111" stroke-width="1.1" stroke-dasharray="1.1,1.9"/>
<line x1="365.88" y1="390.02" x2="388.88" y2="390.02" stroke="#c8c8c8" stroke-width="0.6"/>
<rect x="390.95" y="366.77" width="22.50" height="23.25" fill="none" stroke="#e0e0e0" stroke-width="0.6"/>
<path d="M392.3,390.0 L392.3,389.7 L392.7,389.5 L393.1,389.3 L393.5,388.8 L393.9,388.0 L394.3,386.7 L394.7,384.8 L395.1,382.1 L395.5,378.6 L395.9,374.6 L396.3,370.6 L396.7,368.4 L397.1,369.8 L397.5,372.9 L397.9,376.2 L398.3,378.9 L398.7,380.8 L399.1,381.9 L399.5,382.5 L399.9,382.6 L400.3,382.6 L400.7,382.4 L401.1,382.5 L401.5,382.7 L401.9,382.8 L402.3,382.9 L402.7,382.9 L403.1,382.7 L403.5,382.5 L403.9,382.0 L404.3,381.5 L404.7,380.8 L405.1,380.0 L405.5,379.3 L405.9,378.8 L406.3,378.5 L406.7,379.2 L407.1,380.3 L407.5,381.5 L407.9,382.7 L408.3,383.9 L408.7,385.1 L409.1,386.1 L409.5,386.9 L409.9,387.6 L410.3,388.2 L410.7,388.7 L411.1,389.0 L411.5,389.3 L411.9,389.5 L412.3,389.7 L412.3,390.0 Z" fill="#d2464e" stroke="#262626" stroke-width="1.05" stroke-linejoin="round"/>
<path d="M393.2,389.3 L393.4,389.0 L393.6,388.6 L393.8,388.1 L394.0,387.4 L394.2,386.6 L394.4,385.6 L394.6,384.3 L394.8,382.8 L395.0,381.1 L395.2,379.1 L395.4,376.9 L395.6,374.6 L395.8,372.4 L396.0,370.5 L396.2,369.3 L396.4,370.5 L396.6,372.4 L396.8,374.6 L397.0,376.9 L397.2,379.1 L397.4,381.1 L397.6,382.8 L397.8,384.3 L398.0,385.6 L398.2,386.6 L398.4,387.4 L398.6,388.1 L398.8,388.6 L399.0,389.0 L399.2,389.3" fill="none" stroke="#111" stroke-width="1.1" stroke-dasharray="1.1,1.9"/>
<line x1="390.70" y1="390.02" x2="413.70" y2="390.02" stroke="#c8c8c8" stroke-width="0.6"/>
<rect x="415.77" y="366.77" width="22.50" height="23.25" fill="none" stroke="#e0e0e0" stroke-width="0.6"/>
<path d="M417.1,390.0 L417.1,389.6 L417.5,389.3 L417.9,388.9 L418.3,388.1 L418.7,387.0 L419.1,385.5 L419.5,383.5 L419.9,381.2 L420.3,378.9 L420.7,377.3 L421.1,376.6 L421.5,375.8 L421.9,374.8 L422.3,373.6 L422.7,372.4 L423.1,371.8 L423.5,372.6 L423.9,373.6 L424.3,374.4 L424.7,374.8 L425.1,374.5 L425.5,373.6 L425.9,372.3 L426.3,370.7 L426.7,369.4 L427.1,369.3 L427.5,371.4 L427.9,374.2 L428.3,377.1 L428.7,379.9 L429.1,382.4 L429.5,384.4 L429.9,386.0 L430.3,387.3 L430.7,388.2 L431.1,388.8 L431.5,389.2 L431.9,389.5 L432.3,389.7 L432.3,390.0 Z" fill="#e8a2a2" stroke="#262626" stroke-width="1.05" stroke-linejoin="round"/>
<path d="M418.0,389.3 L418.2,389.0 L418.4,388.6 L418.6,388.1 L418.8,387.4 L419.0,386.6 L419.2,385.6 L419.4,384.3 L419.6,382.8 L419.8,381.1 L420.0,379.1 L420.2,376.9 L420.4,374.6 L420.6,372.4 L420.8,370.5 L421.0,369.3 L421.2,370.5 L421.4,372.4 L421.6,374.6 L421.8,376.9 L422.0,379.1 L422.2,381.1 L422.4,382.8 L422.6,384.3 L422.8,385.6 L423.0,386.6 L423.2,387.4 L423.4,388.1 L423.6,388.6 L423.8,389.0 L424.0,389.3" fill="none" stroke="#111" stroke-width="1.1" stroke-dasharray="1.1,1.9"/>
<line x1="415.52" y1="390.02" x2="438.52" y2="390.02" stroke="#c8c8c8" stroke-width="0.6"/>
<rect x="440.59" y="366.77" width="22.50" height="23.25" fill="none" stroke="#e0e0e0" stroke-width="0.6"/>
<path d="M443.1,390.0 L443.1,389.7 L443.5,389.4 L443.9,389.0 L444.3,388.4 L444.7,387.6 L445.1,386.4 L445.5,384.7 L445.9,382.6 L446.3,380.0 L446.7,376.9 L447.1,373.7 L447.5,370.6 L447.9,368.6 L448.3,368.6 L448.7,368.9 L449.1,369.0 L449.5,368.8 L449.9,368.4 L450.3,368.4 L450.7,368.4 L451.1,369.9 L451.5,372.9 L451.9,376.0 L452.3,379.0 L452.7,381.7 L453.1,383.9 L453.5,385.6 L453.9,387.0 L454.3,388.0 L454.7,388.7 L455.1,389.2 L455.5,389.5 L455.9,389.7 L455.9,390.0 Z" fill="#f3d4d4" stroke="#262626" stroke-width="1.05" stroke-linejoin="round"/>
<path d="M443.0,389.3 L443.2,389.0 L443.4,388.6 L443.6,388.1 L443.8,387.4 L444.0,386.6 L444.2,385.6 L444.4,384.3 L444.6,382.8 L444.8,381.1 L445.0,379.1 L445.2,376.9 L445.4,374.6 L445.6,372.4 L445.8,370.5 L446.0,369.3 L446.2,370.5 L446.4,372.4 L446.6,374.6 L446.8,376.9 L447.0,379.1 L447.2,381.1 L447.4,382.8 L447.6,384.3 L447.8,385.6 L448.0,386.6 L448.2,387.4 L448.4,388.1 L448.6,388.6 L448.8,389.0 L449.0,389.3" fill="none" stroke="#111" stroke-width="1.1" stroke-dasharray="1.1,1.9"/>
<line x1="440.34" y1="390.02" x2="463.34" y2="390.02" stroke="#c8c8c8" stroke-width="0.6"/>
<rect x="465.41" y="366.77" width="22.50" height="23.25" fill="none" stroke="#e0e0e0" stroke-width="0.6"/>
<path d="M468.0,390.0 L468.0,389.6 L468.4,389.1 L468.8,388.2 L469.2,386.5 L469.6,383.7 L470.0,379.6 L470.4,374.6 L470.8,370.0 L471.2,369.8 L471.6,374.0 L472.0,378.6 L472.4,382.3 L472.8,384.7 L473.2,386.1 L473.6,386.7 L474.0,387.0 L474.4,387.2 L474.8,387.4 L475.2,387.7 L475.6,387.9 L476.0,388.2 L476.4,388.5 L476.8,388.7 L477.2,389.0 L477.6,389.2 L478.0,389.3 L478.4,389.5 L478.8,389.6 L479.2,389.7 L479.2,390.0 Z" fill="#e8a2a2" stroke="#262626" stroke-width="1.05" stroke-linejoin="round"/>
<path d="M467.7,389.3 L467.9,389.0 L468.1,388.6 L468.3,388.1 L468.5,387.4 L468.7,386.6 L468.9,385.6 L469.1,384.3 L469.3,382.8 L469.5,381.1 L469.7,379.1 L469.9,376.9 L470.1,374.6 L470.3,372.4 L470.5,370.5 L470.7,369.3 L470.9,370.5 L471.1,372.4 L471.3,374.6 L471.5,376.9 L471.7,379.1 L471.9,381.1 L472.1,382.8 L472.3,384.3 L472.5,385.6 L472.7,386.6 L472.9,387.4 L473.1,388.1 L473.3,388.6 L473.5,389.0 L473.7,389.3" fill="none" stroke="#111" stroke-width="1.1" stroke-dasharray="1.1,1.9"/>
<line x1="465.16" y1="390.02" x2="488.16" y2="390.02" stroke="#c8c8c8" stroke-width="0.6"/>
<rect x="490.23" y="366.77" width="22.50" height="23.25" fill="none" stroke="#e0e0e0" stroke-width="0.6"/>
<path d="M492.8,390.0 L492.8,389.6 L493.2,389.1 L493.6,388.1 L494.0,386.0 L494.4,382.7 L494.8,377.8 L495.2,372.3 L495.6,368.6 L496.0,371.5 L496.4,376.2 L496.8,380.2 L497.2,383.0 L497.6,384.8 L498.0,386.2 L498.4,387.2 L498.8,387.9 L499.2,388.5 L499.6,389.0 L500.0,389.3 L500.4,389.6 L500.8,389.7 L500.8,390.0 Z" fill="#e8a2a2" stroke="#262626" stroke-width="1.05" stroke-linejoin="round"/>
<path d="M491.8,389.3 L492.0,389.0 L492.2,388.6 L492.4,388.1 L492.6,387.4 L492.8,386.6 L493.0,385.6 L493.2,384.3 L493.4,382.8 L493.6,381.1 L493.8,379.1 L494.0,376.9 L494.2,374.6 L494.4,372.4 L494.6,370.5 L494.8,369.3 L495.0,370.5 L495.2,372.4 L495.4,374.6 L495.6,376.9 L495.8,379.1 L496.0,381.1 L496.2,382.8 L496.4,384.3 L496.6,385.6 L496.8,386.6 L497.0,387.4 L497.2,388.1 L497.4,388.6 L497.6,389.0 L497.8,389.3" fill="none" stroke="#111" stroke-width="1.1" stroke-dasharray="1.1,1.9"/>
<line x1="489.98" y1="390.02" x2="512.98" y2="390.02" stroke="#c8c8c8" stroke-width="0.6"/>
<rect x="18.65" y="391.39" width="22.50" height="23.25" fill="none" stroke="#e0e0e0" stroke-width="0.6"/>
<path d="M18.4,414.6 L18.4,413.8 L18.8,413.6 L19.2,413.5 L19.6,413.3 L20.0,413.1 L20.4,412.8 L20.8,412.5 L21.2,412.0 L21.6,411.3 L22.0,410.1 L22.4,408.2 L22.8,405.3 L23.2,401.1 L23.6,396.0 L24.0,393.0 L24.4,393.0 L24.8,394.8 L25.2,399.2 L25.6,402.7 L26.0,405.0 L26.4,406.3 L26.8,407.0 L27.2,407.5 L27.6,407.9 L28.0,408.2 L28.4,408.6 L28.8,408.9 L29.2,409.3 L29.6,409.7 L30.0,410.1 L30.4,410.5 L30.8,410.8 L31.2,411.2 L31.6,411.5 L32.0,411.9 L32.4,412.2 L32.8,412.5 L33.2,412.7 L33.6,413.0 L34.0,413.2 L34.4,413.4 L34.8,413.5 L35.2,413.7 L35.6,413.8 L36.0,414.0 L36.4,414.1 L36.8,414.1 L37.2,414.2 L37.6,414.3 L38.0,414.4 L38.0,414.6 Z" fill="#ffffff" stroke="#262626" stroke-width="1.05" stroke-linejoin="round"/>
<path d="M22.4,413.9 L22.6,413.6 L22.8,413.2 L23.0,412.7 L23.2,412.1 L23.4,411.2 L23.6,410.2 L23.8,408.9 L24.0,407.4 L24.2,405.7 L24.4,403.7 L24.6,401.5 L24.8,399.3 L25.0,397.0 L25.2,395.1 L25.4,393.9 L25.6,395.1 L25.8,397.0 L26.0,399.3 L26.2,401.5 L26.4,403.7 L26.6,405.7 L26.8,407.4 L27.0,408.9 L27.2,410.2 L27.4,411.2 L27.6,412.1 L27.8,412.7 L28.0,413.2 L28.2,413.6 L28.4,413.9" fill="none" stroke="#111" stroke-width="1.1" stroke-dasharray="1.1,1.9"/>
<line x1="18.40" y1="414.64" x2="41.40" y2="414.64" stroke="#c8c8c8" stroke-width="0.6"/>
<rect x="43.47" y="391.39" width="22.50" height="23.25" fill="none" stroke="#e0e0e0" stroke-width="0.6"/>
<path d="M47.6,414.6 L47.6,414.3 L48.0,414.1 L48.4,413.8 L48.8,413.3 L49.2,412.7 L49.6,411.8 L50.0,410.7 L50.4,409.2 L50.8,407.4 L51.2,405.2 L51.6,402.8 L52.0,400.2 L52.4,397.8 L52.8,395.8 L53.2,395.2 L53.6,396.7 L54.0,399.0 L54.4,401.5 L54.8,404.0 L55.2,406.3 L55.6,408.3 L56.0,410.0 L56.4,411.3 L56.8,412.3 L57.2,413.0 L57.6,413.6 L58.0,413.9 L58.4,414.2 L58.8,414.4 L58.8,414.6 Z" fill="#c3c7ea" stroke="#262626" stroke-width="1.05" stroke-linejoin="round"/>
<path d="M45.2,413.9 L45.4,413.6 L45.6,413.2 L45.8,412.7 L46.0,412.1 L46.2,411.2 L46.4,410.2 L46.6,408.9 L46.8,407.4 L47.0,405.7 L47.2,403.7 L47.4,401.5 L47.6,399.3 L47.8,397.0 L48.0,395.1 L48.2,393.9 L48.4,395.1 L48.6,397.0 L48.8,399.3 L49.0,401.5 L49.2,403.7 L49.4,405.7 L49.6,407.4 L49.8,408.9 L50.0,410.2 L50.2,411.2 L50.4,412.1 L50.6,412.7 L50.8,413.2 L51.0,413.6 L51.2,413.9" fill="none" stroke="#111" stroke-width="1.1" stroke-dasharray="1.1,1.9"/>
<line x1="43.22" y1="414.64" x2="66.22" y2="414.64" stroke="#c8c8c8" stroke-width="0.6"/>
<rect x="68.29" y="391.39" width="22.50" height="23.25" fill="none" stroke="#e0e0e0" stroke-width="0.6"/>
<path d="M71.2,414.6 L71.2,414.3 L71.6,413.9 L72.0,413.3 L72.4,412.0 L72.8,409.8 L73.2,406.3 L73.6,401.4 L74.0,395.7 L74.4,393.0 L74.8,393.0 L75.2,395.4 L75.6,399.2 L76.0,402.0 L76.4,403.8 L76.8,405.5 L77.2,407.1 L77.6,408.4 L78.0,409.7 L78.4,410.7 L78.8,411.6 L79.2,412.4 L79.6,413.0 L80.0,413.5 L80.4,413.8 L80.8,414.1 L81.2,414.3 L81.2,414.6 Z" fill="#c3c7ea" stroke="#262626" stroke-width="1.05" stroke-linejoin="round"/>
<path d="M71.0,413.9 L71.2,413.6 L71.4,413.2 L71.6,412.7 L71.8,412.1 L72.0,411.2 L72.2,410.2 L72.4,408.9 L72.6,407.4 L72.8,405.7 L73.0,403.7 L73.2,401.5 L73.4,399.3 L73.6,397.0 L73.8,395.1 L74.0,393.9 L74.2,395.1 L74.4,397.0 L74.6,399.3 L74.8,401.5 L75.0,403.7 L75.2,405.7 L75.4,407.4 L75.6,408.9 L75.8,410.2 L76.0,411.2 L76.2,412.1 L76.4,412.7 L76.6,413.2 L76.8,413.6 L77.0,413.9" fill="none" stroke="#111" stroke-width="1.1" stroke-dasharray="1.1,1.9"/>
<line x1="68.04" y1="414.64" x2="91.04" y2="414.64" stroke="#c8c8c8" stroke-width="0.6"/>
<rect x="93.11" y="391.39" width="22.50" height="23.25" fill="none" stroke="#e0e0e0" stroke-width="0.6"/>
<path d="M94.9,414.6 L94.9,414.4 L95.3,414.3 L95.7,414.2 L96.1,414.1 L96.5,413.9 L96.9,413.8 L97.3,413.6 L97.7,413.3 L98.1,413.0 L98.5,412.7 L98.9,412.3 L99.3,411.8 L99.7,411.2 L100.1,410.6 L100.5,409.9 L100.9,409.1 L101.3,408.2 L101.7,407.2 L102.1,406.1 L102.5,405.0 L102.9,403.7 L103.3,402.4 L103.7,401.1 L104.1,399.7 L104.5,398.4 L104.9,397.1 L105.3,395.9 L105.7,394.9 L106.1,394.2 L106.5,394.0 L106.9,394.5 L107.3,395.4 L107.7,396.5 L108.1,397.7 L108.5,399.0 L108.9,400.4 L109.3,401.7 L109.7,403.1 L110.1,404.4 L110.5,405.6 L110.9,406.7 L111.3,407.7 L111.7,408.7 L112.1,409.5 L112.5,410.3 L112.9,410.9 L113.3,411.5 L113.7,412.0 L114.1,412.5 L114.5,412.9 L114.9,413.2 L115.3,413.4 L115.7,413.7 L115.7,414.6 Z" fill="#de7676" stroke="#262626" stroke-width="1.05" stroke-linejoin="round"/>
<path d="M95.7,413.9 L95.9,413.6 L96.1,413.2 L96.3,412.7 L96.5,412.1 L96.7,411.2 L96.9,410.2 L97.1,408.9 L97.3,407.4 L97.5,405.7 L97.7,403.7 L97.9,401.5 L98.1,399.3 L98.3,397.0 L98.5,395.1 L98.7,393.9 L98.9,395.1 L99.1,397.0 L99.3,399.3 L99.5,401.5 L99.7,403.7 L99.9,405.7 L100.1,407.4 L100.3,408.9 L100.5,410.2 L100.7,411.2 L100.9,412.1 L101.1,412.7 L101.3,413.2 L101.5,413.6 L101.7,413.9" fill="none" stroke="#111" stroke-width="1.1" stroke-dasharray="1.1,1.9"/>
<line x1="92.86" y1="414.64" x2="115.86" y2="414.64" stroke="#c8c8c8" stroke-width="0.6"/>
<rect x="117.93" y="391.39" width="22.50" height="23.25" fill="none" stroke="#e0e0e0" stroke-width="0.6"/>
<path d="M120.9,414.6 L120.9,414.2 L121.3,413.8 L121.7,413.3 L122.1,412.5 L122.5,411.5 L122.9,410.4 L123.3,409.2 L123.7,408.4 L124.1,408.8 L124.5,409.6 L124.9,410.4 L125.3,410.9 L125.7,411.2 L126.1,411.2 L126.5,411.0 L126.9,410.6 L127.3,410.4 L127.7,410.3 L128.1,410.1 L128.5,409.8 L128.9,409.0 L129.3,407.9 L129.7,406.3 L130.1,404.2 L130.5,401.8 L130.9,399.1 L131.3,396.6 L131.7,394.7 L132.1,394.7 L132.5,396.8 L132.9,399.5 L133.3,402.3 L133.7,405.0 L134.1,407.4 L134.5,409.4 L134.9,410.9 L135.3,412.1 L135.7,412.9 L136.1,413.5 L136.5,413.9 L136.9,414.2 L136.9,414.6 Z" fill="#f3d4d4" stroke="#262626" stroke-width="1.05" stroke-linejoin="round"/>
<path d="M119.8,413.9 L120.0,413.6 L120.2,413.2 L120.4,412.7 L120.6,412.1 L120.8,411.2 L121.0,410.2 L121.2,408.9 L121.4,407.4 L121.6,405.7 L121.8,403.7 L122.0,401.5 L122.2,399.3 L122.4,397.0 L122.6,395.1 L122.8,393.9 L123.0,395.1 L123.2,397.0 L123.4,399.3 L123.6,401.5 L123.8,403.7 L124.0,405.7 L124.2,407.4 L124.4,408.9 L124.6,410.2 L124.8,411.2 L125.0,412.1 L125.2,412.7 L125.4,413.2 L125.6,413.6 L125.8,413.9" fill="none" stroke="#111" stroke-width="1.1" stroke-dasharray="1.1,1.9"/>
<line x1="117.68" y1="414.64" x2="140.68" y2="414.64" stroke="#c8c8c8" stroke-width="0.6"/>
<rect x="142.75" y="391.39" width="22.50" height="23.25" fill="none" stroke="#e0e0e0" stroke-width="0.6"/>
<path d="M155.3,414.6 L155.3,414.2 L155.7,413.8 L156.1,413.3 L156.5,412.4 L156.9,411.1 L157.3,409.4 L157.7,407.1 L158.1,404.3 L158.5,401.2 L158.9,398.1 L159.3,395.6 L159.7,395.6 L160.1,398.1 L160.5,401.2 L160.9,404.3 L161.3,407.1 L161.7,409.4 L162.1,411.1 L162.5,412.4 L162.9,413.3 L163.3,413.8 L163.7,414.2 L163.7,414.6 Z" fill="#6b74bc" stroke="#262626" stroke-width="1.05" stroke-linejoin="round"/>
<path d="M146.0,413.9 L146.2,413.6 L146.4,413.2 L146.6,412.7 L146.8,412.1 L147.0,411.2 L147.2,410.2 L147.4,408.9 L147.6,407.4 L147.8,405.7 L148.0,403.7 L148.2,401.5 L148.4,399.3 L148.6,397.0 L148.8,395.1 L149.0,393.9 L149.2,395.1 L149.4,397.0 L149.6,399.3 L149.8,401.5 L150.0,403.7 L150.2,405.7 L150.4,407.4 L150.6,408.9 L150.8,410.2 L151.0,411.2 L151.2,412.1 L151.4,412.7 L151.6,413.2 L151.8,413.6 L152.0,413.9" fill="none" stroke="#111" stroke-width="1.1" stroke-dasharray="1.1,1.9"/>
<line x1="142.50" y1="414.64" x2="165.50" y2="414.64" stroke="#c8c8c8" stroke-width="0.6"/>
<rect x="167.57" y="391.39" width="22.50" height="23.25" fill="none" stroke="#e0e0e0" stroke-width="0.6"/>
<path d="M168.5,414.6 L168.5,414.1 L168.9,413.7 L169.3,413.0 L169.7,411.7 L170.1,409.7 L170.5,406.7 L170.9,402.7 L171.3,398.2 L171.7,394.3 L172.1,393.9 L172.5,397.1 L172.9,400.9 L173.3,404.2 L173.7,406.5 L174.1,408.0 L174.5,408.9 L174.9,409.4 L175.3,410.0 L175.7,410.5 L176.1,411.0 L176.5,411.5 L176.9,412.0 L177.3,412.4 L177.7,412.8 L178.1,413.1 L178.5,413.4 L178.9,413.7 L179.3,413.9 L179.7,414.1 L180.1,414.2 L180.5,414.3 L180.5,414.6 Z" fill="#ffffff" stroke="#262626" stroke-width="1.05" stroke-linejoin="round"/>
<path d="M169.2,413.9 L169.4,413.6 L169.6,413.2 L169.8,412.7 L170.0,412.1 L170.2,411.2 L170.4,410.2 L170.6,408.9 L170.8,407.4 L171.0,405.7 L171.2,403.7 L171.4,401.5 L171.6,399.3 L171.8,397.0 L172.0,395.1 L172.2,393.9 L172.4,395.1 L172.6,397.0 L172.8,399.3 L173.0,401.5 L173.2,403.7 L173.4,405.7 L173.6,407.4 L173.8,408.9 L174.0,410.2 L174.2,411.2 L174.4,412.1 L174.6,412.7 L174.8,413.2 L175.0,413.6 L175.2,413.9" fill="none" stroke="#111" stroke-width="1.1" stroke-dasharray="1.1,1.9"/>
<line x1="167.32" y1="414.64" x2="190.32" y2="414.64" stroke="#c8c8c8" stroke-width="0.6"/>
<rect x="192.39" y="391.39" width="22.50" height="23.25" fill="none" stroke="#e0e0e0" stroke-width="0.6"/>
<path d="M193.7,414.6 L193.7,414.3 L194.1,414.1 L194.5,413.8 L194.9,413.2 L195.3,412.2 L195.7,410.4 L196.1,407.8 L196.5,404.3 L196.9,400.0 L197.3,396.0 L197.7,394.6 L198.1,397.7 L198.5,401.8 L198.9,405.6 L199.3,408.6 L199.7,410.5 L200.1,411.7 L200.5,412.4 L200.9,412.7 L201.3,412.7 L201.7,412.7 L202.1,412.7 L202.5,412.6 L202.9,412.5 L203.3,412.4 L203.7,412.4 L204.1,412.3 L204.5,412.4 L204.9,412.4 L205.3,412.5 L205.7,412.6 L206.1,412.7 L206.5,412.8 L206.9,412.9 L207.3,413.0 L207.7,413.1 L208.1,413.2 L208.5,413.4 L208.9,413.5 L209.3,413.6 L209.7,413.7 L210.1,413.8 L210.5,413.8 L210.9,413.9 L211.3,414.0 L211.7,414.1 L212.1,414.1 L212.5,414.2 L212.9,414.2 L213.3,414.3 L213.7,414.3 L213.7,414.6 Z" fill="#d2464e" stroke="#262626" stroke-width="1.05" stroke-linejoin="round"/>
<path d="M195.0,413.9 L195.2,413.6 L195.4,413.2 L195.6,412.7 L195.8,412.1 L196.0,411.2 L196.2,410.2 L196.4,408.9 L196.6,407.4 L196.8,405.7 L197.0,403.7 L197.2,401.5 L197.4,399.3 L197.6,397.0 L197.8,395.1 L198.0,393.9 L198.2,395.1 L198.4,397.0 L198.6,399.3 L198.8,401.5 L199.0,403.7 L199.2,405.7 L199.4,407.4 L199.6,408.9 L199.8,410.2 L200.0,411.2 L200.2,412.1 L200.4,412.7 L200.6,413.2 L200.8,413.6 L201.0,413.9" fill="none" stroke="#111" stroke-width="1.1" stroke-dasharray="1.1,1.9"/>
<line x1="192.14" y1="414.64" x2="215.14" y2="414.64" stroke="#c8c8c8" stroke-width="0.6"/>
<rect x="217.21" y="391.39" width="22.50" height="23.25" fill="none" stroke="#e0e0e0" stroke-width="0.6"/>
<path d="M219.0,414.6 L219.0,414.4 L219.4,414.1 L219.8,413.7 L220.2,412.9 L220.6,411.8 L221.0,410.1 L221.4,407.7 L221.8,404.6 L222.2,401.0 L222.6,397.0 L223.0,393.6 L223.4,393.0 L223.8,394.6 L224.2,396.7 L224.6,398.2 L225.0,399.0 L225.4,399.0 L225.8,398.5 L226.2,398.7 L226.6,399.6 L227.0,400.3 L227.4,400.6 L227.8,400.4 L228.2,399.9 L228.6,399.2 L229.0,399.0 L229.4,400.5 L229.8,402.5 L230.2,404.7 L230.6,406.8 L231.0,408.7 L231.4,410.2 L231.8,411.5 L232.2,412.4 L232.6,413.2 L233.0,413.7 L233.4,414.0 L233.8,414.2 L233.8,414.6 Z" fill="#e8a2a2" stroke="#262626" stroke-width="1.05" stroke-linejoin="round"/>
<path d="M219.7,413.9 L219.9,413.6 L220.1,413.2 L220.3,412.7 L220.5,412.1 L220.7,411.2 L220.9,410.2 L221.1,408.9 L221.3,407.4 L221.5,405.7 L221.7,403.7 L221.9,401.5 L222.1,399.3 L222.3,397.0 L222.5,395.1 L222.7,393.9 L222.9,395.1 L223.1,397.0 L223.3,399.3 L223.5,401.5 L223.7,403.7 L223.9,405.7 L224.1,407.4 L224.3,408.9 L224.5,410.2 L224.7,411.2 L224.9,412.1 L225.1,412.7 L225.3,413.2 L225.5,413.6 L225.7,413.9" fill="none" stroke="#111" stroke-width="1.1" stroke-dasharray="1.1,1.9"/>
<line x1="216.96" y1="414.64" x2="239.96" y2="414.64" stroke="#c8c8c8" stroke-width="0.6"/>
<rect x="242.03" y="391.39" width="22.50" height="23.25" fill="none" stroke="#e0e0e0" stroke-width="0.6"/>
<path d="M247.4,414.6 L247.4,414.3 L247.8,414.1 L248.2,413.9 L248.6,413.6 L249.0,413.2 L249.4,412.6 L249.8,412.0 L250.2,411.1 L250.6,410.1 L251.0,408.8 L251.4,407.3 L251.8,405.6 L252.2,403.8 L252.6,401.8 L253.0,399.8 L253.4,397.8 L253.8,396.2 L254.2,395.2 L254.6,395.6 L255.0,397.0 L255.4,398.8 L255.8,400.8 L256.2,402.8 L256.6,404.7 L257.0,406.5 L257.4,408.1 L257.8,409.5 L258.2,410.6 L258.6,411.6 L259.0,412.3 L259.4,412.9 L259.8,413.4 L260.2,413.7 L260.6,414.0 L261.0,414.2 L261.4,414.3 L261.4,414.6 Z" fill="#f3d4d4" stroke="#262626" stroke-width="1.05" stroke-linejoin="round"/>
<path d="M243.8,413.9 L244.0,413.6 L244.2,413.2 L244.4,412.7 L244.6,412.1 L244.8,411.2 L245.0,410.2 L245.2,408.9 L245.4,407.4 L245.6,405.7 L245.8,403.7 L246.0,401.5 L246.2,399.3 L246.4,397.0 L246.6,395.1 L246.8,393.9 L247.0,395.1 L247.2,397.0 L247.4,399.3 L247.6,401.5 L247.8,403.7 L248.0,405.7 L248.2,407.4 L248.4,408.9 L248.6,410.2 L248.8,411.2 L249.0,412.1 L249.2,412.7 L249.4,413.2 L249.6,413.6 L249.8,413.9" fill="none" stroke="#111" stroke-width="1.1" stroke-dasharray="1.1,1.9"/>
<line x1="241.78" y1="414.64" x2="264.78" y2="414.64" stroke="#c8c8c8" stroke-width="0.6"/>
<rect x="266.85" y="391.39" width="22.50" height="23.25" fill="none" stroke="#e0e0e0" stroke-width="0.6"/>
<path d="M272.6,414.6 L272.6,414.3 L273.0,414.1 L273.4,413.9 L273.8,413.6 L274.2,413.1 L274.6,412.5 L275.0,411.7 L275.4,410.6 L275.8,409.4 L276.2,407.8 L276.6,406.0 L277.0,403.9 L277.4,401.7 L277.8,399.4 L278.2,397.3 L278.6,395.7 L279.0,395.2 L279.4,396.4 L279.8,398.3 L280.2,400.5 L280.6,402.8 L281.0,404.9 L281.4,406.9 L281.8,408.6 L282.2,410.0 L282.6,411.2 L283.0,412.1 L283.4,412.8 L283.8,413.4 L284.2,413.7 L284.6,414.0 L285.0,414.2 L285.0,414.6 Z" fill="#c3c7ea" stroke="#262626" stroke-width="1.05" stroke-linejoin="round"/>
<path d="M269.7,413.9 L269.9,413.6 L270.1,413.2 L270.3,412.7 L270.5,412.1 L270.7,411.2 L270.9,410.2 L271.1,408.9 L271.3,407.4 L271.5,405.7 L271.7,403.7 L271.9,401.5 L272.1,399.3 L272.3,397.0 L272.5,395.1 L272.7,393.9 L272.9,395.1 L273.1,397.0 L273.3,399.3 L273.5,401.5 L273.7,403.7 L273.9,405.7 L274.1,407.4 L274.3,408.9 L274.5,410.2 L274.7,411.2 L274.9,412.1 L275.1,412.7 L275.3,413.2 L275.5,413.6 L275.7,413.9" fill="none" stroke="#111" stroke-width="1.1" stroke-dasharray="1.1,1.9"/>
<line x1="266.60" y1="414.64" x2="289.60" y2="414.64" stroke="#c8c8c8" stroke-width="0.6"/>
<rect x="291.67" y="391.39" width="22.50" height="23.25" fill="none" stroke="#e0e0e0" stroke-width="0.6"/>
<path d="M294.6,414.6 L294.6,414.3 L295.0,414.2 L295.4,413.8 L295.8,413.4 L296.2,412.7 L296.6,411.7 L297.0,410.4 L297.4,408.7 L297.8,406.7 L298.2,404.3 L298.6,401.8 L299.0,399.5 L299.4,398.0 L299.8,398.6 L300.2,400.0 L300.6,401.6 L301.0,403.0 L301.4,404.0 L301.8,404.5 L302.2,404.7 L302.6,404.5 L303.0,404.0 L303.4,403.4 L303.8,402.8 L304.2,402.7 L304.6,402.8 L305.0,402.9 L305.4,402.8 L305.8,402.3 L306.2,401.6 L306.6,400.5 L307.0,399.0 L307.4,397.3 L307.8,395.6 L308.2,394.2 L308.6,393.6 L309.0,395.0 L309.4,397.2 L309.8,399.8 L310.2,402.3 L310.6,404.7 L311.0,406.9 L311.4,408.7 L311.8,410.2 L312.2,411.4 L312.6,412.3 L313.0,413.0 L313.4,413.5 L313.8,413.9 L314.2,414.2 L314.2,414.6 Z" fill="#d2464e" stroke="#262626" stroke-width="1.05" stroke-linejoin="round"/>
<path d="M293.3,413.9 L293.5,413.6 L293.7,413.2 L293.9,412.7 L294.1,412.1 L294.3,411.2 L294.5,410.2 L294.7,408.9 L294.9,407.4 L295.1,405.7 L295.3,403.7 L295.5,401.5 L295.7,399.3 L295.9,397.0 L296.1,395.1 L296.3,393.9 L296.5,395.1 L296.7,397.0 L296.9,399.3 L297.1,401.5 L297.3,403.7 L297.5,405.7 L297.7,407.4 L297.9,408.9 L298.1,410.2 L298.3,411.2 L298.5,412.1 L298.7,412.7 L298.9,413.2 L299.1,413.6 L299.3,413.9" fill="none" stroke="#111" stroke-width="1.1" stroke-dasharray="1.1,1.9"/>
<line x1="291.42" y1="414.64" x2="314.42" y2="414.64" stroke="#c8c8c8" stroke-width="0.6"/>
<rect x="316.49" y="391.39" width="22.50" height="23.25" fill="none" stroke="#e0e0e0" stroke-width="0.6"/>
<path d="M322.2,414.6 L322.2,414.3 L322.6,414.2 L323.0,414.0 L323.4,413.7 L323.8,413.4 L324.2,412.9 L324.6,412.2 L325.0,411.4 L325.4,410.3 L325.8,409.1 L326.2,407.5 L326.6,405.8 L327.0,403.8 L327.4,401.7 L327.8,399.5 L328.2,397.5 L328.6,395.7 L329.0,394.7 L329.4,395.3 L329.8,396.5 L330.2,398.0 L330.6,399.3 L331.0,400.4 L331.4,401.1 L331.8,401.5 L332.2,401.6 L332.6,401.7 L333.0,402.6 L333.4,403.8 L333.8,404.7 L334.2,405.2 L334.6,405.4 L335.0,405.4 L335.4,406.3 L335.8,408.0 L336.2,409.8 L336.6,411.3 L337.0,412.5 L337.4,413.3 L337.8,413.9 L338.2,414.2 L338.2,414.6 Z" fill="#de7676" stroke="#262626" stroke-width="1.05" stroke-linejoin="round"/>
<path d="M318.5,413.9 L318.7,413.6 L318.9,413.2 L319.1,412.7 L319.3,412.1 L319.5,411.2 L319.7,410.2 L319.9,408.9 L320.1,407.4 L320.3,405.7 L320.5,403.7 L320.7,401.5 L320.9,399.3 L321.1,397.0 L321.3,395.1 L321.5,393.9 L321.7,395.1 L321.9,397.0 L322.1,399.3 L322.3,401.5 L322.5,403.7 L322.7,405.7 L322.9,407.4 L323.1,408.9 L323.3,410.2 L323.5,411.2 L323.7,412.1 L323.9,412.7 L324.1,413.2 L324.3,413.6 L324.5,413.9" fill="none" stroke="#111" stroke-width="1.1" stroke-dasharray="1.1,1.9"/>
<line x1="316.24" y1="414.64" x2="339.24" y2="414.64" stroke="#c8c8c8" stroke-width="0.6"/>
<rect x="341.31" y="391.39" width="22.50" height="23.25" fill="none" stroke="#e0e0e0" stroke-width="0.6"/>
<path d="M344.7,414.6 L344.7,414.3 L345.1,414.1 L345.5,414.0 L345.9,413.8 L346.3,413.5 L346.7,413.1 L347.1,412.7 L347.5,412.2 L347.9,411.5 L348.3,410.8 L348.7,409.9 L349.1,408.8 L349.5,407.6 L349.9,406.3 L350.3,404.8 L350.7,403.2 L351.1,401.5 L351.5,399.9 L351.9,398.3 L352.3,396.8 L352.7,395.7 L353.1,395.1 L353.5,395.7 L353.9,396.8 L354.3,398.3 L354.7,399.9 L355.1,401.5 L355.5,403.2 L355.9,404.8 L356.3,406.3 L356.7,407.6 L357.1,408.8 L357.5,409.9 L357.9,410.8 L358.3,411.5 L358.7,412.2 L359.1,412.7 L359.5,413.1 L359.9,413.5 L360.3,413.8 L360.7,414.0 L361.1,414.1 L361.5,414.3 L361.5,414.6 Z" fill="#ffffff" stroke="#262626" stroke-width="1.05" stroke-linejoin="round"/>
<path d="M343.7,413.9 L343.9,413.6 L344.1,413.2 L344.3,412.7 L344.5,412.1 L344.7,411.2 L344.9,410.2 L345.1,408.9 L345.3,407.4 L345.5,405.7 L345.7,403.7 L345.9,401.5 L346.1,399.3 L346.3,397.0 L346.5,395.1 L346.7,393.9 L346.9,395.1 L347.1,397.0 L347.3,399.3 L347.5,401.5 L347.7,403.7 L347.9,405.7 L348.1,407.4 L348.3,408.9 L348.5,410.2 L348.7,411.2 L348.9,412.1 L349.1,412.7 L349.3,413.2 L349.5,413.6 L349.7,413.9" fill="none" stroke="#111" stroke-width="1.1" stroke-dasharray="1.1,1.9"/>
<line x1="341.06" y1="414.64" x2="364.06" y2="414.64" stroke="#c8c8c8" stroke-width="0.6"/>
<rect x="366.13" y="391.39" width="22.50" height="23.25" fill="none" stroke="#e0e0e0" stroke-width="0.6"/>
<path d="M381.5,414.6 L381.5,414.2 L381.9,413.8 L382.3,413.3 L382.7,412.4 L383.1,411.1 L383.5,409.4 L383.9,407.1 L384.3,404.3 L384.7,401.2 L385.1,398.1 L385.5,395.6 L385.9,395.6 L386.3,398.1 L386.7,401.2 L387.1,404.3 L387.5,407.1 L387.9,409.4 L388.3,411.1 L388.7,412.4 L388.7,414.6 Z" fill="#c3c7ea" stroke="#262626" stroke-width="1.05" stroke-linejoin="round"/>
<path d="M367.8,413.9 L368.0,413.6 L368.2,413.2 L368.4,412.7 L368.6,412.1 L368.8,411.2 L369.0,410.2 L369.2,408.9 L369.4,407.4 L369.6,405.7 L369.8,403.7 L370.0,401.5 L370.2,399.3 L370.4,397.0 L370.6,395.1 L370.8,393.9 L371.0,395.1 L371.2,397.0 L371.4,399.3 L371.6,401.5 L371.8,403.7 L372.0,405.7 L372.2,407.4 L372.4,408.9 L372.6,410.2 L372.8,411.2 L373.0,412.1 L373.2,412.7 L373.4,413.2 L373.6,413.6 L373.8,413.9" fill="none" stroke="#111" stroke-width="1.1" stroke-dasharray="1.1,1.9"/>
<line x1="365.88" y1="414.64" x2="388.88" y2="414.64" stroke="#c8c8c8" stroke-width="0.6"/>
<rect x="390.95" y="391.39" width="22.50" height="23.25" fill="none" stroke="#e0e0e0" stroke-width="0.6"/>
<path d="M395.1,414.6 L395.1,414.3 L395.5,414.2 L395.9,414.1 L396.3,413.9 L396.7,413.7 L397.1,413.4 L397.5,413.0 L397.9,412.6 L398.3,412.1 L398.7,411.5 L399.1,410.8 L399.5,410.0 L399.9,409.0 L400.3,407.9 L400.7,406.7 L401.1,405.4 L401.5,403.9 L401.9,402.4 L402.3,400.8 L402.7,399.2 L403.1,397.7 L403.5,396.3 L403.9,395.2 L404.3,394.5 L404.7,394.7 L405.1,395.7 L405.5,396.9 L405.9,398.4 L406.3,400.0 L406.7,401.6 L407.1,403.1 L407.5,404.6 L407.9,406.0 L408.3,407.3 L408.7,408.5 L409.1,409.5 L409.5,410.4 L409.9,411.2 L410.3,411.8 L410.7,412.4 L411.1,412.8 L411.5,413.2 L411.9,413.5 L412.3,413.8 L412.7,414.0 L413.1,414.1 L413.5,414.3 L413.5,414.6 Z" fill="#e8a2a2" stroke="#262626" stroke-width="1.05" stroke-linejoin="round"/>
<path d="M393.2,413.9 L393.4,413.6 L393.6,413.2 L393.8,412.7 L394.0,412.1 L394.2,411.2 L394.4,410.2 L394.6,408.9 L394.8,407.4 L395.0,405.7 L395.2,403.7 L395.4,401.5 L395.6,399.3 L395.8,397.0 L396.0,395.1 L396.2,393.9 L396.4,395.1 L396.6,397.0 L396.8,399.3 L397.0,401.5 L397.2,403.7 L397.4,405.7 L397.6,407.4 L397.8,408.9 L398.0,410.2 L398.2,411.2 L398.4,412.1 L398.6,412.7 L398.8,413.2 L399.0,413.6 L399.2,413.9" fill="none" stroke="#111" stroke-width="1.1" stroke-dasharray="1.1,1.9"/>
<line x1="390.70" y1="414.64" x2="413.70" y2="414.64" stroke="#c8c8c8" stroke-width="0.6"/>
<rect x="415.77" y="391.39" width="22.50" height="23.25" fill="none" stroke="#e0e0e0" stroke-width="0.6"/>
<path d="M417.1,414.6 L417.1,414.2 L417.5,413.9 L417.9,413.3 L418.3,412.5 L418.7,411.1 L419.1,409.0 L419.5,406.1 L419.9,402.4 L420.3,398.3 L420.7,394.3 L421.1,393.0 L421.5,394.0 L421.9,396.4 L422.3,398.6 L422.7,400.0 L423.1,400.6 L423.5,400.5 L423.9,399.8 L424.3,398.8 L424.7,398.1 L425.1,397.7 L425.5,397.2 L425.9,396.6 L426.3,395.7 L426.7,394.7 L427.1,393.6 L427.5,393.0 L427.9,393.0 L428.3,393.7 L428.7,396.1 L429.1,398.8 L429.5,401.5 L429.9,404.0 L430.3,406.3 L430.7,408.2 L431.1,409.9 L431.5,411.1 L431.9,412.1 L432.3,412.9 L432.7,413.4 L433.1,413.8 L433.5,414.1 L433.9,414.3 L433.9,414.6 Z" fill="#f3d4d4" stroke="#262626" stroke-width="1.05" stroke-linejoin="round"/>
<path d="M418.0,413.9 L418.2,413.6 L418.4,413.2 L418.6,412.7 L418.8,412.1 L419.0,411.2 L419.2,410.2 L419.4,408.9 L419.6,407.4 L419.8,405.7 L420.0,403.7 L420.2,401.5 L420.4,399.3 L420.6,397.0 L420.8,395.1 L421.0,393.9 L421.2,395.1 L421.4,397.0 L421.6,399.3 L421.8,401.5 L422.0,403.7 L422.2,405.7 L422.4,407.4 L422.6,408.9 L422.8,410.2 L423.0,411.2 L423.2,412.1 L423.4,412.7 L423.6,413.2 L423.8,413.6 L424.0,413.9" fill="none" stroke="#111" stroke-width="1.1" stroke-dasharray="1.1,1.9"/>
<line x1="415.52" y1="414.64" x2="438.52" y2="414.64" stroke="#c8c8c8" stroke-width="0.6"/>
<rect x="440.59" y="391.39" width="22.50" height="23.25" fill="none" stroke="#e0e0e0" stroke-width="0.6"/>
<path d="M441.9,414.6 L441.9,414.4 L442.3,414.2 L442.7,414.1 L443.1,413.9 L443.5,413.6 L443.9,413.2 L444.3,412.6 L444.7,411.9 L445.1,411.0 L445.5,409.9 L445.9,408.6 L446.3,407.0 L446.7,405.1 L447.1,402.9 L447.5,400.6 L447.9,398.2 L448.3,395.8 L448.7,393.7 L449.1,393.0 L449.5,393.0 L449.9,393.4 L450.3,394.9 L450.7,396.5 L451.1,398.2 L451.5,399.8 L451.9,401.2 L452.3,402.4 L452.7,403.4 L453.1,404.3 L453.5,405.2 L453.9,406.1 L454.3,406.9 L454.7,407.7 L455.1,408.4 L455.5,409.1 L455.9,409.7 L456.3,410.2 L456.7,410.7 L457.1,411.2 L457.5,411.6 L457.9,412.0 L458.3,412.4 L458.7,412.7 L459.1,413.0 L459.5,413.2 L459.9,413.5 L460.3,413.6 L460.7,413.8 L461.1,414.0 L461.5,414.1 L461.9,414.2 L462.3,414.3 L462.7,414.3 L462.7,414.6 Z" fill="#f8e4e4" stroke="#262626" stroke-width="1.05" stroke-linejoin="round"/>
<path d="M443.0,413.9 L443.2,413.6 L443.4,413.2 L443.6,412.7 L443.8,412.1 L444.0,411.2 L444.2,410.2 L444.4,408.9 L444.6,407.4 L444.8,405.7 L445.0,403.7 L445.2,401.5 L445.4,399.3 L445.6,397.0 L445.8,395.1 L446.0,393.9 L446.2,395.1 L446.4,397.0 L446.6,399.3 L446.8,401.5 L447.0,403.7 L447.2,405.7 L447.4,407.4 L447.6,408.9 L447.8,410.2 L448.0,411.2 L448.2,412.1 L448.4,412.7 L448.6,413.2 L448.8,413.6 L449.0,413.9" fill="none" stroke="#111" stroke-width="1.1" stroke-dasharray="1.1,1.9"/>
<line x1="440.34" y1="414.64" x2="463.34" y2="414.64" stroke="#c8c8c8" stroke-width="0.6"/>
<rect x="465.41" y="391.39" width="22.50" height="23.25" fill="none" stroke="#e0e0e0" stroke-width="0.6"/>
<path d="M466.8,414.6 L466.8,414.3 L467.2,414.2 L467.6,414.0 L468.0,413.6 L468.4,413.0 L468.8,411.8 L469.2,409.9 L469.6,406.7 L470.0,402.2 L470.4,396.6 L470.8,393.0 L471.2,393.0 L471.6,393.0 L472.0,396.0 L472.4,398.3 L472.8,399.5 L473.2,400.2 L473.6,401.4 L474.0,402.7 L474.4,404.0 L474.8,405.1 L475.2,406.2 L475.6,407.1 L476.0,407.8 L476.4,408.3 L476.8,408.8 L477.2,409.1 L477.6,409.5 L478.0,409.8 L478.4,410.2 L478.8,410.5 L479.2,410.8 L479.6,411.1 L480.0,411.4 L480.4,411.6 L480.8,411.9 L481.2,412.2 L481.6,412.4 L482.0,412.6 L482.4,412.8 L482.8,413.0 L483.2,413.2 L483.6,413.4 L484.0,413.6 L484.4,413.7 L484.8,413.8 L485.2,413.9 L485.6,414.0 L486.0,414.1 L486.4,414.2 L486.8,414.3 L487.2,414.3 L487.2,414.6 Z" fill="#d2464e" stroke="#262626" stroke-width="1.05" stroke-linejoin="round"/>
<path d="M467.7,413.9 L467.9,413.6 L468.1,413.2 L468.3,412.7 L468.5,412.1 L468.7,411.2 L468.9,410.2 L469.1,408.9 L469.3,407.4 L469.5,405.7 L469.7,403.7 L469.9,401.5 L470.1,399.3 L470.3,397.0 L470.5,395.1 L470.7,393.9 L470.9,395.1 L471.1,397.0 L471.3,399.3 L471.5,401.5 L471.7,403.7 L471.9,405.7 L472.1,407.4 L472.3,408.9 L472.5,410.2 L472.7,411.2 L472.9,412.1 L473.1,412.7 L473.3,413.2 L473.5,413.6 L473.7,413.9" fill="none" stroke="#111" stroke-width="1.1" stroke-dasharray="1.1,1.9"/>
<line x1="465.16" y1="414.64" x2="488.16" y2="414.64" stroke="#c8c8c8" stroke-width="0.6"/>
<rect x="490.23" y="391.39" width="22.50" height="23.25" fill="none" stroke="#e0e0e0" stroke-width="0.6"/>
<path d="M491.2,414.6 L491.2,414.4 L491.6,414.3 L492.0,414.1 L492.4,413.8 L492.8,413.3 L493.2,412.3 L493.6,410.6 L494.0,407.8 L494.4,403.7 L494.8,398.4 L495.2,393.0 L495.6,393.0 L496.0,393.0 L496.4,395.7 L496.8,398.3 L497.2,399.7 L497.6,400.4 L498.0,401.1 L498.4,402.3 L498.8,403.5 L499.2,404.7 L499.6,405.8 L500.0,406.8 L500.4,407.6 L500.8,408.2 L501.2,408.6 L501.6,409.0 L502.0,409.3 L502.4,409.6 L502.8,409.9 L503.2,410.2 L503.6,410.5 L504.0,410.8 L504.4,411.1 L504.8,411.4 L505.2,411.6 L505.6,411.9 L506.0,412.2 L506.4,412.4 L506.8,412.6 L507.2,412.8 L507.6,413.0 L508.0,413.2 L508.4,413.4 L508.8,413.6 L509.2,413.7 L509.6,413.8 L510.0,413.9 L510.4,414.0 L510.8,414.1 L511.2,414.2 L511.6,414.3 L512.0,414.3 L512.0,414.6 Z" fill="#d2464e" stroke="#262626" stroke-width="1.05" stroke-linejoin="round"/>
<path d="M491.8,413.9 L492.0,413.6 L492.2,413.2 L492.4,412.7 L492.6,412.1 L492.8,411.2 L493.0,410.2 L493.2,408.9 L493.4,407.4 L493.6,405.7 L493.8,403.7 L494.0,401.5 L494.2,399.3 L494.4,397.0 L494.6,395.1 L494.8,393.9 L495.0,395.1 L495.2,397.0 L495.4,399.3 L495.6,401.5 L495.8,403.7 L496.0,405.7 L496.2,407.4 L496.4,408.9 L496.6,410.2 L496.8,411.2 L497.0,412.1 L497.2,412.7 L497.4,413.2 L497.6,413.6 L497.8,413.9" fill="none" stroke="#111" stroke-width="1.1" stroke-dasharray="1.1,1.9"/>
<line x1="489.98" y1="414.64" x2="512.98" y2="414.64" stroke="#c8c8c8" stroke-width="0.6"/>
<line x1="18.4" y1="416.2" x2="511" y2="416.2" stroke="#9a9a9a" stroke-width="1.3"/>
<path d="M508.5,414.8 L512.5,416.2 L508.5,417.6 Z" fill="#333"/>
<text x="261.4" y="423.2" text-anchor="middle" style="font-family:'Liberation Sans',sans-serif;font-size:6.1px" fill="#111">Fluorescence intensity</text>
<rect x="0.6" y="0.6" width="518.8" height="438.8" fill="none" stroke="#000" stroke-width="1.2"/>
</svg></body></html>
